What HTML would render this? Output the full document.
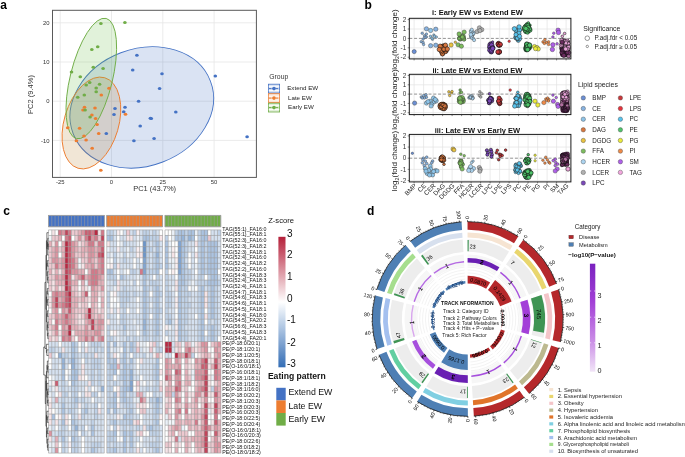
<!DOCTYPE html>
<html><head><meta charset="utf-8"><style>html,body{margin:0;padding:0;background:#fff;width:685px;height:457px;overflow:hidden}svg{display:block;will-change:transform}text{font-family:"Liberation Sans",sans-serif}</style></head><body>
<svg width="685" height="457" viewBox="0 0 685 457" font-family="Liberation Sans, sans-serif">
<rect width="685" height="457" fill="#fff"/>
<text x="0.30" y="8.90" font-size="12" text-anchor="start" font-weight="bold" fill="#000">a</text>
<text x="364.50" y="9.10" font-size="12" text-anchor="start" font-weight="bold" fill="#000">b</text>
<text x="3.30" y="214.80" font-size="12" text-anchor="start" font-weight="bold" fill="#000">c</text>
<text x="367.00" y="215.00" font-size="12" text-anchor="start" font-weight="bold" fill="#000">d</text>
<rect x="52.5" y="10.3" width="203.89999999999998" height="167.1" fill="#fff"/>
<line x1="60.20" y1="10.3" x2="60.20" y2="177.4" stroke="#e6e6e6" stroke-width="0.8"/>
<line x1="111.50" y1="10.3" x2="111.50" y2="177.4" stroke="#e6e6e6" stroke-width="0.8"/>
<line x1="162.80" y1="10.3" x2="162.80" y2="177.4" stroke="#e6e6e6" stroke-width="0.8"/>
<line x1="214.10" y1="10.3" x2="214.10" y2="177.4" stroke="#e6e6e6" stroke-width="0.8"/>
<line x1="52.5" y1="22.80" x2="256.4" y2="22.80" stroke="#e6e6e6" stroke-width="0.8"/>
<line x1="52.5" y1="62.00" x2="256.4" y2="62.00" stroke="#e6e6e6" stroke-width="0.8"/>
<line x1="52.5" y1="101.20" x2="256.4" y2="101.20" stroke="#e6e6e6" stroke-width="0.8"/>
<line x1="52.5" y1="140.40" x2="256.4" y2="140.40" stroke="#e6e6e6" stroke-width="0.8"/>
<ellipse cx="141.8" cy="107.4" rx="73.5" ry="58.5" transform="rotate(-21 141.8 107.4)" fill="#4472c4" fill-opacity="0.2" stroke="#4472c4" stroke-width="0.9"/>
<ellipse cx="91.4" cy="123" rx="27.3" ry="47.2" transform="rotate(16.4 91.4 123)" fill="#b98232" fill-opacity="0.2" stroke="#ed7d31" stroke-width="0.9"/>
<ellipse cx="91.3" cy="78.5" rx="21.1" ry="61.9" transform="rotate(13.9 91.3 78.5)" fill="#69be46" fill-opacity="0.2" stroke="#70ad47" stroke-width="0.9"/>
<ellipse cx="136.9" cy="55.2" rx="1.8" ry="1.5" fill="#4472c4"/>
<ellipse cx="132.7" cy="70" rx="1.8" ry="1.5" fill="#4472c4"/>
<ellipse cx="138.6" cy="101.2" rx="1.8" ry="1.5" fill="#4472c4"/>
<ellipse cx="115" cy="108.6" rx="1.8" ry="1.5" fill="#4472c4"/>
<ellipse cx="125" cy="107.2" rx="1.8" ry="1.5" fill="#4472c4"/>
<ellipse cx="123.7" cy="111.7" rx="1.8" ry="1.5" fill="#4472c4"/>
<ellipse cx="114" cy="114.6" rx="1.8" ry="1.5" fill="#4472c4"/>
<ellipse cx="150.4" cy="118.3" rx="1.8" ry="1.5" fill="#4472c4"/>
<ellipse cx="140.2" cy="126.1" rx="1.8" ry="1.5" fill="#4472c4"/>
<ellipse cx="106.3" cy="133.5" rx="1.8" ry="1.5" fill="#4472c4"/>
<ellipse cx="133.9" cy="140.8" rx="1.8" ry="1.5" fill="#4472c4"/>
<ellipse cx="162" cy="73.7" rx="1.8" ry="1.5" fill="#4472c4"/>
<ellipse cx="159.6" cy="88.4" rx="1.8" ry="1.5" fill="#4472c4"/>
<ellipse cx="175.8" cy="111.9" rx="1.8" ry="1.5" fill="#4472c4"/>
<ellipse cx="151.3" cy="118.4" rx="1.8" ry="1.5" fill="#4472c4"/>
<ellipse cx="154.1" cy="138.6" rx="1.8" ry="1.5" fill="#4472c4"/>
<ellipse cx="215.3" cy="76.1" rx="1.8" ry="1.5" fill="#4472c4"/>
<ellipse cx="247.1" cy="136.7" rx="1.8" ry="1.5" fill="#4472c4"/>
<ellipse cx="109" cy="88.3" rx="1.8" ry="1.5" fill="#ed7d31"/>
<ellipse cx="101.3" cy="94.9" rx="1.8" ry="1.5" fill="#ed7d31"/>
<ellipse cx="84.5" cy="107.2" rx="1.8" ry="1.5" fill="#ed7d31"/>
<ellipse cx="83" cy="109.9" rx="1.8" ry="1.5" fill="#ed7d31"/>
<ellipse cx="95" cy="108" rx="1.8" ry="1.5" fill="#ed7d31"/>
<ellipse cx="91.9" cy="115.1" rx="1.8" ry="1.5" fill="#ed7d31"/>
<ellipse cx="95.6" cy="118.5" rx="1.8" ry="1.5" fill="#ed7d31"/>
<ellipse cx="97.1" cy="124.6" rx="1.8" ry="1.5" fill="#ed7d31"/>
<ellipse cx="67.7" cy="127.7" rx="1.8" ry="1.5" fill="#ed7d31"/>
<ellipse cx="79.6" cy="128.2" rx="1.8" ry="1.5" fill="#ed7d31"/>
<ellipse cx="98.7" cy="133.5" rx="1.8" ry="1.5" fill="#ed7d31"/>
<ellipse cx="84" cy="136.1" rx="1.8" ry="1.5" fill="#ed7d31"/>
<ellipse cx="76.4" cy="140.8" rx="1.8" ry="1.5" fill="#ed7d31"/>
<ellipse cx="86.1" cy="140" rx="1.8" ry="1.5" fill="#ed7d31"/>
<ellipse cx="92.2" cy="148.2" rx="1.8" ry="1.5" fill="#ed7d31"/>
<ellipse cx="100.8" cy="170.2" rx="1.8" ry="1.5" fill="#ed7d31"/>
<ellipse cx="125.5" cy="114.3" rx="1.8" ry="1.5" fill="#ed7d31"/>
<ellipse cx="100.9" cy="23.6" rx="1.8" ry="1.5" fill="#70ad47"/>
<ellipse cx="124.9" cy="22.5" rx="1.8" ry="1.5" fill="#70ad47"/>
<ellipse cx="91.8" cy="49.4" rx="1.8" ry="1.5" fill="#70ad47"/>
<ellipse cx="97.7" cy="46.8" rx="1.8" ry="1.5" fill="#70ad47"/>
<ellipse cx="93.3" cy="67.2" rx="1.8" ry="1.5" fill="#70ad47"/>
<ellipse cx="103.1" cy="68.6" rx="1.8" ry="1.5" fill="#70ad47"/>
<ellipse cx="71.5" cy="71.9" rx="1.8" ry="1.5" fill="#70ad47"/>
<ellipse cx="80.3" cy="76.7" rx="1.8" ry="1.5" fill="#70ad47"/>
<ellipse cx="89.7" cy="82.5" rx="1.8" ry="1.5" fill="#70ad47"/>
<ellipse cx="86.2" cy="85.1" rx="1.8" ry="1.5" fill="#70ad47"/>
<ellipse cx="99.6" cy="84.3" rx="1.8" ry="1.5" fill="#70ad47"/>
<ellipse cx="96.2" cy="88.1" rx="1.8" ry="1.5" fill="#70ad47"/>
<ellipse cx="96.2" cy="91.8" rx="1.8" ry="1.5" fill="#70ad47"/>
<ellipse cx="84.3" cy="94.9" rx="1.8" ry="1.5" fill="#70ad47"/>
<ellipse cx="77.7" cy="97.3" rx="1.8" ry="1.5" fill="#70ad47"/>
<ellipse cx="85.1" cy="109.9" rx="1.8" ry="1.5" fill="#70ad47"/>
<ellipse cx="90.1" cy="117" rx="1.8" ry="1.5" fill="#70ad47"/>
<rect x="52.5" y="10.3" width="203.89999999999998" height="167.1" fill="none" stroke="#595959" stroke-width="1"/>
<text x="60.20" y="184.10" font-size="5.9" text-anchor="middle" fill="#333">-25</text>
<text x="111.50" y="184.10" font-size="5.9" text-anchor="middle" fill="#333">0</text>
<text x="162.80" y="184.10" font-size="5.9" text-anchor="middle" fill="#333">25</text>
<text x="214.10" y="184.10" font-size="5.9" text-anchor="middle" fill="#333">50</text>
<text x="49.60" y="24.90" font-size="5.9" text-anchor="end" fill="#333">20</text>
<text x="49.60" y="64.10" font-size="5.9" text-anchor="end" fill="#333">10</text>
<text x="49.60" y="103.30" font-size="5.9" text-anchor="end" fill="#333">0</text>
<text x="49.60" y="142.50" font-size="5.9" text-anchor="end" fill="#333">-10</text>
<text x="154.60" y="190.60" font-size="7.5" text-anchor="middle" fill="#333">PC1 (43.7%)</text>
<text x="33.40" y="94.50" font-size="7.5" text-anchor="middle" fill="#333" transform="rotate(-90 33.40 94.50)">PC2 (9.4%)</text>
<text x="269.30" y="79.30" font-size="6.8" text-anchor="start" fill="#333">Group</text>
<rect x="268.4" y="84.20" width="11.2" height="8.8" fill="#4472c4" fill-opacity="0.2" stroke="#4472c4" stroke-width="0.8"/>
<line x1="268.8" y1="86.70" x2="279.2" y2="86.70" stroke="#fff" stroke-width="0.9"/>
<line x1="268.8" y1="90.50" x2="279.2" y2="90.50" stroke="#fff" stroke-width="0.9"/>
<line x1="269" y1="88.60" x2="279" y2="88.60" stroke="#4472c4" stroke-width="1.0" stroke-dasharray="2.6 0.7"/>
<circle cx="274" cy="88.60" r="1.8" fill="#4472c4"/>
<text x="287.20" y="90.00" font-size="6.2" text-anchor="start" fill="#222">Extend EW</text>
<rect x="268.4" y="93.70" width="11.2" height="8.8" fill="#ed7d31" fill-opacity="0.2" stroke="#ed7d31" stroke-width="0.8"/>
<line x1="268.8" y1="96.20" x2="279.2" y2="96.20" stroke="#fff" stroke-width="0.9"/>
<line x1="268.8" y1="100.00" x2="279.2" y2="100.00" stroke="#fff" stroke-width="0.9"/>
<line x1="269" y1="98.10" x2="279" y2="98.10" stroke="#ed7d31" stroke-width="1.0" stroke-dasharray="2.6 0.7"/>
<circle cx="274" cy="98.10" r="1.8" fill="#ed7d31"/>
<text x="288.00" y="99.50" font-size="6.2" text-anchor="start" fill="#222">Late EW</text>
<rect x="268.4" y="103.20" width="11.2" height="8.8" fill="#70ad47" fill-opacity="0.2" stroke="#70ad47" stroke-width="0.8"/>
<line x1="268.8" y1="105.70" x2="279.2" y2="105.70" stroke="#fff" stroke-width="0.9"/>
<line x1="268.8" y1="109.50" x2="279.2" y2="109.50" stroke="#fff" stroke-width="0.9"/>
<line x1="269" y1="107.60" x2="279" y2="107.60" stroke="#70ad47" stroke-width="1.0" stroke-dasharray="2.6 0.7"/>
<circle cx="274" cy="107.60" r="1.8" fill="#70ad47"/>
<text x="288.00" y="109.00" font-size="6.2" text-anchor="start" fill="#222">Early EW</text>
<rect x="409.3" y="18.3" width="161.60" height="40.60" fill="#fff"/>
<line x1="414.10" y1="18.3" x2="414.10" y2="58.9" stroke="#e3e3e3" stroke-width="0.7"/>
<line x1="423.60" y1="18.3" x2="423.60" y2="58.9" stroke="#e3e3e3" stroke-width="0.7"/>
<line x1="433.10" y1="18.3" x2="433.10" y2="58.9" stroke="#e3e3e3" stroke-width="0.7"/>
<line x1="442.60" y1="18.3" x2="442.60" y2="58.9" stroke="#e3e3e3" stroke-width="0.7"/>
<line x1="452.10" y1="18.3" x2="452.10" y2="58.9" stroke="#e3e3e3" stroke-width="0.7"/>
<line x1="461.60" y1="18.3" x2="461.60" y2="58.9" stroke="#e3e3e3" stroke-width="0.7"/>
<line x1="471.10" y1="18.3" x2="471.10" y2="58.9" stroke="#e3e3e3" stroke-width="0.7"/>
<line x1="480.60" y1="18.3" x2="480.60" y2="58.9" stroke="#e3e3e3" stroke-width="0.7"/>
<line x1="490.10" y1="18.3" x2="490.10" y2="58.9" stroke="#e3e3e3" stroke-width="0.7"/>
<line x1="499.60" y1="18.3" x2="499.60" y2="58.9" stroke="#e3e3e3" stroke-width="0.7"/>
<line x1="509.10" y1="18.3" x2="509.10" y2="58.9" stroke="#e3e3e3" stroke-width="0.7"/>
<line x1="518.60" y1="18.3" x2="518.60" y2="58.9" stroke="#e3e3e3" stroke-width="0.7"/>
<line x1="528.10" y1="18.3" x2="528.10" y2="58.9" stroke="#e3e3e3" stroke-width="0.7"/>
<line x1="537.60" y1="18.3" x2="537.60" y2="58.9" stroke="#e3e3e3" stroke-width="0.7"/>
<line x1="547.10" y1="18.3" x2="547.10" y2="58.9" stroke="#e3e3e3" stroke-width="0.7"/>
<line x1="556.60" y1="18.3" x2="556.60" y2="58.9" stroke="#e3e3e3" stroke-width="0.7"/>
<line x1="566.10" y1="18.3" x2="566.10" y2="58.9" stroke="#e3e3e3" stroke-width="0.7"/>
<line x1="409.3" y1="19.60" x2="570.9" y2="19.60" stroke="#e3e3e3" stroke-width="0.7"/>
<line x1="409.3" y1="29.00" x2="570.9" y2="29.00" stroke="#e3e3e3" stroke-width="0.7"/>
<line x1="409.3" y1="47.80" x2="570.9" y2="47.80" stroke="#e3e3e3" stroke-width="0.7"/>
<line x1="409.3" y1="57.20" x2="570.9" y2="57.20" stroke="#e3e3e3" stroke-width="0.7"/>
<line x1="409.3" y1="38.40" x2="570.9" y2="38.40" stroke="#777" stroke-width="0.8" stroke-dasharray="3 1.8"/>
<circle cx="414.20" cy="51.60" r="2.1" fill="#6b8fd4" stroke="#333" stroke-width="0.4"/>
<circle cx="422.20" cy="33.20" r="1.25" fill="#87b2e0" stroke="#333" stroke-width="0.4"/>
<circle cx="426.40" cy="34.10" r="1.25" fill="#87b2e0" stroke="#333" stroke-width="0.4"/>
<circle cx="424.50" cy="35.80" r="1.25" fill="#87b2e0" stroke="#333" stroke-width="0.4"/>
<circle cx="426.40" cy="37.00" r="1.25" fill="#87b2e0" stroke="#333" stroke-width="0.4"/>
<circle cx="425.00" cy="37.20" r="1.25" fill="#87b2e0" stroke="#333" stroke-width="0.4"/>
<circle cx="423.10" cy="39.10" r="1.25" fill="#87b2e0" stroke="#333" stroke-width="0.4"/>
<circle cx="421.20" cy="41.70" r="1.25" fill="#87b2e0" stroke="#333" stroke-width="0.4"/>
<circle cx="423.10" cy="42.40" r="1.25" fill="#87b2e0" stroke="#333" stroke-width="0.4"/>
<circle cx="423.60" cy="44.50" r="1.25" fill="#87b2e0" stroke="#333" stroke-width="0.4"/>
<circle cx="430.50" cy="36.30" r="1.25" fill="#8ec4e8" stroke="#333" stroke-width="0.4"/>
<circle cx="433.90" cy="35.10" r="1.25" fill="#8ec4e8" stroke="#333" stroke-width="0.4"/>
<circle cx="436.30" cy="37.00" r="1.25" fill="#8ec4e8" stroke="#333" stroke-width="0.4"/>
<circle cx="432.50" cy="39.30" r="1.25" fill="#8ec4e8" stroke="#333" stroke-width="0.4"/>
<circle cx="432.00" cy="38.20" r="1.25" fill="#8ec4e8" stroke="#333" stroke-width="0.4"/>
<circle cx="434.40" cy="36.30" r="1.25" fill="#8ec4e8" stroke="#333" stroke-width="0.4"/>
<circle cx="426.40" cy="28.80" r="2.15" fill="#87b2e0" stroke="#333" stroke-width="0.4"/>
<circle cx="435.80" cy="29.20" r="2.15" fill="#87b2e0" stroke="#333" stroke-width="0.4"/>
<circle cx="430.60" cy="45.70" r="2.15" fill="#87b2e0" stroke="#333" stroke-width="0.4"/>
<circle cx="435.80" cy="45.20" r="2.15" fill="#87b2e0" stroke="#333" stroke-width="0.4"/>
<circle cx="430.60" cy="30.50" r="2.15" fill="#8ec4e8" stroke="#333" stroke-width="0.4"/>
<circle cx="442.95" cy="50.50" r="1.35" fill="#d8773f" stroke="#111" stroke-width="0.55"/>
<circle cx="443.10" cy="49.97" r="2.1" fill="#d8773f" stroke="#111" stroke-width="0.55"/>
<circle cx="441.47" cy="50.00" r="2.1" fill="#d8773f" stroke="#111" stroke-width="0.55"/>
<circle cx="442.16" cy="46.38" r="2.1" fill="#d8773f" stroke="#111" stroke-width="0.55"/>
<circle cx="444.71" cy="45.27" r="1.35" fill="#d8773f" stroke="#111" stroke-width="0.55"/>
<circle cx="446.00" cy="51.22" r="2.1" fill="#d8773f" stroke="#111" stroke-width="0.55"/>
<circle cx="443.46" cy="46.11" r="2.1" fill="#d8773f" stroke="#111" stroke-width="0.55"/>
<circle cx="443.09" cy="49.39" r="2.1" fill="#d8773f" stroke="#111" stroke-width="0.55"/>
<circle cx="443.41" cy="51.11" r="2.1" fill="#d8773f" stroke="#111" stroke-width="0.55"/>
<circle cx="444.24" cy="49.53" r="2.1" fill="#d8773f" stroke="#111" stroke-width="0.55"/>
<circle cx="445.27" cy="51.69" r="2.1" fill="#d8773f" stroke="#111" stroke-width="0.55"/>
<circle cx="441.73" cy="48.09" r="2.1" fill="#d8773f" stroke="#111" stroke-width="0.55"/>
<circle cx="444.84" cy="49.04" r="2.1" fill="#d8773f" stroke="#111" stroke-width="0.55"/>
<circle cx="442.64" cy="53.84" r="2.1" fill="#d8773f" stroke="#111" stroke-width="0.55"/>
<circle cx="446.29" cy="49.60" r="1.35" fill="#d8773f" stroke="#111" stroke-width="0.55"/>
<circle cx="442.71" cy="46.23" r="2.1" fill="#d8773f" stroke="#111" stroke-width="0.55"/>
<circle cx="444.92" cy="47.92" r="2.1" fill="#d8773f" stroke="#111" stroke-width="0.55"/>
<circle cx="442.33" cy="53.89" r="2.1" fill="#d8773f" stroke="#111" stroke-width="0.55"/>
<circle cx="441.08" cy="47.72" r="2.1" fill="#d8773f" stroke="#111" stroke-width="0.55"/>
<circle cx="441.43" cy="50.41" r="2.1" fill="#d8773f" stroke="#111" stroke-width="0.55"/>
<circle cx="441.51" cy="51.89" r="2.1" fill="#d8773f" stroke="#111" stroke-width="0.55"/>
<circle cx="444.13" cy="46.60" r="2.1" fill="#d8773f" stroke="#111" stroke-width="0.55"/>
<circle cx="441.20" cy="47.57" r="1.35" fill="#d8773f" stroke="#111" stroke-width="0.55"/>
<circle cx="445.06" cy="48.22" r="2.1" fill="#d8773f" stroke="#111" stroke-width="0.55"/>
<circle cx="441.62" cy="48.99" r="2.1" fill="#d8773f" stroke="#111" stroke-width="0.55"/>
<circle cx="444.34" cy="45.86" r="1.35" fill="#d8773f" stroke="#111" stroke-width="0.55"/>
<circle cx="441.64" cy="47.82" r="2.1" fill="#d8773f" stroke="#111" stroke-width="0.55"/>
<circle cx="442.31" cy="48.15" r="2.1" fill="#d8773f" stroke="#111" stroke-width="0.55"/>
<circle cx="440.92" cy="50.61" r="2.1" fill="#d8773f" stroke="#111" stroke-width="0.55"/>
<circle cx="443.89" cy="48.80" r="2.1" fill="#d8773f" stroke="#111" stroke-width="0.55"/>
<circle cx="445.96" cy="49.76" r="2.1" fill="#d8773f" stroke="#111" stroke-width="0.55"/>
<circle cx="445.43" cy="47.17" r="2.1" fill="#d8773f" stroke="#111" stroke-width="0.55"/>
<circle cx="441.85" cy="47.23" r="2.1" fill="#d8773f" stroke="#111" stroke-width="0.55"/>
<circle cx="443.90" cy="49.22" r="2.1" fill="#d8773f" stroke="#111" stroke-width="0.55"/>
<circle cx="440.20" cy="46.20" r="2.2" fill="#d8773f" stroke="#111" stroke-width="0.55"/>
<circle cx="445.40" cy="45.20" r="2.2" fill="#d8773f" stroke="#111" stroke-width="0.55"/>
<circle cx="447.30" cy="49.00" r="2.2" fill="#d8773f" stroke="#111" stroke-width="0.55"/>
<circle cx="439.30" cy="49.50" r="2.2" fill="#d8773f" stroke="#111" stroke-width="0.55"/>
<circle cx="451.10" cy="45.00" r="2.15" fill="#e8c240" stroke="#333" stroke-width="0.4"/>
<circle cx="455.30" cy="42.20" r="1.25" fill="#e8c240" stroke="#333" stroke-width="0.4"/>
<circle cx="460.36" cy="39.09" r="1.9" fill="#7cbc5e" stroke="#333" stroke-width="0.4"/>
<circle cx="463.47" cy="38.07" r="1.9" fill="#7cbc5e" stroke="#333" stroke-width="0.4"/>
<circle cx="460.03" cy="39.24" r="1.9" fill="#7cbc5e" stroke="#333" stroke-width="0.4"/>
<circle cx="460.01" cy="37.78" r="1.35" fill="#7cbc5e" stroke="#333" stroke-width="0.4"/>
<circle cx="462.48" cy="34.82" r="1.35" fill="#7cbc5e" stroke="#333" stroke-width="0.4"/>
<circle cx="460.53" cy="36.63" r="1.9" fill="#7cbc5e" stroke="#333" stroke-width="0.4"/>
<circle cx="459.68" cy="35.76" r="1.35" fill="#7cbc5e" stroke="#333" stroke-width="0.4"/>
<circle cx="459.39" cy="35.69" r="1.35" fill="#7cbc5e" stroke="#333" stroke-width="0.4"/>
<circle cx="462.76" cy="37.95" r="1.9" fill="#7cbc5e" stroke="#333" stroke-width="0.4"/>
<circle cx="464.38" cy="39.28" r="1.35" fill="#7cbc5e" stroke="#333" stroke-width="0.4"/>
<circle cx="459.21" cy="38.44" r="1.9" fill="#7cbc5e" stroke="#333" stroke-width="0.4"/>
<circle cx="463.23" cy="35.23" r="1.35" fill="#7cbc5e" stroke="#333" stroke-width="0.4"/>
<circle cx="459.03" cy="37.64" r="1.35" fill="#7cbc5e" stroke="#333" stroke-width="0.4"/>
<circle cx="464.31" cy="39.66" r="1.35" fill="#7cbc5e" stroke="#333" stroke-width="0.4"/>
<circle cx="460.80" cy="39.11" r="1.35" fill="#7cbc5e" stroke="#333" stroke-width="0.4"/>
<circle cx="464.13" cy="36.27" r="1.35" fill="#7cbc5e" stroke="#333" stroke-width="0.4"/>
<circle cx="464.08" cy="37.92" r="1.35" fill="#7cbc5e" stroke="#333" stroke-width="0.4"/>
<circle cx="461.00" cy="38.03" r="1.35" fill="#7cbc5e" stroke="#333" stroke-width="0.4"/>
<circle cx="459.06" cy="38.63" r="1.35" fill="#7cbc5e" stroke="#333" stroke-width="0.4"/>
<circle cx="463.76" cy="39.32" r="1.9" fill="#7cbc5e" stroke="#333" stroke-width="0.4"/>
<circle cx="463.00" cy="37.92" r="1.9" fill="#7cbc5e" stroke="#333" stroke-width="0.4"/>
<circle cx="462.29" cy="36.97" r="1.9" fill="#7cbc5e" stroke="#333" stroke-width="0.4"/>
<circle cx="458.10" cy="44.80" r="2.15" fill="#7cbc5e" stroke="#333" stroke-width="0.4"/>
<circle cx="461.40" cy="46.20" r="2.15" fill="#7cbc5e" stroke="#333" stroke-width="0.4"/>
<circle cx="459.10" cy="34.00" r="2.15" fill="#7cbc5e" stroke="#333" stroke-width="0.4"/>
<circle cx="464.20" cy="32.10" r="2.15" fill="#7cbc5e" stroke="#333" stroke-width="0.4"/>
<circle cx="472.85" cy="34.97" r="1.35" fill="#acd4f0" stroke="#333" stroke-width="0.4"/>
<circle cx="473.35" cy="32.75" r="1.9" fill="#acd4f0" stroke="#333" stroke-width="0.4"/>
<circle cx="471.36" cy="36.64" r="1.9" fill="#acd4f0" stroke="#333" stroke-width="0.4"/>
<circle cx="472.69" cy="34.40" r="1.35" fill="#acd4f0" stroke="#333" stroke-width="0.4"/>
<circle cx="471.45" cy="36.53" r="1.9" fill="#acd4f0" stroke="#333" stroke-width="0.4"/>
<circle cx="471.70" cy="38.15" r="1.35" fill="#acd4f0" stroke="#333" stroke-width="0.4"/>
<circle cx="473.64" cy="33.81" r="1.35" fill="#acd4f0" stroke="#333" stroke-width="0.4"/>
<circle cx="471.41" cy="31.65" r="1.9" fill="#acd4f0" stroke="#333" stroke-width="0.4"/>
<circle cx="473.45" cy="38.59" r="1.35" fill="#acd4f0" stroke="#333" stroke-width="0.4"/>
<circle cx="470.94" cy="34.55" r="1.9" fill="#acd4f0" stroke="#333" stroke-width="0.4"/>
<circle cx="470.80" cy="31.10" r="1.6" fill="#acd4f0" stroke="#333" stroke-width="0.4"/>
<circle cx="471.80" cy="29.70" r="1.6" fill="#acd4f0" stroke="#333" stroke-width="0.4"/>
<circle cx="474.10" cy="40.10" r="1.6" fill="#acd4f0" stroke="#333" stroke-width="0.4"/>
<circle cx="477.10" cy="31.60" r="2.1" fill="#b0b0b0" stroke="#333" stroke-width="0.4"/>
<circle cx="479.40" cy="27.80" r="2.1" fill="#b0b0b0" stroke="#333" stroke-width="0.4"/>
<circle cx="481.80" cy="29.70" r="2.1" fill="#b0b0b0" stroke="#333" stroke-width="0.4"/>
<circle cx="479.90" cy="30.60" r="2.1" fill="#b0b0b0" stroke="#333" stroke-width="0.4"/>
<circle cx="489.81" cy="47.38" r="2.2" fill="#7a48b8" stroke="#111" stroke-width="0.55"/>
<circle cx="490.88" cy="46.51" r="2.2" fill="#7a48b8" stroke="#111" stroke-width="0.55"/>
<circle cx="492.73" cy="47.73" r="2.2" fill="#7a48b8" stroke="#111" stroke-width="0.55"/>
<circle cx="491.17" cy="46.45" r="2.2" fill="#7a48b8" stroke="#111" stroke-width="0.55"/>
<circle cx="490.73" cy="43.92" r="2.2" fill="#7a48b8" stroke="#111" stroke-width="0.55"/>
<circle cx="489.90" cy="44.95" r="2.2" fill="#7a48b8" stroke="#111" stroke-width="0.55"/>
<circle cx="491.39" cy="47.67" r="2.2" fill="#7a48b8" stroke="#111" stroke-width="0.55"/>
<circle cx="491.75" cy="51.41" r="1.35" fill="#7a48b8" stroke="#111" stroke-width="0.55"/>
<circle cx="491.60" cy="45.47" r="2.2" fill="#7a48b8" stroke="#111" stroke-width="0.55"/>
<circle cx="490.79" cy="50.06" r="2.2" fill="#7a48b8" stroke="#111" stroke-width="0.55"/>
<circle cx="490.03" cy="46.78" r="2.2" fill="#7a48b8" stroke="#111" stroke-width="0.55"/>
<circle cx="490.98" cy="49.17" r="2.2" fill="#7a48b8" stroke="#111" stroke-width="0.55"/>
<circle cx="490.31" cy="51.24" r="1.35" fill="#7a48b8" stroke="#111" stroke-width="0.55"/>
<circle cx="491.75" cy="44.86" r="2.2" fill="#7a48b8" stroke="#111" stroke-width="0.55"/>
<circle cx="491.38" cy="51.80" r="2.2" fill="#7a48b8" stroke="#111" stroke-width="0.55"/>
<circle cx="491.16" cy="51.53" r="2.2" fill="#7a48b8" stroke="#111" stroke-width="0.55"/>
<circle cx="492.59" cy="47.83" r="2.2" fill="#7a48b8" stroke="#111" stroke-width="0.55"/>
<circle cx="489.78" cy="50.13" r="2.2" fill="#7a48b8" stroke="#111" stroke-width="0.55"/>
<circle cx="491.44" cy="50.09" r="2.2" fill="#7a48b8" stroke="#111" stroke-width="0.55"/>
<circle cx="492.71" cy="48.48" r="2.2" fill="#7a48b8" stroke="#111" stroke-width="0.55"/>
<circle cx="492.60" cy="42.00" r="1.2" fill="#7a48b8" stroke="#111" stroke-width="0.55"/>
<circle cx="498.52" cy="45.19" r="2.1" fill="#c8383a" stroke="#111" stroke-width="0.55"/>
<circle cx="498.62" cy="43.29" r="2.1" fill="#c8383a" stroke="#111" stroke-width="0.55"/>
<circle cx="499.33" cy="44.87" r="2.1" fill="#c8383a" stroke="#111" stroke-width="0.55"/>
<circle cx="498.01" cy="43.87" r="2.1" fill="#c8383a" stroke="#111" stroke-width="0.55"/>
<circle cx="499.21" cy="44.76" r="2.1" fill="#c8383a" stroke="#111" stroke-width="0.55"/>
<circle cx="499.81" cy="45.28" r="2.1" fill="#c8383a" stroke="#111" stroke-width="0.55"/>
<circle cx="498.17" cy="44.31" r="2.1" fill="#c8383a" stroke="#111" stroke-width="0.55"/>
<circle cx="499.95" cy="44.57" r="2.1" fill="#c8383a" stroke="#111" stroke-width="0.55"/>
<circle cx="500.35" cy="44.39" r="2.1" fill="#c8383a" stroke="#111" stroke-width="0.55"/>
<circle cx="498.56" cy="45.56" r="1.35" fill="#c8383a" stroke="#111" stroke-width="0.55"/>
<circle cx="498.29" cy="52.46" r="2.1" fill="#c8383a" stroke="#111" stroke-width="0.55"/>
<circle cx="499.33" cy="52.02" r="2.1" fill="#c8383a" stroke="#111" stroke-width="0.55"/>
<circle cx="499.37" cy="51.91" r="2.1" fill="#c8383a" stroke="#111" stroke-width="0.55"/>
<circle cx="499.30" cy="51.74" r="2.1" fill="#c8383a" stroke="#111" stroke-width="0.55"/>
<circle cx="499.46" cy="51.89" r="2.1" fill="#c8383a" stroke="#111" stroke-width="0.55"/>
<circle cx="497.82" cy="51.96" r="2.1" fill="#c8383a" stroke="#111" stroke-width="0.55"/>
<circle cx="509.20" cy="41.30" r="1.25" fill="#e5343c" stroke="#333" stroke-width="0.4"/>
<circle cx="516.50" cy="34.13" r="2.1" fill="#58c3ec" stroke="#333" stroke-width="0.55"/>
<circle cx="517.26" cy="39.33" r="1.35" fill="#58c3ec" stroke="#333" stroke-width="0.55"/>
<circle cx="517.58" cy="31.98" r="2.1" fill="#58c3ec" stroke="#333" stroke-width="0.55"/>
<circle cx="518.31" cy="40.37" r="2.1" fill="#58c3ec" stroke="#333" stroke-width="0.55"/>
<circle cx="515.65" cy="30.33" r="1.35" fill="#58c3ec" stroke="#333" stroke-width="0.55"/>
<circle cx="516.51" cy="32.29" r="1.35" fill="#58c3ec" stroke="#333" stroke-width="0.55"/>
<circle cx="515.65" cy="37.69" r="2.1" fill="#58c3ec" stroke="#333" stroke-width="0.55"/>
<circle cx="517.75" cy="31.06" r="2.1" fill="#58c3ec" stroke="#333" stroke-width="0.55"/>
<circle cx="517.86" cy="33.63" r="2.1" fill="#58c3ec" stroke="#333" stroke-width="0.55"/>
<circle cx="517.25" cy="34.90" r="2.1" fill="#58c3ec" stroke="#333" stroke-width="0.55"/>
<circle cx="515.72" cy="36.51" r="1.35" fill="#58c3ec" stroke="#333" stroke-width="0.55"/>
<circle cx="517.90" cy="39.87" r="1.35" fill="#58c3ec" stroke="#333" stroke-width="0.55"/>
<circle cx="520.09" cy="30.41" r="1.35" fill="#58c3ec" stroke="#333" stroke-width="0.55"/>
<circle cx="516.47" cy="31.67" r="1.35" fill="#58c3ec" stroke="#333" stroke-width="0.55"/>
<circle cx="516.34" cy="37.63" r="2.1" fill="#58c3ec" stroke="#333" stroke-width="0.55"/>
<circle cx="517.29" cy="38.50" r="2.1" fill="#58c3ec" stroke="#333" stroke-width="0.55"/>
<circle cx="517.19" cy="37.06" r="2.1" fill="#58c3ec" stroke="#333" stroke-width="0.55"/>
<circle cx="515.70" cy="37.29" r="1.35" fill="#58c3ec" stroke="#333" stroke-width="0.55"/>
<circle cx="517.73" cy="38.06" r="2.1" fill="#58c3ec" stroke="#333" stroke-width="0.55"/>
<circle cx="518.67" cy="30.21" r="2.1" fill="#58c3ec" stroke="#333" stroke-width="0.55"/>
<circle cx="517.97" cy="34.70" r="2.1" fill="#58c3ec" stroke="#333" stroke-width="0.55"/>
<circle cx="515.86" cy="30.15" r="2.1" fill="#58c3ec" stroke="#333" stroke-width="0.55"/>
<circle cx="517.50" cy="38.15" r="2.1" fill="#58c3ec" stroke="#333" stroke-width="0.55"/>
<circle cx="517.53" cy="34.71" r="2.1" fill="#58c3ec" stroke="#333" stroke-width="0.55"/>
<circle cx="518.38" cy="27.05" r="1.35" fill="#58c3ec" stroke="#333" stroke-width="0.55"/>
<circle cx="519.49" cy="30.10" r="2.1" fill="#58c3ec" stroke="#333" stroke-width="0.55"/>
<circle cx="518.94" cy="33.19" r="2.1" fill="#58c3ec" stroke="#333" stroke-width="0.55"/>
<circle cx="515.96" cy="34.67" r="2.1" fill="#58c3ec" stroke="#333" stroke-width="0.55"/>
<circle cx="520.33" cy="39.12" r="1.35" fill="#58c3ec" stroke="#333" stroke-width="0.55"/>
<circle cx="519.58" cy="36.29" r="2.1" fill="#58c3ec" stroke="#333" stroke-width="0.55"/>
<circle cx="519.10" cy="26.90" r="2.2" fill="#58c3ec" stroke="#333" stroke-width="0.55"/>
<circle cx="514.40" cy="28.80" r="2.2" fill="#58c3ec" stroke="#333" stroke-width="0.55"/>
<circle cx="528.21" cy="27.80" r="1.35" fill="#4fc46a" stroke="#111" stroke-width="0.55"/>
<circle cx="529.87" cy="25.14" r="1.35" fill="#4fc46a" stroke="#111" stroke-width="0.55"/>
<circle cx="528.96" cy="30.28" r="2.2" fill="#4fc46a" stroke="#111" stroke-width="0.55"/>
<circle cx="526.80" cy="31.36" r="2.2" fill="#4fc46a" stroke="#111" stroke-width="0.55"/>
<circle cx="528.65" cy="30.18" r="2.2" fill="#4fc46a" stroke="#111" stroke-width="0.55"/>
<circle cx="526.80" cy="29.78" r="2.2" fill="#4fc46a" stroke="#111" stroke-width="0.55"/>
<circle cx="526.39" cy="27.47" r="2.2" fill="#4fc46a" stroke="#111" stroke-width="0.55"/>
<circle cx="526.48" cy="29.01" r="2.2" fill="#4fc46a" stroke="#111" stroke-width="0.55"/>
<circle cx="528.46" cy="26.27" r="2.2" fill="#4fc46a" stroke="#111" stroke-width="0.55"/>
<circle cx="527.85" cy="28.05" r="2.2" fill="#4fc46a" stroke="#111" stroke-width="0.55"/>
<circle cx="529.03" cy="30.58" r="1.35" fill="#4fc46a" stroke="#111" stroke-width="0.55"/>
<circle cx="524.35" cy="28.80" r="2.2" fill="#4fc46a" stroke="#111" stroke-width="0.55"/>
<circle cx="525.84" cy="26.85" r="2.2" fill="#4fc46a" stroke="#111" stroke-width="0.55"/>
<circle cx="525.45" cy="26.62" r="2.2" fill="#4fc46a" stroke="#111" stroke-width="0.55"/>
<circle cx="525.81" cy="31.44" r="2.2" fill="#4fc46a" stroke="#111" stroke-width="0.55"/>
<circle cx="527.45" cy="32.00" r="2.2" fill="#4fc46a" stroke="#111" stroke-width="0.55"/>
<circle cx="528.02" cy="30.11" r="2.2" fill="#4fc46a" stroke="#111" stroke-width="0.55"/>
<circle cx="527.22" cy="24.74" r="2.2" fill="#4fc46a" stroke="#111" stroke-width="0.55"/>
<circle cx="528.30" cy="22.98" r="1.35" fill="#4fc46a" stroke="#111" stroke-width="0.55"/>
<circle cx="526.89" cy="27.99" r="2.2" fill="#4fc46a" stroke="#111" stroke-width="0.55"/>
<circle cx="526.54" cy="25.80" r="2.2" fill="#4fc46a" stroke="#111" stroke-width="0.55"/>
<circle cx="527.79" cy="25.78" r="2.2" fill="#4fc46a" stroke="#111" stroke-width="0.55"/>
<circle cx="525.20" cy="30.07" r="2.2" fill="#4fc46a" stroke="#111" stroke-width="0.55"/>
<circle cx="529.94" cy="30.01" r="2.2" fill="#4fc46a" stroke="#111" stroke-width="0.55"/>
<circle cx="526.83" cy="27.51" r="1.35" fill="#4fc46a" stroke="#111" stroke-width="0.55"/>
<circle cx="525.32" cy="28.00" r="1.35" fill="#4fc46a" stroke="#111" stroke-width="0.55"/>
<circle cx="529.20" cy="27.41" r="1.35" fill="#4fc46a" stroke="#111" stroke-width="0.55"/>
<circle cx="529.43" cy="28.69" r="2.2" fill="#4fc46a" stroke="#111" stroke-width="0.55"/>
<circle cx="528.20" cy="27.35" r="2.2" fill="#4fc46a" stroke="#111" stroke-width="0.55"/>
<circle cx="524.53" cy="28.01" r="2.2" fill="#4fc46a" stroke="#111" stroke-width="0.55"/>
<circle cx="527.03" cy="29.28" r="2.2" fill="#4fc46a" stroke="#111" stroke-width="0.55"/>
<circle cx="525.88" cy="28.50" r="2.2" fill="#4fc46a" stroke="#111" stroke-width="0.55"/>
<circle cx="529.57" cy="47.45" r="1.35" fill="#4fc46a" stroke="#111" stroke-width="0.55"/>
<circle cx="526.67" cy="44.10" r="2.2" fill="#4fc46a" stroke="#111" stroke-width="0.55"/>
<circle cx="529.13" cy="48.14" r="2.2" fill="#4fc46a" stroke="#111" stroke-width="0.55"/>
<circle cx="526.82" cy="48.61" r="2.2" fill="#4fc46a" stroke="#111" stroke-width="0.55"/>
<circle cx="528.26" cy="48.20" r="2.2" fill="#4fc46a" stroke="#111" stroke-width="0.55"/>
<circle cx="525.93" cy="44.74" r="1.35" fill="#4fc46a" stroke="#111" stroke-width="0.55"/>
<circle cx="526.82" cy="46.56" r="2.2" fill="#4fc46a" stroke="#111" stroke-width="0.55"/>
<circle cx="526.06" cy="47.48" r="2.2" fill="#4fc46a" stroke="#111" stroke-width="0.55"/>
<circle cx="525.99" cy="48.54" r="2.2" fill="#4fc46a" stroke="#111" stroke-width="0.55"/>
<circle cx="528.44" cy="46.15" r="2.2" fill="#4fc46a" stroke="#111" stroke-width="0.55"/>
<circle cx="526.55" cy="45.92" r="2.2" fill="#4fc46a" stroke="#111" stroke-width="0.55"/>
<circle cx="526.14" cy="49.59" r="2.2" fill="#4fc46a" stroke="#111" stroke-width="0.55"/>
<circle cx="529.06" cy="44.88" r="2.2" fill="#4fc46a" stroke="#111" stroke-width="0.55"/>
<circle cx="526.76" cy="49.60" r="2.2" fill="#4fc46a" stroke="#111" stroke-width="0.55"/>
<circle cx="527.06" cy="47.53" r="2.2" fill="#4fc46a" stroke="#111" stroke-width="0.55"/>
<circle cx="529.74" cy="46.58" r="2.2" fill="#4fc46a" stroke="#111" stroke-width="0.55"/>
<circle cx="528.14" cy="47.03" r="2.2" fill="#4fc46a" stroke="#111" stroke-width="0.55"/>
<circle cx="526.94" cy="49.33" r="2.2" fill="#4fc46a" stroke="#111" stroke-width="0.55"/>
<circle cx="526.56" cy="48.43" r="2.2" fill="#4fc46a" stroke="#111" stroke-width="0.55"/>
<circle cx="526.97" cy="48.93" r="2.2" fill="#4fc46a" stroke="#111" stroke-width="0.55"/>
<circle cx="526.87" cy="44.33" r="2.2" fill="#4fc46a" stroke="#111" stroke-width="0.55"/>
<circle cx="528.87" cy="46.09" r="2.2" fill="#4fc46a" stroke="#111" stroke-width="0.55"/>
<circle cx="529.15" cy="47.82" r="1.35" fill="#4fc46a" stroke="#111" stroke-width="0.55"/>
<circle cx="527.57" cy="49.54" r="2.2" fill="#4fc46a" stroke="#111" stroke-width="0.55"/>
<circle cx="526.72" cy="46.19" r="1.35" fill="#4fc46a" stroke="#111" stroke-width="0.55"/>
<circle cx="529.63" cy="45.16" r="2.2" fill="#4fc46a" stroke="#111" stroke-width="0.55"/>
<circle cx="534.50" cy="46.50" r="2.1" fill="#ecec3c" stroke="#333" stroke-width="0.4"/>
<circle cx="537.00" cy="47.50" r="2.1" fill="#ecec3c" stroke="#333" stroke-width="0.4"/>
<circle cx="538.30" cy="49.00" r="2.1" fill="#ecec3c" stroke="#333" stroke-width="0.4"/>
<circle cx="535.50" cy="48.70" r="2.1" fill="#ecec3c" stroke="#333" stroke-width="0.4"/>
<circle cx="544.90" cy="39.60" r="1.3" fill="#ee8a48" stroke="#333" stroke-width="0.4"/>
<circle cx="543.00" cy="41.90" r="1.3" fill="#ee8a48" stroke="#333" stroke-width="0.4"/>
<circle cx="546.30" cy="42.40" r="1.3" fill="#ee8a48" stroke="#333" stroke-width="0.4"/>
<circle cx="548.60" cy="41.90" r="1.3" fill="#ee8a48" stroke="#333" stroke-width="0.4"/>
<circle cx="548.60" cy="44.50" r="1.3" fill="#ee8a48" stroke="#333" stroke-width="0.4"/>
<circle cx="544.40" cy="43.40" r="1.3" fill="#ee8a48" stroke="#333" stroke-width="0.4"/>
<circle cx="558.10" cy="30.20" r="2.2" fill="#b060ea" stroke="#333" stroke-width="0.4"/>
<circle cx="558.50" cy="32.50" r="2.2" fill="#b060ea" stroke="#333" stroke-width="0.4"/>
<circle cx="552.90" cy="44.80" r="2.2" fill="#b060ea" stroke="#333" stroke-width="0.4"/>
<circle cx="552.40" cy="49.50" r="2.2" fill="#b060ea" stroke="#333" stroke-width="0.4"/>
<circle cx="553.80" cy="33.20" r="1.3" fill="#b060ea" stroke="#333" stroke-width="0.4"/>
<circle cx="552.90" cy="37.00" r="1.3" fill="#b060ea" stroke="#333" stroke-width="0.4"/>
<circle cx="557.10" cy="43.80" r="1.3" fill="#b060ea" stroke="#333" stroke-width="0.4"/>
<circle cx="564.60" cy="33.50" r="1.3" fill="#f2a6de" stroke="#111" stroke-width="0.55"/>
<circle cx="562.30" cy="36.30" r="1.3" fill="#f2a6de" stroke="#111" stroke-width="0.55"/>
<circle cx="563.20" cy="39.60" r="1.3" fill="#f2a6de" stroke="#111" stroke-width="0.55"/>
<rect x="559.90" y="39.00" width="10.10" height="18.20" rx="3.5" fill="#3a1733"/>
<circle cx="567.24" cy="49.01" r="1.3" fill="#e8a2d8" stroke="#111" stroke-width="0.5"/>
<circle cx="562.52" cy="43.11" r="2.1" fill="#e8a2d8" stroke="#111" stroke-width="0.5"/>
<circle cx="567.32" cy="44.86" r="1.8" fill="#e8a2d8" stroke="#111" stroke-width="0.5"/>
<circle cx="562.61" cy="45.84" r="1.3" fill="#e8a2d8" stroke="#111" stroke-width="0.5"/>
<circle cx="561.93" cy="46.87" r="1.3" fill="#e8a2d8" stroke="#111" stroke-width="0.5"/>
<circle cx="561.66" cy="40.51" r="2.1" fill="#e8a2d8" stroke="#111" stroke-width="0.5"/>
<circle cx="568.59" cy="48.54" r="1.8" fill="#e8a2d8" stroke="#111" stroke-width="0.5"/>
<circle cx="562.47" cy="48.42" r="1.3" fill="#e8a2d8" stroke="#111" stroke-width="0.5"/>
<circle cx="567.52" cy="41.65" r="1.8" fill="#e8a2d8" stroke="#111" stroke-width="0.5"/>
<circle cx="561.34" cy="47.54" r="1.3" fill="#b070a0" stroke="#111" stroke-width="0.5"/>
<circle cx="561.78" cy="48.62" r="2.1" fill="#4a1f44" stroke="#111" stroke-width="0.5"/>
<circle cx="568.57" cy="56.11" r="1.3" fill="#b070a0" stroke="#111" stroke-width="0.5"/>
<circle cx="567.39" cy="53.68" r="2.1" fill="#4a1f44" stroke="#111" stroke-width="0.5"/>
<circle cx="565.74" cy="42.93" r="1.3" fill="#8a3f7c" stroke="#111" stroke-width="0.5"/>
<circle cx="566.44" cy="41.17" r="1.3" fill="#e8a2d8" stroke="#111" stroke-width="0.5"/>
<circle cx="563.09" cy="45.65" r="1.8" fill="#e8a2d8" stroke="#111" stroke-width="0.5"/>
<circle cx="562.61" cy="51.20" r="1.8" fill="#4a1f44" stroke="#111" stroke-width="0.5"/>
<circle cx="567.03" cy="40.65" r="1.8" fill="#e8a2d8" stroke="#111" stroke-width="0.5"/>
<circle cx="564.37" cy="46.63" r="1.3" fill="#b070a0" stroke="#111" stroke-width="0.5"/>
<circle cx="565.00" cy="45.61" r="1.3" fill="#b070a0" stroke="#111" stroke-width="0.5"/>
<circle cx="564.89" cy="41.12" r="1.8" fill="#e8a2d8" stroke="#111" stroke-width="0.5"/>
<circle cx="568.43" cy="45.88" r="1.3" fill="#e8a2d8" stroke="#111" stroke-width="0.5"/>
<circle cx="568.29" cy="46.74" r="2.1" fill="#e8a2d8" stroke="#111" stroke-width="0.5"/>
<circle cx="562.80" cy="45.95" r="1.8" fill="#4a1f44" stroke="#111" stroke-width="0.5"/>
<circle cx="565.60" cy="44.34" r="2.1" fill="#6a2c5e" stroke="#111" stroke-width="0.5"/>
<circle cx="565.80" cy="43.40" r="2.1" fill="#e8a2d8" stroke="#111" stroke-width="0.5"/>
<circle cx="567.99" cy="43.82" r="1.8" fill="#e8a2d8" stroke="#111" stroke-width="0.5"/>
<circle cx="561.89" cy="52.46" r="2.1" fill="#6a2c5e" stroke="#111" stroke-width="0.5"/>
<circle cx="566.16" cy="41.90" r="1.8" fill="#e8a2d8" stroke="#111" stroke-width="0.5"/>
<circle cx="561.22" cy="45.35" r="2.1" fill="#e8a2d8" stroke="#111" stroke-width="0.5"/>
<circle cx="563.75" cy="55.38" r="2.1" fill="#6a2c5e" stroke="#111" stroke-width="0.5"/>
<circle cx="565.97" cy="43.28" r="1.8" fill="#e8a2d8" stroke="#111" stroke-width="0.5"/>
<circle cx="564.99" cy="45.91" r="1.3" fill="#e8a2d8" stroke="#111" stroke-width="0.5"/>
<circle cx="568.57" cy="56.08" r="1.8" fill="#b070a0" stroke="#111" stroke-width="0.5"/>
<circle cx="567.48" cy="51.36" r="1.3" fill="#6a2c5e" stroke="#111" stroke-width="0.5"/>
<circle cx="568.80" cy="52.80" r="2.1" fill="#8a3f7c" stroke="#111" stroke-width="0.5"/>
<circle cx="568.72" cy="43.36" r="1.3" fill="#e8a2d8" stroke="#111" stroke-width="0.5"/>
<circle cx="565.07" cy="47.21" r="1.3" fill="#e8a2d8" stroke="#111" stroke-width="0.5"/>
<circle cx="562.38" cy="50.09" r="2.1" fill="#4a1f44" stroke="#111" stroke-width="0.5"/>
<circle cx="567.35" cy="52.57" r="1.8" fill="#6a2c5e" stroke="#111" stroke-width="0.5"/>
<circle cx="564.71" cy="47.80" r="1.3" fill="#e8a2d8" stroke="#111" stroke-width="0.5"/>
<circle cx="561.94" cy="45.09" r="1.3" fill="#e8a2d8" stroke="#111" stroke-width="0.5"/>
<circle cx="567.08" cy="49.06" r="2.1" fill="#e8a2d8" stroke="#111" stroke-width="0.5"/>
<circle cx="562.06" cy="42.10" r="2.1" fill="#6a2c5e" stroke="#111" stroke-width="0.5"/>
<circle cx="565.04" cy="47.05" r="1.3" fill="#e8a2d8" stroke="#111" stroke-width="0.5"/>
<circle cx="565.65" cy="48.98" r="2.1" fill="#e8a2d8" stroke="#111" stroke-width="0.5"/>
<rect x="409.3" y="18.3" width="161.60" height="40.60" fill="none" stroke="#1a1a1a" stroke-width="1"/>
<line x1="407.7" y1="19.60" x2="409.3" y2="19.60" stroke="#333" stroke-width="0.6"/>
<text x="406.30" y="21.80" font-size="6.4" text-anchor="end" fill="#333">2</text>
<line x1="407.7" y1="29.00" x2="409.3" y2="29.00" stroke="#333" stroke-width="0.6"/>
<text x="406.30" y="31.20" font-size="6.4" text-anchor="end" fill="#333">1</text>
<line x1="407.7" y1="38.40" x2="409.3" y2="38.40" stroke="#333" stroke-width="0.6"/>
<text x="406.30" y="40.60" font-size="6.4" text-anchor="end" fill="#333">0</text>
<line x1="407.7" y1="47.80" x2="409.3" y2="47.80" stroke="#333" stroke-width="0.6"/>
<text x="406.30" y="50.00" font-size="6.4" text-anchor="end" fill="#333">-1</text>
<line x1="407.7" y1="57.20" x2="409.3" y2="57.20" stroke="#333" stroke-width="0.6"/>
<text x="406.30" y="59.40" font-size="6.4" text-anchor="end" fill="#333">-2</text>
<line x1="414.10" y1="58.9" x2="414.10" y2="60.4" stroke="#333" stroke-width="0.6"/>
<line x1="423.60" y1="58.9" x2="423.60" y2="60.4" stroke="#333" stroke-width="0.6"/>
<line x1="433.10" y1="58.9" x2="433.10" y2="60.4" stroke="#333" stroke-width="0.6"/>
<line x1="442.60" y1="58.9" x2="442.60" y2="60.4" stroke="#333" stroke-width="0.6"/>
<line x1="452.10" y1="58.9" x2="452.10" y2="60.4" stroke="#333" stroke-width="0.6"/>
<line x1="461.60" y1="58.9" x2="461.60" y2="60.4" stroke="#333" stroke-width="0.6"/>
<line x1="471.10" y1="58.9" x2="471.10" y2="60.4" stroke="#333" stroke-width="0.6"/>
<line x1="480.60" y1="58.9" x2="480.60" y2="60.4" stroke="#333" stroke-width="0.6"/>
<line x1="490.10" y1="58.9" x2="490.10" y2="60.4" stroke="#333" stroke-width="0.6"/>
<line x1="499.60" y1="58.9" x2="499.60" y2="60.4" stroke="#333" stroke-width="0.6"/>
<line x1="509.10" y1="58.9" x2="509.10" y2="60.4" stroke="#333" stroke-width="0.6"/>
<line x1="518.60" y1="58.9" x2="518.60" y2="60.4" stroke="#333" stroke-width="0.6"/>
<line x1="528.10" y1="58.9" x2="528.10" y2="60.4" stroke="#333" stroke-width="0.6"/>
<line x1="537.60" y1="58.9" x2="537.60" y2="60.4" stroke="#333" stroke-width="0.6"/>
<line x1="547.10" y1="58.9" x2="547.10" y2="60.4" stroke="#333" stroke-width="0.6"/>
<line x1="556.60" y1="58.9" x2="556.60" y2="60.4" stroke="#333" stroke-width="0.6"/>
<line x1="566.10" y1="58.9" x2="566.10" y2="60.4" stroke="#333" stroke-width="0.6"/>
<text x="477.40" y="15.20" font-size="7.5" text-anchor="middle" font-weight="bold" fill="#111">i: Early EW vs Extend EW</text>
<text x="396.8" y="39.50" font-size="8.0" text-anchor="middle" fill="#222" transform="rotate(-90 396.8 39.50)">log<tspan font-size="5.3" dy="1.8">2</tspan><tspan dy="-1.8">(fold change)</tspan></text>
<rect x="409.3" y="74.3" width="161.60" height="40.30" fill="#fff"/>
<line x1="414.10" y1="74.3" x2="414.10" y2="114.6" stroke="#e3e3e3" stroke-width="0.7"/>
<line x1="423.60" y1="74.3" x2="423.60" y2="114.6" stroke="#e3e3e3" stroke-width="0.7"/>
<line x1="433.10" y1="74.3" x2="433.10" y2="114.6" stroke="#e3e3e3" stroke-width="0.7"/>
<line x1="442.60" y1="74.3" x2="442.60" y2="114.6" stroke="#e3e3e3" stroke-width="0.7"/>
<line x1="452.10" y1="74.3" x2="452.10" y2="114.6" stroke="#e3e3e3" stroke-width="0.7"/>
<line x1="461.60" y1="74.3" x2="461.60" y2="114.6" stroke="#e3e3e3" stroke-width="0.7"/>
<line x1="471.10" y1="74.3" x2="471.10" y2="114.6" stroke="#e3e3e3" stroke-width="0.7"/>
<line x1="480.60" y1="74.3" x2="480.60" y2="114.6" stroke="#e3e3e3" stroke-width="0.7"/>
<line x1="490.10" y1="74.3" x2="490.10" y2="114.6" stroke="#e3e3e3" stroke-width="0.7"/>
<line x1="499.60" y1="74.3" x2="499.60" y2="114.6" stroke="#e3e3e3" stroke-width="0.7"/>
<line x1="509.10" y1="74.3" x2="509.10" y2="114.6" stroke="#e3e3e3" stroke-width="0.7"/>
<line x1="518.60" y1="74.3" x2="518.60" y2="114.6" stroke="#e3e3e3" stroke-width="0.7"/>
<line x1="528.10" y1="74.3" x2="528.10" y2="114.6" stroke="#e3e3e3" stroke-width="0.7"/>
<line x1="537.60" y1="74.3" x2="537.60" y2="114.6" stroke="#e3e3e3" stroke-width="0.7"/>
<line x1="547.10" y1="74.3" x2="547.10" y2="114.6" stroke="#e3e3e3" stroke-width="0.7"/>
<line x1="556.60" y1="74.3" x2="556.60" y2="114.6" stroke="#e3e3e3" stroke-width="0.7"/>
<line x1="566.10" y1="74.3" x2="566.10" y2="114.6" stroke="#e3e3e3" stroke-width="0.7"/>
<line x1="409.3" y1="75.50" x2="570.9" y2="75.50" stroke="#e3e3e3" stroke-width="0.7"/>
<line x1="409.3" y1="84.80" x2="570.9" y2="84.80" stroke="#e3e3e3" stroke-width="0.7"/>
<line x1="409.3" y1="103.40" x2="570.9" y2="103.40" stroke="#e3e3e3" stroke-width="0.7"/>
<line x1="409.3" y1="112.70" x2="570.9" y2="112.70" stroke="#e3e3e3" stroke-width="0.7"/>
<line x1="409.3" y1="94.10" x2="570.9" y2="94.10" stroke="#777" stroke-width="0.8" stroke-dasharray="3 1.8"/>
<circle cx="414.60" cy="103.10" r="2.15" fill="#6b8fd4" stroke="#333" stroke-width="0.4"/>
<circle cx="421.30" cy="97.00" r="1.3" fill="#87b2e0" stroke="#333" stroke-width="0.4"/>
<circle cx="423.60" cy="95.60" r="1.3" fill="#87b2e0" stroke="#333" stroke-width="0.4"/>
<circle cx="426.00" cy="94.80" r="1.3" fill="#87b2e0" stroke="#333" stroke-width="0.4"/>
<circle cx="426.40" cy="97.30" r="1.3" fill="#87b2e0" stroke="#333" stroke-width="0.4"/>
<circle cx="424.50" cy="98.00" r="1.3" fill="#87b2e0" stroke="#333" stroke-width="0.4"/>
<circle cx="422.20" cy="98.00" r="1.3" fill="#87b2e0" stroke="#333" stroke-width="0.4"/>
<circle cx="426.40" cy="103.10" r="2.1" fill="#8ec4e8" stroke="#333" stroke-width="0.4"/>
<circle cx="430.20" cy="101.20" r="2.1" fill="#8ec4e8" stroke="#333" stroke-width="0.4"/>
<circle cx="432.00" cy="104.00" r="2.1" fill="#8ec4e8" stroke="#333" stroke-width="0.4"/>
<circle cx="431.10" cy="106.00" r="2.1" fill="#8ec4e8" stroke="#333" stroke-width="0.4"/>
<circle cx="434.40" cy="101.70" r="2.1" fill="#8ec4e8" stroke="#333" stroke-width="0.4"/>
<circle cx="436.30" cy="100.80" r="2.1" fill="#8ec4e8" stroke="#333" stroke-width="0.4"/>
<circle cx="433.50" cy="98.00" r="2.1" fill="#8ec4e8" stroke="#333" stroke-width="0.4"/>
<circle cx="435.30" cy="99.50" r="2.1" fill="#8ec4e8" stroke="#333" stroke-width="0.4"/>
<circle cx="428.00" cy="101.70" r="2.1" fill="#8ec4e8" stroke="#333" stroke-width="0.4"/>
<circle cx="441.88" cy="105.55" r="2.1" fill="#d8773f" stroke="#111" stroke-width="0.55"/>
<circle cx="442.01" cy="104.51" r="2.1" fill="#d8773f" stroke="#111" stroke-width="0.55"/>
<circle cx="444.34" cy="106.65" r="2.1" fill="#d8773f" stroke="#111" stroke-width="0.55"/>
<circle cx="443.01" cy="104.39" r="2.1" fill="#d8773f" stroke="#111" stroke-width="0.55"/>
<circle cx="444.82" cy="105.05" r="2.1" fill="#d8773f" stroke="#111" stroke-width="0.55"/>
<circle cx="442.74" cy="106.67" r="2.1" fill="#d8773f" stroke="#111" stroke-width="0.55"/>
<circle cx="445.31" cy="107.34" r="2.1" fill="#d8773f" stroke="#111" stroke-width="0.55"/>
<circle cx="440.17" cy="106.69" r="2.1" fill="#d8773f" stroke="#111" stroke-width="0.55"/>
<circle cx="444.00" cy="108.87" r="2.1" fill="#d8773f" stroke="#111" stroke-width="0.55"/>
<circle cx="443.41" cy="104.19" r="2.1" fill="#d8773f" stroke="#111" stroke-width="0.55"/>
<circle cx="443.50" cy="104.82" r="2.1" fill="#d8773f" stroke="#111" stroke-width="0.55"/>
<circle cx="444.16" cy="106.53" r="2.1" fill="#d8773f" stroke="#111" stroke-width="0.55"/>
<circle cx="441.89" cy="105.15" r="1.35" fill="#d8773f" stroke="#111" stroke-width="0.55"/>
<circle cx="443.63" cy="106.36" r="2.1" fill="#d8773f" stroke="#111" stroke-width="0.55"/>
<circle cx="444.24" cy="108.00" r="1.35" fill="#d8773f" stroke="#111" stroke-width="0.55"/>
<circle cx="442.14" cy="108.42" r="2.1" fill="#d8773f" stroke="#111" stroke-width="0.55"/>
<circle cx="444.66" cy="108.30" r="2.1" fill="#d8773f" stroke="#111" stroke-width="0.55"/>
<circle cx="443.45" cy="106.55" r="2.1" fill="#d8773f" stroke="#111" stroke-width="0.55"/>
<circle cx="444.37" cy="105.91" r="2.1" fill="#d8773f" stroke="#111" stroke-width="0.55"/>
<circle cx="440.10" cy="108.26" r="1.35" fill="#d8773f" stroke="#111" stroke-width="0.55"/>
<circle cx="441.94" cy="104.34" r="2.1" fill="#d8773f" stroke="#111" stroke-width="0.55"/>
<circle cx="442.11" cy="104.80" r="1.35" fill="#d8773f" stroke="#111" stroke-width="0.55"/>
<circle cx="440.14" cy="105.21" r="2.1" fill="#d8773f" stroke="#111" stroke-width="0.55"/>
<circle cx="443.49" cy="108.11" r="2.1" fill="#d8773f" stroke="#111" stroke-width="0.55"/>
<circle cx="440.16" cy="106.14" r="2.1" fill="#d8773f" stroke="#111" stroke-width="0.55"/>
<circle cx="441.04" cy="104.76" r="2.1" fill="#d8773f" stroke="#111" stroke-width="0.55"/>
<circle cx="443.19" cy="104.69" r="2.1" fill="#d8773f" stroke="#111" stroke-width="0.55"/>
<circle cx="441.40" cy="104.37" r="2.1" fill="#d8773f" stroke="#111" stroke-width="0.55"/>
<circle cx="441.58" cy="106.70" r="2.1" fill="#d8773f" stroke="#111" stroke-width="0.55"/>
<circle cx="442.53" cy="104.91" r="2.1" fill="#d8773f" stroke="#111" stroke-width="0.55"/>
<circle cx="445.01" cy="105.42" r="2.1" fill="#d8773f" stroke="#111" stroke-width="0.55"/>
<circle cx="445.26" cy="106.29" r="2.1" fill="#d8773f" stroke="#111" stroke-width="0.55"/>
<circle cx="444.37" cy="105.69" r="2.1" fill="#d8773f" stroke="#111" stroke-width="0.55"/>
<circle cx="442.76" cy="104.66" r="1.35" fill="#d8773f" stroke="#111" stroke-width="0.55"/>
<circle cx="448.80" cy="91.80" r="1.25" fill="#e8c240" stroke="#333" stroke-width="0.4"/>
<circle cx="451.60" cy="92.80" r="1.25" fill="#e8c240" stroke="#333" stroke-width="0.4"/>
<circle cx="449.70" cy="95.60" r="1.25" fill="#e8c240" stroke="#333" stroke-width="0.4"/>
<circle cx="452.00" cy="91.50" r="1.25" fill="#e8c240" stroke="#333" stroke-width="0.4"/>
<circle cx="460.10" cy="90.00" r="1.3" fill="#7cbc5e" stroke="#333" stroke-width="0.4"/>
<circle cx="460.10" cy="92.80" r="1.3" fill="#7cbc5e" stroke="#333" stroke-width="0.4"/>
<circle cx="461.50" cy="92.30" r="1.3" fill="#7cbc5e" stroke="#333" stroke-width="0.4"/>
<circle cx="462.15" cy="98.38" r="2.1" fill="#7cbc5e" stroke="#333" stroke-width="0.4"/>
<circle cx="461.09" cy="99.11" r="2.1" fill="#7cbc5e" stroke="#333" stroke-width="0.4"/>
<circle cx="462.47" cy="100.37" r="2.1" fill="#7cbc5e" stroke="#333" stroke-width="0.4"/>
<circle cx="459.29" cy="98.84" r="2.1" fill="#7cbc5e" stroke="#333" stroke-width="0.4"/>
<circle cx="463.35" cy="99.89" r="2.1" fill="#7cbc5e" stroke="#333" stroke-width="0.4"/>
<circle cx="461.45" cy="97.91" r="2.1" fill="#7cbc5e" stroke="#333" stroke-width="0.4"/>
<circle cx="463.22" cy="101.54" r="2.1" fill="#7cbc5e" stroke="#333" stroke-width="0.4"/>
<circle cx="459.94" cy="100.97" r="2.1" fill="#7cbc5e" stroke="#333" stroke-width="0.4"/>
<circle cx="461.11" cy="99.58" r="1.35" fill="#7cbc5e" stroke="#333" stroke-width="0.4"/>
<circle cx="461.74" cy="101.73" r="2.1" fill="#7cbc5e" stroke="#333" stroke-width="0.4"/>
<circle cx="463.33" cy="99.23" r="1.35" fill="#7cbc5e" stroke="#333" stroke-width="0.4"/>
<circle cx="459.59" cy="100.03" r="2.1" fill="#7cbc5e" stroke="#333" stroke-width="0.4"/>
<circle cx="459.30" cy="101.59" r="2.1" fill="#7cbc5e" stroke="#333" stroke-width="0.4"/>
<circle cx="460.17" cy="97.51" r="2.1" fill="#7cbc5e" stroke="#333" stroke-width="0.4"/>
<circle cx="461.06" cy="100.96" r="2.1" fill="#7cbc5e" stroke="#333" stroke-width="0.4"/>
<circle cx="462.32" cy="97.67" r="2.1" fill="#7cbc5e" stroke="#333" stroke-width="0.4"/>
<circle cx="461.03" cy="102.32" r="2.1" fill="#7cbc5e" stroke="#333" stroke-width="0.4"/>
<circle cx="460.55" cy="100.93" r="2.1" fill="#7cbc5e" stroke="#333" stroke-width="0.4"/>
<circle cx="461.62" cy="99.57" r="2.1" fill="#7cbc5e" stroke="#333" stroke-width="0.4"/>
<circle cx="459.58" cy="100.43" r="2.1" fill="#7cbc5e" stroke="#333" stroke-width="0.4"/>
<circle cx="460.54" cy="100.01" r="2.1" fill="#7cbc5e" stroke="#333" stroke-width="0.4"/>
<circle cx="460.32" cy="99.22" r="2.1" fill="#7cbc5e" stroke="#333" stroke-width="0.4"/>
<circle cx="459.86" cy="98.18" r="2.1" fill="#7cbc5e" stroke="#333" stroke-width="0.4"/>
<circle cx="460.28" cy="102.20" r="2.1" fill="#7cbc5e" stroke="#333" stroke-width="0.4"/>
<circle cx="472.45" cy="96.69" r="1.3" fill="#acd4f0" stroke="#333" stroke-width="0.4"/>
<circle cx="468.93" cy="97.94" r="1.3" fill="#acd4f0" stroke="#333" stroke-width="0.4"/>
<circle cx="469.41" cy="96.95" r="1.3" fill="#acd4f0" stroke="#333" stroke-width="0.4"/>
<circle cx="471.72" cy="95.82" r="1.3" fill="#acd4f0" stroke="#333" stroke-width="0.4"/>
<circle cx="470.68" cy="95.76" r="1.3" fill="#acd4f0" stroke="#333" stroke-width="0.4"/>
<circle cx="470.79" cy="97.34" r="1.3" fill="#acd4f0" stroke="#333" stroke-width="0.4"/>
<circle cx="472.69" cy="98.46" r="1.3" fill="#acd4f0" stroke="#333" stroke-width="0.4"/>
<circle cx="470.26" cy="96.98" r="1.3" fill="#acd4f0" stroke="#333" stroke-width="0.4"/>
<circle cx="470.64" cy="98.02" r="1.3" fill="#acd4f0" stroke="#333" stroke-width="0.4"/>
<circle cx="472.82" cy="97.88" r="1.3" fill="#acd4f0" stroke="#333" stroke-width="0.4"/>
<circle cx="470.32" cy="97.84" r="1.3" fill="#acd4f0" stroke="#333" stroke-width="0.4"/>
<circle cx="470.51" cy="97.33" r="1.3" fill="#acd4f0" stroke="#333" stroke-width="0.4"/>
<circle cx="473.02" cy="97.70" r="1.3" fill="#acd4f0" stroke="#333" stroke-width="0.4"/>
<circle cx="472.69" cy="98.75" r="1.3" fill="#acd4f0" stroke="#333" stroke-width="0.4"/>
<circle cx="479.80" cy="91.80" r="1.3" fill="#b0b0b0" stroke="#333" stroke-width="0.4"/>
<circle cx="481.70" cy="93.70" r="1.3" fill="#b0b0b0" stroke="#333" stroke-width="0.4"/>
<circle cx="479.30" cy="95.60" r="1.3" fill="#b0b0b0" stroke="#333" stroke-width="0.4"/>
<circle cx="480.80" cy="97.00" r="1.3" fill="#b0b0b0" stroke="#333" stroke-width="0.4"/>
<circle cx="489.50" cy="93.70" r="1.3" fill="#7a48b8" stroke="#111" stroke-width="0.55"/>
<circle cx="489.53" cy="100.15" r="2.0" fill="#7a48b8" stroke="#111" stroke-width="0.55"/>
<circle cx="490.35" cy="101.79" r="1.35" fill="#7a48b8" stroke="#111" stroke-width="0.55"/>
<circle cx="490.87" cy="98.25" r="2.0" fill="#7a48b8" stroke="#111" stroke-width="0.55"/>
<circle cx="489.00" cy="100.63" r="2.0" fill="#7a48b8" stroke="#111" stroke-width="0.55"/>
<circle cx="489.41" cy="102.85" r="2.0" fill="#7a48b8" stroke="#111" stroke-width="0.55"/>
<circle cx="490.02" cy="97.29" r="1.35" fill="#7a48b8" stroke="#111" stroke-width="0.55"/>
<circle cx="490.46" cy="100.53" r="2.0" fill="#7a48b8" stroke="#111" stroke-width="0.55"/>
<circle cx="488.79" cy="103.26" r="1.35" fill="#7a48b8" stroke="#111" stroke-width="0.55"/>
<circle cx="491.81" cy="100.79" r="2.0" fill="#7a48b8" stroke="#111" stroke-width="0.55"/>
<circle cx="492.26" cy="98.54" r="1.35" fill="#7a48b8" stroke="#111" stroke-width="0.55"/>
<circle cx="488.64" cy="100.71" r="1.35" fill="#7a48b8" stroke="#111" stroke-width="0.55"/>
<circle cx="488.71" cy="100.45" r="2.0" fill="#7a48b8" stroke="#111" stroke-width="0.55"/>
<circle cx="491.03" cy="98.94" r="2.0" fill="#7a48b8" stroke="#111" stroke-width="0.55"/>
<circle cx="491.41" cy="99.40" r="2.0" fill="#7a48b8" stroke="#111" stroke-width="0.55"/>
<circle cx="488.78" cy="99.95" r="2.0" fill="#7a48b8" stroke="#111" stroke-width="0.55"/>
<circle cx="489.69" cy="100.59" r="2.0" fill="#7a48b8" stroke="#111" stroke-width="0.55"/>
<circle cx="490.35" cy="98.66" r="2.0" fill="#7a48b8" stroke="#111" stroke-width="0.55"/>
<circle cx="489.43" cy="101.04" r="2.0" fill="#7a48b8" stroke="#111" stroke-width="0.55"/>
<circle cx="499.61" cy="98.12" r="1.35" fill="#c8383a" stroke="#111" stroke-width="0.55"/>
<circle cx="499.10" cy="100.80" r="2.0" fill="#c8383a" stroke="#111" stroke-width="0.55"/>
<circle cx="499.20" cy="102.29" r="2.0" fill="#c8383a" stroke="#111" stroke-width="0.55"/>
<circle cx="500.03" cy="100.88" r="1.35" fill="#c8383a" stroke="#111" stroke-width="0.55"/>
<circle cx="500.05" cy="103.41" r="2.0" fill="#c8383a" stroke="#111" stroke-width="0.55"/>
<circle cx="498.35" cy="101.53" r="1.35" fill="#c8383a" stroke="#111" stroke-width="0.55"/>
<circle cx="498.80" cy="101.17" r="2.0" fill="#c8383a" stroke="#111" stroke-width="0.55"/>
<circle cx="500.32" cy="99.78" r="2.0" fill="#c8383a" stroke="#111" stroke-width="0.55"/>
<circle cx="499.60" cy="103.72" r="2.0" fill="#c8383a" stroke="#111" stroke-width="0.55"/>
<circle cx="499.09" cy="102.71" r="2.0" fill="#c8383a" stroke="#111" stroke-width="0.55"/>
<circle cx="499.07" cy="98.07" r="2.0" fill="#c8383a" stroke="#111" stroke-width="0.55"/>
<circle cx="498.49" cy="101.02" r="2.0" fill="#c8383a" stroke="#111" stroke-width="0.55"/>
<circle cx="510.20" cy="90.10" r="1.3" fill="#e5343c" stroke="#333" stroke-width="0.4"/>
<circle cx="517.80" cy="92.30" r="1.3" fill="#58c3ec" stroke="#333" stroke-width="0.55"/>
<circle cx="515.37" cy="103.00" r="2.0" fill="#58c3ec" stroke="#333" stroke-width="0.55"/>
<circle cx="516.32" cy="98.81" r="2.0" fill="#58c3ec" stroke="#333" stroke-width="0.55"/>
<circle cx="518.50" cy="104.86" r="2.0" fill="#58c3ec" stroke="#333" stroke-width="0.55"/>
<circle cx="519.60" cy="97.53" r="1.35" fill="#58c3ec" stroke="#333" stroke-width="0.55"/>
<circle cx="517.99" cy="105.26" r="2.0" fill="#58c3ec" stroke="#333" stroke-width="0.55"/>
<circle cx="519.14" cy="96.84" r="2.0" fill="#58c3ec" stroke="#333" stroke-width="0.55"/>
<circle cx="516.34" cy="98.73" r="2.0" fill="#58c3ec" stroke="#333" stroke-width="0.55"/>
<circle cx="519.26" cy="99.79" r="2.0" fill="#58c3ec" stroke="#333" stroke-width="0.55"/>
<circle cx="518.09" cy="96.00" r="2.0" fill="#58c3ec" stroke="#333" stroke-width="0.55"/>
<circle cx="519.68" cy="98.82" r="2.0" fill="#58c3ec" stroke="#333" stroke-width="0.55"/>
<circle cx="517.51" cy="97.73" r="2.0" fill="#58c3ec" stroke="#333" stroke-width="0.55"/>
<circle cx="516.10" cy="104.55" r="2.0" fill="#58c3ec" stroke="#333" stroke-width="0.55"/>
<circle cx="517.47" cy="96.93" r="1.35" fill="#58c3ec" stroke="#333" stroke-width="0.55"/>
<circle cx="518.50" cy="97.17" r="1.35" fill="#58c3ec" stroke="#333" stroke-width="0.55"/>
<circle cx="519.09" cy="98.64" r="1.35" fill="#58c3ec" stroke="#333" stroke-width="0.55"/>
<circle cx="519.53" cy="103.20" r="2.0" fill="#58c3ec" stroke="#333" stroke-width="0.55"/>
<circle cx="518.65" cy="105.63" r="2.0" fill="#58c3ec" stroke="#333" stroke-width="0.55"/>
<circle cx="516.67" cy="103.17" r="2.0" fill="#58c3ec" stroke="#333" stroke-width="0.55"/>
<circle cx="516.02" cy="98.04" r="2.0" fill="#58c3ec" stroke="#333" stroke-width="0.55"/>
<circle cx="519.13" cy="99.52" r="2.0" fill="#58c3ec" stroke="#333" stroke-width="0.55"/>
<circle cx="519.61" cy="101.87" r="2.0" fill="#58c3ec" stroke="#333" stroke-width="0.55"/>
<circle cx="516.63" cy="105.51" r="2.0" fill="#58c3ec" stroke="#333" stroke-width="0.55"/>
<circle cx="516.51" cy="102.41" r="2.0" fill="#58c3ec" stroke="#333" stroke-width="0.55"/>
<circle cx="520.11" cy="100.26" r="2.0" fill="#58c3ec" stroke="#333" stroke-width="0.55"/>
<circle cx="517.81" cy="95.99" r="2.0" fill="#58c3ec" stroke="#333" stroke-width="0.55"/>
<circle cx="516.27" cy="97.89" r="1.35" fill="#58c3ec" stroke="#333" stroke-width="0.55"/>
<circle cx="515.01" cy="98.30" r="1.35" fill="#58c3ec" stroke="#333" stroke-width="0.55"/>
<circle cx="516.35" cy="98.51" r="2.0" fill="#58c3ec" stroke="#333" stroke-width="0.55"/>
<circle cx="514.70" cy="106.00" r="2.2" fill="#58c3ec" stroke="#333" stroke-width="0.55"/>
<circle cx="527.20" cy="103.13" r="2.1" fill="#4fc46a" stroke="#111" stroke-width="0.55"/>
<circle cx="529.63" cy="100.05" r="2.1" fill="#4fc46a" stroke="#111" stroke-width="0.55"/>
<circle cx="527.69" cy="101.83" r="2.1" fill="#4fc46a" stroke="#111" stroke-width="0.55"/>
<circle cx="528.22" cy="103.53" r="2.1" fill="#4fc46a" stroke="#111" stroke-width="0.55"/>
<circle cx="527.43" cy="104.30" r="2.1" fill="#4fc46a" stroke="#111" stroke-width="0.55"/>
<circle cx="527.51" cy="105.60" r="2.1" fill="#4fc46a" stroke="#111" stroke-width="0.55"/>
<circle cx="528.85" cy="95.93" r="2.1" fill="#4fc46a" stroke="#111" stroke-width="0.55"/>
<circle cx="526.02" cy="99.32" r="2.1" fill="#4fc46a" stroke="#111" stroke-width="0.55"/>
<circle cx="528.89" cy="103.63" r="2.1" fill="#4fc46a" stroke="#111" stroke-width="0.55"/>
<circle cx="527.34" cy="96.62" r="2.1" fill="#4fc46a" stroke="#111" stroke-width="0.55"/>
<circle cx="527.39" cy="94.33" r="2.1" fill="#4fc46a" stroke="#111" stroke-width="0.55"/>
<circle cx="528.84" cy="101.05" r="1.35" fill="#4fc46a" stroke="#111" stroke-width="0.55"/>
<circle cx="525.74" cy="95.77" r="2.1" fill="#4fc46a" stroke="#111" stroke-width="0.55"/>
<circle cx="527.38" cy="99.25" r="2.1" fill="#4fc46a" stroke="#111" stroke-width="0.55"/>
<circle cx="526.17" cy="103.72" r="2.1" fill="#4fc46a" stroke="#111" stroke-width="0.55"/>
<circle cx="529.52" cy="100.90" r="2.1" fill="#4fc46a" stroke="#111" stroke-width="0.55"/>
<circle cx="528.92" cy="96.83" r="2.1" fill="#4fc46a" stroke="#111" stroke-width="0.55"/>
<circle cx="526.42" cy="94.42" r="2.1" fill="#4fc46a" stroke="#111" stroke-width="0.55"/>
<circle cx="528.03" cy="100.36" r="2.1" fill="#4fc46a" stroke="#111" stroke-width="0.55"/>
<circle cx="527.86" cy="94.99" r="2.1" fill="#4fc46a" stroke="#111" stroke-width="0.55"/>
<circle cx="525.69" cy="97.03" r="2.1" fill="#4fc46a" stroke="#111" stroke-width="0.55"/>
<circle cx="528.39" cy="104.12" r="2.1" fill="#4fc46a" stroke="#111" stroke-width="0.55"/>
<circle cx="525.12" cy="98.95" r="2.1" fill="#4fc46a" stroke="#111" stroke-width="0.55"/>
<circle cx="525.02" cy="99.92" r="2.1" fill="#4fc46a" stroke="#111" stroke-width="0.55"/>
<circle cx="527.17" cy="103.06" r="2.1" fill="#4fc46a" stroke="#111" stroke-width="0.55"/>
<circle cx="526.05" cy="104.85" r="2.1" fill="#4fc46a" stroke="#111" stroke-width="0.55"/>
<circle cx="526.84" cy="97.57" r="2.1" fill="#4fc46a" stroke="#111" stroke-width="0.55"/>
<circle cx="528.62" cy="96.73" r="2.1" fill="#4fc46a" stroke="#111" stroke-width="0.55"/>
<circle cx="527.67" cy="96.87" r="2.1" fill="#4fc46a" stroke="#111" stroke-width="0.55"/>
<circle cx="529.65" cy="98.38" r="2.1" fill="#4fc46a" stroke="#111" stroke-width="0.55"/>
<circle cx="529.90" cy="101.41" r="2.1" fill="#4fc46a" stroke="#111" stroke-width="0.55"/>
<circle cx="526.90" cy="101.89" r="2.1" fill="#4fc46a" stroke="#111" stroke-width="0.55"/>
<circle cx="526.35" cy="102.74" r="1.35" fill="#4fc46a" stroke="#111" stroke-width="0.55"/>
<circle cx="527.87" cy="104.80" r="2.1" fill="#4fc46a" stroke="#111" stroke-width="0.55"/>
<circle cx="535.00" cy="101.20" r="2.15" fill="#ecec3c" stroke="#333" stroke-width="0.4"/>
<circle cx="537.80" cy="105.00" r="2.15" fill="#ecec3c" stroke="#333" stroke-width="0.4"/>
<circle cx="543.90" cy="102.60" r="2.15" fill="#ee8a48" stroke="#333" stroke-width="0.4"/>
<circle cx="545.80" cy="99.00" r="1.3" fill="#ee8a48" stroke="#333" stroke-width="0.4"/>
<circle cx="547.60" cy="98.10" r="1.3" fill="#ee8a48" stroke="#333" stroke-width="0.4"/>
<circle cx="549.00" cy="99.50" r="1.3" fill="#ee8a48" stroke="#333" stroke-width="0.4"/>
<circle cx="546.70" cy="100.20" r="1.3" fill="#ee8a48" stroke="#333" stroke-width="0.4"/>
<circle cx="548.50" cy="101.00" r="1.3" fill="#ee8a48" stroke="#333" stroke-width="0.4"/>
<circle cx="552.90" cy="95.10" r="1.3" fill="#b060ea" stroke="#333" stroke-width="0.4"/>
<circle cx="556.20" cy="97.50" r="1.3" fill="#b060ea" stroke="#333" stroke-width="0.4"/>
<circle cx="553.40" cy="101.20" r="2.15" fill="#b060ea" stroke="#333" stroke-width="0.4"/>
<circle cx="557.60" cy="104.50" r="2.15" fill="#b060ea" stroke="#333" stroke-width="0.4"/>
<circle cx="558.10" cy="106.40" r="2.15" fill="#b060ea" stroke="#333" stroke-width="0.4"/>
<rect x="560.40" y="90.40" width="9.10" height="22.60" rx="3.5" fill="#3a1733"/>
<circle cx="564.63" cy="100.86" r="2.1" fill="#6a2c5e" stroke="#111" stroke-width="0.5"/>
<circle cx="562.64" cy="102.21" r="2.1" fill="#b070a0" stroke="#111" stroke-width="0.5"/>
<circle cx="565.70" cy="111.25" r="1.3" fill="#b070a0" stroke="#111" stroke-width="0.5"/>
<circle cx="563.13" cy="93.66" r="1.3" fill="#b070a0" stroke="#111" stroke-width="0.5"/>
<circle cx="563.57" cy="99.74" r="1.8" fill="#b070a0" stroke="#111" stroke-width="0.5"/>
<circle cx="567.71" cy="107.11" r="1.8" fill="#6a2c5e" stroke="#111" stroke-width="0.5"/>
<circle cx="564.39" cy="94.09" r="1.3" fill="#e8a2d8" stroke="#111" stroke-width="0.5"/>
<circle cx="566.00" cy="100.63" r="1.3" fill="#e8a2d8" stroke="#111" stroke-width="0.5"/>
<circle cx="565.98" cy="110.90" r="1.8" fill="#6a2c5e" stroke="#111" stroke-width="0.5"/>
<circle cx="565.79" cy="97.58" r="1.3" fill="#e8a2d8" stroke="#111" stroke-width="0.5"/>
<circle cx="564.06" cy="96.31" r="1.8" fill="#e8a2d8" stroke="#111" stroke-width="0.5"/>
<circle cx="565.95" cy="92.60" r="1.8" fill="#e8a2d8" stroke="#111" stroke-width="0.5"/>
<circle cx="567.20" cy="96.84" r="2.1" fill="#e8a2d8" stroke="#111" stroke-width="0.5"/>
<circle cx="563.76" cy="105.31" r="1.3" fill="#4a1f44" stroke="#111" stroke-width="0.5"/>
<circle cx="563.71" cy="93.77" r="2.1" fill="#e8a2d8" stroke="#111" stroke-width="0.5"/>
<circle cx="565.13" cy="99.09" r="1.3" fill="#6a2c5e" stroke="#111" stroke-width="0.5"/>
<circle cx="566.21" cy="93.94" r="2.1" fill="#e8a2d8" stroke="#111" stroke-width="0.5"/>
<circle cx="566.25" cy="95.72" r="1.8" fill="#6a2c5e" stroke="#111" stroke-width="0.5"/>
<circle cx="562.83" cy="99.21" r="1.8" fill="#e8a2d8" stroke="#111" stroke-width="0.5"/>
<circle cx="561.96" cy="94.00" r="1.8" fill="#e8a2d8" stroke="#111" stroke-width="0.5"/>
<circle cx="567.01" cy="104.73" r="1.8" fill="#4a1f44" stroke="#111" stroke-width="0.5"/>
<circle cx="562.20" cy="93.40" r="1.3" fill="#b070a0" stroke="#111" stroke-width="0.5"/>
<circle cx="567.17" cy="94.67" r="1.3" fill="#e8a2d8" stroke="#111" stroke-width="0.5"/>
<circle cx="566.88" cy="92.57" r="1.3" fill="#b070a0" stroke="#111" stroke-width="0.5"/>
<circle cx="564.25" cy="92.83" r="1.8" fill="#e8a2d8" stroke="#111" stroke-width="0.5"/>
<circle cx="565.88" cy="101.02" r="1.3" fill="#e8a2d8" stroke="#111" stroke-width="0.5"/>
<circle cx="565.48" cy="98.99" r="1.8" fill="#e8a2d8" stroke="#111" stroke-width="0.5"/>
<circle cx="563.85" cy="110.22" r="1.3" fill="#6a2c5e" stroke="#111" stroke-width="0.5"/>
<circle cx="566.84" cy="99.14" r="1.8" fill="#e8a2d8" stroke="#111" stroke-width="0.5"/>
<circle cx="566.67" cy="107.90" r="1.8" fill="#b070a0" stroke="#111" stroke-width="0.5"/>
<circle cx="567.61" cy="108.61" r="2.1" fill="#4a1f44" stroke="#111" stroke-width="0.5"/>
<circle cx="567.17" cy="105.88" r="1.8" fill="#b070a0" stroke="#111" stroke-width="0.5"/>
<circle cx="566.23" cy="93.75" r="1.3" fill="#8a3f7c" stroke="#111" stroke-width="0.5"/>
<circle cx="564.38" cy="108.69" r="1.3" fill="#6a2c5e" stroke="#111" stroke-width="0.5"/>
<circle cx="567.45" cy="91.72" r="1.8" fill="#e8a2d8" stroke="#111" stroke-width="0.5"/>
<circle cx="567.83" cy="98.64" r="1.8" fill="#e8a2d8" stroke="#111" stroke-width="0.5"/>
<circle cx="564.91" cy="99.39" r="1.3" fill="#b070a0" stroke="#111" stroke-width="0.5"/>
<circle cx="565.28" cy="107.32" r="1.3" fill="#4a1f44" stroke="#111" stroke-width="0.5"/>
<circle cx="561.70" cy="104.82" r="2.1" fill="#b070a0" stroke="#111" stroke-width="0.5"/>
<circle cx="566.98" cy="100.73" r="1.8" fill="#b070a0" stroke="#111" stroke-width="0.5"/>
<circle cx="566.76" cy="98.65" r="1.8" fill="#e8a2d8" stroke="#111" stroke-width="0.5"/>
<circle cx="563.80" cy="96.21" r="1.8" fill="#4a1f44" stroke="#111" stroke-width="0.5"/>
<circle cx="566.49" cy="96.70" r="1.8" fill="#6a2c5e" stroke="#111" stroke-width="0.5"/>
<circle cx="564.13" cy="100.31" r="2.1" fill="#6a2c5e" stroke="#111" stroke-width="0.5"/>
<circle cx="562.80" cy="96.87" r="1.8" fill="#e8a2d8" stroke="#111" stroke-width="0.5"/>
<circle cx="564.86" cy="99.16" r="1.3" fill="#e8a2d8" stroke="#111" stroke-width="0.5"/>
<circle cx="566.15" cy="94.50" r="2.1" fill="#4a1f44" stroke="#111" stroke-width="0.5"/>
<circle cx="562.67" cy="96.44" r="1.8" fill="#e8a2d8" stroke="#111" stroke-width="0.5"/>
<circle cx="567.97" cy="108.00" r="1.3" fill="#6a2c5e" stroke="#111" stroke-width="0.5"/>
<circle cx="566.85" cy="93.45" r="2.1" fill="#e8a2d8" stroke="#111" stroke-width="0.5"/>
<circle cx="566.54" cy="93.08" r="1.3" fill="#e8a2d8" stroke="#111" stroke-width="0.5"/>
<circle cx="565.50" cy="110.43" r="1.8" fill="#4a1f44" stroke="#111" stroke-width="0.5"/>
<circle cx="562.33" cy="108.02" r="1.3" fill="#4a1f44" stroke="#111" stroke-width="0.5"/>
<circle cx="563.27" cy="96.93" r="1.8" fill="#e8a2d8" stroke="#111" stroke-width="0.5"/>
<circle cx="566.07" cy="97.18" r="1.8" fill="#e8a2d8" stroke="#111" stroke-width="0.5"/>
<circle cx="564.85" cy="94.34" r="1.8" fill="#e8a2d8" stroke="#111" stroke-width="0.5"/>
<rect x="409.3" y="74.3" width="161.60" height="40.30" fill="none" stroke="#1a1a1a" stroke-width="1"/>
<line x1="407.7" y1="75.50" x2="409.3" y2="75.50" stroke="#333" stroke-width="0.6"/>
<text x="406.30" y="77.70" font-size="6.4" text-anchor="end" fill="#333">2</text>
<line x1="407.7" y1="84.80" x2="409.3" y2="84.80" stroke="#333" stroke-width="0.6"/>
<text x="406.30" y="87.00" font-size="6.4" text-anchor="end" fill="#333">1</text>
<line x1="407.7" y1="94.10" x2="409.3" y2="94.10" stroke="#333" stroke-width="0.6"/>
<text x="406.30" y="96.30" font-size="6.4" text-anchor="end" fill="#333">0</text>
<line x1="407.7" y1="103.40" x2="409.3" y2="103.40" stroke="#333" stroke-width="0.6"/>
<text x="406.30" y="105.60" font-size="6.4" text-anchor="end" fill="#333">-1</text>
<line x1="407.7" y1="112.70" x2="409.3" y2="112.70" stroke="#333" stroke-width="0.6"/>
<text x="406.30" y="114.90" font-size="6.4" text-anchor="end" fill="#333">-2</text>
<line x1="414.10" y1="114.6" x2="414.10" y2="116.1" stroke="#333" stroke-width="0.6"/>
<line x1="423.60" y1="114.6" x2="423.60" y2="116.1" stroke="#333" stroke-width="0.6"/>
<line x1="433.10" y1="114.6" x2="433.10" y2="116.1" stroke="#333" stroke-width="0.6"/>
<line x1="442.60" y1="114.6" x2="442.60" y2="116.1" stroke="#333" stroke-width="0.6"/>
<line x1="452.10" y1="114.6" x2="452.10" y2="116.1" stroke="#333" stroke-width="0.6"/>
<line x1="461.60" y1="114.6" x2="461.60" y2="116.1" stroke="#333" stroke-width="0.6"/>
<line x1="471.10" y1="114.6" x2="471.10" y2="116.1" stroke="#333" stroke-width="0.6"/>
<line x1="480.60" y1="114.6" x2="480.60" y2="116.1" stroke="#333" stroke-width="0.6"/>
<line x1="490.10" y1="114.6" x2="490.10" y2="116.1" stroke="#333" stroke-width="0.6"/>
<line x1="499.60" y1="114.6" x2="499.60" y2="116.1" stroke="#333" stroke-width="0.6"/>
<line x1="509.10" y1="114.6" x2="509.10" y2="116.1" stroke="#333" stroke-width="0.6"/>
<line x1="518.60" y1="114.6" x2="518.60" y2="116.1" stroke="#333" stroke-width="0.6"/>
<line x1="528.10" y1="114.6" x2="528.10" y2="116.1" stroke="#333" stroke-width="0.6"/>
<line x1="537.60" y1="114.6" x2="537.60" y2="116.1" stroke="#333" stroke-width="0.6"/>
<line x1="547.10" y1="114.6" x2="547.10" y2="116.1" stroke="#333" stroke-width="0.6"/>
<line x1="556.60" y1="114.6" x2="556.60" y2="116.1" stroke="#333" stroke-width="0.6"/>
<line x1="566.10" y1="114.6" x2="566.10" y2="116.1" stroke="#333" stroke-width="0.6"/>
<text x="477.40" y="72.80" font-size="7.5" text-anchor="middle" font-weight="bold" fill="#111">ii: Late EW vs Extend EW</text>
<text x="396.8" y="99.50" font-size="8.0" text-anchor="middle" fill="#222" transform="rotate(-90 396.8 99.50)">log<tspan font-size="5.3" dy="1.8">2</tspan><tspan dy="-1.8">(fold change)</tspan></text>
<rect x="409.3" y="134.4" width="161.60" height="47.50" fill="#fff"/>
<line x1="414.10" y1="134.4" x2="414.10" y2="181.9" stroke="#e3e3e3" stroke-width="0.7"/>
<line x1="423.60" y1="134.4" x2="423.60" y2="181.9" stroke="#e3e3e3" stroke-width="0.7"/>
<line x1="433.10" y1="134.4" x2="433.10" y2="181.9" stroke="#e3e3e3" stroke-width="0.7"/>
<line x1="442.60" y1="134.4" x2="442.60" y2="181.9" stroke="#e3e3e3" stroke-width="0.7"/>
<line x1="452.10" y1="134.4" x2="452.10" y2="181.9" stroke="#e3e3e3" stroke-width="0.7"/>
<line x1="461.60" y1="134.4" x2="461.60" y2="181.9" stroke="#e3e3e3" stroke-width="0.7"/>
<line x1="471.10" y1="134.4" x2="471.10" y2="181.9" stroke="#e3e3e3" stroke-width="0.7"/>
<line x1="480.60" y1="134.4" x2="480.60" y2="181.9" stroke="#e3e3e3" stroke-width="0.7"/>
<line x1="490.10" y1="134.4" x2="490.10" y2="181.9" stroke="#e3e3e3" stroke-width="0.7"/>
<line x1="499.60" y1="134.4" x2="499.60" y2="181.9" stroke="#e3e3e3" stroke-width="0.7"/>
<line x1="509.10" y1="134.4" x2="509.10" y2="181.9" stroke="#e3e3e3" stroke-width="0.7"/>
<line x1="518.60" y1="134.4" x2="518.60" y2="181.9" stroke="#e3e3e3" stroke-width="0.7"/>
<line x1="528.10" y1="134.4" x2="528.10" y2="181.9" stroke="#e3e3e3" stroke-width="0.7"/>
<line x1="537.60" y1="134.4" x2="537.60" y2="181.9" stroke="#e3e3e3" stroke-width="0.7"/>
<line x1="547.10" y1="134.4" x2="547.10" y2="181.9" stroke="#e3e3e3" stroke-width="0.7"/>
<line x1="556.60" y1="134.4" x2="556.60" y2="181.9" stroke="#e3e3e3" stroke-width="0.7"/>
<line x1="566.10" y1="134.4" x2="566.10" y2="181.9" stroke="#e3e3e3" stroke-width="0.7"/>
<line x1="409.3" y1="135.90" x2="570.9" y2="135.90" stroke="#e3e3e3" stroke-width="0.7"/>
<line x1="409.3" y1="147.05" x2="570.9" y2="147.05" stroke="#e3e3e3" stroke-width="0.7"/>
<line x1="409.3" y1="169.35" x2="570.9" y2="169.35" stroke="#e3e3e3" stroke-width="0.7"/>
<line x1="409.3" y1="180.50" x2="570.9" y2="180.50" stroke="#e3e3e3" stroke-width="0.7"/>
<line x1="409.3" y1="158.20" x2="570.9" y2="158.20" stroke="#777" stroke-width="0.8" stroke-dasharray="3 1.8"/>
<circle cx="412.40" cy="153.30" r="1.2" fill="#6b8fd4" stroke="#333" stroke-width="0.4"/>
<circle cx="423.30" cy="158.20" r="1.35" fill="#87b2e0" stroke="#333" stroke-width="0.4"/>
<circle cx="426.70" cy="157.20" r="1.35" fill="#87b2e0" stroke="#333" stroke-width="0.4"/>
<circle cx="422.80" cy="159.80" r="1.35" fill="#87b2e0" stroke="#333" stroke-width="0.4"/>
<circle cx="425.30" cy="161.10" r="1.35" fill="#87b2e0" stroke="#333" stroke-width="0.4"/>
<circle cx="422.30" cy="162.80" r="1.35" fill="#87b2e0" stroke="#333" stroke-width="0.4"/>
<circle cx="426.70" cy="163.60" r="1.35" fill="#87b2e0" stroke="#333" stroke-width="0.4"/>
<circle cx="424.30" cy="165.60" r="1.35" fill="#87b2e0" stroke="#333" stroke-width="0.4"/>
<circle cx="432.60" cy="161.10" r="1.35" fill="#87b2e0" stroke="#333" stroke-width="0.4"/>
<circle cx="431.70" cy="162.80" r="1.35" fill="#87b2e0" stroke="#333" stroke-width="0.4"/>
<circle cx="425.30" cy="168.50" r="2.1" fill="#8ec4e8" stroke="#333" stroke-width="0.4"/>
<circle cx="430.20" cy="166.10" r="2.1" fill="#8ec4e8" stroke="#333" stroke-width="0.4"/>
<circle cx="430.70" cy="169.00" r="2.1" fill="#8ec4e8" stroke="#333" stroke-width="0.4"/>
<circle cx="427.20" cy="173.50" r="2.1" fill="#8ec4e8" stroke="#333" stroke-width="0.4"/>
<circle cx="431.70" cy="173.50" r="2.1" fill="#8ec4e8" stroke="#333" stroke-width="0.4"/>
<circle cx="432.60" cy="174.90" r="2.1" fill="#8ec4e8" stroke="#333" stroke-width="0.4"/>
<circle cx="435.60" cy="170.50" r="2.1" fill="#8ec4e8" stroke="#333" stroke-width="0.4"/>
<circle cx="437.10" cy="171.00" r="2.1" fill="#8ec4e8" stroke="#333" stroke-width="0.4"/>
<circle cx="428.60" cy="170.50" r="2.1" fill="#8ec4e8" stroke="#333" stroke-width="0.4"/>
<circle cx="433.60" cy="171.50" r="2.1" fill="#8ec4e8" stroke="#333" stroke-width="0.4"/>
<circle cx="426.00" cy="171.20" r="2.1" fill="#8ec4e8" stroke="#333" stroke-width="0.4"/>
<circle cx="429.50" cy="175.00" r="2.1" fill="#8ec4e8" stroke="#333" stroke-width="0.4"/>
<circle cx="441.97" cy="160.85" r="1.8" fill="#d8773f" stroke="#111" stroke-width="0.55"/>
<circle cx="443.53" cy="157.46" r="1.8" fill="#d8773f" stroke="#111" stroke-width="0.55"/>
<circle cx="441.13" cy="159.27" r="1.8" fill="#d8773f" stroke="#111" stroke-width="0.55"/>
<circle cx="441.21" cy="157.46" r="1.8" fill="#d8773f" stroke="#111" stroke-width="0.55"/>
<circle cx="441.44" cy="158.66" r="1.3" fill="#d8773f" stroke="#111" stroke-width="0.55"/>
<circle cx="443.12" cy="160.96" r="1.8" fill="#d8773f" stroke="#111" stroke-width="0.55"/>
<circle cx="441.81" cy="156.27" r="1.3" fill="#d8773f" stroke="#111" stroke-width="0.55"/>
<circle cx="441.85" cy="157.78" r="1.8" fill="#d8773f" stroke="#111" stroke-width="0.55"/>
<circle cx="441.13" cy="157.72" r="1.8" fill="#d8773f" stroke="#111" stroke-width="0.55"/>
<circle cx="444.09" cy="160.16" r="1.8" fill="#d8773f" stroke="#111" stroke-width="0.55"/>
<circle cx="441.71" cy="156.78" r="1.3" fill="#d8773f" stroke="#111" stroke-width="0.55"/>
<circle cx="441.70" cy="160.70" r="1.3" fill="#d8773f" stroke="#111" stroke-width="0.55"/>
<circle cx="441.69" cy="158.38" r="1.8" fill="#d8773f" stroke="#111" stroke-width="0.55"/>
<circle cx="444.31" cy="157.88" r="1.3" fill="#d8773f" stroke="#111" stroke-width="0.55"/>
<circle cx="442.48" cy="156.60" r="1.8" fill="#d8773f" stroke="#111" stroke-width="0.55"/>
<circle cx="441.00" cy="159.52" r="1.8" fill="#d8773f" stroke="#111" stroke-width="0.55"/>
<circle cx="441.46" cy="158.51" r="1.3" fill="#d8773f" stroke="#111" stroke-width="0.55"/>
<circle cx="440.94" cy="160.12" r="1.8" fill="#d8773f" stroke="#111" stroke-width="0.55"/>
<circle cx="443.30" cy="159.90" r="1.8" fill="#d8773f" stroke="#111" stroke-width="0.55"/>
<circle cx="440.92" cy="157.59" r="1.3" fill="#d8773f" stroke="#111" stroke-width="0.55"/>
<circle cx="441.93" cy="158.27" r="1.3" fill="#d8773f" stroke="#111" stroke-width="0.55"/>
<circle cx="441.30" cy="157.88" r="1.8" fill="#d8773f" stroke="#111" stroke-width="0.55"/>
<circle cx="440.02" cy="159.83" r="1.3" fill="#d8773f" stroke="#111" stroke-width="0.55"/>
<circle cx="441.39" cy="160.09" r="1.3" fill="#d8773f" stroke="#111" stroke-width="0.55"/>
<circle cx="440.98" cy="160.21" r="1.3" fill="#d8773f" stroke="#111" stroke-width="0.55"/>
<circle cx="441.34" cy="159.72" r="1.8" fill="#d8773f" stroke="#111" stroke-width="0.55"/>
<circle cx="444.00" cy="164.30" r="1.3" fill="#d8773f" stroke="#111" stroke-width="0.55"/>
<circle cx="453.00" cy="149.00" r="2.1" fill="#e8c240" stroke="#333" stroke-width="0.4"/>
<circle cx="454.00" cy="150.00" r="2.0" fill="#e8c240" stroke="#333" stroke-width="0.4"/>
<circle cx="460.80" cy="154.20" r="1.3" fill="#7cbc5e" stroke="#333" stroke-width="0.4"/>
<circle cx="464.20" cy="155.70" r="1.3" fill="#7cbc5e" stroke="#333" stroke-width="0.4"/>
<circle cx="461.45" cy="162.73" r="1.9" fill="#7cbc5e" stroke="#333" stroke-width="0.4"/>
<circle cx="461.16" cy="162.09" r="1.4" fill="#7cbc5e" stroke="#333" stroke-width="0.4"/>
<circle cx="460.63" cy="160.70" r="1.4" fill="#7cbc5e" stroke="#333" stroke-width="0.4"/>
<circle cx="461.62" cy="160.77" r="1.4" fill="#7cbc5e" stroke="#333" stroke-width="0.4"/>
<circle cx="460.68" cy="160.57" r="1.9" fill="#7cbc5e" stroke="#333" stroke-width="0.4"/>
<circle cx="461.35" cy="160.64" r="1.4" fill="#7cbc5e" stroke="#333" stroke-width="0.4"/>
<circle cx="462.78" cy="163.94" r="1.4" fill="#7cbc5e" stroke="#333" stroke-width="0.4"/>
<circle cx="459.79" cy="162.72" r="1.9" fill="#7cbc5e" stroke="#333" stroke-width="0.4"/>
<circle cx="459.96" cy="162.81" r="1.9" fill="#7cbc5e" stroke="#333" stroke-width="0.4"/>
<circle cx="461.73" cy="164.20" r="1.4" fill="#7cbc5e" stroke="#333" stroke-width="0.4"/>
<circle cx="461.03" cy="161.72" r="1.9" fill="#7cbc5e" stroke="#333" stroke-width="0.4"/>
<circle cx="460.97" cy="166.71" r="1.4" fill="#7cbc5e" stroke="#333" stroke-width="0.4"/>
<circle cx="460.77" cy="164.71" r="1.9" fill="#7cbc5e" stroke="#333" stroke-width="0.4"/>
<circle cx="461.59" cy="164.45" r="1.4" fill="#7cbc5e" stroke="#333" stroke-width="0.4"/>
<circle cx="461.05" cy="164.12" r="1.4" fill="#7cbc5e" stroke="#333" stroke-width="0.4"/>
<circle cx="463.13" cy="164.54" r="1.4" fill="#7cbc5e" stroke="#333" stroke-width="0.4"/>
<circle cx="461.38" cy="162.89" r="1.9" fill="#7cbc5e" stroke="#333" stroke-width="0.4"/>
<circle cx="461.27" cy="166.45" r="1.9" fill="#7cbc5e" stroke="#333" stroke-width="0.4"/>
<circle cx="460.26" cy="163.55" r="1.9" fill="#7cbc5e" stroke="#333" stroke-width="0.4"/>
<circle cx="461.18" cy="166.93" r="1.9" fill="#7cbc5e" stroke="#333" stroke-width="0.4"/>
<circle cx="462.20" cy="169.00" r="2.1" fill="#7cbc5e" stroke="#333" stroke-width="0.4"/>
<circle cx="469.60" cy="168.50" r="2.1" fill="#acd4f0" stroke="#333" stroke-width="0.4"/>
<circle cx="473.50" cy="168.50" r="2.1" fill="#acd4f0" stroke="#333" stroke-width="0.4"/>
<circle cx="470.60" cy="166.60" r="2.1" fill="#acd4f0" stroke="#333" stroke-width="0.4"/>
<circle cx="471.60" cy="170.50" r="2.1" fill="#acd4f0" stroke="#333" stroke-width="0.4"/>
<circle cx="468.70" cy="170.50" r="2.1" fill="#acd4f0" stroke="#333" stroke-width="0.4"/>
<circle cx="473.00" cy="161.10" r="1.3" fill="#acd4f0" stroke="#333" stroke-width="0.4"/>
<circle cx="471.60" cy="162.60" r="1.3" fill="#acd4f0" stroke="#333" stroke-width="0.4"/>
<circle cx="479.30" cy="167.50" r="2.1" fill="#b0b0b0" stroke="#333" stroke-width="0.4"/>
<circle cx="480.30" cy="169.50" r="2.1" fill="#b0b0b0" stroke="#333" stroke-width="0.4"/>
<circle cx="479.80" cy="171.20" r="2.1" fill="#b0b0b0" stroke="#333" stroke-width="0.4"/>
<circle cx="486.90" cy="150.30" r="1.6" fill="#7a48b8" stroke="#111" stroke-width="0.55"/>
<circle cx="490.90" cy="149.80" r="1.6" fill="#7a48b8" stroke="#111" stroke-width="0.55"/>
<circle cx="487.90" cy="152.80" r="1.6" fill="#7a48b8" stroke="#111" stroke-width="0.55"/>
<circle cx="491.40" cy="151.80" r="1.6" fill="#7a48b8" stroke="#111" stroke-width="0.55"/>
<circle cx="487.40" cy="154.70" r="1.6" fill="#7a48b8" stroke="#111" stroke-width="0.55"/>
<circle cx="491.90" cy="154.70" r="1.6" fill="#7a48b8" stroke="#111" stroke-width="0.55"/>
<circle cx="491.40" cy="156.70" r="1.6" fill="#7a48b8" stroke="#111" stroke-width="0.55"/>
<circle cx="497.30" cy="150.30" r="1.3" fill="#c8383a" stroke="#111" stroke-width="0.55"/>
<circle cx="496.30" cy="152.80" r="1.3" fill="#c8383a" stroke="#111" stroke-width="0.55"/>
<circle cx="499.20" cy="154.20" r="1.3" fill="#c8383a" stroke="#111" stroke-width="0.55"/>
<circle cx="500.70" cy="154.50" r="1.3" fill="#c8383a" stroke="#111" stroke-width="0.55"/>
<circle cx="502.20" cy="155.50" r="1.3" fill="#c8383a" stroke="#111" stroke-width="0.55"/>
<circle cx="500.20" cy="156.50" r="1.3" fill="#c8383a" stroke="#111" stroke-width="0.55"/>
<circle cx="498.70" cy="159.70" r="1.3" fill="#c8383a" stroke="#111" stroke-width="0.55"/>
<circle cx="505.60" cy="150.10" r="1.3" fill="#c8383a" stroke="#111" stroke-width="0.55"/>
<circle cx="515.75" cy="164.43" r="1.4" fill="#58c3ec" stroke="#333" stroke-width="0.55"/>
<circle cx="518.16" cy="166.59" r="1.9" fill="#58c3ec" stroke="#333" stroke-width="0.55"/>
<circle cx="517.86" cy="169.51" r="1.9" fill="#58c3ec" stroke="#333" stroke-width="0.55"/>
<circle cx="518.77" cy="168.55" r="1.4" fill="#58c3ec" stroke="#333" stroke-width="0.55"/>
<circle cx="520.71" cy="165.90" r="1.9" fill="#58c3ec" stroke="#333" stroke-width="0.55"/>
<circle cx="520.60" cy="165.49" r="1.4" fill="#58c3ec" stroke="#333" stroke-width="0.55"/>
<circle cx="519.27" cy="170.11" r="1.4" fill="#58c3ec" stroke="#333" stroke-width="0.55"/>
<circle cx="520.17" cy="163.58" r="1.4" fill="#58c3ec" stroke="#333" stroke-width="0.55"/>
<circle cx="517.84" cy="168.53" r="1.9" fill="#58c3ec" stroke="#333" stroke-width="0.55"/>
<circle cx="516.61" cy="170.64" r="1.9" fill="#58c3ec" stroke="#333" stroke-width="0.55"/>
<circle cx="516.32" cy="164.94" r="1.9" fill="#58c3ec" stroke="#333" stroke-width="0.55"/>
<circle cx="515.97" cy="167.96" r="1.9" fill="#58c3ec" stroke="#333" stroke-width="0.55"/>
<circle cx="515.51" cy="170.13" r="1.9" fill="#58c3ec" stroke="#333" stroke-width="0.55"/>
<circle cx="517.61" cy="170.90" r="1.9" fill="#58c3ec" stroke="#333" stroke-width="0.55"/>
<circle cx="515.54" cy="172.34" r="1.4" fill="#58c3ec" stroke="#333" stroke-width="0.55"/>
<circle cx="517.94" cy="171.18" r="1.9" fill="#58c3ec" stroke="#333" stroke-width="0.55"/>
<circle cx="519.41" cy="164.72" r="1.4" fill="#58c3ec" stroke="#333" stroke-width="0.55"/>
<circle cx="516.69" cy="165.74" r="1.4" fill="#58c3ec" stroke="#333" stroke-width="0.55"/>
<circle cx="520.30" cy="171.87" r="1.4" fill="#58c3ec" stroke="#333" stroke-width="0.55"/>
<circle cx="517.34" cy="170.37" r="1.4" fill="#58c3ec" stroke="#333" stroke-width="0.55"/>
<circle cx="519.89" cy="171.23" r="1.9" fill="#58c3ec" stroke="#333" stroke-width="0.55"/>
<circle cx="517.16" cy="169.73" r="1.9" fill="#58c3ec" stroke="#333" stroke-width="0.55"/>
<circle cx="518.50" cy="173.27" r="1.4" fill="#58c3ec" stroke="#333" stroke-width="0.55"/>
<circle cx="515.70" cy="169.94" r="1.9" fill="#58c3ec" stroke="#333" stroke-width="0.55"/>
<circle cx="518.82" cy="166.52" r="1.4" fill="#58c3ec" stroke="#333" stroke-width="0.55"/>
<circle cx="519.18" cy="163.45" r="1.9" fill="#58c3ec" stroke="#333" stroke-width="0.55"/>
<circle cx="516.40" cy="170.67" r="1.4" fill="#58c3ec" stroke="#333" stroke-width="0.55"/>
<circle cx="515.62" cy="165.86" r="1.9" fill="#58c3ec" stroke="#333" stroke-width="0.55"/>
<circle cx="518.16" cy="167.61" r="1.9" fill="#58c3ec" stroke="#333" stroke-width="0.55"/>
<circle cx="516.56" cy="171.53" r="1.4" fill="#58c3ec" stroke="#333" stroke-width="0.55"/>
<circle cx="516.39" cy="166.46" r="1.4" fill="#58c3ec" stroke="#333" stroke-width="0.55"/>
<circle cx="517.24" cy="170.01" r="1.9" fill="#58c3ec" stroke="#333" stroke-width="0.55"/>
<circle cx="528.20" cy="154.70" r="1.3" fill="#4fc46a" stroke="#111" stroke-width="0.55"/>
<circle cx="528.48" cy="159.28" r="1.9" fill="#4fc46a" stroke="#111" stroke-width="0.55"/>
<circle cx="526.23" cy="160.85" r="1.9" fill="#4fc46a" stroke="#111" stroke-width="0.55"/>
<circle cx="527.59" cy="158.90" r="1.4" fill="#4fc46a" stroke="#111" stroke-width="0.55"/>
<circle cx="526.10" cy="159.37" r="1.4" fill="#4fc46a" stroke="#111" stroke-width="0.55"/>
<circle cx="526.70" cy="159.79" r="1.9" fill="#4fc46a" stroke="#111" stroke-width="0.55"/>
<circle cx="526.47" cy="158.96" r="1.9" fill="#4fc46a" stroke="#111" stroke-width="0.55"/>
<circle cx="527.18" cy="163.19" r="1.9" fill="#4fc46a" stroke="#111" stroke-width="0.55"/>
<circle cx="529.12" cy="160.81" r="1.4" fill="#4fc46a" stroke="#111" stroke-width="0.55"/>
<circle cx="528.51" cy="160.42" r="1.9" fill="#4fc46a" stroke="#111" stroke-width="0.55"/>
<circle cx="527.51" cy="161.78" r="1.4" fill="#4fc46a" stroke="#111" stroke-width="0.55"/>
<circle cx="526.11" cy="163.36" r="1.4" fill="#4fc46a" stroke="#111" stroke-width="0.55"/>
<circle cx="529.77" cy="160.58" r="1.4" fill="#4fc46a" stroke="#111" stroke-width="0.55"/>
<circle cx="528.17" cy="159.41" r="1.9" fill="#4fc46a" stroke="#111" stroke-width="0.55"/>
<circle cx="525.08" cy="160.11" r="1.4" fill="#4fc46a" stroke="#111" stroke-width="0.55"/>
<circle cx="526.47" cy="160.97" r="1.9" fill="#4fc46a" stroke="#111" stroke-width="0.55"/>
<circle cx="524.76" cy="161.05" r="1.4" fill="#4fc46a" stroke="#111" stroke-width="0.55"/>
<circle cx="528.45" cy="161.98" r="1.9" fill="#4fc46a" stroke="#111" stroke-width="0.55"/>
<circle cx="528.80" cy="162.73" r="1.4" fill="#4fc46a" stroke="#111" stroke-width="0.55"/>
<circle cx="530.77" cy="172.90" r="2.1" fill="#4fc46a" stroke="#111" stroke-width="0.55"/>
<circle cx="526.08" cy="177.06" r="2.1" fill="#4fc46a" stroke="#111" stroke-width="0.55"/>
<circle cx="528.26" cy="171.46" r="2.1" fill="#4fc46a" stroke="#111" stroke-width="0.55"/>
<circle cx="526.87" cy="174.99" r="2.1" fill="#4fc46a" stroke="#111" stroke-width="0.55"/>
<circle cx="526.84" cy="174.83" r="2.1" fill="#4fc46a" stroke="#111" stroke-width="0.55"/>
<circle cx="526.27" cy="177.02" r="2.1" fill="#4fc46a" stroke="#111" stroke-width="0.55"/>
<circle cx="525.03" cy="172.35" r="2.1" fill="#4fc46a" stroke="#111" stroke-width="0.55"/>
<circle cx="525.82" cy="175.69" r="2.1" fill="#4fc46a" stroke="#111" stroke-width="0.55"/>
<circle cx="528.96" cy="171.05" r="2.1" fill="#4fc46a" stroke="#111" stroke-width="0.55"/>
<circle cx="525.36" cy="172.47" r="2.1" fill="#4fc46a" stroke="#111" stroke-width="0.55"/>
<circle cx="524.46" cy="173.72" r="2.1" fill="#4fc46a" stroke="#111" stroke-width="0.55"/>
<circle cx="526.29" cy="174.06" r="1.35" fill="#4fc46a" stroke="#111" stroke-width="0.55"/>
<circle cx="525.77" cy="176.82" r="2.1" fill="#4fc46a" stroke="#111" stroke-width="0.55"/>
<circle cx="529.83" cy="169.90" r="1.35" fill="#4fc46a" stroke="#111" stroke-width="0.55"/>
<circle cx="527.28" cy="177.49" r="2.1" fill="#4fc46a" stroke="#111" stroke-width="0.55"/>
<circle cx="527.14" cy="175.39" r="2.1" fill="#4fc46a" stroke="#111" stroke-width="0.55"/>
<circle cx="525.89" cy="175.42" r="1.35" fill="#4fc46a" stroke="#111" stroke-width="0.55"/>
<circle cx="526.56" cy="171.10" r="2.1" fill="#4fc46a" stroke="#111" stroke-width="0.55"/>
<circle cx="528.65" cy="172.70" r="2.1" fill="#4fc46a" stroke="#111" stroke-width="0.55"/>
<circle cx="525.82" cy="174.65" r="2.1" fill="#4fc46a" stroke="#111" stroke-width="0.55"/>
<circle cx="530.14" cy="174.75" r="2.1" fill="#4fc46a" stroke="#111" stroke-width="0.55"/>
<circle cx="528.20" cy="170.54" r="2.1" fill="#4fc46a" stroke="#111" stroke-width="0.55"/>
<circle cx="529.02" cy="173.32" r="2.1" fill="#4fc46a" stroke="#111" stroke-width="0.55"/>
<circle cx="527.21" cy="172.75" r="2.1" fill="#4fc46a" stroke="#111" stroke-width="0.55"/>
<circle cx="528.42" cy="174.30" r="2.1" fill="#4fc46a" stroke="#111" stroke-width="0.55"/>
<circle cx="524.62" cy="174.74" r="2.1" fill="#4fc46a" stroke="#111" stroke-width="0.55"/>
<circle cx="528.52" cy="174.62" r="1.35" fill="#4fc46a" stroke="#111" stroke-width="0.55"/>
<circle cx="524.90" cy="173.40" r="1.35" fill="#4fc46a" stroke="#111" stroke-width="0.55"/>
<circle cx="529.34" cy="172.17" r="2.1" fill="#4fc46a" stroke="#111" stroke-width="0.55"/>
<circle cx="531.03" cy="172.90" r="2.1" fill="#4fc46a" stroke="#111" stroke-width="0.55"/>
<circle cx="527.69" cy="171.52" r="2.1" fill="#4fc46a" stroke="#111" stroke-width="0.55"/>
<circle cx="528.75" cy="177.29" r="2.1" fill="#4fc46a" stroke="#111" stroke-width="0.55"/>
<circle cx="535.10" cy="155.20" r="1.2" fill="#ecec3c" stroke="#333" stroke-width="0.4"/>
<circle cx="535.10" cy="160.80" r="1.2" fill="#ecec3c" stroke="#333" stroke-width="0.4"/>
<circle cx="545.80" cy="157.20" r="1.3" fill="#ee8a48" stroke="#333" stroke-width="0.4"/>
<circle cx="542.90" cy="160.20" r="1.3" fill="#ee8a48" stroke="#333" stroke-width="0.4"/>
<circle cx="547.30" cy="159.70" r="1.3" fill="#ee8a48" stroke="#333" stroke-width="0.4"/>
<circle cx="548.80" cy="162.10" r="1.3" fill="#ee8a48" stroke="#333" stroke-width="0.4"/>
<circle cx="544.90" cy="163.10" r="1.3" fill="#ee8a48" stroke="#333" stroke-width="0.4"/>
<circle cx="549.80" cy="163.10" r="1.3" fill="#ee8a48" stroke="#333" stroke-width="0.4"/>
<circle cx="553.20" cy="160.60" r="1.35" fill="#b060ea" stroke="#333" stroke-width="0.4"/>
<circle cx="555.20" cy="159.20" r="1.35" fill="#b060ea" stroke="#333" stroke-width="0.4"/>
<circle cx="555.70" cy="162.60" r="1.35" fill="#b060ea" stroke="#333" stroke-width="0.4"/>
<circle cx="557.70" cy="164.10" r="1.35" fill="#b060ea" stroke="#333" stroke-width="0.4"/>
<circle cx="555.20" cy="165.60" r="1.35" fill="#b060ea" stroke="#333" stroke-width="0.4"/>
<circle cx="557.20" cy="169.00" r="2.1" fill="#b060ea" stroke="#333" stroke-width="0.4"/>
<circle cx="555.20" cy="171.00" r="2.1" fill="#b060ea" stroke="#333" stroke-width="0.4"/>
<rect x="560.50" y="152.20" width="8.60" height="14.00" rx="3.5" fill="#3a1733"/>
<circle cx="567.55" cy="157.88" r="2.1" fill="#8a3f7c" stroke="#111" stroke-width="0.5"/>
<circle cx="562.25" cy="155.15" r="1.8" fill="#4a1f44" stroke="#111" stroke-width="0.5"/>
<circle cx="562.04" cy="157.55" r="1.8" fill="#8a3f7c" stroke="#111" stroke-width="0.5"/>
<circle cx="564.51" cy="161.95" r="2.1" fill="#4a1f44" stroke="#111" stroke-width="0.5"/>
<circle cx="566.21" cy="154.10" r="2.1" fill="#6a2c5e" stroke="#111" stroke-width="0.5"/>
<circle cx="567.53" cy="154.06" r="1.3" fill="#6a2c5e" stroke="#111" stroke-width="0.5"/>
<circle cx="567.49" cy="155.54" r="1.8" fill="#4a1f44" stroke="#111" stroke-width="0.5"/>
<circle cx="563.89" cy="164.59" r="1.3" fill="#6a2c5e" stroke="#111" stroke-width="0.5"/>
<circle cx="561.88" cy="164.99" r="1.8" fill="#6a2c5e" stroke="#111" stroke-width="0.5"/>
<circle cx="564.97" cy="159.52" r="2.1" fill="#4a1f44" stroke="#111" stroke-width="0.5"/>
<circle cx="564.79" cy="161.66" r="1.3" fill="#b070a0" stroke="#111" stroke-width="0.5"/>
<circle cx="564.71" cy="159.04" r="1.3" fill="#6a2c5e" stroke="#111" stroke-width="0.5"/>
<circle cx="567.28" cy="155.83" r="1.3" fill="#4a1f44" stroke="#111" stroke-width="0.5"/>
<circle cx="567.75" cy="164.30" r="1.3" fill="#b070a0" stroke="#111" stroke-width="0.5"/>
<circle cx="565.48" cy="165.16" r="1.3" fill="#4a1f44" stroke="#111" stroke-width="0.5"/>
<circle cx="562.24" cy="164.71" r="1.3" fill="#6a2c5e" stroke="#111" stroke-width="0.5"/>
<circle cx="562.39" cy="164.69" r="1.8" fill="#6a2c5e" stroke="#111" stroke-width="0.5"/>
<circle cx="561.90" cy="161.46" r="1.3" fill="#6a2c5e" stroke="#111" stroke-width="0.5"/>
<circle cx="564.00" cy="155.79" r="1.3" fill="#b070a0" stroke="#111" stroke-width="0.5"/>
<circle cx="564.23" cy="157.36" r="1.3" fill="#6a2c5e" stroke="#111" stroke-width="0.5"/>
<circle cx="563.33" cy="159.51" r="2.1" fill="#4a1f44" stroke="#111" stroke-width="0.5"/>
<circle cx="565.88" cy="156.01" r="1.3" fill="#b070a0" stroke="#111" stroke-width="0.5"/>
<circle cx="562.95" cy="158.62" r="1.8" fill="#8a3f7c" stroke="#111" stroke-width="0.5"/>
<circle cx="562.85" cy="160.52" r="2.1" fill="#4a1f44" stroke="#111" stroke-width="0.5"/>
<circle cx="567.14" cy="155.99" r="2.1" fill="#4a1f44" stroke="#111" stroke-width="0.5"/>
<circle cx="563.74" cy="161.29" r="2.1" fill="#8a3f7c" stroke="#111" stroke-width="0.5"/>
<circle cx="562.27" cy="159.24" r="1.3" fill="#b070a0" stroke="#111" stroke-width="0.5"/>
<circle cx="561.98" cy="154.86" r="1.3" fill="#4a1f44" stroke="#111" stroke-width="0.5"/>
<circle cx="567.35" cy="157.85" r="1.8" fill="#8a3f7c" stroke="#111" stroke-width="0.5"/>
<circle cx="566.60" cy="157.26" r="1.8" fill="#8a3f7c" stroke="#111" stroke-width="0.5"/>
<circle cx="567.32" cy="164.53" r="1.8" fill="#6a2c5e" stroke="#111" stroke-width="0.5"/>
<circle cx="567.74" cy="153.82" r="1.8" fill="#6a2c5e" stroke="#111" stroke-width="0.5"/>
<circle cx="567.62" cy="155.10" r="1.3" fill="#6a2c5e" stroke="#111" stroke-width="0.5"/>
<circle cx="562.69" cy="155.91" r="1.8" fill="#4a1f44" stroke="#111" stroke-width="0.5"/>
<circle cx="562.56" cy="162.84" r="1.3" fill="#4a1f44" stroke="#111" stroke-width="0.5"/>
<circle cx="562.89" cy="161.34" r="1.8" fill="#b070a0" stroke="#111" stroke-width="0.5"/>
<circle cx="564.01" cy="156.48" r="1.3" fill="#6a2c5e" stroke="#111" stroke-width="0.5"/>
<circle cx="566.20" cy="154.68" r="1.3" fill="#4a1f44" stroke="#111" stroke-width="0.5"/>
<circle cx="565.31" cy="159.46" r="2.1" fill="#b070a0" stroke="#111" stroke-width="0.5"/>
<circle cx="563.32" cy="161.04" r="1.3" fill="#6a2c5e" stroke="#111" stroke-width="0.5"/>
<circle cx="568.00" cy="169.00" r="2.2" fill="#f2a6de" stroke="#111" stroke-width="0.55"/>
<rect x="409.3" y="134.4" width="161.60" height="47.50" fill="none" stroke="#1a1a1a" stroke-width="1"/>
<line x1="407.7" y1="135.90" x2="409.3" y2="135.90" stroke="#333" stroke-width="0.6"/>
<text x="406.30" y="138.10" font-size="6.4" text-anchor="end" fill="#333">2</text>
<line x1="407.7" y1="147.05" x2="409.3" y2="147.05" stroke="#333" stroke-width="0.6"/>
<text x="406.30" y="149.25" font-size="6.4" text-anchor="end" fill="#333">1</text>
<line x1="407.7" y1="158.20" x2="409.3" y2="158.20" stroke="#333" stroke-width="0.6"/>
<text x="406.30" y="160.40" font-size="6.4" text-anchor="end" fill="#333">0</text>
<line x1="407.7" y1="169.35" x2="409.3" y2="169.35" stroke="#333" stroke-width="0.6"/>
<text x="406.30" y="171.55" font-size="6.4" text-anchor="end" fill="#333">-1</text>
<line x1="407.7" y1="180.50" x2="409.3" y2="180.50" stroke="#333" stroke-width="0.6"/>
<text x="406.30" y="182.70" font-size="6.4" text-anchor="end" fill="#333">-2</text>
<line x1="414.10" y1="181.9" x2="414.10" y2="183.4" stroke="#333" stroke-width="0.6"/>
<line x1="423.60" y1="181.9" x2="423.60" y2="183.4" stroke="#333" stroke-width="0.6"/>
<line x1="433.10" y1="181.9" x2="433.10" y2="183.4" stroke="#333" stroke-width="0.6"/>
<line x1="442.60" y1="181.9" x2="442.60" y2="183.4" stroke="#333" stroke-width="0.6"/>
<line x1="452.10" y1="181.9" x2="452.10" y2="183.4" stroke="#333" stroke-width="0.6"/>
<line x1="461.60" y1="181.9" x2="461.60" y2="183.4" stroke="#333" stroke-width="0.6"/>
<line x1="471.10" y1="181.9" x2="471.10" y2="183.4" stroke="#333" stroke-width="0.6"/>
<line x1="480.60" y1="181.9" x2="480.60" y2="183.4" stroke="#333" stroke-width="0.6"/>
<line x1="490.10" y1="181.9" x2="490.10" y2="183.4" stroke="#333" stroke-width="0.6"/>
<line x1="499.60" y1="181.9" x2="499.60" y2="183.4" stroke="#333" stroke-width="0.6"/>
<line x1="509.10" y1="181.9" x2="509.10" y2="183.4" stroke="#333" stroke-width="0.6"/>
<line x1="518.60" y1="181.9" x2="518.60" y2="183.4" stroke="#333" stroke-width="0.6"/>
<line x1="528.10" y1="181.9" x2="528.10" y2="183.4" stroke="#333" stroke-width="0.6"/>
<line x1="537.60" y1="181.9" x2="537.60" y2="183.4" stroke="#333" stroke-width="0.6"/>
<line x1="547.10" y1="181.9" x2="547.10" y2="183.4" stroke="#333" stroke-width="0.6"/>
<line x1="556.60" y1="181.9" x2="556.60" y2="183.4" stroke="#333" stroke-width="0.6"/>
<line x1="566.10" y1="181.9" x2="566.10" y2="183.4" stroke="#333" stroke-width="0.6"/>
<text x="477.40" y="132.80" font-size="7.5" text-anchor="middle" font-weight="bold" fill="#111">iii: Late EW vs Early EW</text>
<text x="396.8" y="161.00" font-size="8.0" text-anchor="middle" fill="#222" transform="rotate(-90 396.8 161.00)">log<tspan font-size="5.3" dy="1.8">2</tspan><tspan dy="-1.8">(fold change)</tspan></text>
<text x="417.00" y="186.30" font-size="6.4" text-anchor="end" fill="#222" transform="rotate(-45 417.00 186.30)">BMP</text>
<text x="426.50" y="186.30" font-size="6.4" text-anchor="end" fill="#222" transform="rotate(-45 426.50 186.30)">CE</text>
<text x="436.00" y="186.30" font-size="6.4" text-anchor="end" fill="#222" transform="rotate(-45 436.00 186.30)">CER</text>
<text x="445.50" y="186.30" font-size="6.4" text-anchor="end" fill="#222" transform="rotate(-45 445.50 186.30)">DAG</text>
<text x="455.00" y="186.30" font-size="6.4" text-anchor="end" fill="#222" transform="rotate(-45 455.00 186.30)">DGDG</text>
<text x="464.50" y="186.30" font-size="6.4" text-anchor="end" fill="#222" transform="rotate(-45 464.50 186.30)">FFA</text>
<text x="474.00" y="186.30" font-size="6.4" text-anchor="end" fill="#222" transform="rotate(-45 474.00 186.30)">HCER</text>
<text x="483.50" y="186.30" font-size="6.4" text-anchor="end" fill="#222" transform="rotate(-45 483.50 186.30)">LCER</text>
<text x="493.00" y="186.30" font-size="6.4" text-anchor="end" fill="#222" transform="rotate(-45 493.00 186.30)">LPC</text>
<text x="502.50" y="186.30" font-size="6.4" text-anchor="end" fill="#222" transform="rotate(-45 502.50 186.30)">LPE</text>
<text x="512.00" y="186.30" font-size="6.4" text-anchor="end" fill="#222" transform="rotate(-45 512.00 186.30)">LPS</text>
<text x="521.50" y="186.30" font-size="6.4" text-anchor="end" fill="#222" transform="rotate(-45 521.50 186.30)">PC</text>
<text x="531.00" y="186.30" font-size="6.4" text-anchor="end" fill="#222" transform="rotate(-45 531.00 186.30)">PE</text>
<text x="540.50" y="186.30" font-size="6.4" text-anchor="end" fill="#222" transform="rotate(-45 540.50 186.30)">PG</text>
<text x="550.00" y="186.30" font-size="6.4" text-anchor="end" fill="#222" transform="rotate(-45 550.00 186.30)">PI</text>
<text x="559.50" y="186.30" font-size="6.4" text-anchor="end" fill="#222" transform="rotate(-45 559.50 186.30)">SM</text>
<text x="569.00" y="186.30" font-size="6.4" text-anchor="end" fill="#222" transform="rotate(-45 569.00 186.30)">TAG</text>
<text x="583.20" y="30.80" font-size="6.9" text-anchor="start" fill="#222">Significance</text>
<circle cx="587.3" cy="38.2" r="2.3" fill="#fff" stroke="#333" stroke-width="0.5"/>
<circle cx="587.3" cy="46.4" r="1.2" fill="#fff" stroke="#333" stroke-width="0.5"/>
<text x="594.50" y="39.90" font-size="6.4" text-anchor="start" fill="#222">P.adj.fdr &lt; 0.05</text>
<text x="594.50" y="48.50" font-size="6.4" text-anchor="start" fill="#222">P.adj.fdr ≥ 0.05</text>
<text x="578.00" y="87.20" font-size="6.9" text-anchor="start" fill="#222">Lipid species</text>
<circle cx="583.3" cy="97.90" r="2.2" fill="#6b8fd4" stroke="#444" stroke-width="0.4"/>
<text x="592.30" y="100.10" font-size="6.3" text-anchor="start" fill="#222">BMP</text>
<circle cx="583.3" cy="108.54" r="2.2" fill="#87b2e0" stroke="#444" stroke-width="0.4"/>
<text x="592.30" y="110.74" font-size="6.3" text-anchor="start" fill="#222">CE</text>
<circle cx="583.3" cy="119.18" r="2.2" fill="#8ec4e8" stroke="#444" stroke-width="0.4"/>
<text x="592.30" y="121.38" font-size="6.3" text-anchor="start" fill="#222">CER</text>
<circle cx="583.3" cy="129.82" r="2.2" fill="#d8773f" stroke="#444" stroke-width="0.4"/>
<text x="592.30" y="132.02" font-size="6.3" text-anchor="start" fill="#222">DAG</text>
<circle cx="583.3" cy="140.46" r="2.2" fill="#e8c240" stroke="#444" stroke-width="0.4"/>
<text x="592.30" y="142.66" font-size="6.3" text-anchor="start" fill="#222">DGDG</text>
<circle cx="583.3" cy="151.10" r="2.2" fill="#7cbc5e" stroke="#444" stroke-width="0.4"/>
<text x="592.30" y="153.30" font-size="6.3" text-anchor="start" fill="#222">FFA</text>
<circle cx="583.3" cy="161.74" r="2.2" fill="#acd4f0" stroke="#444" stroke-width="0.4"/>
<text x="592.30" y="163.94" font-size="6.3" text-anchor="start" fill="#222">HCER</text>
<circle cx="583.3" cy="172.38" r="2.2" fill="#b0b0b0" stroke="#444" stroke-width="0.4"/>
<text x="592.30" y="174.58" font-size="6.3" text-anchor="start" fill="#222">LCER</text>
<circle cx="583.3" cy="183.02" r="2.2" fill="#7a48b8" stroke="#444" stroke-width="0.4"/>
<text x="592.30" y="185.22" font-size="6.3" text-anchor="start" fill="#222">LPC</text>
<circle cx="620.4" cy="97.90" r="2.2" fill="#c8383a" stroke="#444" stroke-width="0.4"/>
<text x="629.40" y="100.10" font-size="6.3" text-anchor="start" fill="#222">LPE</text>
<circle cx="620.4" cy="108.54" r="2.2" fill="#e5343c" stroke="#444" stroke-width="0.4"/>
<text x="629.40" y="110.74" font-size="6.3" text-anchor="start" fill="#222">LPS</text>
<circle cx="620.4" cy="119.18" r="2.2" fill="#58c3ec" stroke="#444" stroke-width="0.4"/>
<text x="629.40" y="121.38" font-size="6.3" text-anchor="start" fill="#222">PC</text>
<circle cx="620.4" cy="129.82" r="2.2" fill="#4fc46a" stroke="#444" stroke-width="0.4"/>
<text x="629.40" y="132.02" font-size="6.3" text-anchor="start" fill="#222">PE</text>
<circle cx="620.4" cy="140.46" r="2.2" fill="#ecec3c" stroke="#444" stroke-width="0.4"/>
<text x="629.40" y="142.66" font-size="6.3" text-anchor="start" fill="#222">PG</text>
<circle cx="620.4" cy="151.10" r="2.2" fill="#ee8a48" stroke="#444" stroke-width="0.4"/>
<text x="629.40" y="153.30" font-size="6.3" text-anchor="start" fill="#222">PI</text>
<circle cx="620.4" cy="161.74" r="2.2" fill="#b060ea" stroke="#444" stroke-width="0.4"/>
<text x="629.40" y="163.94" font-size="6.3" text-anchor="start" fill="#222">SM</text>
<circle cx="620.4" cy="172.38" r="2.2" fill="#f2a6de" stroke="#444" stroke-width="0.4"/>
<text x="629.40" y="174.58" font-size="6.3" text-anchor="start" fill="#222">TAG</text>
<g shape-rendering="crispEdges">
<rect x="48.5" y="229.9" width="3.3" height="5.6" fill="#ffffff"/>
<rect x="51.78" y="229.9" width="3.3" height="5.6" fill="#f6e4e7"/>
<rect x="55.06" y="229.9" width="3.3" height="5.6" fill="#ffffff"/>
<rect x="58.35" y="229.9" width="3.3" height="5.6" fill="#d37989"/>
<rect x="61.63" y="229.9" width="3.3" height="5.6" fill="#db94a0"/>
<rect x="64.91" y="229.9" width="3.3" height="5.6" fill="#c1445a"/>
<rect x="68.19" y="229.9" width="3.3" height="5.6" fill="#d37989"/>
<rect x="71.48" y="229.9" width="3.3" height="5.6" fill="#edc9d0"/>
<rect x="74.76" y="229.9" width="3.3" height="5.6" fill="#edc9d0"/>
<rect x="78.04" y="229.9" width="3.3" height="5.6" fill="#e4afb8"/>
<rect x="81.32" y="229.9" width="3.3" height="5.6" fill="#db94a0"/>
<rect x="84.61" y="229.9" width="3.3" height="5.6" fill="#ca5e71"/>
<rect x="87.89" y="229.9" width="3.3" height="5.6" fill="#ca5e71"/>
<rect x="91.17" y="229.9" width="3.3" height="5.6" fill="#d37989"/>
<rect x="94.45" y="229.9" width="3.3" height="5.6" fill="#b82942"/>
<rect x="97.74" y="229.9" width="3.3" height="5.6" fill="#f6e4e7"/>
<rect x="101.02" y="229.9" width="3.3" height="5.6" fill="#d37989"/>
<rect x="48.5" y="235.48" width="3.3" height="5.6" fill="#f2f6fa"/>
<rect x="51.78" y="235.48" width="3.3" height="5.6" fill="#edc9d0"/>
<rect x="55.06" y="235.48" width="3.3" height="5.6" fill="#edc9d0"/>
<rect x="58.35" y="235.48" width="3.3" height="5.6" fill="#e4afb8"/>
<rect x="61.63" y="235.48" width="3.3" height="5.6" fill="#ffffff"/>
<rect x="64.91" y="235.48" width="3.3" height="5.6" fill="#d37989"/>
<rect x="68.19" y="235.48" width="3.3" height="5.6" fill="#ca5e71"/>
<rect x="71.48" y="235.48" width="3.3" height="5.6" fill="#ffffff"/>
<rect x="74.76" y="235.48" width="3.3" height="5.6" fill="#edc9d0"/>
<rect x="78.04" y="235.48" width="3.3" height="5.6" fill="#db94a0"/>
<rect x="81.32" y="235.48" width="3.3" height="5.6" fill="#edc9d0"/>
<rect x="84.61" y="235.48" width="3.3" height="5.6" fill="#d37989"/>
<rect x="87.89" y="235.48" width="3.3" height="5.6" fill="#c1445a"/>
<rect x="91.17" y="235.48" width="3.3" height="5.6" fill="#db94a0"/>
<rect x="94.45" y="235.48" width="3.3" height="5.6" fill="#d37989"/>
<rect x="97.74" y="235.48" width="3.3" height="5.6" fill="#edc9d0"/>
<rect x="101.02" y="235.48" width="3.3" height="5.6" fill="#c1445a"/>
<rect x="48.5" y="241.06" width="3.3" height="5.6" fill="#e4afb8"/>
<rect x="51.78" y="241.06" width="3.3" height="5.6" fill="#f6e4e7"/>
<rect x="55.06" y="241.06" width="3.3" height="5.6" fill="#db94a0"/>
<rect x="58.35" y="241.06" width="3.3" height="5.6" fill="#ffffff"/>
<rect x="61.63" y="241.06" width="3.3" height="5.6" fill="#e4afb8"/>
<rect x="64.91" y="241.06" width="3.3" height="5.6" fill="#b82942"/>
<rect x="68.19" y="241.06" width="3.3" height="5.6" fill="#ca5e71"/>
<rect x="71.48" y="241.06" width="3.3" height="5.6" fill="#db94a0"/>
<rect x="74.76" y="241.06" width="3.3" height="5.6" fill="#e4afb8"/>
<rect x="78.04" y="241.06" width="3.3" height="5.6" fill="#f6e4e7"/>
<rect x="81.32" y="241.06" width="3.3" height="5.6" fill="#edc9d0"/>
<rect x="84.61" y="241.06" width="3.3" height="5.6" fill="#e4afb8"/>
<rect x="87.89" y="241.06" width="3.3" height="5.6" fill="#d37989"/>
<rect x="91.17" y="241.06" width="3.3" height="5.6" fill="#d37989"/>
<rect x="94.45" y="241.06" width="3.3" height="5.6" fill="#edc9d0"/>
<rect x="97.74" y="241.06" width="3.3" height="5.6" fill="#d37989"/>
<rect x="101.02" y="241.06" width="3.3" height="5.6" fill="#d37989"/>
<rect x="48.5" y="246.64" width="3.3" height="5.6" fill="#edc9d0"/>
<rect x="51.78" y="246.64" width="3.3" height="5.6" fill="#e4afb8"/>
<rect x="55.06" y="246.64" width="3.3" height="5.6" fill="#db94a0"/>
<rect x="58.35" y="246.64" width="3.3" height="5.6" fill="#edc9d0"/>
<rect x="61.63" y="246.64" width="3.3" height="5.6" fill="#e4afb8"/>
<rect x="64.91" y="246.64" width="3.3" height="5.6" fill="#b82942"/>
<rect x="68.19" y="246.64" width="3.3" height="5.6" fill="#ca5e71"/>
<rect x="71.48" y="246.64" width="3.3" height="5.6" fill="#db94a0"/>
<rect x="74.76" y="246.64" width="3.3" height="5.6" fill="#e4afb8"/>
<rect x="78.04" y="246.64" width="3.3" height="5.6" fill="#edc9d0"/>
<rect x="81.32" y="246.64" width="3.3" height="5.6" fill="#e4afb8"/>
<rect x="84.61" y="246.64" width="3.3" height="5.6" fill="#e4afb8"/>
<rect x="87.89" y="246.64" width="3.3" height="5.6" fill="#db94a0"/>
<rect x="91.17" y="246.64" width="3.3" height="5.6" fill="#db94a0"/>
<rect x="94.45" y="246.64" width="3.3" height="5.6" fill="#e4afb8"/>
<rect x="97.74" y="246.64" width="3.3" height="5.6" fill="#db94a0"/>
<rect x="101.02" y="246.64" width="3.3" height="5.6" fill="#ca5e71"/>
<rect x="48.5" y="252.22" width="3.3" height="5.6" fill="#edc9d0"/>
<rect x="51.78" y="252.22" width="3.3" height="5.6" fill="#e4afb8"/>
<rect x="55.06" y="252.22" width="3.3" height="5.6" fill="#db94a0"/>
<rect x="58.35" y="252.22" width="3.3" height="5.6" fill="#ffffff"/>
<rect x="61.63" y="252.22" width="3.3" height="5.6" fill="#e4afb8"/>
<rect x="64.91" y="252.22" width="3.3" height="5.6" fill="#b82942"/>
<rect x="68.19" y="252.22" width="3.3" height="5.6" fill="#ca5e71"/>
<rect x="71.48" y="252.22" width="3.3" height="5.6" fill="#db94a0"/>
<rect x="74.76" y="252.22" width="3.3" height="5.6" fill="#edc9d0"/>
<rect x="78.04" y="252.22" width="3.3" height="5.6" fill="#edc9d0"/>
<rect x="81.32" y="252.22" width="3.3" height="5.6" fill="#e4afb8"/>
<rect x="84.61" y="252.22" width="3.3" height="5.6" fill="#edc9d0"/>
<rect x="87.89" y="252.22" width="3.3" height="5.6" fill="#db94a0"/>
<rect x="91.17" y="252.22" width="3.3" height="5.6" fill="#db94a0"/>
<rect x="94.45" y="252.22" width="3.3" height="5.6" fill="#e4afb8"/>
<rect x="97.74" y="252.22" width="3.3" height="5.6" fill="#ca5e71"/>
<rect x="101.02" y="252.22" width="3.3" height="5.6" fill="#c1445a"/>
<rect x="48.5" y="257.8" width="3.3" height="5.6" fill="#edc9d0"/>
<rect x="51.78" y="257.8" width="3.3" height="5.6" fill="#db94a0"/>
<rect x="55.06" y="257.8" width="3.3" height="5.6" fill="#db94a0"/>
<rect x="58.35" y="257.8" width="3.3" height="5.6" fill="#e4afb8"/>
<rect x="61.63" y="257.8" width="3.3" height="5.6" fill="#db94a0"/>
<rect x="64.91" y="257.8" width="3.3" height="5.6" fill="#b82942"/>
<rect x="68.19" y="257.8" width="3.3" height="5.6" fill="#ca5e71"/>
<rect x="71.48" y="257.8" width="3.3" height="5.6" fill="#d37989"/>
<rect x="74.76" y="257.8" width="3.3" height="5.6" fill="#e4afb8"/>
<rect x="78.04" y="257.8" width="3.3" height="5.6" fill="#f2f6fa"/>
<rect x="81.32" y="257.8" width="3.3" height="5.6" fill="#edc9d0"/>
<rect x="84.61" y="257.8" width="3.3" height="5.6" fill="#edc9d0"/>
<rect x="87.89" y="257.8" width="3.3" height="5.6" fill="#db94a0"/>
<rect x="91.17" y="257.8" width="3.3" height="5.6" fill="#e4afb8"/>
<rect x="94.45" y="257.8" width="3.3" height="5.6" fill="#edc9d0"/>
<rect x="97.74" y="257.8" width="3.3" height="5.6" fill="#db94a0"/>
<rect x="101.02" y="257.8" width="3.3" height="5.6" fill="#d37989"/>
<rect x="48.5" y="263.38" width="3.3" height="5.6" fill="#edc9d0"/>
<rect x="51.78" y="263.38" width="3.3" height="5.6" fill="#edc9d0"/>
<rect x="55.06" y="263.38" width="3.3" height="5.6" fill="#d37989"/>
<rect x="58.35" y="263.38" width="3.3" height="5.6" fill="#e4afb8"/>
<rect x="61.63" y="263.38" width="3.3" height="5.6" fill="#db94a0"/>
<rect x="64.91" y="263.38" width="3.3" height="5.6" fill="#b82942"/>
<rect x="68.19" y="263.38" width="3.3" height="5.6" fill="#ca5e71"/>
<rect x="71.48" y="263.38" width="3.3" height="5.6" fill="#d37989"/>
<rect x="74.76" y="263.38" width="3.3" height="5.6" fill="#e4afb8"/>
<rect x="78.04" y="263.38" width="3.3" height="5.6" fill="#f2f6fa"/>
<rect x="81.32" y="263.38" width="3.3" height="5.6" fill="#f6e4e7"/>
<rect x="84.61" y="263.38" width="3.3" height="5.6" fill="#e4afb8"/>
<rect x="87.89" y="263.38" width="3.3" height="5.6" fill="#e4afb8"/>
<rect x="91.17" y="263.38" width="3.3" height="5.6" fill="#db94a0"/>
<rect x="94.45" y="263.38" width="3.3" height="5.6" fill="#edc9d0"/>
<rect x="97.74" y="263.38" width="3.3" height="5.6" fill="#db94a0"/>
<rect x="101.02" y="263.38" width="3.3" height="5.6" fill="#d37989"/>
<rect x="48.5" y="268.96" width="3.3" height="5.6" fill="#e4afb8"/>
<rect x="51.78" y="268.96" width="3.3" height="5.6" fill="#f6e4e7"/>
<rect x="55.06" y="268.96" width="3.3" height="5.6" fill="#e4afb8"/>
<rect x="58.35" y="268.96" width="3.3" height="5.6" fill="#f6e4e7"/>
<rect x="61.63" y="268.96" width="3.3" height="5.6" fill="#e4afb8"/>
<rect x="64.91" y="268.96" width="3.3" height="5.6" fill="#c1445a"/>
<rect x="68.19" y="268.96" width="3.3" height="5.6" fill="#ca5e71"/>
<rect x="71.48" y="268.96" width="3.3" height="5.6" fill="#db94a0"/>
<rect x="74.76" y="268.96" width="3.3" height="5.6" fill="#db94a0"/>
<rect x="78.04" y="268.96" width="3.3" height="5.6" fill="#e4afb8"/>
<rect x="81.32" y="268.96" width="3.3" height="5.6" fill="#e4afb8"/>
<rect x="84.61" y="268.96" width="3.3" height="5.6" fill="#ffffff"/>
<rect x="87.89" y="268.96" width="3.3" height="5.6" fill="#e4afb8"/>
<rect x="91.17" y="268.96" width="3.3" height="5.6" fill="#d37989"/>
<rect x="94.45" y="268.96" width="3.3" height="5.6" fill="#d37989"/>
<rect x="97.74" y="268.96" width="3.3" height="5.6" fill="#db94a0"/>
<rect x="101.02" y="268.96" width="3.3" height="5.6" fill="#d37989"/>
<rect x="48.5" y="274.54" width="3.3" height="5.6" fill="#edc9d0"/>
<rect x="51.78" y="274.54" width="3.3" height="5.6" fill="#edc9d0"/>
<rect x="55.06" y="274.54" width="3.3" height="5.6" fill="#db94a0"/>
<rect x="58.35" y="274.54" width="3.3" height="5.6" fill="#e4afb8"/>
<rect x="61.63" y="274.54" width="3.3" height="5.6" fill="#db94a0"/>
<rect x="64.91" y="274.54" width="3.3" height="5.6" fill="#b82942"/>
<rect x="68.19" y="274.54" width="3.3" height="5.6" fill="#d37989"/>
<rect x="71.48" y="274.54" width="3.3" height="5.6" fill="#f6e4e7"/>
<rect x="74.76" y="274.54" width="3.3" height="5.6" fill="#e4afb8"/>
<rect x="78.04" y="274.54" width="3.3" height="5.6" fill="#db94a0"/>
<rect x="81.32" y="274.54" width="3.3" height="5.6" fill="#ca5e71"/>
<rect x="84.61" y="274.54" width="3.3" height="5.6" fill="#e4afb8"/>
<rect x="87.89" y="274.54" width="3.3" height="5.6" fill="#db94a0"/>
<rect x="91.17" y="274.54" width="3.3" height="5.6" fill="#d37989"/>
<rect x="94.45" y="274.54" width="3.3" height="5.6" fill="#d37989"/>
<rect x="97.74" y="274.54" width="3.3" height="5.6" fill="#db94a0"/>
<rect x="101.02" y="274.54" width="3.3" height="5.6" fill="#e4afb8"/>
<rect x="48.5" y="280.12" width="3.3" height="5.6" fill="#edc9d0"/>
<rect x="51.78" y="280.12" width="3.3" height="5.6" fill="#f6e4e7"/>
<rect x="55.06" y="280.12" width="3.3" height="5.6" fill="#e4afb8"/>
<rect x="58.35" y="280.12" width="3.3" height="5.6" fill="#e4afb8"/>
<rect x="61.63" y="280.12" width="3.3" height="5.6" fill="#e4afb8"/>
<rect x="64.91" y="280.12" width="3.3" height="5.6" fill="#b82942"/>
<rect x="68.19" y="280.12" width="3.3" height="5.6" fill="#d37989"/>
<rect x="71.48" y="280.12" width="3.3" height="5.6" fill="#e4afb8"/>
<rect x="74.76" y="280.12" width="3.3" height="5.6" fill="#e4afb8"/>
<rect x="78.04" y="280.12" width="3.3" height="5.6" fill="#ffffff"/>
<rect x="81.32" y="280.12" width="3.3" height="5.6" fill="#e4afb8"/>
<rect x="84.61" y="280.12" width="3.3" height="5.6" fill="#eaf0f7"/>
<rect x="87.89" y="280.12" width="3.3" height="5.6" fill="#db94a0"/>
<rect x="91.17" y="280.12" width="3.3" height="5.6" fill="#d37989"/>
<rect x="94.45" y="280.12" width="3.3" height="5.6" fill="#d37989"/>
<rect x="97.74" y="280.12" width="3.3" height="5.6" fill="#e4afb8"/>
<rect x="101.02" y="280.12" width="3.3" height="5.6" fill="#e4afb8"/>
<rect x="48.5" y="285.7" width="3.3" height="5.6" fill="#edc9d0"/>
<rect x="51.78" y="285.7" width="3.3" height="5.6" fill="#f6e4e7"/>
<rect x="55.06" y="285.7" width="3.3" height="5.6" fill="#e4afb8"/>
<rect x="58.35" y="285.7" width="3.3" height="5.6" fill="#f6e4e7"/>
<rect x="61.63" y="285.7" width="3.3" height="5.6" fill="#edc9d0"/>
<rect x="64.91" y="285.7" width="3.3" height="5.6" fill="#b82942"/>
<rect x="68.19" y="285.7" width="3.3" height="5.6" fill="#ca5e71"/>
<rect x="71.48" y="285.7" width="3.3" height="5.6" fill="#edc9d0"/>
<rect x="74.76" y="285.7" width="3.3" height="5.6" fill="#edc9d0"/>
<rect x="78.04" y="285.7" width="3.3" height="5.6" fill="#ffffff"/>
<rect x="81.32" y="285.7" width="3.3" height="5.6" fill="#edc9d0"/>
<rect x="84.61" y="285.7" width="3.3" height="5.6" fill="#f6e4e7"/>
<rect x="87.89" y="285.7" width="3.3" height="5.6" fill="#f2f6fa"/>
<rect x="91.17" y="285.7" width="3.3" height="5.6" fill="#db94a0"/>
<rect x="94.45" y="285.7" width="3.3" height="5.6" fill="#e4afb8"/>
<rect x="97.74" y="285.7" width="3.3" height="5.6" fill="#edc9d0"/>
<rect x="101.02" y="285.7" width="3.3" height="5.6" fill="#db94a0"/>
<rect x="48.5" y="291.28" width="3.3" height="5.6" fill="#ffffff"/>
<rect x="51.78" y="291.28" width="3.3" height="5.6" fill="#db94a0"/>
<rect x="55.06" y="291.28" width="3.3" height="5.6" fill="#d37989"/>
<rect x="58.35" y="291.28" width="3.3" height="5.6" fill="#db94a0"/>
<rect x="61.63" y="291.28" width="3.3" height="5.6" fill="#db94a0"/>
<rect x="64.91" y="291.28" width="3.3" height="5.6" fill="#ca5e71"/>
<rect x="68.19" y="291.28" width="3.3" height="5.6" fill="#b82942"/>
<rect x="71.48" y="291.28" width="3.3" height="5.6" fill="#e4afb8"/>
<rect x="74.76" y="291.28" width="3.3" height="5.6" fill="#edc9d0"/>
<rect x="78.04" y="291.28" width="3.3" height="5.6" fill="#f6e4e7"/>
<rect x="81.32" y="291.28" width="3.3" height="5.6" fill="#e4afb8"/>
<rect x="84.61" y="291.28" width="3.3" height="5.6" fill="#ca5e71"/>
<rect x="87.89" y="291.28" width="3.3" height="5.6" fill="#ffffff"/>
<rect x="91.17" y="291.28" width="3.3" height="5.6" fill="#e4afb8"/>
<rect x="94.45" y="291.28" width="3.3" height="5.6" fill="#e4afb8"/>
<rect x="97.74" y="291.28" width="3.3" height="5.6" fill="#f6e4e7"/>
<rect x="101.02" y="291.28" width="3.3" height="5.6" fill="#edc9d0"/>
<rect x="48.5" y="296.86" width="3.3" height="5.6" fill="#f6e4e7"/>
<rect x="51.78" y="296.86" width="3.3" height="5.6" fill="#db94a0"/>
<rect x="55.06" y="296.86" width="3.3" height="5.6" fill="#c1445a"/>
<rect x="58.35" y="296.86" width="3.3" height="5.6" fill="#e4afb8"/>
<rect x="61.63" y="296.86" width="3.3" height="5.6" fill="#db94a0"/>
<rect x="64.91" y="296.86" width="3.3" height="5.6" fill="#ca5e71"/>
<rect x="68.19" y="296.86" width="3.3" height="5.6" fill="#c1445a"/>
<rect x="71.48" y="296.86" width="3.3" height="5.6" fill="#e4afb8"/>
<rect x="74.76" y="296.86" width="3.3" height="5.6" fill="#e4afb8"/>
<rect x="78.04" y="296.86" width="3.3" height="5.6" fill="#edc9d0"/>
<rect x="81.32" y="296.86" width="3.3" height="5.6" fill="#e4afb8"/>
<rect x="84.61" y="296.86" width="3.3" height="5.6" fill="#edc9d0"/>
<rect x="87.89" y="296.86" width="3.3" height="5.6" fill="#f6e4e7"/>
<rect x="91.17" y="296.86" width="3.3" height="5.6" fill="#e4afb8"/>
<rect x="94.45" y="296.86" width="3.3" height="5.6" fill="#e4afb8"/>
<rect x="97.74" y="296.86" width="3.3" height="5.6" fill="#ffffff"/>
<rect x="101.02" y="296.86" width="3.3" height="5.6" fill="#e4afb8"/>
<rect x="48.5" y="302.44" width="3.3" height="5.6" fill="#f6e4e7"/>
<rect x="51.78" y="302.44" width="3.3" height="5.6" fill="#db94a0"/>
<rect x="55.06" y="302.44" width="3.3" height="5.6" fill="#c1445a"/>
<rect x="58.35" y="302.44" width="3.3" height="5.6" fill="#db94a0"/>
<rect x="61.63" y="302.44" width="3.3" height="5.6" fill="#d37989"/>
<rect x="64.91" y="302.44" width="3.3" height="5.6" fill="#ca5e71"/>
<rect x="68.19" y="302.44" width="3.3" height="5.6" fill="#c1445a"/>
<rect x="71.48" y="302.44" width="3.3" height="5.6" fill="#e4afb8"/>
<rect x="74.76" y="302.44" width="3.3" height="5.6" fill="#e4afb8"/>
<rect x="78.04" y="302.44" width="3.3" height="5.6" fill="#f6e4e7"/>
<rect x="81.32" y="302.44" width="3.3" height="5.6" fill="#edc9d0"/>
<rect x="84.61" y="302.44" width="3.3" height="5.6" fill="#edc9d0"/>
<rect x="87.89" y="302.44" width="3.3" height="5.6" fill="#ffffff"/>
<rect x="91.17" y="302.44" width="3.3" height="5.6" fill="#e4afb8"/>
<rect x="94.45" y="302.44" width="3.3" height="5.6" fill="#edc9d0"/>
<rect x="97.74" y="302.44" width="3.3" height="5.6" fill="#ffffff"/>
<rect x="101.02" y="302.44" width="3.3" height="5.6" fill="#e4afb8"/>
<rect x="48.5" y="308.02" width="3.3" height="5.6" fill="#ffffff"/>
<rect x="51.78" y="308.02" width="3.3" height="5.6" fill="#e4afb8"/>
<rect x="55.06" y="308.02" width="3.3" height="5.6" fill="#db94a0"/>
<rect x="58.35" y="308.02" width="3.3" height="5.6" fill="#ffffff"/>
<rect x="61.63" y="308.02" width="3.3" height="5.6" fill="#db94a0"/>
<rect x="64.91" y="308.02" width="3.3" height="5.6" fill="#e4afb8"/>
<rect x="68.19" y="308.02" width="3.3" height="5.6" fill="#ca5e71"/>
<rect x="71.48" y="308.02" width="3.3" height="5.6" fill="#e4afb8"/>
<rect x="74.76" y="308.02" width="3.3" height="5.6" fill="#edc9d0"/>
<rect x="78.04" y="308.02" width="3.3" height="5.6" fill="#edc9d0"/>
<rect x="81.32" y="308.02" width="3.3" height="5.6" fill="#edc9d0"/>
<rect x="84.61" y="308.02" width="3.3" height="5.6" fill="#e4afb8"/>
<rect x="87.89" y="308.02" width="3.3" height="5.6" fill="#b82942"/>
<rect x="91.17" y="308.02" width="3.3" height="5.6" fill="#e4afb8"/>
<rect x="94.45" y="308.02" width="3.3" height="5.6" fill="#edc9d0"/>
<rect x="97.74" y="308.02" width="3.3" height="5.6" fill="#f6e4e7"/>
<rect x="101.02" y="308.02" width="3.3" height="5.6" fill="#edc9d0"/>
<rect x="48.5" y="313.6" width="3.3" height="5.6" fill="#edc9d0"/>
<rect x="51.78" y="313.6" width="3.3" height="5.6" fill="#edc9d0"/>
<rect x="55.06" y="313.6" width="3.3" height="5.6" fill="#db94a0"/>
<rect x="58.35" y="313.6" width="3.3" height="5.6" fill="#e4afb8"/>
<rect x="61.63" y="313.6" width="3.3" height="5.6" fill="#db94a0"/>
<rect x="64.91" y="313.6" width="3.3" height="5.6" fill="#ca5e71"/>
<rect x="68.19" y="313.6" width="3.3" height="5.6" fill="#db94a0"/>
<rect x="71.48" y="313.6" width="3.3" height="5.6" fill="#e4afb8"/>
<rect x="74.76" y="313.6" width="3.3" height="5.6" fill="#edc9d0"/>
<rect x="78.04" y="313.6" width="3.3" height="5.6" fill="#f6e4e7"/>
<rect x="81.32" y="313.6" width="3.3" height="5.6" fill="#edc9d0"/>
<rect x="84.61" y="313.6" width="3.3" height="5.6" fill="#db94a0"/>
<rect x="87.89" y="313.6" width="3.3" height="5.6" fill="#b82942"/>
<rect x="91.17" y="313.6" width="3.3" height="5.6" fill="#e4afb8"/>
<rect x="94.45" y="313.6" width="3.3" height="5.6" fill="#edc9d0"/>
<rect x="97.74" y="313.6" width="3.3" height="5.6" fill="#e4afb8"/>
<rect x="101.02" y="313.6" width="3.3" height="5.6" fill="#edc9d0"/>
<rect x="48.5" y="319.18" width="3.3" height="5.6" fill="#edc9d0"/>
<rect x="51.78" y="319.18" width="3.3" height="5.6" fill="#ffffff"/>
<rect x="55.06" y="319.18" width="3.3" height="5.6" fill="#d37989"/>
<rect x="58.35" y="319.18" width="3.3" height="5.6" fill="#e4afb8"/>
<rect x="61.63" y="319.18" width="3.3" height="5.6" fill="#db94a0"/>
<rect x="64.91" y="319.18" width="3.3" height="5.6" fill="#d37989"/>
<rect x="68.19" y="319.18" width="3.3" height="5.6" fill="#db94a0"/>
<rect x="71.48" y="319.18" width="3.3" height="5.6" fill="#e4afb8"/>
<rect x="74.76" y="319.18" width="3.3" height="5.6" fill="#edc9d0"/>
<rect x="78.04" y="319.18" width="3.3" height="5.6" fill="#f6e4e7"/>
<rect x="81.32" y="319.18" width="3.3" height="5.6" fill="#f6e4e7"/>
<rect x="84.61" y="319.18" width="3.3" height="5.6" fill="#e4afb8"/>
<rect x="87.89" y="319.18" width="3.3" height="5.6" fill="#db94a0"/>
<rect x="91.17" y="319.18" width="3.3" height="5.6" fill="#c1445a"/>
<rect x="94.45" y="319.18" width="3.3" height="5.6" fill="#e4afb8"/>
<rect x="97.74" y="319.18" width="3.3" height="5.6" fill="#db94a0"/>
<rect x="101.02" y="319.18" width="3.3" height="5.6" fill="#db94a0"/>
<rect x="48.5" y="324.76" width="3.3" height="5.6" fill="#edc9d0"/>
<rect x="51.78" y="324.76" width="3.3" height="5.6" fill="#e4afb8"/>
<rect x="55.06" y="324.76" width="3.3" height="5.6" fill="#d37989"/>
<rect x="58.35" y="324.76" width="3.3" height="5.6" fill="#ffffff"/>
<rect x="61.63" y="324.76" width="3.3" height="5.6" fill="#db94a0"/>
<rect x="64.91" y="324.76" width="3.3" height="5.6" fill="#e4afb8"/>
<rect x="68.19" y="324.76" width="3.3" height="5.6" fill="#c1445a"/>
<rect x="71.48" y="324.76" width="3.3" height="5.6" fill="#e4afb8"/>
<rect x="74.76" y="324.76" width="3.3" height="5.6" fill="#e4afb8"/>
<rect x="78.04" y="324.76" width="3.3" height="5.6" fill="#edc9d0"/>
<rect x="81.32" y="324.76" width="3.3" height="5.6" fill="#edc9d0"/>
<rect x="84.61" y="324.76" width="3.3" height="5.6" fill="#db94a0"/>
<rect x="87.89" y="324.76" width="3.3" height="5.6" fill="#edc9d0"/>
<rect x="91.17" y="324.76" width="3.3" height="5.6" fill="#c1445a"/>
<rect x="94.45" y="324.76" width="3.3" height="5.6" fill="#e4afb8"/>
<rect x="97.74" y="324.76" width="3.3" height="5.6" fill="#db94a0"/>
<rect x="101.02" y="324.76" width="3.3" height="5.6" fill="#e4afb8"/>
<rect x="48.5" y="330.34" width="3.3" height="5.6" fill="#f6e4e7"/>
<rect x="51.78" y="330.34" width="3.3" height="5.6" fill="#edc9d0"/>
<rect x="55.06" y="330.34" width="3.3" height="5.6" fill="#db94a0"/>
<rect x="58.35" y="330.34" width="3.3" height="5.6" fill="#f6e4e7"/>
<rect x="61.63" y="330.34" width="3.3" height="5.6" fill="#db94a0"/>
<rect x="64.91" y="330.34" width="3.3" height="5.6" fill="#db94a0"/>
<rect x="68.19" y="330.34" width="3.3" height="5.6" fill="#b82942"/>
<rect x="71.48" y="330.34" width="3.3" height="5.6" fill="#f6e4e7"/>
<rect x="74.76" y="330.34" width="3.3" height="5.6" fill="#e4afb8"/>
<rect x="78.04" y="330.34" width="3.3" height="5.6" fill="#e4afb8"/>
<rect x="81.32" y="330.34" width="3.3" height="5.6" fill="#e4afb8"/>
<rect x="84.61" y="330.34" width="3.3" height="5.6" fill="#db94a0"/>
<rect x="87.89" y="330.34" width="3.3" height="5.6" fill="#e4afb8"/>
<rect x="91.17" y="330.34" width="3.3" height="5.6" fill="#e4afb8"/>
<rect x="94.45" y="330.34" width="3.3" height="5.6" fill="#db94a0"/>
<rect x="97.74" y="330.34" width="3.3" height="5.6" fill="#db94a0"/>
<rect x="101.02" y="330.34" width="3.3" height="5.6" fill="#edc9d0"/>
<rect x="48.5" y="335.92" width="3.3" height="5.6" fill="#edc9d0"/>
<rect x="51.78" y="335.92" width="3.3" height="5.6" fill="#f6e4e7"/>
<rect x="55.06" y="335.92" width="3.3" height="5.6" fill="#edc9d0"/>
<rect x="58.35" y="335.92" width="3.3" height="5.6" fill="#f2f6fa"/>
<rect x="61.63" y="335.92" width="3.3" height="5.6" fill="#d37989"/>
<rect x="64.91" y="335.92" width="3.3" height="5.6" fill="#db94a0"/>
<rect x="68.19" y="335.92" width="3.3" height="5.6" fill="#d37989"/>
<rect x="71.48" y="335.92" width="3.3" height="5.6" fill="#edc9d0"/>
<rect x="74.76" y="335.92" width="3.3" height="5.6" fill="#ffffff"/>
<rect x="78.04" y="335.92" width="3.3" height="5.6" fill="#e4afb8"/>
<rect x="81.32" y="335.92" width="3.3" height="5.6" fill="#e4afb8"/>
<rect x="84.61" y="335.92" width="3.3" height="5.6" fill="#d37989"/>
<rect x="87.89" y="335.92" width="3.3" height="5.6" fill="#e4afb8"/>
<rect x="91.17" y="335.92" width="3.3" height="5.6" fill="#d37989"/>
<rect x="94.45" y="335.92" width="3.3" height="5.6" fill="#edc9d0"/>
<rect x="97.74" y="335.92" width="3.3" height="5.6" fill="#db94a0"/>
<rect x="101.02" y="335.92" width="3.3" height="5.6" fill="#d37989"/>
<rect x="48.5" y="341.5" width="3.3" height="5.6" fill="#d5e1f0"/>
<rect x="51.78" y="341.5" width="3.3" height="5.6" fill="#d5e1f0"/>
<rect x="55.06" y="341.5" width="3.3" height="5.6" fill="#d5e1f0"/>
<rect x="58.35" y="341.5" width="3.3" height="5.6" fill="#ffffff"/>
<rect x="61.63" y="341.5" width="3.3" height="5.6" fill="#d5e1f0"/>
<rect x="64.91" y="341.5" width="3.3" height="5.6" fill="#d5e1f0"/>
<rect x="68.19" y="341.5" width="3.3" height="5.6" fill="#d5e1f0"/>
<rect x="71.48" y="341.5" width="3.3" height="5.6" fill="#abc3e1"/>
<rect x="74.76" y="341.5" width="3.3" height="5.6" fill="#c0d2e8"/>
<rect x="78.04" y="341.5" width="3.3" height="5.6" fill="#ffffff"/>
<rect x="81.32" y="341.5" width="3.3" height="5.6" fill="#d5e1f0"/>
<rect x="84.61" y="341.5" width="3.3" height="5.6" fill="#ffffff"/>
<rect x="87.89" y="341.5" width="3.3" height="5.6" fill="#d5e1f0"/>
<rect x="91.17" y="341.5" width="3.3" height="5.6" fill="#c0d2e8"/>
<rect x="94.45" y="341.5" width="3.3" height="5.6" fill="#c0d2e8"/>
<rect x="97.74" y="341.5" width="3.3" height="5.6" fill="#c0d2e8"/>
<rect x="101.02" y="341.5" width="3.3" height="5.6" fill="#d5e1f0"/>
<rect x="48.5" y="347.08" width="3.3" height="5.6" fill="#c0d2e8"/>
<rect x="51.78" y="347.08" width="3.3" height="5.6" fill="#c0d2e8"/>
<rect x="55.06" y="347.08" width="3.3" height="5.6" fill="#d5e1f0"/>
<rect x="58.35" y="347.08" width="3.3" height="5.6" fill="#d5e1f0"/>
<rect x="61.63" y="347.08" width="3.3" height="5.6" fill="#f6e4e7"/>
<rect x="64.91" y="347.08" width="3.3" height="5.6" fill="#d5e1f0"/>
<rect x="68.19" y="347.08" width="3.3" height="5.6" fill="#d5e1f0"/>
<rect x="71.48" y="347.08" width="3.3" height="5.6" fill="#abc3e1"/>
<rect x="74.76" y="347.08" width="3.3" height="5.6" fill="#c0d2e8"/>
<rect x="78.04" y="347.08" width="3.3" height="5.6" fill="#ffffff"/>
<rect x="81.32" y="347.08" width="3.3" height="5.6" fill="#d5e1f0"/>
<rect x="84.61" y="347.08" width="3.3" height="5.6" fill="#f6e4e7"/>
<rect x="87.89" y="347.08" width="3.3" height="5.6" fill="#d5e1f0"/>
<rect x="91.17" y="347.08" width="3.3" height="5.6" fill="#d5e1f0"/>
<rect x="94.45" y="347.08" width="3.3" height="5.6" fill="#c0d2e8"/>
<rect x="97.74" y="347.08" width="3.3" height="5.6" fill="#d5e1f0"/>
<rect x="101.02" y="347.08" width="3.3" height="5.6" fill="#c0d2e8"/>
<rect x="48.5" y="352.66" width="3.3" height="5.6" fill="#edc9d0"/>
<rect x="51.78" y="352.66" width="3.3" height="5.6" fill="#d5e1f0"/>
<rect x="55.06" y="352.66" width="3.3" height="5.6" fill="#ffffff"/>
<rect x="58.35" y="352.66" width="3.3" height="5.6" fill="#96b4d9"/>
<rect x="61.63" y="352.66" width="3.3" height="5.6" fill="#c0d2e8"/>
<rect x="64.91" y="352.66" width="3.3" height="5.6" fill="#c0d2e8"/>
<rect x="68.19" y="352.66" width="3.3" height="5.6" fill="#d5e1f0"/>
<rect x="71.48" y="352.66" width="3.3" height="5.6" fill="#abc3e1"/>
<rect x="74.76" y="352.66" width="3.3" height="5.6" fill="#c0d2e8"/>
<rect x="78.04" y="352.66" width="3.3" height="5.6" fill="#d5e1f0"/>
<rect x="81.32" y="352.66" width="3.3" height="5.6" fill="#d5e1f0"/>
<rect x="84.61" y="352.66" width="3.3" height="5.6" fill="#c0d2e8"/>
<rect x="87.89" y="352.66" width="3.3" height="5.6" fill="#d5e1f0"/>
<rect x="91.17" y="352.66" width="3.3" height="5.6" fill="#c0d2e8"/>
<rect x="94.45" y="352.66" width="3.3" height="5.6" fill="#f6e4e7"/>
<rect x="97.74" y="352.66" width="3.3" height="5.6" fill="#d5e1f0"/>
<rect x="101.02" y="352.66" width="3.3" height="5.6" fill="#d5e1f0"/>
<rect x="48.5" y="358.24" width="3.3" height="5.6" fill="#ffffff"/>
<rect x="51.78" y="358.24" width="3.3" height="5.6" fill="#d5e1f0"/>
<rect x="55.06" y="358.24" width="3.3" height="5.6" fill="#d5e1f0"/>
<rect x="58.35" y="358.24" width="3.3" height="5.6" fill="#d5e1f0"/>
<rect x="61.63" y="358.24" width="3.3" height="5.6" fill="#96b4d9"/>
<rect x="64.91" y="358.24" width="3.3" height="5.6" fill="#d5e1f0"/>
<rect x="68.19" y="358.24" width="3.3" height="5.6" fill="#c0d2e8"/>
<rect x="71.48" y="358.24" width="3.3" height="5.6" fill="#96b4d9"/>
<rect x="74.76" y="358.24" width="3.3" height="5.6" fill="#c0d2e8"/>
<rect x="78.04" y="358.24" width="3.3" height="5.6" fill="#d5e1f0"/>
<rect x="81.32" y="358.24" width="3.3" height="5.6" fill="#ffffff"/>
<rect x="84.61" y="358.24" width="3.3" height="5.6" fill="#c0d2e8"/>
<rect x="87.89" y="358.24" width="3.3" height="5.6" fill="#d5e1f0"/>
<rect x="91.17" y="358.24" width="3.3" height="5.6" fill="#c0d2e8"/>
<rect x="94.45" y="358.24" width="3.3" height="5.6" fill="#c0d2e8"/>
<rect x="97.74" y="358.24" width="3.3" height="5.6" fill="#c0d2e8"/>
<rect x="101.02" y="358.24" width="3.3" height="5.6" fill="#d5e1f0"/>
<rect x="48.5" y="363.82" width="3.3" height="5.6" fill="#ffffff"/>
<rect x="51.78" y="363.82" width="3.3" height="5.6" fill="#d5e1f0"/>
<rect x="55.06" y="363.82" width="3.3" height="5.6" fill="#d5e1f0"/>
<rect x="58.35" y="363.82" width="3.3" height="5.6" fill="#eaf0f7"/>
<rect x="61.63" y="363.82" width="3.3" height="5.6" fill="#96b4d9"/>
<rect x="64.91" y="363.82" width="3.3" height="5.6" fill="#d5e1f0"/>
<rect x="68.19" y="363.82" width="3.3" height="5.6" fill="#ffffff"/>
<rect x="71.48" y="363.82" width="3.3" height="5.6" fill="#96b4d9"/>
<rect x="74.76" y="363.82" width="3.3" height="5.6" fill="#c0d2e8"/>
<rect x="78.04" y="363.82" width="3.3" height="5.6" fill="#d5e1f0"/>
<rect x="81.32" y="363.82" width="3.3" height="5.6" fill="#f6e4e7"/>
<rect x="84.61" y="363.82" width="3.3" height="5.6" fill="#d5e1f0"/>
<rect x="87.89" y="363.82" width="3.3" height="5.6" fill="#d5e1f0"/>
<rect x="91.17" y="363.82" width="3.3" height="5.6" fill="#c0d2e8"/>
<rect x="94.45" y="363.82" width="3.3" height="5.6" fill="#c0d2e8"/>
<rect x="97.74" y="363.82" width="3.3" height="5.6" fill="#c0d2e8"/>
<rect x="101.02" y="363.82" width="3.3" height="5.6" fill="#d5e1f0"/>
<rect x="48.5" y="369.4" width="3.3" height="5.6" fill="#d5e1f0"/>
<rect x="51.78" y="369.4" width="3.3" height="5.6" fill="#d5e1f0"/>
<rect x="55.06" y="369.4" width="3.3" height="5.6" fill="#d5e1f0"/>
<rect x="58.35" y="369.4" width="3.3" height="5.6" fill="#d5e1f0"/>
<rect x="61.63" y="369.4" width="3.3" height="5.6" fill="#abc3e1"/>
<rect x="64.91" y="369.4" width="3.3" height="5.6" fill="#ffffff"/>
<rect x="68.19" y="369.4" width="3.3" height="5.6" fill="#eaf0f7"/>
<rect x="71.48" y="369.4" width="3.3" height="5.6" fill="#abc3e1"/>
<rect x="74.76" y="369.4" width="3.3" height="5.6" fill="#abc3e1"/>
<rect x="78.04" y="369.4" width="3.3" height="5.6" fill="#d5e1f0"/>
<rect x="81.32" y="369.4" width="3.3" height="5.6" fill="#f6e4e7"/>
<rect x="84.61" y="369.4" width="3.3" height="5.6" fill="#d5e1f0"/>
<rect x="87.89" y="369.4" width="3.3" height="5.6" fill="#d5e1f0"/>
<rect x="91.17" y="369.4" width="3.3" height="5.6" fill="#c0d2e8"/>
<rect x="94.45" y="369.4" width="3.3" height="5.6" fill="#d5e1f0"/>
<rect x="97.74" y="369.4" width="3.3" height="5.6" fill="#c0d2e8"/>
<rect x="101.02" y="369.4" width="3.3" height="5.6" fill="#d5e1f0"/>
<rect x="48.5" y="374.98" width="3.3" height="5.6" fill="#ffffff"/>
<rect x="51.78" y="374.98" width="3.3" height="5.6" fill="#eaf0f7"/>
<rect x="55.06" y="374.98" width="3.3" height="5.6" fill="#d5e1f0"/>
<rect x="58.35" y="374.98" width="3.3" height="5.6" fill="#d5e1f0"/>
<rect x="61.63" y="374.98" width="3.3" height="5.6" fill="#abc3e1"/>
<rect x="64.91" y="374.98" width="3.3" height="5.6" fill="#ffffff"/>
<rect x="68.19" y="374.98" width="3.3" height="5.6" fill="#d5e1f0"/>
<rect x="71.48" y="374.98" width="3.3" height="5.6" fill="#abc3e1"/>
<rect x="74.76" y="374.98" width="3.3" height="5.6" fill="#abc3e1"/>
<rect x="78.04" y="374.98" width="3.3" height="5.6" fill="#f6e4e7"/>
<rect x="81.32" y="374.98" width="3.3" height="5.6" fill="#faeff1"/>
<rect x="84.61" y="374.98" width="3.3" height="5.6" fill="#ffffff"/>
<rect x="87.89" y="374.98" width="3.3" height="5.6" fill="#d5e1f0"/>
<rect x="91.17" y="374.98" width="3.3" height="5.6" fill="#c0d2e8"/>
<rect x="94.45" y="374.98" width="3.3" height="5.6" fill="#d5e1f0"/>
<rect x="97.74" y="374.98" width="3.3" height="5.6" fill="#c0d2e8"/>
<rect x="101.02" y="374.98" width="3.3" height="5.6" fill="#d5e1f0"/>
<rect x="48.5" y="380.56" width="3.3" height="5.6" fill="#eaf0f7"/>
<rect x="51.78" y="380.56" width="3.3" height="5.6" fill="#faeff1"/>
<rect x="55.06" y="380.56" width="3.3" height="5.6" fill="#ca5e71"/>
<rect x="58.35" y="380.56" width="3.3" height="5.6" fill="#d5e1f0"/>
<rect x="61.63" y="380.56" width="3.3" height="5.6" fill="#c0d2e8"/>
<rect x="64.91" y="380.56" width="3.3" height="5.6" fill="#d5e1f0"/>
<rect x="68.19" y="380.56" width="3.3" height="5.6" fill="#ffffff"/>
<rect x="71.48" y="380.56" width="3.3" height="5.6" fill="#abc3e1"/>
<rect x="74.76" y="380.56" width="3.3" height="5.6" fill="#c0d2e8"/>
<rect x="78.04" y="380.56" width="3.3" height="5.6" fill="#d5e1f0"/>
<rect x="81.32" y="380.56" width="3.3" height="5.6" fill="#d5e1f0"/>
<rect x="84.61" y="380.56" width="3.3" height="5.6" fill="#d5e1f0"/>
<rect x="87.89" y="380.56" width="3.3" height="5.6" fill="#f6e4e7"/>
<rect x="91.17" y="380.56" width="3.3" height="5.6" fill="#c0d2e8"/>
<rect x="94.45" y="380.56" width="3.3" height="5.6" fill="#d5e1f0"/>
<rect x="97.74" y="380.56" width="3.3" height="5.6" fill="#c0d2e8"/>
<rect x="101.02" y="380.56" width="3.3" height="5.6" fill="#d5e1f0"/>
<rect x="48.5" y="386.14" width="3.3" height="5.6" fill="#d5e1f0"/>
<rect x="51.78" y="386.14" width="3.3" height="5.6" fill="#eaf0f7"/>
<rect x="55.06" y="386.14" width="3.3" height="5.6" fill="#f6e4e7"/>
<rect x="58.35" y="386.14" width="3.3" height="5.6" fill="#d5e1f0"/>
<rect x="61.63" y="386.14" width="3.3" height="5.6" fill="#c0d2e8"/>
<rect x="64.91" y="386.14" width="3.3" height="5.6" fill="#d5e1f0"/>
<rect x="68.19" y="386.14" width="3.3" height="5.6" fill="#d5e1f0"/>
<rect x="71.48" y="386.14" width="3.3" height="5.6" fill="#c0d2e8"/>
<rect x="74.76" y="386.14" width="3.3" height="5.6" fill="#c0d2e8"/>
<rect x="78.04" y="386.14" width="3.3" height="5.6" fill="#d5e1f0"/>
<rect x="81.32" y="386.14" width="3.3" height="5.6" fill="#d5e1f0"/>
<rect x="84.61" y="386.14" width="3.3" height="5.6" fill="#faeff1"/>
<rect x="87.89" y="386.14" width="3.3" height="5.6" fill="#d5e1f0"/>
<rect x="91.17" y="386.14" width="3.3" height="5.6" fill="#ffffff"/>
<rect x="94.45" y="386.14" width="3.3" height="5.6" fill="#eaf0f7"/>
<rect x="97.74" y="386.14" width="3.3" height="5.6" fill="#d5e1f0"/>
<rect x="101.02" y="386.14" width="3.3" height="5.6" fill="#96b4d9"/>
<rect x="48.5" y="391.72" width="3.3" height="5.6" fill="#eaf0f7"/>
<rect x="51.78" y="391.72" width="3.3" height="5.6" fill="#d5e1f0"/>
<rect x="55.06" y="391.72" width="3.3" height="5.6" fill="#ffffff"/>
<rect x="58.35" y="391.72" width="3.3" height="5.6" fill="#f6e4e7"/>
<rect x="61.63" y="391.72" width="3.3" height="5.6" fill="#c0d2e8"/>
<rect x="64.91" y="391.72" width="3.3" height="5.6" fill="#c0d2e8"/>
<rect x="68.19" y="391.72" width="3.3" height="5.6" fill="#eaf0f7"/>
<rect x="71.48" y="391.72" width="3.3" height="5.6" fill="#c0d2e8"/>
<rect x="74.76" y="391.72" width="3.3" height="5.6" fill="#c0d2e8"/>
<rect x="78.04" y="391.72" width="3.3" height="5.6" fill="#ffffff"/>
<rect x="81.32" y="391.72" width="3.3" height="5.6" fill="#d5e1f0"/>
<rect x="84.61" y="391.72" width="3.3" height="5.6" fill="#f6e4e7"/>
<rect x="87.89" y="391.72" width="3.3" height="5.6" fill="#f6e4e7"/>
<rect x="91.17" y="391.72" width="3.3" height="5.6" fill="#c0d2e8"/>
<rect x="94.45" y="391.72" width="3.3" height="5.6" fill="#c0d2e8"/>
<rect x="97.74" y="391.72" width="3.3" height="5.6" fill="#ffffff"/>
<rect x="101.02" y="391.72" width="3.3" height="5.6" fill="#d5e1f0"/>
<rect x="48.5" y="397.3" width="3.3" height="5.6" fill="#faeff1"/>
<rect x="51.78" y="397.3" width="3.3" height="5.6" fill="#d5e1f0"/>
<rect x="55.06" y="397.3" width="3.3" height="5.6" fill="#e4afb8"/>
<rect x="58.35" y="397.3" width="3.3" height="5.6" fill="#d5e1f0"/>
<rect x="61.63" y="397.3" width="3.3" height="5.6" fill="#c0d2e8"/>
<rect x="64.91" y="397.3" width="3.3" height="5.6" fill="#d5e1f0"/>
<rect x="68.19" y="397.3" width="3.3" height="5.6" fill="#d5e1f0"/>
<rect x="71.48" y="397.3" width="3.3" height="5.6" fill="#c0d2e8"/>
<rect x="74.76" y="397.3" width="3.3" height="5.6" fill="#abc3e1"/>
<rect x="78.04" y="397.3" width="3.3" height="5.6" fill="#d5e1f0"/>
<rect x="81.32" y="397.3" width="3.3" height="5.6" fill="#c0d2e8"/>
<rect x="84.61" y="397.3" width="3.3" height="5.6" fill="#d5e1f0"/>
<rect x="87.89" y="397.3" width="3.3" height="5.6" fill="#d5e1f0"/>
<rect x="91.17" y="397.3" width="3.3" height="5.6" fill="#ffffff"/>
<rect x="94.45" y="397.3" width="3.3" height="5.6" fill="#d5e1f0"/>
<rect x="97.74" y="397.3" width="3.3" height="5.6" fill="#d5e1f0"/>
<rect x="101.02" y="397.3" width="3.3" height="5.6" fill="#d5e1f0"/>
<rect x="48.5" y="402.88" width="3.3" height="5.6" fill="#f6e4e7"/>
<rect x="51.78" y="402.88" width="3.3" height="5.6" fill="#d5e1f0"/>
<rect x="55.06" y="402.88" width="3.3" height="5.6" fill="#eaf0f7"/>
<rect x="58.35" y="402.88" width="3.3" height="5.6" fill="#d5e1f0"/>
<rect x="61.63" y="402.88" width="3.3" height="5.6" fill="#abc3e1"/>
<rect x="64.91" y="402.88" width="3.3" height="5.6" fill="#d5e1f0"/>
<rect x="68.19" y="402.88" width="3.3" height="5.6" fill="#d5e1f0"/>
<rect x="71.48" y="402.88" width="3.3" height="5.6" fill="#c0d2e8"/>
<rect x="74.76" y="402.88" width="3.3" height="5.6" fill="#c0d2e8"/>
<rect x="78.04" y="402.88" width="3.3" height="5.6" fill="#faeff1"/>
<rect x="81.32" y="402.88" width="3.3" height="5.6" fill="#d5e1f0"/>
<rect x="84.61" y="402.88" width="3.3" height="5.6" fill="#c0d2e8"/>
<rect x="87.89" y="402.88" width="3.3" height="5.6" fill="#d5e1f0"/>
<rect x="91.17" y="402.88" width="3.3" height="5.6" fill="#d5e1f0"/>
<rect x="94.45" y="402.88" width="3.3" height="5.6" fill="#c0d2e8"/>
<rect x="97.74" y="402.88" width="3.3" height="5.6" fill="#ffffff"/>
<rect x="101.02" y="402.88" width="3.3" height="5.6" fill="#d5e1f0"/>
<rect x="48.5" y="408.46" width="3.3" height="5.6" fill="#faeff1"/>
<rect x="51.78" y="408.46" width="3.3" height="5.6" fill="#ffffff"/>
<rect x="55.06" y="408.46" width="3.3" height="5.6" fill="#eaf0f7"/>
<rect x="58.35" y="408.46" width="3.3" height="5.6" fill="#d5e1f0"/>
<rect x="61.63" y="408.46" width="3.3" height="5.6" fill="#abc3e1"/>
<rect x="64.91" y="408.46" width="3.3" height="5.6" fill="#d5e1f0"/>
<rect x="68.19" y="408.46" width="3.3" height="5.6" fill="#c0d2e8"/>
<rect x="71.48" y="408.46" width="3.3" height="5.6" fill="#c0d2e8"/>
<rect x="74.76" y="408.46" width="3.3" height="5.6" fill="#d5e1f0"/>
<rect x="78.04" y="408.46" width="3.3" height="5.6" fill="#ffffff"/>
<rect x="81.32" y="408.46" width="3.3" height="5.6" fill="#c0d2e8"/>
<rect x="84.61" y="408.46" width="3.3" height="5.6" fill="#abc3e1"/>
<rect x="87.89" y="408.46" width="3.3" height="5.6" fill="#d5e1f0"/>
<rect x="91.17" y="408.46" width="3.3" height="5.6" fill="#d5e1f0"/>
<rect x="94.45" y="408.46" width="3.3" height="5.6" fill="#c0d2e8"/>
<rect x="97.74" y="408.46" width="3.3" height="5.6" fill="#f6e4e7"/>
<rect x="101.02" y="408.46" width="3.3" height="5.6" fill="#d5e1f0"/>
<rect x="48.5" y="414.04" width="3.3" height="5.6" fill="#f6e4e7"/>
<rect x="51.78" y="414.04" width="3.3" height="5.6" fill="#abc3e1"/>
<rect x="55.06" y="414.04" width="3.3" height="5.6" fill="#ffffff"/>
<rect x="58.35" y="414.04" width="3.3" height="5.6" fill="#faeff1"/>
<rect x="61.63" y="414.04" width="3.3" height="5.6" fill="#c0d2e8"/>
<rect x="64.91" y="414.04" width="3.3" height="5.6" fill="#f6e4e7"/>
<rect x="68.19" y="414.04" width="3.3" height="5.6" fill="#ffffff"/>
<rect x="71.48" y="414.04" width="3.3" height="5.6" fill="#c0d2e8"/>
<rect x="74.76" y="414.04" width="3.3" height="5.6" fill="#d5e1f0"/>
<rect x="78.04" y="414.04" width="3.3" height="5.6" fill="#f6e4e7"/>
<rect x="81.32" y="414.04" width="3.3" height="5.6" fill="#c0d2e8"/>
<rect x="84.61" y="414.04" width="3.3" height="5.6" fill="#d5e1f0"/>
<rect x="87.89" y="414.04" width="3.3" height="5.6" fill="#d5e1f0"/>
<rect x="91.17" y="414.04" width="3.3" height="5.6" fill="#d5e1f0"/>
<rect x="94.45" y="414.04" width="3.3" height="5.6" fill="#c0d2e8"/>
<rect x="97.74" y="414.04" width="3.3" height="5.6" fill="#d5e1f0"/>
<rect x="101.02" y="414.04" width="3.3" height="5.6" fill="#d5e1f0"/>
<rect x="48.5" y="419.62" width="3.3" height="5.6" fill="#f6e4e7"/>
<rect x="51.78" y="419.62" width="3.3" height="5.6" fill="#d5e1f0"/>
<rect x="55.06" y="419.62" width="3.3" height="5.6" fill="#f6e4e7"/>
<rect x="58.35" y="419.62" width="3.3" height="5.6" fill="#d5e1f0"/>
<rect x="61.63" y="419.62" width="3.3" height="5.6" fill="#abc3e1"/>
<rect x="64.91" y="419.62" width="3.3" height="5.6" fill="#f6e4e7"/>
<rect x="68.19" y="419.62" width="3.3" height="5.6" fill="#ffffff"/>
<rect x="71.48" y="419.62" width="3.3" height="5.6" fill="#abc3e1"/>
<rect x="74.76" y="419.62" width="3.3" height="5.6" fill="#c0d2e8"/>
<rect x="78.04" y="419.62" width="3.3" height="5.6" fill="#d5e1f0"/>
<rect x="81.32" y="419.62" width="3.3" height="5.6" fill="#d5e1f0"/>
<rect x="84.61" y="419.62" width="3.3" height="5.6" fill="#d5e1f0"/>
<rect x="87.89" y="419.62" width="3.3" height="5.6" fill="#d5e1f0"/>
<rect x="91.17" y="419.62" width="3.3" height="5.6" fill="#c0d2e8"/>
<rect x="94.45" y="419.62" width="3.3" height="5.6" fill="#d5e1f0"/>
<rect x="97.74" y="419.62" width="3.3" height="5.6" fill="#d5e1f0"/>
<rect x="101.02" y="419.62" width="3.3" height="5.6" fill="#d5e1f0"/>
<rect x="48.5" y="425.2" width="3.3" height="5.6" fill="#eaf0f7"/>
<rect x="51.78" y="425.2" width="3.3" height="5.6" fill="#d5e1f0"/>
<rect x="55.06" y="425.2" width="3.3" height="5.6" fill="#ffffff"/>
<rect x="58.35" y="425.2" width="3.3" height="5.6" fill="#d5e1f0"/>
<rect x="61.63" y="425.2" width="3.3" height="5.6" fill="#c0d2e8"/>
<rect x="64.91" y="425.2" width="3.3" height="5.6" fill="#d5e1f0"/>
<rect x="68.19" y="425.2" width="3.3" height="5.6" fill="#ffffff"/>
<rect x="71.48" y="425.2" width="3.3" height="5.6" fill="#c0d2e8"/>
<rect x="74.76" y="425.2" width="3.3" height="5.6" fill="#96b4d9"/>
<rect x="78.04" y="425.2" width="3.3" height="5.6" fill="#d5e1f0"/>
<rect x="81.32" y="425.2" width="3.3" height="5.6" fill="#c0d2e8"/>
<rect x="84.61" y="425.2" width="3.3" height="5.6" fill="#ffffff"/>
<rect x="87.89" y="425.2" width="3.3" height="5.6" fill="#d5e1f0"/>
<rect x="91.17" y="425.2" width="3.3" height="5.6" fill="#abc3e1"/>
<rect x="94.45" y="425.2" width="3.3" height="5.6" fill="#d5e1f0"/>
<rect x="97.74" y="425.2" width="3.3" height="5.6" fill="#d5e1f0"/>
<rect x="101.02" y="425.2" width="3.3" height="5.6" fill="#d5e1f0"/>
<rect x="48.5" y="430.78" width="3.3" height="5.6" fill="#db94a0"/>
<rect x="51.78" y="430.78" width="3.3" height="5.6" fill="#d5e1f0"/>
<rect x="55.06" y="430.78" width="3.3" height="5.6" fill="#d5e1f0"/>
<rect x="58.35" y="430.78" width="3.3" height="5.6" fill="#c0d2e8"/>
<rect x="61.63" y="430.78" width="3.3" height="5.6" fill="#c0d2e8"/>
<rect x="64.91" y="430.78" width="3.3" height="5.6" fill="#d5e1f0"/>
<rect x="68.19" y="430.78" width="3.3" height="5.6" fill="#d5e1f0"/>
<rect x="71.48" y="430.78" width="3.3" height="5.6" fill="#c0d2e8"/>
<rect x="74.76" y="430.78" width="3.3" height="5.6" fill="#c0d2e8"/>
<rect x="78.04" y="430.78" width="3.3" height="5.6" fill="#ffffff"/>
<rect x="81.32" y="430.78" width="3.3" height="5.6" fill="#c0d2e8"/>
<rect x="84.61" y="430.78" width="3.3" height="5.6" fill="#d5e1f0"/>
<rect x="87.89" y="430.78" width="3.3" height="5.6" fill="#eaf0f7"/>
<rect x="91.17" y="430.78" width="3.3" height="5.6" fill="#abc3e1"/>
<rect x="94.45" y="430.78" width="3.3" height="5.6" fill="#d5e1f0"/>
<rect x="97.74" y="430.78" width="3.3" height="5.6" fill="#d5e1f0"/>
<rect x="101.02" y="430.78" width="3.3" height="5.6" fill="#d5e1f0"/>
<rect x="48.5" y="436.36" width="3.3" height="5.6" fill="#f6e4e7"/>
<rect x="51.78" y="436.36" width="3.3" height="5.6" fill="#d5e1f0"/>
<rect x="55.06" y="436.36" width="3.3" height="5.6" fill="#e4afb8"/>
<rect x="58.35" y="436.36" width="3.3" height="5.6" fill="#d5e1f0"/>
<rect x="61.63" y="436.36" width="3.3" height="5.6" fill="#abc3e1"/>
<rect x="64.91" y="436.36" width="3.3" height="5.6" fill="#d5e1f0"/>
<rect x="68.19" y="436.36" width="3.3" height="5.6" fill="#ffffff"/>
<rect x="71.48" y="436.36" width="3.3" height="5.6" fill="#abc3e1"/>
<rect x="74.76" y="436.36" width="3.3" height="5.6" fill="#c0d2e8"/>
<rect x="78.04" y="436.36" width="3.3" height="5.6" fill="#d5e1f0"/>
<rect x="81.32" y="436.36" width="3.3" height="5.6" fill="#ffffff"/>
<rect x="84.61" y="436.36" width="3.3" height="5.6" fill="#d5e1f0"/>
<rect x="87.89" y="436.36" width="3.3" height="5.6" fill="#d5e1f0"/>
<rect x="91.17" y="436.36" width="3.3" height="5.6" fill="#d5e1f0"/>
<rect x="94.45" y="436.36" width="3.3" height="5.6" fill="#d5e1f0"/>
<rect x="97.74" y="436.36" width="3.3" height="5.6" fill="#d5e1f0"/>
<rect x="101.02" y="436.36" width="3.3" height="5.6" fill="#d5e1f0"/>
<rect x="48.5" y="441.94" width="3.3" height="5.6" fill="#eaf0f7"/>
<rect x="51.78" y="441.94" width="3.3" height="5.6" fill="#eaf0f7"/>
<rect x="55.06" y="441.94" width="3.3" height="5.6" fill="#edc9d0"/>
<rect x="58.35" y="441.94" width="3.3" height="5.6" fill="#ffffff"/>
<rect x="61.63" y="441.94" width="3.3" height="5.6" fill="#c0d2e8"/>
<rect x="64.91" y="441.94" width="3.3" height="5.6" fill="#d5e1f0"/>
<rect x="68.19" y="441.94" width="3.3" height="5.6" fill="#faeff1"/>
<rect x="71.48" y="441.94" width="3.3" height="5.6" fill="#c0d2e8"/>
<rect x="74.76" y="441.94" width="3.3" height="5.6" fill="#c0d2e8"/>
<rect x="78.04" y="441.94" width="3.3" height="5.6" fill="#d5e1f0"/>
<rect x="81.32" y="441.94" width="3.3" height="5.6" fill="#ffffff"/>
<rect x="84.61" y="441.94" width="3.3" height="5.6" fill="#d5e1f0"/>
<rect x="87.89" y="441.94" width="3.3" height="5.6" fill="#d5e1f0"/>
<rect x="91.17" y="441.94" width="3.3" height="5.6" fill="#c0d2e8"/>
<rect x="94.45" y="441.94" width="3.3" height="5.6" fill="#c0d2e8"/>
<rect x="97.74" y="441.94" width="3.3" height="5.6" fill="#c0d2e8"/>
<rect x="101.02" y="441.94" width="3.3" height="5.6" fill="#d5e1f0"/>
<rect x="48.5" y="447.52" width="3.3" height="5.6" fill="#eaf0f7"/>
<rect x="51.78" y="447.52" width="3.3" height="5.6" fill="#d5e1f0"/>
<rect x="55.06" y="447.52" width="3.3" height="5.6" fill="#db94a0"/>
<rect x="58.35" y="447.52" width="3.3" height="5.6" fill="#ffffff"/>
<rect x="61.63" y="447.52" width="3.3" height="5.6" fill="#c0d2e8"/>
<rect x="64.91" y="447.52" width="3.3" height="5.6" fill="#d5e1f0"/>
<rect x="68.19" y="447.52" width="3.3" height="5.6" fill="#ffffff"/>
<rect x="71.48" y="447.52" width="3.3" height="5.6" fill="#c0d2e8"/>
<rect x="74.76" y="447.52" width="3.3" height="5.6" fill="#c0d2e8"/>
<rect x="78.04" y="447.52" width="3.3" height="5.6" fill="#d5e1f0"/>
<rect x="81.32" y="447.52" width="3.3" height="5.6" fill="#ffffff"/>
<rect x="84.61" y="447.52" width="3.3" height="5.6" fill="#d5e1f0"/>
<rect x="87.89" y="447.52" width="3.3" height="5.6" fill="#d5e1f0"/>
<rect x="91.17" y="447.52" width="3.3" height="5.6" fill="#abc3e1"/>
<rect x="94.45" y="447.52" width="3.3" height="5.6" fill="#c0d2e8"/>
<rect x="97.74" y="447.52" width="3.3" height="5.6" fill="#d5e1f0"/>
<rect x="101.02" y="447.52" width="3.3" height="5.6" fill="#d5e1f0"/>
<rect x="106.75" y="229.9" width="3.3" height="5.6" fill="#c0d2e8"/>
<rect x="110.03" y="229.9" width="3.3" height="5.6" fill="#c0d2e8"/>
<rect x="113.31" y="229.9" width="3.3" height="5.6" fill="#d5e1f0"/>
<rect x="116.6" y="229.9" width="3.3" height="5.6" fill="#faeff1"/>
<rect x="119.88" y="229.9" width="3.3" height="5.6" fill="#ffffff"/>
<rect x="123.16" y="229.9" width="3.3" height="5.6" fill="#d5e1f0"/>
<rect x="126.44" y="229.9" width="3.3" height="5.6" fill="#edc9d0"/>
<rect x="129.73" y="229.9" width="3.3" height="5.6" fill="#d5e1f0"/>
<rect x="133.01" y="229.9" width="3.3" height="5.6" fill="#c0d2e8"/>
<rect x="136.29" y="229.9" width="3.3" height="5.6" fill="#faeff1"/>
<rect x="139.57" y="229.9" width="3.3" height="5.6" fill="#d5e1f0"/>
<rect x="142.86" y="229.9" width="3.3" height="5.6" fill="#c0d2e8"/>
<rect x="146.14" y="229.9" width="3.3" height="5.6" fill="#c0d2e8"/>
<rect x="149.42" y="229.9" width="3.3" height="5.6" fill="#d5e1f0"/>
<rect x="152.7" y="229.9" width="3.3" height="5.6" fill="#c0d2e8"/>
<rect x="155.99" y="229.9" width="3.3" height="5.6" fill="#d5e1f0"/>
<rect x="159.27" y="229.9" width="3.3" height="5.6" fill="#ffffff"/>
<rect x="106.75" y="235.48" width="3.3" height="5.6" fill="#abc3e1"/>
<rect x="110.03" y="235.48" width="3.3" height="5.6" fill="#abc3e1"/>
<rect x="113.31" y="235.48" width="3.3" height="5.6" fill="#d5e1f0"/>
<rect x="116.6" y="235.48" width="3.3" height="5.6" fill="#ffffff"/>
<rect x="119.88" y="235.48" width="3.3" height="5.6" fill="#d5e1f0"/>
<rect x="123.16" y="235.48" width="3.3" height="5.6" fill="#d5e1f0"/>
<rect x="126.44" y="235.48" width="3.3" height="5.6" fill="#f6e4e7"/>
<rect x="129.73" y="235.48" width="3.3" height="5.6" fill="#f6e4e7"/>
<rect x="133.01" y="235.48" width="3.3" height="5.6" fill="#d5e1f0"/>
<rect x="136.29" y="235.48" width="3.3" height="5.6" fill="#eaf0f7"/>
<rect x="139.57" y="235.48" width="3.3" height="5.6" fill="#d5e1f0"/>
<rect x="142.86" y="235.48" width="3.3" height="5.6" fill="#abc3e1"/>
<rect x="146.14" y="235.48" width="3.3" height="5.6" fill="#abc3e1"/>
<rect x="149.42" y="235.48" width="3.3" height="5.6" fill="#c0d2e8"/>
<rect x="152.7" y="235.48" width="3.3" height="5.6" fill="#c0d2e8"/>
<rect x="155.99" y="235.48" width="3.3" height="5.6" fill="#c0d2e8"/>
<rect x="159.27" y="235.48" width="3.3" height="5.6" fill="#f6e4e7"/>
<rect x="106.75" y="241.06" width="3.3" height="5.6" fill="#f6e4e7"/>
<rect x="110.03" y="241.06" width="3.3" height="5.6" fill="#d5e1f0"/>
<rect x="113.31" y="241.06" width="3.3" height="5.6" fill="#d5e1f0"/>
<rect x="116.6" y="241.06" width="3.3" height="5.6" fill="#ffffff"/>
<rect x="119.88" y="241.06" width="3.3" height="5.6" fill="#eaf0f7"/>
<rect x="123.16" y="241.06" width="3.3" height="5.6" fill="#c0d2e8"/>
<rect x="126.44" y="241.06" width="3.3" height="5.6" fill="#d5e1f0"/>
<rect x="129.73" y="241.06" width="3.3" height="5.6" fill="#d5e1f0"/>
<rect x="133.01" y="241.06" width="3.3" height="5.6" fill="#d5e1f0"/>
<rect x="136.29" y="241.06" width="3.3" height="5.6" fill="#eaf0f7"/>
<rect x="139.57" y="241.06" width="3.3" height="5.6" fill="#ffffff"/>
<rect x="142.86" y="241.06" width="3.3" height="5.6" fill="#6c96ca"/>
<rect x="146.14" y="241.06" width="3.3" height="5.6" fill="#c0d2e8"/>
<rect x="149.42" y="241.06" width="3.3" height="5.6" fill="#d5e1f0"/>
<rect x="152.7" y="241.06" width="3.3" height="5.6" fill="#c0d2e8"/>
<rect x="155.99" y="241.06" width="3.3" height="5.6" fill="#abc3e1"/>
<rect x="159.27" y="241.06" width="3.3" height="5.6" fill="#d5e1f0"/>
<rect x="106.75" y="246.64" width="3.3" height="5.6" fill="#eaf0f7"/>
<rect x="110.03" y="246.64" width="3.3" height="5.6" fill="#d5e1f0"/>
<rect x="113.31" y="246.64" width="3.3" height="5.6" fill="#d5e1f0"/>
<rect x="116.6" y="246.64" width="3.3" height="5.6" fill="#faeff1"/>
<rect x="119.88" y="246.64" width="3.3" height="5.6" fill="#d5e1f0"/>
<rect x="123.16" y="246.64" width="3.3" height="5.6" fill="#d5e1f0"/>
<rect x="126.44" y="246.64" width="3.3" height="5.6" fill="#eaf0f7"/>
<rect x="129.73" y="246.64" width="3.3" height="5.6" fill="#c0d2e8"/>
<rect x="133.01" y="246.64" width="3.3" height="5.6" fill="#d5e1f0"/>
<rect x="136.29" y="246.64" width="3.3" height="5.6" fill="#faeff1"/>
<rect x="139.57" y="246.64" width="3.3" height="5.6" fill="#eaf0f7"/>
<rect x="142.86" y="246.64" width="3.3" height="5.6" fill="#6c96ca"/>
<rect x="146.14" y="246.64" width="3.3" height="5.6" fill="#c0d2e8"/>
<rect x="149.42" y="246.64" width="3.3" height="5.6" fill="#c0d2e8"/>
<rect x="152.7" y="246.64" width="3.3" height="5.6" fill="#d5e1f0"/>
<rect x="155.99" y="246.64" width="3.3" height="5.6" fill="#abc3e1"/>
<rect x="159.27" y="246.64" width="3.3" height="5.6" fill="#d5e1f0"/>
<rect x="106.75" y="252.22" width="3.3" height="5.6" fill="#d5e1f0"/>
<rect x="110.03" y="252.22" width="3.3" height="5.6" fill="#eaf0f7"/>
<rect x="113.31" y="252.22" width="3.3" height="5.6" fill="#c0d2e8"/>
<rect x="116.6" y="252.22" width="3.3" height="5.6" fill="#eaf0f7"/>
<rect x="119.88" y="252.22" width="3.3" height="5.6" fill="#eaf0f7"/>
<rect x="123.16" y="252.22" width="3.3" height="5.6" fill="#c0d2e8"/>
<rect x="126.44" y="252.22" width="3.3" height="5.6" fill="#eaf0f7"/>
<rect x="129.73" y="252.22" width="3.3" height="5.6" fill="#d5e1f0"/>
<rect x="133.01" y="252.22" width="3.3" height="5.6" fill="#d5e1f0"/>
<rect x="136.29" y="252.22" width="3.3" height="5.6" fill="#faeff1"/>
<rect x="139.57" y="252.22" width="3.3" height="5.6" fill="#f6e4e7"/>
<rect x="142.86" y="252.22" width="3.3" height="5.6" fill="#6c96ca"/>
<rect x="146.14" y="252.22" width="3.3" height="5.6" fill="#c0d2e8"/>
<rect x="149.42" y="252.22" width="3.3" height="5.6" fill="#d5e1f0"/>
<rect x="152.7" y="252.22" width="3.3" height="5.6" fill="#c0d2e8"/>
<rect x="155.99" y="252.22" width="3.3" height="5.6" fill="#96b4d9"/>
<rect x="159.27" y="252.22" width="3.3" height="5.6" fill="#d5e1f0"/>
<rect x="106.75" y="257.8" width="3.3" height="5.6" fill="#eaf0f7"/>
<rect x="110.03" y="257.8" width="3.3" height="5.6" fill="#ffffff"/>
<rect x="113.31" y="257.8" width="3.3" height="5.6" fill="#c0d2e8"/>
<rect x="116.6" y="257.8" width="3.3" height="5.6" fill="#eaf0f7"/>
<rect x="119.88" y="257.8" width="3.3" height="5.6" fill="#d5e1f0"/>
<rect x="123.16" y="257.8" width="3.3" height="5.6" fill="#c0d2e8"/>
<rect x="126.44" y="257.8" width="3.3" height="5.6" fill="#d5e1f0"/>
<rect x="129.73" y="257.8" width="3.3" height="5.6" fill="#d5e1f0"/>
<rect x="133.01" y="257.8" width="3.3" height="5.6" fill="#ffffff"/>
<rect x="136.29" y="257.8" width="3.3" height="5.6" fill="#d5e1f0"/>
<rect x="139.57" y="257.8" width="3.3" height="5.6" fill="#ffffff"/>
<rect x="142.86" y="257.8" width="3.3" height="5.6" fill="#81a5d2"/>
<rect x="146.14" y="257.8" width="3.3" height="5.6" fill="#c0d2e8"/>
<rect x="149.42" y="257.8" width="3.3" height="5.6" fill="#d5e1f0"/>
<rect x="152.7" y="257.8" width="3.3" height="5.6" fill="#c0d2e8"/>
<rect x="155.99" y="257.8" width="3.3" height="5.6" fill="#abc3e1"/>
<rect x="159.27" y="257.8" width="3.3" height="5.6" fill="#d5e1f0"/>
<rect x="106.75" y="263.38" width="3.3" height="5.6" fill="#ffffff"/>
<rect x="110.03" y="263.38" width="3.3" height="5.6" fill="#faeff1"/>
<rect x="113.31" y="263.38" width="3.3" height="5.6" fill="#c0d2e8"/>
<rect x="116.6" y="263.38" width="3.3" height="5.6" fill="#f6e4e7"/>
<rect x="119.88" y="263.38" width="3.3" height="5.6" fill="#d5e1f0"/>
<rect x="123.16" y="263.38" width="3.3" height="5.6" fill="#d5e1f0"/>
<rect x="126.44" y="263.38" width="3.3" height="5.6" fill="#d5e1f0"/>
<rect x="129.73" y="263.38" width="3.3" height="5.6" fill="#d5e1f0"/>
<rect x="133.01" y="263.38" width="3.3" height="5.6" fill="#ffffff"/>
<rect x="136.29" y="263.38" width="3.3" height="5.6" fill="#d5e1f0"/>
<rect x="139.57" y="263.38" width="3.3" height="5.6" fill="#d5e1f0"/>
<rect x="142.86" y="263.38" width="3.3" height="5.6" fill="#81a5d2"/>
<rect x="146.14" y="263.38" width="3.3" height="5.6" fill="#c0d2e8"/>
<rect x="149.42" y="263.38" width="3.3" height="5.6" fill="#d5e1f0"/>
<rect x="152.7" y="263.38" width="3.3" height="5.6" fill="#c0d2e8"/>
<rect x="155.99" y="263.38" width="3.3" height="5.6" fill="#abc3e1"/>
<rect x="159.27" y="263.38" width="3.3" height="5.6" fill="#c0d2e8"/>
<rect x="106.75" y="268.96" width="3.3" height="5.6" fill="#abc3e1"/>
<rect x="110.03" y="268.96" width="3.3" height="5.6" fill="#abc3e1"/>
<rect x="113.31" y="268.96" width="3.3" height="5.6" fill="#d5e1f0"/>
<rect x="116.6" y="268.96" width="3.3" height="5.6" fill="#ffffff"/>
<rect x="119.88" y="268.96" width="3.3" height="5.6" fill="#d5e1f0"/>
<rect x="123.16" y="268.96" width="3.3" height="5.6" fill="#eaf0f7"/>
<rect x="126.44" y="268.96" width="3.3" height="5.6" fill="#ffffff"/>
<rect x="129.73" y="268.96" width="3.3" height="5.6" fill="#c0d2e8"/>
<rect x="133.01" y="268.96" width="3.3" height="5.6" fill="#c0d2e8"/>
<rect x="136.29" y="268.96" width="3.3" height="5.6" fill="#d5e1f0"/>
<rect x="139.57" y="268.96" width="3.3" height="5.6" fill="#d37989"/>
<rect x="142.86" y="268.96" width="3.3" height="5.6" fill="#81a5d2"/>
<rect x="146.14" y="268.96" width="3.3" height="5.6" fill="#c0d2e8"/>
<rect x="149.42" y="268.96" width="3.3" height="5.6" fill="#c0d2e8"/>
<rect x="152.7" y="268.96" width="3.3" height="5.6" fill="#c0d2e8"/>
<rect x="155.99" y="268.96" width="3.3" height="5.6" fill="#abc3e1"/>
<rect x="159.27" y="268.96" width="3.3" height="5.6" fill="#ffffff"/>
<rect x="106.75" y="274.54" width="3.3" height="5.6" fill="#c0d2e8"/>
<rect x="110.03" y="274.54" width="3.3" height="5.6" fill="#c0d2e8"/>
<rect x="113.31" y="274.54" width="3.3" height="5.6" fill="#c0d2e8"/>
<rect x="116.6" y="274.54" width="3.3" height="5.6" fill="#ffffff"/>
<rect x="119.88" y="274.54" width="3.3" height="5.6" fill="#abc3e1"/>
<rect x="123.16" y="274.54" width="3.3" height="5.6" fill="#c0d2e8"/>
<rect x="126.44" y="274.54" width="3.3" height="5.6" fill="#d5e1f0"/>
<rect x="129.73" y="274.54" width="3.3" height="5.6" fill="#d5e1f0"/>
<rect x="133.01" y="274.54" width="3.3" height="5.6" fill="#d5e1f0"/>
<rect x="136.29" y="274.54" width="3.3" height="5.6" fill="#eaf0f7"/>
<rect x="139.57" y="274.54" width="3.3" height="5.6" fill="#d5e1f0"/>
<rect x="142.86" y="274.54" width="3.3" height="5.6" fill="#abc3e1"/>
<rect x="146.14" y="274.54" width="3.3" height="5.6" fill="#c0d2e8"/>
<rect x="149.42" y="274.54" width="3.3" height="5.6" fill="#d5e1f0"/>
<rect x="152.7" y="274.54" width="3.3" height="5.6" fill="#ffffff"/>
<rect x="155.99" y="274.54" width="3.3" height="5.6" fill="#c0d2e8"/>
<rect x="159.27" y="274.54" width="3.3" height="5.6" fill="#d5e1f0"/>
<rect x="106.75" y="280.12" width="3.3" height="5.6" fill="#d5e1f0"/>
<rect x="110.03" y="280.12" width="3.3" height="5.6" fill="#d5e1f0"/>
<rect x="113.31" y="280.12" width="3.3" height="5.6" fill="#c0d2e8"/>
<rect x="116.6" y="280.12" width="3.3" height="5.6" fill="#f6e4e7"/>
<rect x="119.88" y="280.12" width="3.3" height="5.6" fill="#d5e1f0"/>
<rect x="123.16" y="280.12" width="3.3" height="5.6" fill="#d5e1f0"/>
<rect x="126.44" y="280.12" width="3.3" height="5.6" fill="#d5e1f0"/>
<rect x="129.73" y="280.12" width="3.3" height="5.6" fill="#eaf0f7"/>
<rect x="133.01" y="280.12" width="3.3" height="5.6" fill="#c0d2e8"/>
<rect x="136.29" y="280.12" width="3.3" height="5.6" fill="#ffffff"/>
<rect x="139.57" y="280.12" width="3.3" height="5.6" fill="#d5e1f0"/>
<rect x="142.86" y="280.12" width="3.3" height="5.6" fill="#abc3e1"/>
<rect x="146.14" y="280.12" width="3.3" height="5.6" fill="#d5e1f0"/>
<rect x="149.42" y="280.12" width="3.3" height="5.6" fill="#c0d2e8"/>
<rect x="152.7" y="280.12" width="3.3" height="5.6" fill="#c0d2e8"/>
<rect x="155.99" y="280.12" width="3.3" height="5.6" fill="#c0d2e8"/>
<rect x="159.27" y="280.12" width="3.3" height="5.6" fill="#d5e1f0"/>
<rect x="106.75" y="285.7" width="3.3" height="5.6" fill="#d5e1f0"/>
<rect x="110.03" y="285.7" width="3.3" height="5.6" fill="#d5e1f0"/>
<rect x="113.31" y="285.7" width="3.3" height="5.6" fill="#eaf0f7"/>
<rect x="116.6" y="285.7" width="3.3" height="5.6" fill="#f6e4e7"/>
<rect x="119.88" y="285.7" width="3.3" height="5.6" fill="#d5e1f0"/>
<rect x="123.16" y="285.7" width="3.3" height="5.6" fill="#c0d2e8"/>
<rect x="126.44" y="285.7" width="3.3" height="5.6" fill="#d5e1f0"/>
<rect x="129.73" y="285.7" width="3.3" height="5.6" fill="#d5e1f0"/>
<rect x="133.01" y="285.7" width="3.3" height="5.6" fill="#d5e1f0"/>
<rect x="136.29" y="285.7" width="3.3" height="5.6" fill="#eaf0f7"/>
<rect x="139.57" y="285.7" width="3.3" height="5.6" fill="#eaf0f7"/>
<rect x="142.86" y="285.7" width="3.3" height="5.6" fill="#abc3e1"/>
<rect x="146.14" y="285.7" width="3.3" height="5.6" fill="#c0d2e8"/>
<rect x="149.42" y="285.7" width="3.3" height="5.6" fill="#d5e1f0"/>
<rect x="152.7" y="285.7" width="3.3" height="5.6" fill="#c0d2e8"/>
<rect x="155.99" y="285.7" width="3.3" height="5.6" fill="#abc3e1"/>
<rect x="159.27" y="285.7" width="3.3" height="5.6" fill="#d5e1f0"/>
<rect x="106.75" y="291.28" width="3.3" height="5.6" fill="#c0d2e8"/>
<rect x="110.03" y="291.28" width="3.3" height="5.6" fill="#ffffff"/>
<rect x="113.31" y="291.28" width="3.3" height="5.6" fill="#faeff1"/>
<rect x="116.6" y="291.28" width="3.3" height="5.6" fill="#d5e1f0"/>
<rect x="119.88" y="291.28" width="3.3" height="5.6" fill="#c0d2e8"/>
<rect x="123.16" y="291.28" width="3.3" height="5.6" fill="#c0d2e8"/>
<rect x="126.44" y="291.28" width="3.3" height="5.6" fill="#c0d2e8"/>
<rect x="129.73" y="291.28" width="3.3" height="5.6" fill="#d5e1f0"/>
<rect x="133.01" y="291.28" width="3.3" height="5.6" fill="#c0d2e8"/>
<rect x="136.29" y="291.28" width="3.3" height="5.6" fill="#d5e1f0"/>
<rect x="139.57" y="291.28" width="3.3" height="5.6" fill="#d5e1f0"/>
<rect x="142.86" y="291.28" width="3.3" height="5.6" fill="#abc3e1"/>
<rect x="146.14" y="291.28" width="3.3" height="5.6" fill="#c0d2e8"/>
<rect x="149.42" y="291.28" width="3.3" height="5.6" fill="#ffffff"/>
<rect x="152.7" y="291.28" width="3.3" height="5.6" fill="#c0d2e8"/>
<rect x="155.99" y="291.28" width="3.3" height="5.6" fill="#abc3e1"/>
<rect x="159.27" y="291.28" width="3.3" height="5.6" fill="#c0d2e8"/>
<rect x="106.75" y="296.86" width="3.3" height="5.6" fill="#c0d2e8"/>
<rect x="110.03" y="296.86" width="3.3" height="5.6" fill="#ffffff"/>
<rect x="113.31" y="296.86" width="3.3" height="5.6" fill="#ffffff"/>
<rect x="116.6" y="296.86" width="3.3" height="5.6" fill="#eaf0f7"/>
<rect x="119.88" y="296.86" width="3.3" height="5.6" fill="#c0d2e8"/>
<rect x="123.16" y="296.86" width="3.3" height="5.6" fill="#c0d2e8"/>
<rect x="126.44" y="296.86" width="3.3" height="5.6" fill="#c0d2e8"/>
<rect x="129.73" y="296.86" width="3.3" height="5.6" fill="#d5e1f0"/>
<rect x="133.01" y="296.86" width="3.3" height="5.6" fill="#d5e1f0"/>
<rect x="136.29" y="296.86" width="3.3" height="5.6" fill="#ffffff"/>
<rect x="139.57" y="296.86" width="3.3" height="5.6" fill="#d5e1f0"/>
<rect x="142.86" y="296.86" width="3.3" height="5.6" fill="#abc3e1"/>
<rect x="146.14" y="296.86" width="3.3" height="5.6" fill="#c0d2e8"/>
<rect x="149.42" y="296.86" width="3.3" height="5.6" fill="#d5e1f0"/>
<rect x="152.7" y="296.86" width="3.3" height="5.6" fill="#c0d2e8"/>
<rect x="155.99" y="296.86" width="3.3" height="5.6" fill="#abc3e1"/>
<rect x="159.27" y="296.86" width="3.3" height="5.6" fill="#d5e1f0"/>
<rect x="106.75" y="302.44" width="3.3" height="5.6" fill="#c0d2e8"/>
<rect x="110.03" y="302.44" width="3.3" height="5.6" fill="#ffffff"/>
<rect x="113.31" y="302.44" width="3.3" height="5.6" fill="#eaf0f7"/>
<rect x="116.6" y="302.44" width="3.3" height="5.6" fill="#ffffff"/>
<rect x="119.88" y="302.44" width="3.3" height="5.6" fill="#c0d2e8"/>
<rect x="123.16" y="302.44" width="3.3" height="5.6" fill="#c0d2e8"/>
<rect x="126.44" y="302.44" width="3.3" height="5.6" fill="#d5e1f0"/>
<rect x="129.73" y="302.44" width="3.3" height="5.6" fill="#d5e1f0"/>
<rect x="133.01" y="302.44" width="3.3" height="5.6" fill="#d5e1f0"/>
<rect x="136.29" y="302.44" width="3.3" height="5.6" fill="#eaf0f7"/>
<rect x="139.57" y="302.44" width="3.3" height="5.6" fill="#d5e1f0"/>
<rect x="142.86" y="302.44" width="3.3" height="5.6" fill="#abc3e1"/>
<rect x="146.14" y="302.44" width="3.3" height="5.6" fill="#c0d2e8"/>
<rect x="149.42" y="302.44" width="3.3" height="5.6" fill="#eaf0f7"/>
<rect x="152.7" y="302.44" width="3.3" height="5.6" fill="#c0d2e8"/>
<rect x="155.99" y="302.44" width="3.3" height="5.6" fill="#abc3e1"/>
<rect x="159.27" y="302.44" width="3.3" height="5.6" fill="#d5e1f0"/>
<rect x="106.75" y="308.02" width="3.3" height="5.6" fill="#d5e1f0"/>
<rect x="110.03" y="308.02" width="3.3" height="5.6" fill="#faeff1"/>
<rect x="113.31" y="308.02" width="3.3" height="5.6" fill="#d5e1f0"/>
<rect x="116.6" y="308.02" width="3.3" height="5.6" fill="#faeff1"/>
<rect x="119.88" y="308.02" width="3.3" height="5.6" fill="#d5e1f0"/>
<rect x="123.16" y="308.02" width="3.3" height="5.6" fill="#c0d2e8"/>
<rect x="126.44" y="308.02" width="3.3" height="5.6" fill="#ffffff"/>
<rect x="129.73" y="308.02" width="3.3" height="5.6" fill="#d5e1f0"/>
<rect x="133.01" y="308.02" width="3.3" height="5.6" fill="#d5e1f0"/>
<rect x="136.29" y="308.02" width="3.3" height="5.6" fill="#ffffff"/>
<rect x="139.57" y="308.02" width="3.3" height="5.6" fill="#d5e1f0"/>
<rect x="142.86" y="308.02" width="3.3" height="5.6" fill="#abc3e1"/>
<rect x="146.14" y="308.02" width="3.3" height="5.6" fill="#c0d2e8"/>
<rect x="149.42" y="308.02" width="3.3" height="5.6" fill="#d5e1f0"/>
<rect x="152.7" y="308.02" width="3.3" height="5.6" fill="#c0d2e8"/>
<rect x="155.99" y="308.02" width="3.3" height="5.6" fill="#abc3e1"/>
<rect x="159.27" y="308.02" width="3.3" height="5.6" fill="#c0d2e8"/>
<rect x="106.75" y="313.6" width="3.3" height="5.6" fill="#c0d2e8"/>
<rect x="110.03" y="313.6" width="3.3" height="5.6" fill="#d5e1f0"/>
<rect x="113.31" y="313.6" width="3.3" height="5.6" fill="#d5e1f0"/>
<rect x="116.6" y="313.6" width="3.3" height="5.6" fill="#ffffff"/>
<rect x="119.88" y="313.6" width="3.3" height="5.6" fill="#c0d2e8"/>
<rect x="123.16" y="313.6" width="3.3" height="5.6" fill="#c0d2e8"/>
<rect x="126.44" y="313.6" width="3.3" height="5.6" fill="#d5e1f0"/>
<rect x="129.73" y="313.6" width="3.3" height="5.6" fill="#d5e1f0"/>
<rect x="133.01" y="313.6" width="3.3" height="5.6" fill="#d5e1f0"/>
<rect x="136.29" y="313.6" width="3.3" height="5.6" fill="#d5e1f0"/>
<rect x="139.57" y="313.6" width="3.3" height="5.6" fill="#d5e1f0"/>
<rect x="142.86" y="313.6" width="3.3" height="5.6" fill="#abc3e1"/>
<rect x="146.14" y="313.6" width="3.3" height="5.6" fill="#c0d2e8"/>
<rect x="149.42" y="313.6" width="3.3" height="5.6" fill="#ffffff"/>
<rect x="152.7" y="313.6" width="3.3" height="5.6" fill="#c0d2e8"/>
<rect x="155.99" y="313.6" width="3.3" height="5.6" fill="#abc3e1"/>
<rect x="159.27" y="313.6" width="3.3" height="5.6" fill="#d5e1f0"/>
<rect x="106.75" y="319.18" width="3.3" height="5.6" fill="#faeff1"/>
<rect x="110.03" y="319.18" width="3.3" height="5.6" fill="#d5e1f0"/>
<rect x="113.31" y="319.18" width="3.3" height="5.6" fill="#d5e1f0"/>
<rect x="116.6" y="319.18" width="3.3" height="5.6" fill="#eaf0f7"/>
<rect x="119.88" y="319.18" width="3.3" height="5.6" fill="#c0d2e8"/>
<rect x="123.16" y="319.18" width="3.3" height="5.6" fill="#c0d2e8"/>
<rect x="126.44" y="319.18" width="3.3" height="5.6" fill="#d5e1f0"/>
<rect x="129.73" y="319.18" width="3.3" height="5.6" fill="#d5e1f0"/>
<rect x="133.01" y="319.18" width="3.3" height="5.6" fill="#eaf0f7"/>
<rect x="136.29" y="319.18" width="3.3" height="5.6" fill="#d5e1f0"/>
<rect x="139.57" y="319.18" width="3.3" height="5.6" fill="#d5e1f0"/>
<rect x="142.86" y="319.18" width="3.3" height="5.6" fill="#96b4d9"/>
<rect x="146.14" y="319.18" width="3.3" height="5.6" fill="#c0d2e8"/>
<rect x="149.42" y="319.18" width="3.3" height="5.6" fill="#d5e1f0"/>
<rect x="152.7" y="319.18" width="3.3" height="5.6" fill="#c0d2e8"/>
<rect x="155.99" y="319.18" width="3.3" height="5.6" fill="#abc3e1"/>
<rect x="159.27" y="319.18" width="3.3" height="5.6" fill="#d5e1f0"/>
<rect x="106.75" y="324.76" width="3.3" height="5.6" fill="#c0d2e8"/>
<rect x="110.03" y="324.76" width="3.3" height="5.6" fill="#d5e1f0"/>
<rect x="113.31" y="324.76" width="3.3" height="5.6" fill="#d5e1f0"/>
<rect x="116.6" y="324.76" width="3.3" height="5.6" fill="#d5e1f0"/>
<rect x="119.88" y="324.76" width="3.3" height="5.6" fill="#d5e1f0"/>
<rect x="123.16" y="324.76" width="3.3" height="5.6" fill="#abc3e1"/>
<rect x="126.44" y="324.76" width="3.3" height="5.6" fill="#d5e1f0"/>
<rect x="129.73" y="324.76" width="3.3" height="5.6" fill="#d5e1f0"/>
<rect x="133.01" y="324.76" width="3.3" height="5.6" fill="#d5e1f0"/>
<rect x="136.29" y="324.76" width="3.3" height="5.6" fill="#eaf0f7"/>
<rect x="139.57" y="324.76" width="3.3" height="5.6" fill="#d5e1f0"/>
<rect x="142.86" y="324.76" width="3.3" height="5.6" fill="#96b4d9"/>
<rect x="146.14" y="324.76" width="3.3" height="5.6" fill="#c0d2e8"/>
<rect x="149.42" y="324.76" width="3.3" height="5.6" fill="#d5e1f0"/>
<rect x="152.7" y="324.76" width="3.3" height="5.6" fill="#c0d2e8"/>
<rect x="155.99" y="324.76" width="3.3" height="5.6" fill="#abc3e1"/>
<rect x="159.27" y="324.76" width="3.3" height="5.6" fill="#d5e1f0"/>
<rect x="106.75" y="330.34" width="3.3" height="5.6" fill="#c0d2e8"/>
<rect x="110.03" y="330.34" width="3.3" height="5.6" fill="#ffffff"/>
<rect x="113.31" y="330.34" width="3.3" height="5.6" fill="#faeff1"/>
<rect x="116.6" y="330.34" width="3.3" height="5.6" fill="#eaf0f7"/>
<rect x="119.88" y="330.34" width="3.3" height="5.6" fill="#d5e1f0"/>
<rect x="123.16" y="330.34" width="3.3" height="5.6" fill="#c0d2e8"/>
<rect x="126.44" y="330.34" width="3.3" height="5.6" fill="#eaf0f7"/>
<rect x="129.73" y="330.34" width="3.3" height="5.6" fill="#d5e1f0"/>
<rect x="133.01" y="330.34" width="3.3" height="5.6" fill="#d5e1f0"/>
<rect x="136.29" y="330.34" width="3.3" height="5.6" fill="#ffffff"/>
<rect x="139.57" y="330.34" width="3.3" height="5.6" fill="#d5e1f0"/>
<rect x="142.86" y="330.34" width="3.3" height="5.6" fill="#abc3e1"/>
<rect x="146.14" y="330.34" width="3.3" height="5.6" fill="#c0d2e8"/>
<rect x="149.42" y="330.34" width="3.3" height="5.6" fill="#d5e1f0"/>
<rect x="152.7" y="330.34" width="3.3" height="5.6" fill="#c0d2e8"/>
<rect x="155.99" y="330.34" width="3.3" height="5.6" fill="#abc3e1"/>
<rect x="159.27" y="330.34" width="3.3" height="5.6" fill="#d5e1f0"/>
<rect x="106.75" y="335.92" width="3.3" height="5.6" fill="#c0d2e8"/>
<rect x="110.03" y="335.92" width="3.3" height="5.6" fill="#c0d2e8"/>
<rect x="113.31" y="335.92" width="3.3" height="5.6" fill="#d5e1f0"/>
<rect x="116.6" y="335.92" width="3.3" height="5.6" fill="#eaf0f7"/>
<rect x="119.88" y="335.92" width="3.3" height="5.6" fill="#d5e1f0"/>
<rect x="123.16" y="335.92" width="3.3" height="5.6" fill="#d5e1f0"/>
<rect x="126.44" y="335.92" width="3.3" height="5.6" fill="#c0d2e8"/>
<rect x="129.73" y="335.92" width="3.3" height="5.6" fill="#d5e1f0"/>
<rect x="133.01" y="335.92" width="3.3" height="5.6" fill="#c0d2e8"/>
<rect x="136.29" y="335.92" width="3.3" height="5.6" fill="#d5e1f0"/>
<rect x="139.57" y="335.92" width="3.3" height="5.6" fill="#d5e1f0"/>
<rect x="142.86" y="335.92" width="3.3" height="5.6" fill="#c0d2e8"/>
<rect x="146.14" y="335.92" width="3.3" height="5.6" fill="#c0d2e8"/>
<rect x="149.42" y="335.92" width="3.3" height="5.6" fill="#d5e1f0"/>
<rect x="152.7" y="335.92" width="3.3" height="5.6" fill="#c0d2e8"/>
<rect x="155.99" y="335.92" width="3.3" height="5.6" fill="#c0d2e8"/>
<rect x="159.27" y="335.92" width="3.3" height="5.6" fill="#d5e1f0"/>
<rect x="106.75" y="341.5" width="3.3" height="5.6" fill="#abc3e1"/>
<rect x="110.03" y="341.5" width="3.3" height="5.6" fill="#eaf0f7"/>
<rect x="113.31" y="341.5" width="3.3" height="5.6" fill="#abc3e1"/>
<rect x="116.6" y="341.5" width="3.3" height="5.6" fill="#eaf0f7"/>
<rect x="119.88" y="341.5" width="3.3" height="5.6" fill="#d5e1f0"/>
<rect x="123.16" y="341.5" width="3.3" height="5.6" fill="#abc3e1"/>
<rect x="126.44" y="341.5" width="3.3" height="5.6" fill="#d5e1f0"/>
<rect x="129.73" y="341.5" width="3.3" height="5.6" fill="#abc3e1"/>
<rect x="133.01" y="341.5" width="3.3" height="5.6" fill="#c0d2e8"/>
<rect x="136.29" y="341.5" width="3.3" height="5.6" fill="#f6e4e7"/>
<rect x="139.57" y="341.5" width="3.3" height="5.6" fill="#eaf0f7"/>
<rect x="142.86" y="341.5" width="3.3" height="5.6" fill="#eaf0f7"/>
<rect x="146.14" y="341.5" width="3.3" height="5.6" fill="#ffffff"/>
<rect x="149.42" y="341.5" width="3.3" height="5.6" fill="#f6e4e7"/>
<rect x="152.7" y="341.5" width="3.3" height="5.6" fill="#edc9d0"/>
<rect x="155.99" y="341.5" width="3.3" height="5.6" fill="#c0d2e8"/>
<rect x="159.27" y="341.5" width="3.3" height="5.6" fill="#eaf0f7"/>
<rect x="106.75" y="347.08" width="3.3" height="5.6" fill="#abc3e1"/>
<rect x="110.03" y="347.08" width="3.3" height="5.6" fill="#eaf0f7"/>
<rect x="113.31" y="347.08" width="3.3" height="5.6" fill="#d5e1f0"/>
<rect x="116.6" y="347.08" width="3.3" height="5.6" fill="#eaf0f7"/>
<rect x="119.88" y="347.08" width="3.3" height="5.6" fill="#ffffff"/>
<rect x="123.16" y="347.08" width="3.3" height="5.6" fill="#abc3e1"/>
<rect x="126.44" y="347.08" width="3.3" height="5.6" fill="#d5e1f0"/>
<rect x="129.73" y="347.08" width="3.3" height="5.6" fill="#abc3e1"/>
<rect x="133.01" y="347.08" width="3.3" height="5.6" fill="#c0d2e8"/>
<rect x="136.29" y="347.08" width="3.3" height="5.6" fill="#edc9d0"/>
<rect x="139.57" y="347.08" width="3.3" height="5.6" fill="#d5e1f0"/>
<rect x="142.86" y="347.08" width="3.3" height="5.6" fill="#eaf0f7"/>
<rect x="146.14" y="347.08" width="3.3" height="5.6" fill="#eaf0f7"/>
<rect x="149.42" y="347.08" width="3.3" height="5.6" fill="#edc9d0"/>
<rect x="152.7" y="347.08" width="3.3" height="5.6" fill="#eaf0f7"/>
<rect x="155.99" y="347.08" width="3.3" height="5.6" fill="#c0d2e8"/>
<rect x="159.27" y="347.08" width="3.3" height="5.6" fill="#c0d2e8"/>
<rect x="106.75" y="352.66" width="3.3" height="5.6" fill="#abc3e1"/>
<rect x="110.03" y="352.66" width="3.3" height="5.6" fill="#d5e1f0"/>
<rect x="113.31" y="352.66" width="3.3" height="5.6" fill="#f6e4e7"/>
<rect x="116.6" y="352.66" width="3.3" height="5.6" fill="#ffffff"/>
<rect x="119.88" y="352.66" width="3.3" height="5.6" fill="#d5e1f0"/>
<rect x="123.16" y="352.66" width="3.3" height="5.6" fill="#abc3e1"/>
<rect x="126.44" y="352.66" width="3.3" height="5.6" fill="#d5e1f0"/>
<rect x="129.73" y="352.66" width="3.3" height="5.6" fill="#ffffff"/>
<rect x="133.01" y="352.66" width="3.3" height="5.6" fill="#c0d2e8"/>
<rect x="136.29" y="352.66" width="3.3" height="5.6" fill="#d5e1f0"/>
<rect x="139.57" y="352.66" width="3.3" height="5.6" fill="#d5e1f0"/>
<rect x="142.86" y="352.66" width="3.3" height="5.6" fill="#c0d2e8"/>
<rect x="146.14" y="352.66" width="3.3" height="5.6" fill="#eaf0f7"/>
<rect x="149.42" y="352.66" width="3.3" height="5.6" fill="#d5e1f0"/>
<rect x="152.7" y="352.66" width="3.3" height="5.6" fill="#faeff1"/>
<rect x="155.99" y="352.66" width="3.3" height="5.6" fill="#e4afb8"/>
<rect x="159.27" y="352.66" width="3.3" height="5.6" fill="#f6e4e7"/>
<rect x="106.75" y="358.24" width="3.3" height="5.6" fill="#abc3e1"/>
<rect x="110.03" y="358.24" width="3.3" height="5.6" fill="#c0d2e8"/>
<rect x="113.31" y="358.24" width="3.3" height="5.6" fill="#abc3e1"/>
<rect x="116.6" y="358.24" width="3.3" height="5.6" fill="#faeff1"/>
<rect x="119.88" y="358.24" width="3.3" height="5.6" fill="#c0d2e8"/>
<rect x="123.16" y="358.24" width="3.3" height="5.6" fill="#abc3e1"/>
<rect x="126.44" y="358.24" width="3.3" height="5.6" fill="#d5e1f0"/>
<rect x="129.73" y="358.24" width="3.3" height="5.6" fill="#abc3e1"/>
<rect x="133.01" y="358.24" width="3.3" height="5.6" fill="#d5e1f0"/>
<rect x="136.29" y="358.24" width="3.3" height="5.6" fill="#ffffff"/>
<rect x="139.57" y="358.24" width="3.3" height="5.6" fill="#f6e4e7"/>
<rect x="142.86" y="358.24" width="3.3" height="5.6" fill="#d5e1f0"/>
<rect x="146.14" y="358.24" width="3.3" height="5.6" fill="#d5e1f0"/>
<rect x="149.42" y="358.24" width="3.3" height="5.6" fill="#d5e1f0"/>
<rect x="152.7" y="358.24" width="3.3" height="5.6" fill="#d5e1f0"/>
<rect x="155.99" y="358.24" width="3.3" height="5.6" fill="#abc3e1"/>
<rect x="159.27" y="358.24" width="3.3" height="5.6" fill="#ffffff"/>
<rect x="106.75" y="363.82" width="3.3" height="5.6" fill="#c0d2e8"/>
<rect x="110.03" y="363.82" width="3.3" height="5.6" fill="#abc3e1"/>
<rect x="113.31" y="363.82" width="3.3" height="5.6" fill="#abc3e1"/>
<rect x="116.6" y="363.82" width="3.3" height="5.6" fill="#e4afb8"/>
<rect x="119.88" y="363.82" width="3.3" height="5.6" fill="#d5e1f0"/>
<rect x="123.16" y="363.82" width="3.3" height="5.6" fill="#abc3e1"/>
<rect x="126.44" y="363.82" width="3.3" height="5.6" fill="#c0d2e8"/>
<rect x="129.73" y="363.82" width="3.3" height="5.6" fill="#c0d2e8"/>
<rect x="133.01" y="363.82" width="3.3" height="5.6" fill="#d5e1f0"/>
<rect x="136.29" y="363.82" width="3.3" height="5.6" fill="#ffffff"/>
<rect x="139.57" y="363.82" width="3.3" height="5.6" fill="#d5e1f0"/>
<rect x="142.86" y="363.82" width="3.3" height="5.6" fill="#d5e1f0"/>
<rect x="146.14" y="363.82" width="3.3" height="5.6" fill="#d5e1f0"/>
<rect x="149.42" y="363.82" width="3.3" height="5.6" fill="#d5e1f0"/>
<rect x="152.7" y="363.82" width="3.3" height="5.6" fill="#c0d2e8"/>
<rect x="155.99" y="363.82" width="3.3" height="5.6" fill="#abc3e1"/>
<rect x="159.27" y="363.82" width="3.3" height="5.6" fill="#ffffff"/>
<rect x="106.75" y="369.4" width="3.3" height="5.6" fill="#c0d2e8"/>
<rect x="110.03" y="369.4" width="3.3" height="5.6" fill="#c0d2e8"/>
<rect x="113.31" y="369.4" width="3.3" height="5.6" fill="#abc3e1"/>
<rect x="116.6" y="369.4" width="3.3" height="5.6" fill="#ffffff"/>
<rect x="119.88" y="369.4" width="3.3" height="5.6" fill="#c0d2e8"/>
<rect x="123.16" y="369.4" width="3.3" height="5.6" fill="#abc3e1"/>
<rect x="126.44" y="369.4" width="3.3" height="5.6" fill="#c0d2e8"/>
<rect x="129.73" y="369.4" width="3.3" height="5.6" fill="#96b4d9"/>
<rect x="133.01" y="369.4" width="3.3" height="5.6" fill="#d5e1f0"/>
<rect x="136.29" y="369.4" width="3.3" height="5.6" fill="#eaf0f7"/>
<rect x="139.57" y="369.4" width="3.3" height="5.6" fill="#d5e1f0"/>
<rect x="142.86" y="369.4" width="3.3" height="5.6" fill="#d5e1f0"/>
<rect x="146.14" y="369.4" width="3.3" height="5.6" fill="#d5e1f0"/>
<rect x="149.42" y="369.4" width="3.3" height="5.6" fill="#d5e1f0"/>
<rect x="152.7" y="369.4" width="3.3" height="5.6" fill="#c0d2e8"/>
<rect x="155.99" y="369.4" width="3.3" height="5.6" fill="#abc3e1"/>
<rect x="159.27" y="369.4" width="3.3" height="5.6" fill="#f6e4e7"/>
<rect x="106.75" y="374.98" width="3.3" height="5.6" fill="#c0d2e8"/>
<rect x="110.03" y="374.98" width="3.3" height="5.6" fill="#c0d2e8"/>
<rect x="113.31" y="374.98" width="3.3" height="5.6" fill="#ffffff"/>
<rect x="116.6" y="374.98" width="3.3" height="5.6" fill="#d5e1f0"/>
<rect x="119.88" y="374.98" width="3.3" height="5.6" fill="#c0d2e8"/>
<rect x="123.16" y="374.98" width="3.3" height="5.6" fill="#abc3e1"/>
<rect x="126.44" y="374.98" width="3.3" height="5.6" fill="#c0d2e8"/>
<rect x="129.73" y="374.98" width="3.3" height="5.6" fill="#96b4d9"/>
<rect x="133.01" y="374.98" width="3.3" height="5.6" fill="#d5e1f0"/>
<rect x="136.29" y="374.98" width="3.3" height="5.6" fill="#d5e1f0"/>
<rect x="139.57" y="374.98" width="3.3" height="5.6" fill="#ffffff"/>
<rect x="142.86" y="374.98" width="3.3" height="5.6" fill="#d5e1f0"/>
<rect x="146.14" y="374.98" width="3.3" height="5.6" fill="#d5e1f0"/>
<rect x="149.42" y="374.98" width="3.3" height="5.6" fill="#d5e1f0"/>
<rect x="152.7" y="374.98" width="3.3" height="5.6" fill="#c0d2e8"/>
<rect x="155.99" y="374.98" width="3.3" height="5.6" fill="#abc3e1"/>
<rect x="159.27" y="374.98" width="3.3" height="5.6" fill="#ffffff"/>
<rect x="106.75" y="380.56" width="3.3" height="5.6" fill="#c0d2e8"/>
<rect x="110.03" y="380.56" width="3.3" height="5.6" fill="#d5e1f0"/>
<rect x="113.31" y="380.56" width="3.3" height="5.6" fill="#c0d2e8"/>
<rect x="116.6" y="380.56" width="3.3" height="5.6" fill="#d5e1f0"/>
<rect x="119.88" y="380.56" width="3.3" height="5.6" fill="#d5e1f0"/>
<rect x="123.16" y="380.56" width="3.3" height="5.6" fill="#abc3e1"/>
<rect x="126.44" y="380.56" width="3.3" height="5.6" fill="#c0d2e8"/>
<rect x="129.73" y="380.56" width="3.3" height="5.6" fill="#81a5d2"/>
<rect x="133.01" y="380.56" width="3.3" height="5.6" fill="#ffffff"/>
<rect x="136.29" y="380.56" width="3.3" height="5.6" fill="#edc9d0"/>
<rect x="139.57" y="380.56" width="3.3" height="5.6" fill="#eaf0f7"/>
<rect x="142.86" y="380.56" width="3.3" height="5.6" fill="#ffffff"/>
<rect x="146.14" y="380.56" width="3.3" height="5.6" fill="#d5e1f0"/>
<rect x="149.42" y="380.56" width="3.3" height="5.6" fill="#eaf0f7"/>
<rect x="152.7" y="380.56" width="3.3" height="5.6" fill="#d5e1f0"/>
<rect x="155.99" y="380.56" width="3.3" height="5.6" fill="#c0d2e8"/>
<rect x="159.27" y="380.56" width="3.3" height="5.6" fill="#f6e4e7"/>
<rect x="106.75" y="386.14" width="3.3" height="5.6" fill="#c0d2e8"/>
<rect x="110.03" y="386.14" width="3.3" height="5.6" fill="#c0d2e8"/>
<rect x="113.31" y="386.14" width="3.3" height="5.6" fill="#ffffff"/>
<rect x="116.6" y="386.14" width="3.3" height="5.6" fill="#faeff1"/>
<rect x="119.88" y="386.14" width="3.3" height="5.6" fill="#c0d2e8"/>
<rect x="123.16" y="386.14" width="3.3" height="5.6" fill="#abc3e1"/>
<rect x="126.44" y="386.14" width="3.3" height="5.6" fill="#abc3e1"/>
<rect x="129.73" y="386.14" width="3.3" height="5.6" fill="#81a5d2"/>
<rect x="133.01" y="386.14" width="3.3" height="5.6" fill="#ffffff"/>
<rect x="136.29" y="386.14" width="3.3" height="5.6" fill="#f6e4e7"/>
<rect x="139.57" y="386.14" width="3.3" height="5.6" fill="#d5e1f0"/>
<rect x="142.86" y="386.14" width="3.3" height="5.6" fill="#d5e1f0"/>
<rect x="146.14" y="386.14" width="3.3" height="5.6" fill="#c0d2e8"/>
<rect x="149.42" y="386.14" width="3.3" height="5.6" fill="#d5e1f0"/>
<rect x="152.7" y="386.14" width="3.3" height="5.6" fill="#c0d2e8"/>
<rect x="155.99" y="386.14" width="3.3" height="5.6" fill="#c0d2e8"/>
<rect x="159.27" y="386.14" width="3.3" height="5.6" fill="#edc9d0"/>
<rect x="106.75" y="391.72" width="3.3" height="5.6" fill="#c0d2e8"/>
<rect x="110.03" y="391.72" width="3.3" height="5.6" fill="#d5e1f0"/>
<rect x="113.31" y="391.72" width="3.3" height="5.6" fill="#abc3e1"/>
<rect x="116.6" y="391.72" width="3.3" height="5.6" fill="#f6e4e7"/>
<rect x="119.88" y="391.72" width="3.3" height="5.6" fill="#c0d2e8"/>
<rect x="123.16" y="391.72" width="3.3" height="5.6" fill="#abc3e1"/>
<rect x="126.44" y="391.72" width="3.3" height="5.6" fill="#d5e1f0"/>
<rect x="129.73" y="391.72" width="3.3" height="5.6" fill="#c0d2e8"/>
<rect x="133.01" y="391.72" width="3.3" height="5.6" fill="#d5e1f0"/>
<rect x="136.29" y="391.72" width="3.3" height="5.6" fill="#e4afb8"/>
<rect x="139.57" y="391.72" width="3.3" height="5.6" fill="#e4afb8"/>
<rect x="142.86" y="391.72" width="3.3" height="5.6" fill="#d5e1f0"/>
<rect x="146.14" y="391.72" width="3.3" height="5.6" fill="#ffffff"/>
<rect x="149.42" y="391.72" width="3.3" height="5.6" fill="#ffffff"/>
<rect x="152.7" y="391.72" width="3.3" height="5.6" fill="#c0d2e8"/>
<rect x="155.99" y="391.72" width="3.3" height="5.6" fill="#d5e1f0"/>
<rect x="159.27" y="391.72" width="3.3" height="5.6" fill="#d5e1f0"/>
<rect x="106.75" y="397.3" width="3.3" height="5.6" fill="#c0d2e8"/>
<rect x="110.03" y="397.3" width="3.3" height="5.6" fill="#c0d2e8"/>
<rect x="113.31" y="397.3" width="3.3" height="5.6" fill="#abc3e1"/>
<rect x="116.6" y="397.3" width="3.3" height="5.6" fill="#ffffff"/>
<rect x="119.88" y="397.3" width="3.3" height="5.6" fill="#c0d2e8"/>
<rect x="123.16" y="397.3" width="3.3" height="5.6" fill="#abc3e1"/>
<rect x="126.44" y="397.3" width="3.3" height="5.6" fill="#c0d2e8"/>
<rect x="129.73" y="397.3" width="3.3" height="5.6" fill="#c0d2e8"/>
<rect x="133.01" y="397.3" width="3.3" height="5.6" fill="#eaf0f7"/>
<rect x="136.29" y="397.3" width="3.3" height="5.6" fill="#eaf0f7"/>
<rect x="139.57" y="397.3" width="3.3" height="5.6" fill="#d37989"/>
<rect x="142.86" y="397.3" width="3.3" height="5.6" fill="#e4afb8"/>
<rect x="146.14" y="397.3" width="3.3" height="5.6" fill="#eaf0f7"/>
<rect x="149.42" y="397.3" width="3.3" height="5.6" fill="#c0d2e8"/>
<rect x="152.7" y="397.3" width="3.3" height="5.6" fill="#c0d2e8"/>
<rect x="155.99" y="397.3" width="3.3" height="5.6" fill="#96b4d9"/>
<rect x="159.27" y="397.3" width="3.3" height="5.6" fill="#c0d2e8"/>
<rect x="106.75" y="402.88" width="3.3" height="5.6" fill="#c0d2e8"/>
<rect x="110.03" y="402.88" width="3.3" height="5.6" fill="#c0d2e8"/>
<rect x="113.31" y="402.88" width="3.3" height="5.6" fill="#abc3e1"/>
<rect x="116.6" y="402.88" width="3.3" height="5.6" fill="#faeff1"/>
<rect x="119.88" y="402.88" width="3.3" height="5.6" fill="#d5e1f0"/>
<rect x="123.16" y="402.88" width="3.3" height="5.6" fill="#c0d2e8"/>
<rect x="126.44" y="402.88" width="3.3" height="5.6" fill="#c0d2e8"/>
<rect x="129.73" y="402.88" width="3.3" height="5.6" fill="#c0d2e8"/>
<rect x="133.01" y="402.88" width="3.3" height="5.6" fill="#d5e1f0"/>
<rect x="136.29" y="402.88" width="3.3" height="5.6" fill="#f6e4e7"/>
<rect x="139.57" y="402.88" width="3.3" height="5.6" fill="#f6e4e7"/>
<rect x="142.86" y="402.88" width="3.3" height="5.6" fill="#f6e4e7"/>
<rect x="146.14" y="402.88" width="3.3" height="5.6" fill="#ffffff"/>
<rect x="149.42" y="402.88" width="3.3" height="5.6" fill="#d5e1f0"/>
<rect x="152.7" y="402.88" width="3.3" height="5.6" fill="#c0d2e8"/>
<rect x="155.99" y="402.88" width="3.3" height="5.6" fill="#abc3e1"/>
<rect x="159.27" y="402.88" width="3.3" height="5.6" fill="#d5e1f0"/>
<rect x="106.75" y="408.46" width="3.3" height="5.6" fill="#abc3e1"/>
<rect x="110.03" y="408.46" width="3.3" height="5.6" fill="#eaf0f7"/>
<rect x="113.31" y="408.46" width="3.3" height="5.6" fill="#abc3e1"/>
<rect x="116.6" y="408.46" width="3.3" height="5.6" fill="#d5e1f0"/>
<rect x="119.88" y="408.46" width="3.3" height="5.6" fill="#d5e1f0"/>
<rect x="123.16" y="408.46" width="3.3" height="5.6" fill="#d5e1f0"/>
<rect x="126.44" y="408.46" width="3.3" height="5.6" fill="#c0d2e8"/>
<rect x="129.73" y="408.46" width="3.3" height="5.6" fill="#abc3e1"/>
<rect x="133.01" y="408.46" width="3.3" height="5.6" fill="#d5e1f0"/>
<rect x="136.29" y="408.46" width="3.3" height="5.6" fill="#ffffff"/>
<rect x="139.57" y="408.46" width="3.3" height="5.6" fill="#edc9d0"/>
<rect x="142.86" y="408.46" width="3.3" height="5.6" fill="#edc9d0"/>
<rect x="146.14" y="408.46" width="3.3" height="5.6" fill="#d5e1f0"/>
<rect x="149.42" y="408.46" width="3.3" height="5.6" fill="#d5e1f0"/>
<rect x="152.7" y="408.46" width="3.3" height="5.6" fill="#c0d2e8"/>
<rect x="155.99" y="408.46" width="3.3" height="5.6" fill="#abc3e1"/>
<rect x="159.27" y="408.46" width="3.3" height="5.6" fill="#d5e1f0"/>
<rect x="106.75" y="414.04" width="3.3" height="5.6" fill="#d5e1f0"/>
<rect x="110.03" y="414.04" width="3.3" height="5.6" fill="#d5e1f0"/>
<rect x="113.31" y="414.04" width="3.3" height="5.6" fill="#d5e1f0"/>
<rect x="116.6" y="414.04" width="3.3" height="5.6" fill="#faeff1"/>
<rect x="119.88" y="414.04" width="3.3" height="5.6" fill="#eaf0f7"/>
<rect x="123.16" y="414.04" width="3.3" height="5.6" fill="#abc3e1"/>
<rect x="126.44" y="414.04" width="3.3" height="5.6" fill="#c0d2e8"/>
<rect x="129.73" y="414.04" width="3.3" height="5.6" fill="#c0d2e8"/>
<rect x="133.01" y="414.04" width="3.3" height="5.6" fill="#d5e1f0"/>
<rect x="136.29" y="414.04" width="3.3" height="5.6" fill="#d5e1f0"/>
<rect x="139.57" y="414.04" width="3.3" height="5.6" fill="#ffffff"/>
<rect x="142.86" y="414.04" width="3.3" height="5.6" fill="#d5e1f0"/>
<rect x="146.14" y="414.04" width="3.3" height="5.6" fill="#d5e1f0"/>
<rect x="149.42" y="414.04" width="3.3" height="5.6" fill="#d5e1f0"/>
<rect x="152.7" y="414.04" width="3.3" height="5.6" fill="#c0d2e8"/>
<rect x="155.99" y="414.04" width="3.3" height="5.6" fill="#c0d2e8"/>
<rect x="159.27" y="414.04" width="3.3" height="5.6" fill="#faeff1"/>
<rect x="106.75" y="419.62" width="3.3" height="5.6" fill="#d5e1f0"/>
<rect x="110.03" y="419.62" width="3.3" height="5.6" fill="#c0d2e8"/>
<rect x="113.31" y="419.62" width="3.3" height="5.6" fill="#abc3e1"/>
<rect x="116.6" y="419.62" width="3.3" height="5.6" fill="#d5e1f0"/>
<rect x="119.88" y="419.62" width="3.3" height="5.6" fill="#c0d2e8"/>
<rect x="123.16" y="419.62" width="3.3" height="5.6" fill="#c0d2e8"/>
<rect x="126.44" y="419.62" width="3.3" height="5.6" fill="#c0d2e8"/>
<rect x="129.73" y="419.62" width="3.3" height="5.6" fill="#abc3e1"/>
<rect x="133.01" y="419.62" width="3.3" height="5.6" fill="#f6e4e7"/>
<rect x="136.29" y="419.62" width="3.3" height="5.6" fill="#edc9d0"/>
<rect x="139.57" y="419.62" width="3.3" height="5.6" fill="#ffffff"/>
<rect x="142.86" y="419.62" width="3.3" height="5.6" fill="#d5e1f0"/>
<rect x="146.14" y="419.62" width="3.3" height="5.6" fill="#d5e1f0"/>
<rect x="149.42" y="419.62" width="3.3" height="5.6" fill="#d5e1f0"/>
<rect x="152.7" y="419.62" width="3.3" height="5.6" fill="#c0d2e8"/>
<rect x="155.99" y="419.62" width="3.3" height="5.6" fill="#abc3e1"/>
<rect x="159.27" y="419.62" width="3.3" height="5.6" fill="#ffffff"/>
<rect x="106.75" y="425.2" width="3.3" height="5.6" fill="#d5e1f0"/>
<rect x="110.03" y="425.2" width="3.3" height="5.6" fill="#ffffff"/>
<rect x="113.31" y="425.2" width="3.3" height="5.6" fill="#c0d2e8"/>
<rect x="116.6" y="425.2" width="3.3" height="5.6" fill="#faeff1"/>
<rect x="119.88" y="425.2" width="3.3" height="5.6" fill="#d5e1f0"/>
<rect x="123.16" y="425.2" width="3.3" height="5.6" fill="#c0d2e8"/>
<rect x="126.44" y="425.2" width="3.3" height="5.6" fill="#d5e1f0"/>
<rect x="129.73" y="425.2" width="3.3" height="5.6" fill="#c0d2e8"/>
<rect x="133.01" y="425.2" width="3.3" height="5.6" fill="#d5e1f0"/>
<rect x="136.29" y="425.2" width="3.3" height="5.6" fill="#c0d2e8"/>
<rect x="139.57" y="425.2" width="3.3" height="5.6" fill="#d5e1f0"/>
<rect x="142.86" y="425.2" width="3.3" height="5.6" fill="#f6e4e7"/>
<rect x="146.14" y="425.2" width="3.3" height="5.6" fill="#c0d2e8"/>
<rect x="149.42" y="425.2" width="3.3" height="5.6" fill="#abc3e1"/>
<rect x="152.7" y="425.2" width="3.3" height="5.6" fill="#c0d2e8"/>
<rect x="155.99" y="425.2" width="3.3" height="5.6" fill="#c0d2e8"/>
<rect x="159.27" y="425.2" width="3.3" height="5.6" fill="#d5e1f0"/>
<rect x="106.75" y="430.78" width="3.3" height="5.6" fill="#c0d2e8"/>
<rect x="110.03" y="430.78" width="3.3" height="5.6" fill="#c0d2e8"/>
<rect x="113.31" y="430.78" width="3.3" height="5.6" fill="#abc3e1"/>
<rect x="116.6" y="430.78" width="3.3" height="5.6" fill="#ffffff"/>
<rect x="119.88" y="430.78" width="3.3" height="5.6" fill="#d5e1f0"/>
<rect x="123.16" y="430.78" width="3.3" height="5.6" fill="#abc3e1"/>
<rect x="126.44" y="430.78" width="3.3" height="5.6" fill="#c0d2e8"/>
<rect x="129.73" y="430.78" width="3.3" height="5.6" fill="#abc3e1"/>
<rect x="133.01" y="430.78" width="3.3" height="5.6" fill="#d5e1f0"/>
<rect x="136.29" y="430.78" width="3.3" height="5.6" fill="#f6e4e7"/>
<rect x="139.57" y="430.78" width="3.3" height="5.6" fill="#edc9d0"/>
<rect x="142.86" y="430.78" width="3.3" height="5.6" fill="#ffffff"/>
<rect x="146.14" y="430.78" width="3.3" height="5.6" fill="#ffffff"/>
<rect x="149.42" y="430.78" width="3.3" height="5.6" fill="#c0d2e8"/>
<rect x="152.7" y="430.78" width="3.3" height="5.6" fill="#c0d2e8"/>
<rect x="155.99" y="430.78" width="3.3" height="5.6" fill="#c0d2e8"/>
<rect x="159.27" y="430.78" width="3.3" height="5.6" fill="#d5e1f0"/>
<rect x="106.75" y="436.36" width="3.3" height="5.6" fill="#c0d2e8"/>
<rect x="110.03" y="436.36" width="3.3" height="5.6" fill="#c0d2e8"/>
<rect x="113.31" y="436.36" width="3.3" height="5.6" fill="#c0d2e8"/>
<rect x="116.6" y="436.36" width="3.3" height="5.6" fill="#ffffff"/>
<rect x="119.88" y="436.36" width="3.3" height="5.6" fill="#ffffff"/>
<rect x="123.16" y="436.36" width="3.3" height="5.6" fill="#abc3e1"/>
<rect x="126.44" y="436.36" width="3.3" height="5.6" fill="#d5e1f0"/>
<rect x="129.73" y="436.36" width="3.3" height="5.6" fill="#abc3e1"/>
<rect x="133.01" y="436.36" width="3.3" height="5.6" fill="#d5e1f0"/>
<rect x="136.29" y="436.36" width="3.3" height="5.6" fill="#d5e1f0"/>
<rect x="139.57" y="436.36" width="3.3" height="5.6" fill="#ffffff"/>
<rect x="142.86" y="436.36" width="3.3" height="5.6" fill="#d5e1f0"/>
<rect x="146.14" y="436.36" width="3.3" height="5.6" fill="#d5e1f0"/>
<rect x="149.42" y="436.36" width="3.3" height="5.6" fill="#d5e1f0"/>
<rect x="152.7" y="436.36" width="3.3" height="5.6" fill="#d5e1f0"/>
<rect x="155.99" y="436.36" width="3.3" height="5.6" fill="#c0d2e8"/>
<rect x="159.27" y="436.36" width="3.3" height="5.6" fill="#d5e1f0"/>
<rect x="106.75" y="441.94" width="3.3" height="5.6" fill="#c0d2e8"/>
<rect x="110.03" y="441.94" width="3.3" height="5.6" fill="#d5e1f0"/>
<rect x="113.31" y="441.94" width="3.3" height="5.6" fill="#c0d2e8"/>
<rect x="116.6" y="441.94" width="3.3" height="5.6" fill="#d5e1f0"/>
<rect x="119.88" y="441.94" width="3.3" height="5.6" fill="#d5e1f0"/>
<rect x="123.16" y="441.94" width="3.3" height="5.6" fill="#abc3e1"/>
<rect x="126.44" y="441.94" width="3.3" height="5.6" fill="#d5e1f0"/>
<rect x="129.73" y="441.94" width="3.3" height="5.6" fill="#abc3e1"/>
<rect x="133.01" y="441.94" width="3.3" height="5.6" fill="#d5e1f0"/>
<rect x="136.29" y="441.94" width="3.3" height="5.6" fill="#ffffff"/>
<rect x="139.57" y="441.94" width="3.3" height="5.6" fill="#eaf0f7"/>
<rect x="142.86" y="441.94" width="3.3" height="5.6" fill="#d5e1f0"/>
<rect x="146.14" y="441.94" width="3.3" height="5.6" fill="#d5e1f0"/>
<rect x="149.42" y="441.94" width="3.3" height="5.6" fill="#c0d2e8"/>
<rect x="152.7" y="441.94" width="3.3" height="5.6" fill="#c0d2e8"/>
<rect x="155.99" y="441.94" width="3.3" height="5.6" fill="#c0d2e8"/>
<rect x="159.27" y="441.94" width="3.3" height="5.6" fill="#d5e1f0"/>
<rect x="106.75" y="447.52" width="3.3" height="5.6" fill="#c0d2e8"/>
<rect x="110.03" y="447.52" width="3.3" height="5.6" fill="#c0d2e8"/>
<rect x="113.31" y="447.52" width="3.3" height="5.6" fill="#abc3e1"/>
<rect x="116.6" y="447.52" width="3.3" height="5.6" fill="#d5e1f0"/>
<rect x="119.88" y="447.52" width="3.3" height="5.6" fill="#d5e1f0"/>
<rect x="123.16" y="447.52" width="3.3" height="5.6" fill="#abc3e1"/>
<rect x="126.44" y="447.52" width="3.3" height="5.6" fill="#d5e1f0"/>
<rect x="129.73" y="447.52" width="3.3" height="5.6" fill="#c0d2e8"/>
<rect x="133.01" y="447.52" width="3.3" height="5.6" fill="#d5e1f0"/>
<rect x="136.29" y="447.52" width="3.3" height="5.6" fill="#f6e4e7"/>
<rect x="139.57" y="447.52" width="3.3" height="5.6" fill="#d5e1f0"/>
<rect x="142.86" y="447.52" width="3.3" height="5.6" fill="#ffffff"/>
<rect x="146.14" y="447.52" width="3.3" height="5.6" fill="#d5e1f0"/>
<rect x="149.42" y="447.52" width="3.3" height="5.6" fill="#d5e1f0"/>
<rect x="152.7" y="447.52" width="3.3" height="5.6" fill="#c0d2e8"/>
<rect x="155.99" y="447.52" width="3.3" height="5.6" fill="#abc3e1"/>
<rect x="159.27" y="447.52" width="3.3" height="5.6" fill="#d5e1f0"/>
<rect x="165" y="229.9" width="3.3" height="5.6" fill="#ffffff"/>
<rect x="168.28" y="229.9" width="3.3" height="5.6" fill="#ffffff"/>
<rect x="171.56" y="229.9" width="3.3" height="5.6" fill="#eaf0f7"/>
<rect x="174.85" y="229.9" width="3.3" height="5.6" fill="#c0d2e8"/>
<rect x="178.13" y="229.9" width="3.3" height="5.6" fill="#abc3e1"/>
<rect x="181.41" y="229.9" width="3.3" height="5.6" fill="#abc3e1"/>
<rect x="184.69" y="229.9" width="3.3" height="5.6" fill="#c0d2e8"/>
<rect x="187.98" y="229.9" width="3.3" height="5.6" fill="#abc3e1"/>
<rect x="191.26" y="229.9" width="3.3" height="5.6" fill="#abc3e1"/>
<rect x="194.54" y="229.9" width="3.3" height="5.6" fill="#eaf0f7"/>
<rect x="197.82" y="229.9" width="3.3" height="5.6" fill="#c0d2e8"/>
<rect x="201.11" y="229.9" width="3.3" height="5.6" fill="#abc3e1"/>
<rect x="204.39" y="229.9" width="3.3" height="5.6" fill="#abc3e1"/>
<rect x="207.67" y="229.9" width="3.3" height="5.6" fill="#ffffff"/>
<rect x="210.95" y="229.9" width="3.3" height="5.6" fill="#d5e1f0"/>
<rect x="214.24" y="229.9" width="3.3" height="5.6" fill="#d5e1f0"/>
<rect x="217.52" y="229.9" width="3.3" height="5.6" fill="#c0d2e8"/>
<rect x="165" y="235.48" width="3.3" height="5.6" fill="#c0d2e8"/>
<rect x="168.28" y="235.48" width="3.3" height="5.6" fill="#ffffff"/>
<rect x="171.56" y="235.48" width="3.3" height="5.6" fill="#eaf0f7"/>
<rect x="174.85" y="235.48" width="3.3" height="5.6" fill="#abc3e1"/>
<rect x="178.13" y="235.48" width="3.3" height="5.6" fill="#abc3e1"/>
<rect x="181.41" y="235.48" width="3.3" height="5.6" fill="#96b4d9"/>
<rect x="184.69" y="235.48" width="3.3" height="5.6" fill="#c0d2e8"/>
<rect x="187.98" y="235.48" width="3.3" height="5.6" fill="#96b4d9"/>
<rect x="191.26" y="235.48" width="3.3" height="5.6" fill="#abc3e1"/>
<rect x="194.54" y="235.48" width="3.3" height="5.6" fill="#ffffff"/>
<rect x="197.82" y="235.48" width="3.3" height="5.6" fill="#c0d2e8"/>
<rect x="201.11" y="235.48" width="3.3" height="5.6" fill="#abc3e1"/>
<rect x="204.39" y="235.48" width="3.3" height="5.6" fill="#abc3e1"/>
<rect x="207.67" y="235.48" width="3.3" height="5.6" fill="#edc9d0"/>
<rect x="210.95" y="235.48" width="3.3" height="5.6" fill="#d5e1f0"/>
<rect x="214.24" y="235.48" width="3.3" height="5.6" fill="#d5e1f0"/>
<rect x="217.52" y="235.48" width="3.3" height="5.6" fill="#d5e1f0"/>
<rect x="165" y="241.06" width="3.3" height="5.6" fill="#abc3e1"/>
<rect x="168.28" y="241.06" width="3.3" height="5.6" fill="#eaf0f7"/>
<rect x="171.56" y="241.06" width="3.3" height="5.6" fill="#ffffff"/>
<rect x="174.85" y="241.06" width="3.3" height="5.6" fill="#ffffff"/>
<rect x="178.13" y="241.06" width="3.3" height="5.6" fill="#81a5d2"/>
<rect x="181.41" y="241.06" width="3.3" height="5.6" fill="#abc3e1"/>
<rect x="184.69" y="241.06" width="3.3" height="5.6" fill="#c0d2e8"/>
<rect x="187.98" y="241.06" width="3.3" height="5.6" fill="#d5e1f0"/>
<rect x="191.26" y="241.06" width="3.3" height="5.6" fill="#d5e1f0"/>
<rect x="194.54" y="241.06" width="3.3" height="5.6" fill="#f6e4e7"/>
<rect x="197.82" y="241.06" width="3.3" height="5.6" fill="#c0d2e8"/>
<rect x="201.11" y="241.06" width="3.3" height="5.6" fill="#abc3e1"/>
<rect x="204.39" y="241.06" width="3.3" height="5.6" fill="#c0d2e8"/>
<rect x="207.67" y="241.06" width="3.3" height="5.6" fill="#abc3e1"/>
<rect x="210.95" y="241.06" width="3.3" height="5.6" fill="#abc3e1"/>
<rect x="214.24" y="241.06" width="3.3" height="5.6" fill="#abc3e1"/>
<rect x="217.52" y="241.06" width="3.3" height="5.6" fill="#d5e1f0"/>
<rect x="165" y="246.64" width="3.3" height="5.6" fill="#abc3e1"/>
<rect x="168.28" y="246.64" width="3.3" height="5.6" fill="#eaf0f7"/>
<rect x="171.56" y="246.64" width="3.3" height="5.6" fill="#faeff1"/>
<rect x="174.85" y="246.64" width="3.3" height="5.6" fill="#ffffff"/>
<rect x="178.13" y="246.64" width="3.3" height="5.6" fill="#81a5d2"/>
<rect x="181.41" y="246.64" width="3.3" height="5.6" fill="#abc3e1"/>
<rect x="184.69" y="246.64" width="3.3" height="5.6" fill="#c0d2e8"/>
<rect x="187.98" y="246.64" width="3.3" height="5.6" fill="#d5e1f0"/>
<rect x="191.26" y="246.64" width="3.3" height="5.6" fill="#d5e1f0"/>
<rect x="194.54" y="246.64" width="3.3" height="5.6" fill="#ffffff"/>
<rect x="197.82" y="246.64" width="3.3" height="5.6" fill="#c0d2e8"/>
<rect x="201.11" y="246.64" width="3.3" height="5.6" fill="#abc3e1"/>
<rect x="204.39" y="246.64" width="3.3" height="5.6" fill="#c0d2e8"/>
<rect x="207.67" y="246.64" width="3.3" height="5.6" fill="#abc3e1"/>
<rect x="210.95" y="246.64" width="3.3" height="5.6" fill="#abc3e1"/>
<rect x="214.24" y="246.64" width="3.3" height="5.6" fill="#abc3e1"/>
<rect x="217.52" y="246.64" width="3.3" height="5.6" fill="#d5e1f0"/>
<rect x="165" y="252.22" width="3.3" height="5.6" fill="#abc3e1"/>
<rect x="168.28" y="252.22" width="3.3" height="5.6" fill="#eaf0f7"/>
<rect x="171.56" y="252.22" width="3.3" height="5.6" fill="#f6e4e7"/>
<rect x="174.85" y="252.22" width="3.3" height="5.6" fill="#ffffff"/>
<rect x="178.13" y="252.22" width="3.3" height="5.6" fill="#81a5d2"/>
<rect x="181.41" y="252.22" width="3.3" height="5.6" fill="#abc3e1"/>
<rect x="184.69" y="252.22" width="3.3" height="5.6" fill="#c0d2e8"/>
<rect x="187.98" y="252.22" width="3.3" height="5.6" fill="#ffffff"/>
<rect x="191.26" y="252.22" width="3.3" height="5.6" fill="#d5e1f0"/>
<rect x="194.54" y="252.22" width="3.3" height="5.6" fill="#f6e4e7"/>
<rect x="197.82" y="252.22" width="3.3" height="5.6" fill="#c0d2e8"/>
<rect x="201.11" y="252.22" width="3.3" height="5.6" fill="#abc3e1"/>
<rect x="204.39" y="252.22" width="3.3" height="5.6" fill="#c0d2e8"/>
<rect x="207.67" y="252.22" width="3.3" height="5.6" fill="#abc3e1"/>
<rect x="210.95" y="252.22" width="3.3" height="5.6" fill="#abc3e1"/>
<rect x="214.24" y="252.22" width="3.3" height="5.6" fill="#abc3e1"/>
<rect x="217.52" y="252.22" width="3.3" height="5.6" fill="#d5e1f0"/>
<rect x="165" y="257.8" width="3.3" height="5.6" fill="#abc3e1"/>
<rect x="168.28" y="257.8" width="3.3" height="5.6" fill="#eaf0f7"/>
<rect x="171.56" y="257.8" width="3.3" height="5.6" fill="#eaf0f7"/>
<rect x="174.85" y="257.8" width="3.3" height="5.6" fill="#faeff1"/>
<rect x="178.13" y="257.8" width="3.3" height="5.6" fill="#81a5d2"/>
<rect x="181.41" y="257.8" width="3.3" height="5.6" fill="#abc3e1"/>
<rect x="184.69" y="257.8" width="3.3" height="5.6" fill="#d5e1f0"/>
<rect x="187.98" y="257.8" width="3.3" height="5.6" fill="#ffffff"/>
<rect x="191.26" y="257.8" width="3.3" height="5.6" fill="#d5e1f0"/>
<rect x="194.54" y="257.8" width="3.3" height="5.6" fill="#ffffff"/>
<rect x="197.82" y="257.8" width="3.3" height="5.6" fill="#c0d2e8"/>
<rect x="201.11" y="257.8" width="3.3" height="5.6" fill="#abc3e1"/>
<rect x="204.39" y="257.8" width="3.3" height="5.6" fill="#c0d2e8"/>
<rect x="207.67" y="257.8" width="3.3" height="5.6" fill="#abc3e1"/>
<rect x="210.95" y="257.8" width="3.3" height="5.6" fill="#abc3e1"/>
<rect x="214.24" y="257.8" width="3.3" height="5.6" fill="#abc3e1"/>
<rect x="217.52" y="257.8" width="3.3" height="5.6" fill="#d5e1f0"/>
<rect x="165" y="263.38" width="3.3" height="5.6" fill="#abc3e1"/>
<rect x="168.28" y="263.38" width="3.3" height="5.6" fill="#d5e1f0"/>
<rect x="171.56" y="263.38" width="3.3" height="5.6" fill="#eaf0f7"/>
<rect x="174.85" y="263.38" width="3.3" height="5.6" fill="#faeff1"/>
<rect x="178.13" y="263.38" width="3.3" height="5.6" fill="#81a5d2"/>
<rect x="181.41" y="263.38" width="3.3" height="5.6" fill="#abc3e1"/>
<rect x="184.69" y="263.38" width="3.3" height="5.6" fill="#c0d2e8"/>
<rect x="187.98" y="263.38" width="3.3" height="5.6" fill="#ffffff"/>
<rect x="191.26" y="263.38" width="3.3" height="5.6" fill="#d5e1f0"/>
<rect x="194.54" y="263.38" width="3.3" height="5.6" fill="#eaf0f7"/>
<rect x="197.82" y="263.38" width="3.3" height="5.6" fill="#c0d2e8"/>
<rect x="201.11" y="263.38" width="3.3" height="5.6" fill="#abc3e1"/>
<rect x="204.39" y="263.38" width="3.3" height="5.6" fill="#c0d2e8"/>
<rect x="207.67" y="263.38" width="3.3" height="5.6" fill="#abc3e1"/>
<rect x="210.95" y="263.38" width="3.3" height="5.6" fill="#abc3e1"/>
<rect x="214.24" y="263.38" width="3.3" height="5.6" fill="#abc3e1"/>
<rect x="217.52" y="263.38" width="3.3" height="5.6" fill="#d5e1f0"/>
<rect x="165" y="268.96" width="3.3" height="5.6" fill="#c0d2e8"/>
<rect x="168.28" y="268.96" width="3.3" height="5.6" fill="#ffffff"/>
<rect x="171.56" y="268.96" width="3.3" height="5.6" fill="#faeff1"/>
<rect x="174.85" y="268.96" width="3.3" height="5.6" fill="#ffffff"/>
<rect x="178.13" y="268.96" width="3.3" height="5.6" fill="#81a5d2"/>
<rect x="181.41" y="268.96" width="3.3" height="5.6" fill="#abc3e1"/>
<rect x="184.69" y="268.96" width="3.3" height="5.6" fill="#c0d2e8"/>
<rect x="187.98" y="268.96" width="3.3" height="5.6" fill="#c0d2e8"/>
<rect x="191.26" y="268.96" width="3.3" height="5.6" fill="#d5e1f0"/>
<rect x="194.54" y="268.96" width="3.3" height="5.6" fill="#ffffff"/>
<rect x="197.82" y="268.96" width="3.3" height="5.6" fill="#c0d2e8"/>
<rect x="201.11" y="268.96" width="3.3" height="5.6" fill="#abc3e1"/>
<rect x="204.39" y="268.96" width="3.3" height="5.6" fill="#c0d2e8"/>
<rect x="207.67" y="268.96" width="3.3" height="5.6" fill="#abc3e1"/>
<rect x="210.95" y="268.96" width="3.3" height="5.6" fill="#abc3e1"/>
<rect x="214.24" y="268.96" width="3.3" height="5.6" fill="#abc3e1"/>
<rect x="217.52" y="268.96" width="3.3" height="5.6" fill="#ffffff"/>
<rect x="165" y="274.54" width="3.3" height="5.6" fill="#c0d2e8"/>
<rect x="168.28" y="274.54" width="3.3" height="5.6" fill="#d5e1f0"/>
<rect x="171.56" y="274.54" width="3.3" height="5.6" fill="#d5e1f0"/>
<rect x="174.85" y="274.54" width="3.3" height="5.6" fill="#ffffff"/>
<rect x="178.13" y="274.54" width="3.3" height="5.6" fill="#abc3e1"/>
<rect x="181.41" y="274.54" width="3.3" height="5.6" fill="#abc3e1"/>
<rect x="184.69" y="274.54" width="3.3" height="5.6" fill="#c0d2e8"/>
<rect x="187.98" y="274.54" width="3.3" height="5.6" fill="#c0d2e8"/>
<rect x="191.26" y="274.54" width="3.3" height="5.6" fill="#d5e1f0"/>
<rect x="194.54" y="274.54" width="3.3" height="5.6" fill="#eaf0f7"/>
<rect x="197.82" y="274.54" width="3.3" height="5.6" fill="#c0d2e8"/>
<rect x="201.11" y="274.54" width="3.3" height="5.6" fill="#c0d2e8"/>
<rect x="204.39" y="274.54" width="3.3" height="5.6" fill="#ffffff"/>
<rect x="207.67" y="274.54" width="3.3" height="5.6" fill="#c0d2e8"/>
<rect x="210.95" y="274.54" width="3.3" height="5.6" fill="#abc3e1"/>
<rect x="214.24" y="274.54" width="3.3" height="5.6" fill="#abc3e1"/>
<rect x="217.52" y="274.54" width="3.3" height="5.6" fill="#d5e1f0"/>
<rect x="165" y="280.12" width="3.3" height="5.6" fill="#c0d2e8"/>
<rect x="168.28" y="280.12" width="3.3" height="5.6" fill="#d5e1f0"/>
<rect x="171.56" y="280.12" width="3.3" height="5.6" fill="#d5e1f0"/>
<rect x="174.85" y="280.12" width="3.3" height="5.6" fill="#f6e4e7"/>
<rect x="178.13" y="280.12" width="3.3" height="5.6" fill="#abc3e1"/>
<rect x="181.41" y="280.12" width="3.3" height="5.6" fill="#abc3e1"/>
<rect x="184.69" y="280.12" width="3.3" height="5.6" fill="#c0d2e8"/>
<rect x="187.98" y="280.12" width="3.3" height="5.6" fill="#d5e1f0"/>
<rect x="191.26" y="280.12" width="3.3" height="5.6" fill="#eaf0f7"/>
<rect x="194.54" y="280.12" width="3.3" height="5.6" fill="#d5e1f0"/>
<rect x="197.82" y="280.12" width="3.3" height="5.6" fill="#c0d2e8"/>
<rect x="201.11" y="280.12" width="3.3" height="5.6" fill="#c0d2e8"/>
<rect x="204.39" y="280.12" width="3.3" height="5.6" fill="#c0d2e8"/>
<rect x="207.67" y="280.12" width="3.3" height="5.6" fill="#abc3e1"/>
<rect x="210.95" y="280.12" width="3.3" height="5.6" fill="#abc3e1"/>
<rect x="214.24" y="280.12" width="3.3" height="5.6" fill="#abc3e1"/>
<rect x="217.52" y="280.12" width="3.3" height="5.6" fill="#c0d2e8"/>
<rect x="165" y="285.7" width="3.3" height="5.6" fill="#c0d2e8"/>
<rect x="168.28" y="285.7" width="3.3" height="5.6" fill="#d5e1f0"/>
<rect x="171.56" y="285.7" width="3.3" height="5.6" fill="#eaf0f7"/>
<rect x="174.85" y="285.7" width="3.3" height="5.6" fill="#f6e4e7"/>
<rect x="178.13" y="285.7" width="3.3" height="5.6" fill="#abc3e1"/>
<rect x="181.41" y="285.7" width="3.3" height="5.6" fill="#c0d2e8"/>
<rect x="184.69" y="285.7" width="3.3" height="5.6" fill="#c0d2e8"/>
<rect x="187.98" y="285.7" width="3.3" height="5.6" fill="#ffffff"/>
<rect x="191.26" y="285.7" width="3.3" height="5.6" fill="#eaf0f7"/>
<rect x="194.54" y="285.7" width="3.3" height="5.6" fill="#ffffff"/>
<rect x="197.82" y="285.7" width="3.3" height="5.6" fill="#c0d2e8"/>
<rect x="201.11" y="285.7" width="3.3" height="5.6" fill="#abc3e1"/>
<rect x="204.39" y="285.7" width="3.3" height="5.6" fill="#d5e1f0"/>
<rect x="207.67" y="285.7" width="3.3" height="5.6" fill="#c0d2e8"/>
<rect x="210.95" y="285.7" width="3.3" height="5.6" fill="#abc3e1"/>
<rect x="214.24" y="285.7" width="3.3" height="5.6" fill="#c0d2e8"/>
<rect x="217.52" y="285.7" width="3.3" height="5.6" fill="#d5e1f0"/>
<rect x="165" y="291.28" width="3.3" height="5.6" fill="#c0d2e8"/>
<rect x="168.28" y="291.28" width="3.3" height="5.6" fill="#c0d2e8"/>
<rect x="171.56" y="291.28" width="3.3" height="5.6" fill="#d5e1f0"/>
<rect x="174.85" y="291.28" width="3.3" height="5.6" fill="#ffffff"/>
<rect x="178.13" y="291.28" width="3.3" height="5.6" fill="#abc3e1"/>
<rect x="181.41" y="291.28" width="3.3" height="5.6" fill="#c0d2e8"/>
<rect x="184.69" y="291.28" width="3.3" height="5.6" fill="#c0d2e8"/>
<rect x="187.98" y="291.28" width="3.3" height="5.6" fill="#c0d2e8"/>
<rect x="191.26" y="291.28" width="3.3" height="5.6" fill="#d5e1f0"/>
<rect x="194.54" y="291.28" width="3.3" height="5.6" fill="#d5e1f0"/>
<rect x="197.82" y="291.28" width="3.3" height="5.6" fill="#c0d2e8"/>
<rect x="201.11" y="291.28" width="3.3" height="5.6" fill="#abc3e1"/>
<rect x="204.39" y="291.28" width="3.3" height="5.6" fill="#f6e4e7"/>
<rect x="207.67" y="291.28" width="3.3" height="5.6" fill="#c0d2e8"/>
<rect x="210.95" y="291.28" width="3.3" height="5.6" fill="#abc3e1"/>
<rect x="214.24" y="291.28" width="3.3" height="5.6" fill="#c0d2e8"/>
<rect x="217.52" y="291.28" width="3.3" height="5.6" fill="#d5e1f0"/>
<rect x="165" y="296.86" width="3.3" height="5.6" fill="#c0d2e8"/>
<rect x="168.28" y="296.86" width="3.3" height="5.6" fill="#c0d2e8"/>
<rect x="171.56" y="296.86" width="3.3" height="5.6" fill="#d5e1f0"/>
<rect x="174.85" y="296.86" width="3.3" height="5.6" fill="#faeff1"/>
<rect x="178.13" y="296.86" width="3.3" height="5.6" fill="#abc3e1"/>
<rect x="181.41" y="296.86" width="3.3" height="5.6" fill="#c0d2e8"/>
<rect x="184.69" y="296.86" width="3.3" height="5.6" fill="#c0d2e8"/>
<rect x="187.98" y="296.86" width="3.3" height="5.6" fill="#d5e1f0"/>
<rect x="191.26" y="296.86" width="3.3" height="5.6" fill="#d5e1f0"/>
<rect x="194.54" y="296.86" width="3.3" height="5.6" fill="#d5e1f0"/>
<rect x="197.82" y="296.86" width="3.3" height="5.6" fill="#c0d2e8"/>
<rect x="201.11" y="296.86" width="3.3" height="5.6" fill="#abc3e1"/>
<rect x="204.39" y="296.86" width="3.3" height="5.6" fill="#f6e4e7"/>
<rect x="207.67" y="296.86" width="3.3" height="5.6" fill="#c0d2e8"/>
<rect x="210.95" y="296.86" width="3.3" height="5.6" fill="#abc3e1"/>
<rect x="214.24" y="296.86" width="3.3" height="5.6" fill="#c0d2e8"/>
<rect x="217.52" y="296.86" width="3.3" height="5.6" fill="#d5e1f0"/>
<rect x="165" y="302.44" width="3.3" height="5.6" fill="#c0d2e8"/>
<rect x="168.28" y="302.44" width="3.3" height="5.6" fill="#c0d2e8"/>
<rect x="171.56" y="302.44" width="3.3" height="5.6" fill="#d5e1f0"/>
<rect x="174.85" y="302.44" width="3.3" height="5.6" fill="#faeff1"/>
<rect x="178.13" y="302.44" width="3.3" height="5.6" fill="#abc3e1"/>
<rect x="181.41" y="302.44" width="3.3" height="5.6" fill="#c0d2e8"/>
<rect x="184.69" y="302.44" width="3.3" height="5.6" fill="#c0d2e8"/>
<rect x="187.98" y="302.44" width="3.3" height="5.6" fill="#c0d2e8"/>
<rect x="191.26" y="302.44" width="3.3" height="5.6" fill="#d5e1f0"/>
<rect x="194.54" y="302.44" width="3.3" height="5.6" fill="#d5e1f0"/>
<rect x="197.82" y="302.44" width="3.3" height="5.6" fill="#c0d2e8"/>
<rect x="201.11" y="302.44" width="3.3" height="5.6" fill="#abc3e1"/>
<rect x="204.39" y="302.44" width="3.3" height="5.6" fill="#f6e4e7"/>
<rect x="207.67" y="302.44" width="3.3" height="5.6" fill="#c0d2e8"/>
<rect x="210.95" y="302.44" width="3.3" height="5.6" fill="#abc3e1"/>
<rect x="214.24" y="302.44" width="3.3" height="5.6" fill="#c0d2e8"/>
<rect x="217.52" y="302.44" width="3.3" height="5.6" fill="#d5e1f0"/>
<rect x="165" y="308.02" width="3.3" height="5.6" fill="#c0d2e8"/>
<rect x="168.28" y="308.02" width="3.3" height="5.6" fill="#d5e1f0"/>
<rect x="171.56" y="308.02" width="3.3" height="5.6" fill="#d5e1f0"/>
<rect x="174.85" y="308.02" width="3.3" height="5.6" fill="#ffffff"/>
<rect x="178.13" y="308.02" width="3.3" height="5.6" fill="#abc3e1"/>
<rect x="181.41" y="308.02" width="3.3" height="5.6" fill="#c0d2e8"/>
<rect x="184.69" y="308.02" width="3.3" height="5.6" fill="#c0d2e8"/>
<rect x="187.98" y="308.02" width="3.3" height="5.6" fill="#d5e1f0"/>
<rect x="191.26" y="308.02" width="3.3" height="5.6" fill="#d5e1f0"/>
<rect x="194.54" y="308.02" width="3.3" height="5.6" fill="#d5e1f0"/>
<rect x="197.82" y="308.02" width="3.3" height="5.6" fill="#c0d2e8"/>
<rect x="201.11" y="308.02" width="3.3" height="5.6" fill="#abc3e1"/>
<rect x="204.39" y="308.02" width="3.3" height="5.6" fill="#ffffff"/>
<rect x="207.67" y="308.02" width="3.3" height="5.6" fill="#c0d2e8"/>
<rect x="210.95" y="308.02" width="3.3" height="5.6" fill="#abc3e1"/>
<rect x="214.24" y="308.02" width="3.3" height="5.6" fill="#c0d2e8"/>
<rect x="217.52" y="308.02" width="3.3" height="5.6" fill="#d5e1f0"/>
<rect x="165" y="313.6" width="3.3" height="5.6" fill="#c0d2e8"/>
<rect x="168.28" y="313.6" width="3.3" height="5.6" fill="#c0d2e8"/>
<rect x="171.56" y="313.6" width="3.3" height="5.6" fill="#d5e1f0"/>
<rect x="174.85" y="313.6" width="3.3" height="5.6" fill="#ffffff"/>
<rect x="178.13" y="313.6" width="3.3" height="5.6" fill="#abc3e1"/>
<rect x="181.41" y="313.6" width="3.3" height="5.6" fill="#c0d2e8"/>
<rect x="184.69" y="313.6" width="3.3" height="5.6" fill="#c0d2e8"/>
<rect x="187.98" y="313.6" width="3.3" height="5.6" fill="#d5e1f0"/>
<rect x="191.26" y="313.6" width="3.3" height="5.6" fill="#d5e1f0"/>
<rect x="194.54" y="313.6" width="3.3" height="5.6" fill="#ffffff"/>
<rect x="197.82" y="313.6" width="3.3" height="5.6" fill="#c0d2e8"/>
<rect x="201.11" y="313.6" width="3.3" height="5.6" fill="#abc3e1"/>
<rect x="204.39" y="313.6" width="3.3" height="5.6" fill="#f6e4e7"/>
<rect x="207.67" y="313.6" width="3.3" height="5.6" fill="#c0d2e8"/>
<rect x="210.95" y="313.6" width="3.3" height="5.6" fill="#abc3e1"/>
<rect x="214.24" y="313.6" width="3.3" height="5.6" fill="#c0d2e8"/>
<rect x="217.52" y="313.6" width="3.3" height="5.6" fill="#d5e1f0"/>
<rect x="165" y="319.18" width="3.3" height="5.6" fill="#c0d2e8"/>
<rect x="168.28" y="319.18" width="3.3" height="5.6" fill="#abc3e1"/>
<rect x="171.56" y="319.18" width="3.3" height="5.6" fill="#d5e1f0"/>
<rect x="174.85" y="319.18" width="3.3" height="5.6" fill="#faeff1"/>
<rect x="178.13" y="319.18" width="3.3" height="5.6" fill="#abc3e1"/>
<rect x="181.41" y="319.18" width="3.3" height="5.6" fill="#c0d2e8"/>
<rect x="184.69" y="319.18" width="3.3" height="5.6" fill="#c0d2e8"/>
<rect x="187.98" y="319.18" width="3.3" height="5.6" fill="#d5e1f0"/>
<rect x="191.26" y="319.18" width="3.3" height="5.6" fill="#d5e1f0"/>
<rect x="194.54" y="319.18" width="3.3" height="5.6" fill="#d5e1f0"/>
<rect x="197.82" y="319.18" width="3.3" height="5.6" fill="#c0d2e8"/>
<rect x="201.11" y="319.18" width="3.3" height="5.6" fill="#abc3e1"/>
<rect x="204.39" y="319.18" width="3.3" height="5.6" fill="#ffffff"/>
<rect x="207.67" y="319.18" width="3.3" height="5.6" fill="#c0d2e8"/>
<rect x="210.95" y="319.18" width="3.3" height="5.6" fill="#d5e1f0"/>
<rect x="214.24" y="319.18" width="3.3" height="5.6" fill="#c0d2e8"/>
<rect x="217.52" y="319.18" width="3.3" height="5.6" fill="#d5e1f0"/>
<rect x="165" y="324.76" width="3.3" height="5.6" fill="#faeff1"/>
<rect x="168.28" y="324.76" width="3.3" height="5.6" fill="#eaf0f7"/>
<rect x="171.56" y="324.76" width="3.3" height="5.6" fill="#d5e1f0"/>
<rect x="174.85" y="324.76" width="3.3" height="5.6" fill="#faeff1"/>
<rect x="178.13" y="324.76" width="3.3" height="5.6" fill="#abc3e1"/>
<rect x="181.41" y="324.76" width="3.3" height="5.6" fill="#c0d2e8"/>
<rect x="184.69" y="324.76" width="3.3" height="5.6" fill="#d5e1f0"/>
<rect x="187.98" y="324.76" width="3.3" height="5.6" fill="#d5e1f0"/>
<rect x="191.26" y="324.76" width="3.3" height="5.6" fill="#d5e1f0"/>
<rect x="194.54" y="324.76" width="3.3" height="5.6" fill="#d5e1f0"/>
<rect x="197.82" y="324.76" width="3.3" height="5.6" fill="#c0d2e8"/>
<rect x="201.11" y="324.76" width="3.3" height="5.6" fill="#abc3e1"/>
<rect x="204.39" y="324.76" width="3.3" height="5.6" fill="#d5e1f0"/>
<rect x="207.67" y="324.76" width="3.3" height="5.6" fill="#c0d2e8"/>
<rect x="210.95" y="324.76" width="3.3" height="5.6" fill="#abc3e1"/>
<rect x="214.24" y="324.76" width="3.3" height="5.6" fill="#c0d2e8"/>
<rect x="217.52" y="324.76" width="3.3" height="5.6" fill="#d5e1f0"/>
<rect x="165" y="330.34" width="3.3" height="5.6" fill="#c0d2e8"/>
<rect x="168.28" y="330.34" width="3.3" height="5.6" fill="#d5e1f0"/>
<rect x="171.56" y="330.34" width="3.3" height="5.6" fill="#d5e1f0"/>
<rect x="174.85" y="330.34" width="3.3" height="5.6" fill="#f6e4e7"/>
<rect x="178.13" y="330.34" width="3.3" height="5.6" fill="#abc3e1"/>
<rect x="181.41" y="330.34" width="3.3" height="5.6" fill="#c0d2e8"/>
<rect x="184.69" y="330.34" width="3.3" height="5.6" fill="#c0d2e8"/>
<rect x="187.98" y="330.34" width="3.3" height="5.6" fill="#d5e1f0"/>
<rect x="191.26" y="330.34" width="3.3" height="5.6" fill="#d5e1f0"/>
<rect x="194.54" y="330.34" width="3.3" height="5.6" fill="#d5e1f0"/>
<rect x="197.82" y="330.34" width="3.3" height="5.6" fill="#c0d2e8"/>
<rect x="201.11" y="330.34" width="3.3" height="5.6" fill="#abc3e1"/>
<rect x="204.39" y="330.34" width="3.3" height="5.6" fill="#ffffff"/>
<rect x="207.67" y="330.34" width="3.3" height="5.6" fill="#c0d2e8"/>
<rect x="210.95" y="330.34" width="3.3" height="5.6" fill="#abc3e1"/>
<rect x="214.24" y="330.34" width="3.3" height="5.6" fill="#c0d2e8"/>
<rect x="217.52" y="330.34" width="3.3" height="5.6" fill="#d5e1f0"/>
<rect x="165" y="335.92" width="3.3" height="5.6" fill="#ffffff"/>
<rect x="168.28" y="335.92" width="3.3" height="5.6" fill="#d5e1f0"/>
<rect x="171.56" y="335.92" width="3.3" height="5.6" fill="#d5e1f0"/>
<rect x="174.85" y="335.92" width="3.3" height="5.6" fill="#faeff1"/>
<rect x="178.13" y="335.92" width="3.3" height="5.6" fill="#abc3e1"/>
<rect x="181.41" y="335.92" width="3.3" height="5.6" fill="#c0d2e8"/>
<rect x="184.69" y="335.92" width="3.3" height="5.6" fill="#c0d2e8"/>
<rect x="187.98" y="335.92" width="3.3" height="5.6" fill="#d5e1f0"/>
<rect x="191.26" y="335.92" width="3.3" height="5.6" fill="#d5e1f0"/>
<rect x="194.54" y="335.92" width="3.3" height="5.6" fill="#d5e1f0"/>
<rect x="197.82" y="335.92" width="3.3" height="5.6" fill="#c0d2e8"/>
<rect x="201.11" y="335.92" width="3.3" height="5.6" fill="#abc3e1"/>
<rect x="204.39" y="335.92" width="3.3" height="5.6" fill="#d5e1f0"/>
<rect x="207.67" y="335.92" width="3.3" height="5.6" fill="#c0d2e8"/>
<rect x="210.95" y="335.92" width="3.3" height="5.6" fill="#abc3e1"/>
<rect x="214.24" y="335.92" width="3.3" height="5.6" fill="#c0d2e8"/>
<rect x="217.52" y="335.92" width="3.3" height="5.6" fill="#ffffff"/>
<rect x="165" y="341.5" width="3.3" height="5.6" fill="#b82942"/>
<rect x="168.28" y="341.5" width="3.3" height="5.6" fill="#b82942"/>
<rect x="171.56" y="341.5" width="3.3" height="5.6" fill="#d5e1f0"/>
<rect x="174.85" y="341.5" width="3.3" height="5.6" fill="#edc9d0"/>
<rect x="178.13" y="341.5" width="3.3" height="5.6" fill="#edc9d0"/>
<rect x="181.41" y="341.5" width="3.3" height="5.6" fill="#eaf0f7"/>
<rect x="184.69" y="341.5" width="3.3" height="5.6" fill="#e4afb8"/>
<rect x="187.98" y="341.5" width="3.3" height="5.6" fill="#edc9d0"/>
<rect x="191.26" y="341.5" width="3.3" height="5.6" fill="#eaf0f7"/>
<rect x="194.54" y="341.5" width="3.3" height="5.6" fill="#f6e4e7"/>
<rect x="197.82" y="341.5" width="3.3" height="5.6" fill="#edc9d0"/>
<rect x="201.11" y="341.5" width="3.3" height="5.6" fill="#db94a0"/>
<rect x="204.39" y="341.5" width="3.3" height="5.6" fill="#db94a0"/>
<rect x="207.67" y="341.5" width="3.3" height="5.6" fill="#ffffff"/>
<rect x="210.95" y="341.5" width="3.3" height="5.6" fill="#edc9d0"/>
<rect x="214.24" y="341.5" width="3.3" height="5.6" fill="#e4afb8"/>
<rect x="217.52" y="341.5" width="3.3" height="5.6" fill="#db94a0"/>
<rect x="165" y="347.08" width="3.3" height="5.6" fill="#b82942"/>
<rect x="168.28" y="347.08" width="3.3" height="5.6" fill="#b82942"/>
<rect x="171.56" y="347.08" width="3.3" height="5.6" fill="#d5e1f0"/>
<rect x="174.85" y="347.08" width="3.3" height="5.6" fill="#f6e4e7"/>
<rect x="178.13" y="347.08" width="3.3" height="5.6" fill="#edc9d0"/>
<rect x="181.41" y="347.08" width="3.3" height="5.6" fill="#ffffff"/>
<rect x="184.69" y="347.08" width="3.3" height="5.6" fill="#db94a0"/>
<rect x="187.98" y="347.08" width="3.3" height="5.6" fill="#d37989"/>
<rect x="191.26" y="347.08" width="3.3" height="5.6" fill="#edc9d0"/>
<rect x="194.54" y="347.08" width="3.3" height="5.6" fill="#f6e4e7"/>
<rect x="197.82" y="347.08" width="3.3" height="5.6" fill="#edc9d0"/>
<rect x="201.11" y="347.08" width="3.3" height="5.6" fill="#e4afb8"/>
<rect x="204.39" y="347.08" width="3.3" height="5.6" fill="#db94a0"/>
<rect x="207.67" y="347.08" width="3.3" height="5.6" fill="#ffffff"/>
<rect x="210.95" y="347.08" width="3.3" height="5.6" fill="#ffffff"/>
<rect x="214.24" y="347.08" width="3.3" height="5.6" fill="#db94a0"/>
<rect x="217.52" y="347.08" width="3.3" height="5.6" fill="#e4afb8"/>
<rect x="165" y="352.66" width="3.3" height="5.6" fill="#d5e1f0"/>
<rect x="168.28" y="352.66" width="3.3" height="5.6" fill="#d5e1f0"/>
<rect x="171.56" y="352.66" width="3.3" height="5.6" fill="#ffffff"/>
<rect x="174.85" y="352.66" width="3.3" height="5.6" fill="#b82942"/>
<rect x="178.13" y="352.66" width="3.3" height="5.6" fill="#db94a0"/>
<rect x="181.41" y="352.66" width="3.3" height="5.6" fill="#e4afb8"/>
<rect x="184.69" y="352.66" width="3.3" height="5.6" fill="#c1445a"/>
<rect x="187.98" y="352.66" width="3.3" height="5.6" fill="#db94a0"/>
<rect x="191.26" y="352.66" width="3.3" height="5.6" fill="#c0d2e8"/>
<rect x="194.54" y="352.66" width="3.3" height="5.6" fill="#ffffff"/>
<rect x="197.82" y="352.66" width="3.3" height="5.6" fill="#f6e4e7"/>
<rect x="201.11" y="352.66" width="3.3" height="5.6" fill="#edc9d0"/>
<rect x="204.39" y="352.66" width="3.3" height="5.6" fill="#e4afb8"/>
<rect x="207.67" y="352.66" width="3.3" height="5.6" fill="#edc9d0"/>
<rect x="210.95" y="352.66" width="3.3" height="5.6" fill="#ffffff"/>
<rect x="214.24" y="352.66" width="3.3" height="5.6" fill="#e4afb8"/>
<rect x="217.52" y="352.66" width="3.3" height="5.6" fill="#db94a0"/>
<rect x="165" y="358.24" width="3.3" height="5.6" fill="#db94a0"/>
<rect x="168.28" y="358.24" width="3.3" height="5.6" fill="#e4afb8"/>
<rect x="171.56" y="358.24" width="3.3" height="5.6" fill="#ffffff"/>
<rect x="174.85" y="358.24" width="3.3" height="5.6" fill="#db94a0"/>
<rect x="178.13" y="358.24" width="3.3" height="5.6" fill="#e4afb8"/>
<rect x="181.41" y="358.24" width="3.3" height="5.6" fill="#ffffff"/>
<rect x="184.69" y="358.24" width="3.3" height="5.6" fill="#e4afb8"/>
<rect x="187.98" y="358.24" width="3.3" height="5.6" fill="#f6e4e7"/>
<rect x="191.26" y="358.24" width="3.3" height="5.6" fill="#ffffff"/>
<rect x="194.54" y="358.24" width="3.3" height="5.6" fill="#db94a0"/>
<rect x="197.82" y="358.24" width="3.3" height="5.6" fill="#e4afb8"/>
<rect x="201.11" y="358.24" width="3.3" height="5.6" fill="#d37989"/>
<rect x="204.39" y="358.24" width="3.3" height="5.6" fill="#c1445a"/>
<rect x="207.67" y="358.24" width="3.3" height="5.6" fill="#f6e4e7"/>
<rect x="210.95" y="358.24" width="3.3" height="5.6" fill="#f6e4e7"/>
<rect x="214.24" y="358.24" width="3.3" height="5.6" fill="#ca5e71"/>
<rect x="217.52" y="358.24" width="3.3" height="5.6" fill="#e4afb8"/>
<rect x="165" y="363.82" width="3.3" height="5.6" fill="#db94a0"/>
<rect x="168.28" y="363.82" width="3.3" height="5.6" fill="#e4afb8"/>
<rect x="171.56" y="363.82" width="3.3" height="5.6" fill="#e4afb8"/>
<rect x="174.85" y="363.82" width="3.3" height="5.6" fill="#e4afb8"/>
<rect x="178.13" y="363.82" width="3.3" height="5.6" fill="#db94a0"/>
<rect x="181.41" y="363.82" width="3.3" height="5.6" fill="#ffffff"/>
<rect x="184.69" y="363.82" width="3.3" height="5.6" fill="#edc9d0"/>
<rect x="187.98" y="363.82" width="3.3" height="5.6" fill="#f6e4e7"/>
<rect x="191.26" y="363.82" width="3.3" height="5.6" fill="#f6e4e7"/>
<rect x="194.54" y="363.82" width="3.3" height="5.6" fill="#e4afb8"/>
<rect x="197.82" y="363.82" width="3.3" height="5.6" fill="#e4afb8"/>
<rect x="201.11" y="363.82" width="3.3" height="5.6" fill="#ca5e71"/>
<rect x="204.39" y="363.82" width="3.3" height="5.6" fill="#ca5e71"/>
<rect x="207.67" y="363.82" width="3.3" height="5.6" fill="#f6e4e7"/>
<rect x="210.95" y="363.82" width="3.3" height="5.6" fill="#e4afb8"/>
<rect x="214.24" y="363.82" width="3.3" height="5.6" fill="#c1445a"/>
<rect x="217.52" y="363.82" width="3.3" height="5.6" fill="#e4afb8"/>
<rect x="165" y="369.4" width="3.3" height="5.6" fill="#db94a0"/>
<rect x="168.28" y="369.4" width="3.3" height="5.6" fill="#e4afb8"/>
<rect x="171.56" y="369.4" width="3.3" height="5.6" fill="#ffffff"/>
<rect x="174.85" y="369.4" width="3.3" height="5.6" fill="#ca5e71"/>
<rect x="178.13" y="369.4" width="3.3" height="5.6" fill="#d37989"/>
<rect x="181.41" y="369.4" width="3.3" height="5.6" fill="#ffffff"/>
<rect x="184.69" y="369.4" width="3.3" height="5.6" fill="#e4afb8"/>
<rect x="187.98" y="369.4" width="3.3" height="5.6" fill="#f6e4e7"/>
<rect x="191.26" y="369.4" width="3.3" height="5.6" fill="#eaf0f7"/>
<rect x="194.54" y="369.4" width="3.3" height="5.6" fill="#db94a0"/>
<rect x="197.82" y="369.4" width="3.3" height="5.6" fill="#db94a0"/>
<rect x="201.11" y="369.4" width="3.3" height="5.6" fill="#db94a0"/>
<rect x="204.39" y="369.4" width="3.3" height="5.6" fill="#ca5e71"/>
<rect x="207.67" y="369.4" width="3.3" height="5.6" fill="#ffffff"/>
<rect x="210.95" y="369.4" width="3.3" height="5.6" fill="#ffffff"/>
<rect x="214.24" y="369.4" width="3.3" height="5.6" fill="#d37989"/>
<rect x="217.52" y="369.4" width="3.3" height="5.6" fill="#db94a0"/>
<rect x="165" y="374.98" width="3.3" height="5.6" fill="#ca5e71"/>
<rect x="168.28" y="374.98" width="3.3" height="5.6" fill="#db94a0"/>
<rect x="171.56" y="374.98" width="3.3" height="5.6" fill="#f6e4e7"/>
<rect x="174.85" y="374.98" width="3.3" height="5.6" fill="#db94a0"/>
<rect x="178.13" y="374.98" width="3.3" height="5.6" fill="#db94a0"/>
<rect x="181.41" y="374.98" width="3.3" height="5.6" fill="#ffffff"/>
<rect x="184.69" y="374.98" width="3.3" height="5.6" fill="#e4afb8"/>
<rect x="187.98" y="374.98" width="3.3" height="5.6" fill="#edc9d0"/>
<rect x="191.26" y="374.98" width="3.3" height="5.6" fill="#eaf0f7"/>
<rect x="194.54" y="374.98" width="3.3" height="5.6" fill="#db94a0"/>
<rect x="197.82" y="374.98" width="3.3" height="5.6" fill="#db94a0"/>
<rect x="201.11" y="374.98" width="3.3" height="5.6" fill="#d37989"/>
<rect x="204.39" y="374.98" width="3.3" height="5.6" fill="#c1445a"/>
<rect x="207.67" y="374.98" width="3.3" height="5.6" fill="#f6e4e7"/>
<rect x="210.95" y="374.98" width="3.3" height="5.6" fill="#eaf0f7"/>
<rect x="214.24" y="374.98" width="3.3" height="5.6" fill="#d37989"/>
<rect x="217.52" y="374.98" width="3.3" height="5.6" fill="#db94a0"/>
<rect x="165" y="380.56" width="3.3" height="5.6" fill="#f6e4e7"/>
<rect x="168.28" y="380.56" width="3.3" height="5.6" fill="#e4afb8"/>
<rect x="171.56" y="380.56" width="3.3" height="5.6" fill="#ffffff"/>
<rect x="174.85" y="380.56" width="3.3" height="5.6" fill="#db94a0"/>
<rect x="178.13" y="380.56" width="3.3" height="5.6" fill="#d37989"/>
<rect x="181.41" y="380.56" width="3.3" height="5.6" fill="#f6e4e7"/>
<rect x="184.69" y="380.56" width="3.3" height="5.6" fill="#e4afb8"/>
<rect x="187.98" y="380.56" width="3.3" height="5.6" fill="#e4afb8"/>
<rect x="191.26" y="380.56" width="3.3" height="5.6" fill="#ffffff"/>
<rect x="194.54" y="380.56" width="3.3" height="5.6" fill="#edc9d0"/>
<rect x="197.82" y="380.56" width="3.3" height="5.6" fill="#e4afb8"/>
<rect x="201.11" y="380.56" width="3.3" height="5.6" fill="#e4afb8"/>
<rect x="204.39" y="380.56" width="3.3" height="5.6" fill="#c1445a"/>
<rect x="207.67" y="380.56" width="3.3" height="5.6" fill="#f6e4e7"/>
<rect x="210.95" y="380.56" width="3.3" height="5.6" fill="#ffffff"/>
<rect x="214.24" y="380.56" width="3.3" height="5.6" fill="#edc9d0"/>
<rect x="217.52" y="380.56" width="3.3" height="5.6" fill="#e4afb8"/>
<rect x="165" y="386.14" width="3.3" height="5.6" fill="#e4afb8"/>
<rect x="168.28" y="386.14" width="3.3" height="5.6" fill="#e4afb8"/>
<rect x="171.56" y="386.14" width="3.3" height="5.6" fill="#edc9d0"/>
<rect x="174.85" y="386.14" width="3.3" height="5.6" fill="#ca5e71"/>
<rect x="178.13" y="386.14" width="3.3" height="5.6" fill="#d37989"/>
<rect x="181.41" y="386.14" width="3.3" height="5.6" fill="#f6e4e7"/>
<rect x="184.69" y="386.14" width="3.3" height="5.6" fill="#edc9d0"/>
<rect x="187.98" y="386.14" width="3.3" height="5.6" fill="#ffffff"/>
<rect x="191.26" y="386.14" width="3.3" height="5.6" fill="#ffffff"/>
<rect x="194.54" y="386.14" width="3.3" height="5.6" fill="#e4afb8"/>
<rect x="197.82" y="386.14" width="3.3" height="5.6" fill="#db94a0"/>
<rect x="201.11" y="386.14" width="3.3" height="5.6" fill="#d37989"/>
<rect x="204.39" y="386.14" width="3.3" height="5.6" fill="#c1445a"/>
<rect x="207.67" y="386.14" width="3.3" height="5.6" fill="#f6e4e7"/>
<rect x="210.95" y="386.14" width="3.3" height="5.6" fill="#c0d2e8"/>
<rect x="214.24" y="386.14" width="3.3" height="5.6" fill="#db94a0"/>
<rect x="217.52" y="386.14" width="3.3" height="5.6" fill="#e4afb8"/>
<rect x="165" y="391.72" width="3.3" height="5.6" fill="#e4afb8"/>
<rect x="168.28" y="391.72" width="3.3" height="5.6" fill="#e4afb8"/>
<rect x="171.56" y="391.72" width="3.3" height="5.6" fill="#c0d2e8"/>
<rect x="174.85" y="391.72" width="3.3" height="5.6" fill="#db94a0"/>
<rect x="178.13" y="391.72" width="3.3" height="5.6" fill="#edc9d0"/>
<rect x="181.41" y="391.72" width="3.3" height="5.6" fill="#ffffff"/>
<rect x="184.69" y="391.72" width="3.3" height="5.6" fill="#e4afb8"/>
<rect x="187.98" y="391.72" width="3.3" height="5.6" fill="#f6e4e7"/>
<rect x="191.26" y="391.72" width="3.3" height="5.6" fill="#f6e4e7"/>
<rect x="194.54" y="391.72" width="3.3" height="5.6" fill="#db94a0"/>
<rect x="197.82" y="391.72" width="3.3" height="5.6" fill="#db94a0"/>
<rect x="201.11" y="391.72" width="3.3" height="5.6" fill="#edc9d0"/>
<rect x="204.39" y="391.72" width="3.3" height="5.6" fill="#ca5e71"/>
<rect x="207.67" y="391.72" width="3.3" height="5.6" fill="#f6e4e7"/>
<rect x="210.95" y="391.72" width="3.3" height="5.6" fill="#f6e4e7"/>
<rect x="214.24" y="391.72" width="3.3" height="5.6" fill="#ca5e71"/>
<rect x="217.52" y="391.72" width="3.3" height="5.6" fill="#e4afb8"/>
<rect x="165" y="397.3" width="3.3" height="5.6" fill="#f6e4e7"/>
<rect x="168.28" y="397.3" width="3.3" height="5.6" fill="#edc9d0"/>
<rect x="171.56" y="397.3" width="3.3" height="5.6" fill="#ffffff"/>
<rect x="174.85" y="397.3" width="3.3" height="5.6" fill="#d37989"/>
<rect x="178.13" y="397.3" width="3.3" height="5.6" fill="#db94a0"/>
<rect x="181.41" y="397.3" width="3.3" height="5.6" fill="#ffffff"/>
<rect x="184.69" y="397.3" width="3.3" height="5.6" fill="#e4afb8"/>
<rect x="187.98" y="397.3" width="3.3" height="5.6" fill="#ffffff"/>
<rect x="191.26" y="397.3" width="3.3" height="5.6" fill="#edc9d0"/>
<rect x="194.54" y="397.3" width="3.3" height="5.6" fill="#db94a0"/>
<rect x="197.82" y="397.3" width="3.3" height="5.6" fill="#f6e4e7"/>
<rect x="201.11" y="397.3" width="3.3" height="5.6" fill="#edc9d0"/>
<rect x="204.39" y="397.3" width="3.3" height="5.6" fill="#db94a0"/>
<rect x="207.67" y="397.3" width="3.3" height="5.6" fill="#ffffff"/>
<rect x="210.95" y="397.3" width="3.3" height="5.6" fill="#ffffff"/>
<rect x="214.24" y="397.3" width="3.3" height="5.6" fill="#db94a0"/>
<rect x="217.52" y="397.3" width="3.3" height="5.6" fill="#e4afb8"/>
<rect x="165" y="402.88" width="3.3" height="5.6" fill="#edc9d0"/>
<rect x="168.28" y="402.88" width="3.3" height="5.6" fill="#edc9d0"/>
<rect x="171.56" y="402.88" width="3.3" height="5.6" fill="#ffffff"/>
<rect x="174.85" y="402.88" width="3.3" height="5.6" fill="#e4afb8"/>
<rect x="178.13" y="402.88" width="3.3" height="5.6" fill="#edc9d0"/>
<rect x="181.41" y="402.88" width="3.3" height="5.6" fill="#f6e4e7"/>
<rect x="184.69" y="402.88" width="3.3" height="5.6" fill="#db94a0"/>
<rect x="187.98" y="402.88" width="3.3" height="5.6" fill="#edc9d0"/>
<rect x="191.26" y="402.88" width="3.3" height="5.6" fill="#edc9d0"/>
<rect x="194.54" y="402.88" width="3.3" height="5.6" fill="#e4afb8"/>
<rect x="197.82" y="402.88" width="3.3" height="5.6" fill="#ffffff"/>
<rect x="201.11" y="402.88" width="3.3" height="5.6" fill="#edc9d0"/>
<rect x="204.39" y="402.88" width="3.3" height="5.6" fill="#c1445a"/>
<rect x="207.67" y="402.88" width="3.3" height="5.6" fill="#edc9d0"/>
<rect x="210.95" y="402.88" width="3.3" height="5.6" fill="#f6e4e7"/>
<rect x="214.24" y="402.88" width="3.3" height="5.6" fill="#c1445a"/>
<rect x="217.52" y="402.88" width="3.3" height="5.6" fill="#e4afb8"/>
<rect x="165" y="408.46" width="3.3" height="5.6" fill="#e4afb8"/>
<rect x="168.28" y="408.46" width="3.3" height="5.6" fill="#f6e4e7"/>
<rect x="171.56" y="408.46" width="3.3" height="5.6" fill="#ffffff"/>
<rect x="174.85" y="408.46" width="3.3" height="5.6" fill="#db94a0"/>
<rect x="178.13" y="408.46" width="3.3" height="5.6" fill="#d37989"/>
<rect x="181.41" y="408.46" width="3.3" height="5.6" fill="#ffffff"/>
<rect x="184.69" y="408.46" width="3.3" height="5.6" fill="#d37989"/>
<rect x="187.98" y="408.46" width="3.3" height="5.6" fill="#ffffff"/>
<rect x="191.26" y="408.46" width="3.3" height="5.6" fill="#edc9d0"/>
<rect x="194.54" y="408.46" width="3.3" height="5.6" fill="#e4afb8"/>
<rect x="197.82" y="408.46" width="3.3" height="5.6" fill="#edc9d0"/>
<rect x="201.11" y="408.46" width="3.3" height="5.6" fill="#e4afb8"/>
<rect x="204.39" y="408.46" width="3.3" height="5.6" fill="#ca5e71"/>
<rect x="207.67" y="408.46" width="3.3" height="5.6" fill="#eaf0f7"/>
<rect x="210.95" y="408.46" width="3.3" height="5.6" fill="#f6e4e7"/>
<rect x="214.24" y="408.46" width="3.3" height="5.6" fill="#ca5e71"/>
<rect x="217.52" y="408.46" width="3.3" height="5.6" fill="#e4afb8"/>
<rect x="165" y="414.04" width="3.3" height="5.6" fill="#eaf0f7"/>
<rect x="168.28" y="414.04" width="3.3" height="5.6" fill="#edc9d0"/>
<rect x="171.56" y="414.04" width="3.3" height="5.6" fill="#ffffff"/>
<rect x="174.85" y="414.04" width="3.3" height="5.6" fill="#db94a0"/>
<rect x="178.13" y="414.04" width="3.3" height="5.6" fill="#edc9d0"/>
<rect x="181.41" y="414.04" width="3.3" height="5.6" fill="#ffffff"/>
<rect x="184.69" y="414.04" width="3.3" height="5.6" fill="#e4afb8"/>
<rect x="187.98" y="414.04" width="3.3" height="5.6" fill="#edc9d0"/>
<rect x="191.26" y="414.04" width="3.3" height="5.6" fill="#edc9d0"/>
<rect x="194.54" y="414.04" width="3.3" height="5.6" fill="#e4afb8"/>
<rect x="197.82" y="414.04" width="3.3" height="5.6" fill="#edc9d0"/>
<rect x="201.11" y="414.04" width="3.3" height="5.6" fill="#db94a0"/>
<rect x="204.39" y="414.04" width="3.3" height="5.6" fill="#c1445a"/>
<rect x="207.67" y="414.04" width="3.3" height="5.6" fill="#ffffff"/>
<rect x="210.95" y="414.04" width="3.3" height="5.6" fill="#ffffff"/>
<rect x="214.24" y="414.04" width="3.3" height="5.6" fill="#d37989"/>
<rect x="217.52" y="414.04" width="3.3" height="5.6" fill="#ffffff"/>
<rect x="165" y="419.62" width="3.3" height="5.6" fill="#eaf0f7"/>
<rect x="168.28" y="419.62" width="3.3" height="5.6" fill="#f2f6fa"/>
<rect x="171.56" y="419.62" width="3.3" height="5.6" fill="#f2f6fa"/>
<rect x="174.85" y="419.62" width="3.3" height="5.6" fill="#e4afb8"/>
<rect x="178.13" y="419.62" width="3.3" height="5.6" fill="#e4afb8"/>
<rect x="181.41" y="419.62" width="3.3" height="5.6" fill="#edc9d0"/>
<rect x="184.69" y="419.62" width="3.3" height="5.6" fill="#e4afb8"/>
<rect x="187.98" y="419.62" width="3.3" height="5.6" fill="#e4afb8"/>
<rect x="191.26" y="419.62" width="3.3" height="5.6" fill="#edc9d0"/>
<rect x="194.54" y="419.62" width="3.3" height="5.6" fill="#d37989"/>
<rect x="197.82" y="419.62" width="3.3" height="5.6" fill="#f6e4e7"/>
<rect x="201.11" y="419.62" width="3.3" height="5.6" fill="#e4afb8"/>
<rect x="204.39" y="419.62" width="3.3" height="5.6" fill="#ca5e71"/>
<rect x="207.67" y="419.62" width="3.3" height="5.6" fill="#ffffff"/>
<rect x="210.95" y="419.62" width="3.3" height="5.6" fill="#f6e4e7"/>
<rect x="214.24" y="419.62" width="3.3" height="5.6" fill="#ca5e71"/>
<rect x="217.52" y="419.62" width="3.3" height="5.6" fill="#e4afb8"/>
<rect x="165" y="425.2" width="3.3" height="5.6" fill="#ffffff"/>
<rect x="168.28" y="425.2" width="3.3" height="5.6" fill="#edc9d0"/>
<rect x="171.56" y="425.2" width="3.3" height="5.6" fill="#e4afb8"/>
<rect x="174.85" y="425.2" width="3.3" height="5.6" fill="#db94a0"/>
<rect x="178.13" y="425.2" width="3.3" height="5.6" fill="#e4afb8"/>
<rect x="181.41" y="425.2" width="3.3" height="5.6" fill="#eaf0f7"/>
<rect x="184.69" y="425.2" width="3.3" height="5.6" fill="#ffffff"/>
<rect x="187.98" y="425.2" width="3.3" height="5.6" fill="#e4afb8"/>
<rect x="191.26" y="425.2" width="3.3" height="5.6" fill="#edc9d0"/>
<rect x="194.54" y="425.2" width="3.3" height="5.6" fill="#e4afb8"/>
<rect x="197.82" y="425.2" width="3.3" height="5.6" fill="#edc9d0"/>
<rect x="201.11" y="425.2" width="3.3" height="5.6" fill="#db94a0"/>
<rect x="204.39" y="425.2" width="3.3" height="5.6" fill="#ca5e71"/>
<rect x="207.67" y="425.2" width="3.3" height="5.6" fill="#db94a0"/>
<rect x="210.95" y="425.2" width="3.3" height="5.6" fill="#edc9d0"/>
<rect x="214.24" y="425.2" width="3.3" height="5.6" fill="#db94a0"/>
<rect x="217.52" y="425.2" width="3.3" height="5.6" fill="#e4afb8"/>
<rect x="165" y="430.78" width="3.3" height="5.6" fill="#ffffff"/>
<rect x="168.28" y="430.78" width="3.3" height="5.6" fill="#edc9d0"/>
<rect x="171.56" y="430.78" width="3.3" height="5.6" fill="#e4afb8"/>
<rect x="174.85" y="430.78" width="3.3" height="5.6" fill="#ffffff"/>
<rect x="178.13" y="430.78" width="3.3" height="5.6" fill="#edc9d0"/>
<rect x="181.41" y="430.78" width="3.3" height="5.6" fill="#edc9d0"/>
<rect x="184.69" y="430.78" width="3.3" height="5.6" fill="#edc9d0"/>
<rect x="187.98" y="430.78" width="3.3" height="5.6" fill="#ffffff"/>
<rect x="191.26" y="430.78" width="3.3" height="5.6" fill="#ffffff"/>
<rect x="194.54" y="430.78" width="3.3" height="5.6" fill="#e4afb8"/>
<rect x="197.82" y="430.78" width="3.3" height="5.6" fill="#e4afb8"/>
<rect x="201.11" y="430.78" width="3.3" height="5.6" fill="#e4afb8"/>
<rect x="204.39" y="430.78" width="3.3" height="5.6" fill="#c1445a"/>
<rect x="207.67" y="430.78" width="3.3" height="5.6" fill="#f6e4e7"/>
<rect x="210.95" y="430.78" width="3.3" height="5.6" fill="#ffffff"/>
<rect x="214.24" y="430.78" width="3.3" height="5.6" fill="#ca5e71"/>
<rect x="217.52" y="430.78" width="3.3" height="5.6" fill="#e4afb8"/>
<rect x="165" y="436.36" width="3.3" height="5.6" fill="#ffffff"/>
<rect x="168.28" y="436.36" width="3.3" height="5.6" fill="#f6e4e7"/>
<rect x="171.56" y="436.36" width="3.3" height="5.6" fill="#f6e4e7"/>
<rect x="174.85" y="436.36" width="3.3" height="5.6" fill="#d37989"/>
<rect x="178.13" y="436.36" width="3.3" height="5.6" fill="#d5e1f0"/>
<rect x="181.41" y="436.36" width="3.3" height="5.6" fill="#edc9d0"/>
<rect x="184.69" y="436.36" width="3.3" height="5.6" fill="#e4afb8"/>
<rect x="187.98" y="436.36" width="3.3" height="5.6" fill="#edc9d0"/>
<rect x="191.26" y="436.36" width="3.3" height="5.6" fill="#e4afb8"/>
<rect x="194.54" y="436.36" width="3.3" height="5.6" fill="#e4afb8"/>
<rect x="197.82" y="436.36" width="3.3" height="5.6" fill="#e4afb8"/>
<rect x="201.11" y="436.36" width="3.3" height="5.6" fill="#db94a0"/>
<rect x="204.39" y="436.36" width="3.3" height="5.6" fill="#c1445a"/>
<rect x="207.67" y="436.36" width="3.3" height="5.6" fill="#ffffff"/>
<rect x="210.95" y="436.36" width="3.3" height="5.6" fill="#edc9d0"/>
<rect x="214.24" y="436.36" width="3.3" height="5.6" fill="#db94a0"/>
<rect x="217.52" y="436.36" width="3.3" height="5.6" fill="#edc9d0"/>
<rect x="165" y="441.94" width="3.3" height="5.6" fill="#edc9d0"/>
<rect x="168.28" y="441.94" width="3.3" height="5.6" fill="#edc9d0"/>
<rect x="171.56" y="441.94" width="3.3" height="5.6" fill="#ffffff"/>
<rect x="174.85" y="441.94" width="3.3" height="5.6" fill="#edc9d0"/>
<rect x="178.13" y="441.94" width="3.3" height="5.6" fill="#f6e4e7"/>
<rect x="181.41" y="441.94" width="3.3" height="5.6" fill="#ffffff"/>
<rect x="184.69" y="441.94" width="3.3" height="5.6" fill="#e4afb8"/>
<rect x="187.98" y="441.94" width="3.3" height="5.6" fill="#edc9d0"/>
<rect x="191.26" y="441.94" width="3.3" height="5.6" fill="#ffffff"/>
<rect x="194.54" y="441.94" width="3.3" height="5.6" fill="#e4afb8"/>
<rect x="197.82" y="441.94" width="3.3" height="5.6" fill="#e4afb8"/>
<rect x="201.11" y="441.94" width="3.3" height="5.6" fill="#db94a0"/>
<rect x="204.39" y="441.94" width="3.3" height="5.6" fill="#c1445a"/>
<rect x="207.67" y="441.94" width="3.3" height="5.6" fill="#edc9d0"/>
<rect x="210.95" y="441.94" width="3.3" height="5.6" fill="#edc9d0"/>
<rect x="214.24" y="441.94" width="3.3" height="5.6" fill="#db94a0"/>
<rect x="217.52" y="441.94" width="3.3" height="5.6" fill="#db94a0"/>
<rect x="165" y="447.52" width="3.3" height="5.6" fill="#f6e4e7"/>
<rect x="168.28" y="447.52" width="3.3" height="5.6" fill="#f6e4e7"/>
<rect x="171.56" y="447.52" width="3.3" height="5.6" fill="#ffffff"/>
<rect x="174.85" y="447.52" width="3.3" height="5.6" fill="#e4afb8"/>
<rect x="178.13" y="447.52" width="3.3" height="5.6" fill="#ffffff"/>
<rect x="181.41" y="447.52" width="3.3" height="5.6" fill="#ffffff"/>
<rect x="184.69" y="447.52" width="3.3" height="5.6" fill="#e4afb8"/>
<rect x="187.98" y="447.52" width="3.3" height="5.6" fill="#f6e4e7"/>
<rect x="191.26" y="447.52" width="3.3" height="5.6" fill="#ffffff"/>
<rect x="194.54" y="447.52" width="3.3" height="5.6" fill="#edc9d0"/>
<rect x="197.82" y="447.52" width="3.3" height="5.6" fill="#e4afb8"/>
<rect x="201.11" y="447.52" width="3.3" height="5.6" fill="#edc9d0"/>
<rect x="204.39" y="447.52" width="3.3" height="5.6" fill="#c1445a"/>
<rect x="207.67" y="447.52" width="3.3" height="5.6" fill="#f6e4e7"/>
<rect x="210.95" y="447.52" width="3.3" height="5.6" fill="#edc9d0"/>
<rect x="214.24" y="447.52" width="3.3" height="5.6" fill="#db94a0"/>
<rect x="217.52" y="447.52" width="3.3" height="5.6" fill="#e4afb8"/>
</g>
<g stroke="#9c9c9c" stroke-width="0.6" fill="none">
<rect x="48.5" y="215.4" width="55.8" height="11.4" fill="#4472c4"/>
<path d="M48.5 215.4V226.8M48.5 229.9V453.1M51.78 215.4V226.8M51.78 229.9V453.1M55.06 215.4V226.8M55.06 229.9V453.1M58.35 215.4V226.8M58.35 229.9V453.1M61.63 215.4V226.8M61.63 229.9V453.1M64.91 215.4V226.8M64.91 229.9V453.1M68.19 215.4V226.8M68.19 229.9V453.1M71.48 215.4V226.8M71.48 229.9V453.1M74.76 215.4V226.8M74.76 229.9V453.1M78.04 215.4V226.8M78.04 229.9V453.1M81.32 215.4V226.8M81.32 229.9V453.1M84.61 215.4V226.8M84.61 229.9V453.1M87.89 215.4V226.8M87.89 229.9V453.1M91.17 215.4V226.8M91.17 229.9V453.1M94.45 215.4V226.8M94.45 229.9V453.1M97.74 215.4V226.8M97.74 229.9V453.1M101.02 215.4V226.8M101.02 229.9V453.1M104.3 215.4V226.8M104.3 229.9V453.1M48.5 229.9H104.3M48.5 235.48H104.3M48.5 241.06H104.3M48.5 246.64H104.3M48.5 252.22H104.3M48.5 257.8H104.3M48.5 263.38H104.3M48.5 268.96H104.3M48.5 274.54H104.3M48.5 280.12H104.3M48.5 285.7H104.3M48.5 291.28H104.3M48.5 296.86H104.3M48.5 302.44H104.3M48.5 308.02H104.3M48.5 313.6H104.3M48.5 319.18H104.3M48.5 324.76H104.3M48.5 330.34H104.3M48.5 335.92H104.3M48.5 341.5H104.3M48.5 347.08H104.3M48.5 352.66H104.3M48.5 358.24H104.3M48.5 363.82H104.3M48.5 369.4H104.3M48.5 374.98H104.3M48.5 380.56H104.3M48.5 386.14H104.3M48.5 391.72H104.3M48.5 397.3H104.3M48.5 402.88H104.3M48.5 408.46H104.3M48.5 414.04H104.3M48.5 419.62H104.3M48.5 425.2H104.3M48.5 430.78H104.3M48.5 436.36H104.3M48.5 441.94H104.3M48.5 447.52H104.3M48.5 453.1H104.3M48.5 215.4H104.3M48.5 226.8H104.3"/>
<rect x="106.75" y="215.4" width="55.8" height="11.4" fill="#ed7d31"/>
<path d="M106.75 215.4V226.8M106.75 229.9V453.1M110.03 215.4V226.8M110.03 229.9V453.1M113.31 215.4V226.8M113.31 229.9V453.1M116.6 215.4V226.8M116.6 229.9V453.1M119.88 215.4V226.8M119.88 229.9V453.1M123.16 215.4V226.8M123.16 229.9V453.1M126.44 215.4V226.8M126.44 229.9V453.1M129.73 215.4V226.8M129.73 229.9V453.1M133.01 215.4V226.8M133.01 229.9V453.1M136.29 215.4V226.8M136.29 229.9V453.1M139.57 215.4V226.8M139.57 229.9V453.1M142.86 215.4V226.8M142.86 229.9V453.1M146.14 215.4V226.8M146.14 229.9V453.1M149.42 215.4V226.8M149.42 229.9V453.1M152.7 215.4V226.8M152.7 229.9V453.1M155.99 215.4V226.8M155.99 229.9V453.1M159.27 215.4V226.8M159.27 229.9V453.1M162.55 215.4V226.8M162.55 229.9V453.1M106.75 229.9H162.55M106.75 235.48H162.55M106.75 241.06H162.55M106.75 246.64H162.55M106.75 252.22H162.55M106.75 257.8H162.55M106.75 263.38H162.55M106.75 268.96H162.55M106.75 274.54H162.55M106.75 280.12H162.55M106.75 285.7H162.55M106.75 291.28H162.55M106.75 296.86H162.55M106.75 302.44H162.55M106.75 308.02H162.55M106.75 313.6H162.55M106.75 319.18H162.55M106.75 324.76H162.55M106.75 330.34H162.55M106.75 335.92H162.55M106.75 341.5H162.55M106.75 347.08H162.55M106.75 352.66H162.55M106.75 358.24H162.55M106.75 363.82H162.55M106.75 369.4H162.55M106.75 374.98H162.55M106.75 380.56H162.55M106.75 386.14H162.55M106.75 391.72H162.55M106.75 397.3H162.55M106.75 402.88H162.55M106.75 408.46H162.55M106.75 414.04H162.55M106.75 419.62H162.55M106.75 425.2H162.55M106.75 430.78H162.55M106.75 436.36H162.55M106.75 441.94H162.55M106.75 447.52H162.55M106.75 453.1H162.55M106.75 215.4H162.55M106.75 226.8H162.55"/>
<rect x="165" y="215.4" width="55.8" height="11.4" fill="#70ad47"/>
<path d="M165 215.4V226.8M165 229.9V453.1M168.28 215.4V226.8M168.28 229.9V453.1M171.56 215.4V226.8M171.56 229.9V453.1M174.85 215.4V226.8M174.85 229.9V453.1M178.13 215.4V226.8M178.13 229.9V453.1M181.41 215.4V226.8M181.41 229.9V453.1M184.69 215.4V226.8M184.69 229.9V453.1M187.98 215.4V226.8M187.98 229.9V453.1M191.26 215.4V226.8M191.26 229.9V453.1M194.54 215.4V226.8M194.54 229.9V453.1M197.82 215.4V226.8M197.82 229.9V453.1M201.11 215.4V226.8M201.11 229.9V453.1M204.39 215.4V226.8M204.39 229.9V453.1M207.67 215.4V226.8M207.67 229.9V453.1M210.95 215.4V226.8M210.95 229.9V453.1M214.24 215.4V226.8M214.24 229.9V453.1M217.52 215.4V226.8M217.52 229.9V453.1M220.8 215.4V226.8M220.8 229.9V453.1M165 229.9H220.8M165 235.48H220.8M165 241.06H220.8M165 246.64H220.8M165 252.22H220.8M165 257.8H220.8M165 263.38H220.8M165 268.96H220.8M165 274.54H220.8M165 280.12H220.8M165 285.7H220.8M165 291.28H220.8M165 296.86H220.8M165 302.44H220.8M165 308.02H220.8M165 313.6H220.8M165 319.18H220.8M165 324.76H220.8M165 330.34H220.8M165 335.92H220.8M165 341.5H220.8M165 347.08H220.8M165 352.66H220.8M165 358.24H220.8M165 363.82H220.8M165 369.4H220.8M165 374.98H220.8M165 380.56H220.8M165 386.14H220.8M165 391.72H220.8M165 397.3H220.8M165 402.88H220.8M165 408.46H220.8M165 414.04H220.8M165 419.62H220.8M165 425.2H220.8M165 430.78H220.8M165 436.36H220.8M165 441.94H220.8M165 447.52H220.8M165 453.1H220.8M165 215.4H220.8M165 226.8H220.8"/>
</g>
<text x="222.30" y="230.60" font-size="5.3" text-anchor="start" fill="#111">TAG(55:1)_FA16:0</text>
<text x="222.30" y="236.34" font-size="5.3" text-anchor="start" fill="#111">TAG(55:1)_FA18:1</text>
<text x="222.30" y="242.08" font-size="5.3" text-anchor="start" fill="#111">TAG(52:3)_FA16:0</text>
<text x="222.30" y="247.82" font-size="5.3" text-anchor="start" fill="#111">TAG(52:3)_FA18:2</text>
<text x="222.30" y="253.56" font-size="5.3" text-anchor="start" fill="#111">TAG(52:3)_FA18:1</text>
<text x="222.30" y="259.30" font-size="5.3" text-anchor="start" fill="#111">TAG(52:4)_FA16:0</text>
<text x="222.30" y="265.04" font-size="5.3" text-anchor="start" fill="#111">TAG(52:4)_FA18:2</text>
<text x="222.30" y="270.78" font-size="5.3" text-anchor="start" fill="#111">TAG(52:2)_FA16:0</text>
<text x="222.30" y="276.52" font-size="5.3" text-anchor="start" fill="#111">TAG(54:4)_FA18:3</text>
<text x="222.30" y="282.26" font-size="5.3" text-anchor="start" fill="#111">TAG(52:4)_FA18:3</text>
<text x="222.30" y="288.00" font-size="5.3" text-anchor="start" fill="#111">TAG(52:4)_FA18:1</text>
<text x="222.30" y="293.74" font-size="5.3" text-anchor="start" fill="#111">TAG(54:7)_FA18:1</text>
<text x="222.30" y="299.48" font-size="5.3" text-anchor="start" fill="#111">TAG(54:6)_FA18:3</text>
<text x="222.30" y="305.22" font-size="5.3" text-anchor="start" fill="#111">TAG(54:6)_FA18:1</text>
<text x="222.30" y="310.96" font-size="5.3" text-anchor="start" fill="#111">TAG(54:5)_FA18:1</text>
<text x="222.30" y="316.70" font-size="5.3" text-anchor="start" fill="#111">TAG(54:4)_FA18:0</text>
<text x="222.30" y="322.44" font-size="5.3" text-anchor="start" fill="#111">TAG(54:5)_FA20:2</text>
<text x="222.30" y="328.18" font-size="5.3" text-anchor="start" fill="#111">TAG(56:6)_FA18:3</text>
<text x="222.30" y="333.92" font-size="5.3" text-anchor="start" fill="#111">TAG(54:5)_FA18:3</text>
<text x="222.30" y="339.66" font-size="5.3" text-anchor="start" fill="#111">TAG(54:4)_FA20:1</text>
<text x="222.30" y="345.40" font-size="5.3" text-anchor="start" fill="#111">PE(P-18:0/20:1)</text>
<text x="222.30" y="351.14" font-size="5.3" text-anchor="start" fill="#111">PE(P-18:1/20:1)</text>
<text x="222.30" y="356.88" font-size="5.3" text-anchor="start" fill="#111">PE(P-18:1/20:5)</text>
<text x="222.30" y="362.62" font-size="5.3" text-anchor="start" fill="#111">PE(P-18:0/18:1)</text>
<text x="222.30" y="368.36" font-size="5.3" text-anchor="start" fill="#111">PE(O-16:0/18:1)</text>
<text x="222.30" y="374.10" font-size="5.3" text-anchor="start" fill="#111">PE(P-16:0/18:1)</text>
<text x="222.30" y="379.84" font-size="5.3" text-anchor="start" fill="#111">PE(P-18:1/18:1)</text>
<text x="222.30" y="385.58" font-size="5.3" text-anchor="start" fill="#111">PE(P-18:1/18:2)</text>
<text x="222.30" y="391.32" font-size="5.3" text-anchor="start" fill="#111">PE(P-18:1/16:0)</text>
<text x="222.30" y="397.06" font-size="5.3" text-anchor="start" fill="#111">PE(P-18:0/20:2)</text>
<text x="222.30" y="402.80" font-size="5.3" text-anchor="start" fill="#111">PE(P-18:1/20:3)</text>
<text x="222.30" y="408.54" font-size="5.3" text-anchor="start" fill="#111">PE(P-18:0/20:3)</text>
<text x="222.30" y="414.28" font-size="5.3" text-anchor="start" fill="#111">PE(P-16:0/20:3)</text>
<text x="222.30" y="420.02" font-size="5.3" text-anchor="start" fill="#111">PE(P-18:0/22:5)</text>
<text x="222.30" y="425.76" font-size="5.3" text-anchor="start" fill="#111">PE(P-16:0/20:4)</text>
<text x="222.30" y="431.50" font-size="5.3" text-anchor="start" fill="#111">PE(O-16:0/18:1)</text>
<text x="222.30" y="437.24" font-size="5.3" text-anchor="start" fill="#111">PE(O-16:0/20:3)</text>
<text x="222.30" y="442.98" font-size="5.3" text-anchor="start" fill="#111">PE(P-18:0/22:6)</text>
<text x="222.30" y="448.72" font-size="5.3" text-anchor="start" fill="#111">PE(P-18:0/18:2)</text>
<text x="222.30" y="454.46" font-size="5.3" text-anchor="start" fill="#111">PE(O-18:0/18:2)</text>
<line x1="48.20" y1="243.85" x2="48.50" y2="243.85" stroke="#1a1a1a" stroke-width="0.6"/>
<line x1="48.20" y1="249.43" x2="48.50" y2="249.43" stroke="#1a1a1a" stroke-width="0.6"/>
<line x1="48.20" y1="243.85" x2="48.20" y2="249.43" stroke="#1a1a1a" stroke-width="0.6"/>
<line x1="47.80" y1="238.27" x2="48.50" y2="238.27" stroke="#1a1a1a" stroke-width="0.6"/>
<line x1="47.80" y1="246.64" x2="48.20" y2="246.64" stroke="#1a1a1a" stroke-width="0.6"/>
<line x1="47.80" y1="238.27" x2="47.80" y2="246.64" stroke="#1a1a1a" stroke-width="0.6"/>
<line x1="47.35" y1="242.45" x2="47.80" y2="242.45" stroke="#1a1a1a" stroke-width="0.6"/>
<line x1="47.35" y1="255.01" x2="48.50" y2="255.01" stroke="#1a1a1a" stroke-width="0.6"/>
<line x1="47.35" y1="242.45" x2="47.35" y2="255.01" stroke="#1a1a1a" stroke-width="0.6"/>
<line x1="46.90" y1="232.69" x2="48.50" y2="232.69" stroke="#1a1a1a" stroke-width="0.6"/>
<line x1="46.90" y1="248.73" x2="47.35" y2="248.73" stroke="#1a1a1a" stroke-width="0.6"/>
<line x1="46.90" y1="232.69" x2="46.90" y2="248.73" stroke="#1a1a1a" stroke-width="0.6"/>
<line x1="47.35" y1="260.59" x2="48.50" y2="260.59" stroke="#1a1a1a" stroke-width="0.6"/>
<line x1="47.35" y1="266.17" x2="48.50" y2="266.17" stroke="#1a1a1a" stroke-width="0.6"/>
<line x1="47.35" y1="260.59" x2="47.35" y2="266.17" stroke="#1a1a1a" stroke-width="0.6"/>
<line x1="47.80" y1="277.33" x2="48.50" y2="277.33" stroke="#1a1a1a" stroke-width="0.6"/>
<line x1="47.80" y1="282.91" x2="48.50" y2="282.91" stroke="#1a1a1a" stroke-width="0.6"/>
<line x1="47.80" y1="277.33" x2="47.80" y2="282.91" stroke="#1a1a1a" stroke-width="0.6"/>
<line x1="47.35" y1="271.75" x2="48.50" y2="271.75" stroke="#1a1a1a" stroke-width="0.6"/>
<line x1="47.35" y1="280.12" x2="47.80" y2="280.12" stroke="#1a1a1a" stroke-width="0.6"/>
<line x1="47.35" y1="271.75" x2="47.35" y2="280.12" stroke="#1a1a1a" stroke-width="0.6"/>
<line x1="46.90" y1="263.38" x2="47.35" y2="263.38" stroke="#1a1a1a" stroke-width="0.6"/>
<line x1="46.90" y1="275.94" x2="47.35" y2="275.94" stroke="#1a1a1a" stroke-width="0.6"/>
<line x1="46.90" y1="263.38" x2="46.90" y2="275.94" stroke="#1a1a1a" stroke-width="0.6"/>
<line x1="46.45" y1="240.71" x2="46.90" y2="240.71" stroke="#1a1a1a" stroke-width="0.6"/>
<line x1="46.45" y1="269.66" x2="46.90" y2="269.66" stroke="#1a1a1a" stroke-width="0.6"/>
<line x1="46.45" y1="240.71" x2="46.45" y2="269.66" stroke="#1a1a1a" stroke-width="0.6"/>
<line x1="47.35" y1="288.49" x2="48.50" y2="288.49" stroke="#1a1a1a" stroke-width="0.6"/>
<line x1="47.35" y1="294.07" x2="48.50" y2="294.07" stroke="#1a1a1a" stroke-width="0.6"/>
<line x1="47.35" y1="288.49" x2="47.35" y2="294.07" stroke="#1a1a1a" stroke-width="0.6"/>
<line x1="47.35" y1="299.65" x2="48.50" y2="299.65" stroke="#1a1a1a" stroke-width="0.6"/>
<line x1="47.35" y1="305.23" x2="48.50" y2="305.23" stroke="#1a1a1a" stroke-width="0.6"/>
<line x1="47.35" y1="299.65" x2="47.35" y2="305.23" stroke="#1a1a1a" stroke-width="0.6"/>
<line x1="46.90" y1="291.28" x2="47.35" y2="291.28" stroke="#1a1a1a" stroke-width="0.6"/>
<line x1="46.90" y1="302.44" x2="47.35" y2="302.44" stroke="#1a1a1a" stroke-width="0.6"/>
<line x1="46.90" y1="291.28" x2="46.90" y2="302.44" stroke="#1a1a1a" stroke-width="0.6"/>
<line x1="47.35" y1="310.81" x2="48.50" y2="310.81" stroke="#1a1a1a" stroke-width="0.6"/>
<line x1="47.35" y1="316.39" x2="48.50" y2="316.39" stroke="#1a1a1a" stroke-width="0.6"/>
<line x1="47.35" y1="310.81" x2="47.35" y2="316.39" stroke="#1a1a1a" stroke-width="0.6"/>
<line x1="47.80" y1="321.97" x2="48.50" y2="321.97" stroke="#1a1a1a" stroke-width="0.6"/>
<line x1="47.80" y1="327.55" x2="48.50" y2="327.55" stroke="#1a1a1a" stroke-width="0.6"/>
<line x1="47.80" y1="321.97" x2="47.80" y2="327.55" stroke="#1a1a1a" stroke-width="0.6"/>
<line x1="47.80" y1="333.13" x2="48.50" y2="333.13" stroke="#1a1a1a" stroke-width="0.6"/>
<line x1="47.80" y1="338.71" x2="48.50" y2="338.71" stroke="#1a1a1a" stroke-width="0.6"/>
<line x1="47.80" y1="333.13" x2="47.80" y2="338.71" stroke="#1a1a1a" stroke-width="0.6"/>
<line x1="47.35" y1="324.76" x2="47.80" y2="324.76" stroke="#1a1a1a" stroke-width="0.6"/>
<line x1="47.35" y1="335.92" x2="47.80" y2="335.92" stroke="#1a1a1a" stroke-width="0.6"/>
<line x1="47.35" y1="324.76" x2="47.35" y2="335.92" stroke="#1a1a1a" stroke-width="0.6"/>
<line x1="46.90" y1="313.60" x2="47.35" y2="313.60" stroke="#1a1a1a" stroke-width="0.6"/>
<line x1="46.90" y1="330.34" x2="47.35" y2="330.34" stroke="#1a1a1a" stroke-width="0.6"/>
<line x1="46.90" y1="313.60" x2="46.90" y2="330.34" stroke="#1a1a1a" stroke-width="0.6"/>
<line x1="46.45" y1="296.86" x2="46.90" y2="296.86" stroke="#1a1a1a" stroke-width="0.6"/>
<line x1="46.45" y1="321.97" x2="46.90" y2="321.97" stroke="#1a1a1a" stroke-width="0.6"/>
<line x1="46.45" y1="296.86" x2="46.45" y2="321.97" stroke="#1a1a1a" stroke-width="0.6"/>
<line x1="46.00" y1="255.18" x2="46.45" y2="255.18" stroke="#1a1a1a" stroke-width="0.6"/>
<line x1="46.00" y1="309.42" x2="46.45" y2="309.42" stroke="#1a1a1a" stroke-width="0.6"/>
<line x1="46.00" y1="255.18" x2="46.00" y2="309.42" stroke="#1a1a1a" stroke-width="0.6"/>
<line x1="46.85" y1="349.87" x2="48.50" y2="349.87" stroke="#1a1a1a" stroke-width="0.6"/>
<line x1="46.85" y1="355.45" x2="48.50" y2="355.45" stroke="#1a1a1a" stroke-width="0.6"/>
<line x1="46.85" y1="349.87" x2="46.85" y2="355.45" stroke="#1a1a1a" stroke-width="0.6"/>
<line x1="46.40" y1="344.29" x2="48.50" y2="344.29" stroke="#1a1a1a" stroke-width="0.6"/>
<line x1="46.40" y1="352.66" x2="46.85" y2="352.66" stroke="#1a1a1a" stroke-width="0.6"/>
<line x1="46.40" y1="344.29" x2="46.40" y2="352.66" stroke="#1a1a1a" stroke-width="0.6"/>
<line x1="47.80" y1="366.61" x2="48.50" y2="366.61" stroke="#1a1a1a" stroke-width="0.6"/>
<line x1="47.80" y1="372.19" x2="48.50" y2="372.19" stroke="#1a1a1a" stroke-width="0.6"/>
<line x1="47.80" y1="366.61" x2="47.80" y2="372.19" stroke="#1a1a1a" stroke-width="0.6"/>
<line x1="47.35" y1="361.03" x2="48.50" y2="361.03" stroke="#1a1a1a" stroke-width="0.6"/>
<line x1="47.35" y1="369.40" x2="47.80" y2="369.40" stroke="#1a1a1a" stroke-width="0.6"/>
<line x1="47.35" y1="361.03" x2="47.35" y2="369.40" stroke="#1a1a1a" stroke-width="0.6"/>
<line x1="46.90" y1="365.21" x2="47.35" y2="365.21" stroke="#1a1a1a" stroke-width="0.6"/>
<line x1="46.90" y1="377.77" x2="48.50" y2="377.77" stroke="#1a1a1a" stroke-width="0.6"/>
<line x1="46.90" y1="365.21" x2="46.90" y2="377.77" stroke="#1a1a1a" stroke-width="0.6"/>
<line x1="47.80" y1="388.93" x2="48.50" y2="388.93" stroke="#1a1a1a" stroke-width="0.6"/>
<line x1="47.80" y1="394.51" x2="48.50" y2="394.51" stroke="#1a1a1a" stroke-width="0.6"/>
<line x1="47.80" y1="388.93" x2="47.80" y2="394.51" stroke="#1a1a1a" stroke-width="0.6"/>
<line x1="47.80" y1="400.09" x2="48.50" y2="400.09" stroke="#1a1a1a" stroke-width="0.6"/>
<line x1="47.80" y1="405.67" x2="48.50" y2="405.67" stroke="#1a1a1a" stroke-width="0.6"/>
<line x1="47.80" y1="400.09" x2="47.80" y2="405.67" stroke="#1a1a1a" stroke-width="0.6"/>
<line x1="47.35" y1="391.72" x2="47.80" y2="391.72" stroke="#1a1a1a" stroke-width="0.6"/>
<line x1="47.35" y1="402.88" x2="47.80" y2="402.88" stroke="#1a1a1a" stroke-width="0.6"/>
<line x1="47.35" y1="391.72" x2="47.35" y2="402.88" stroke="#1a1a1a" stroke-width="0.6"/>
<line x1="46.90" y1="383.35" x2="48.50" y2="383.35" stroke="#1a1a1a" stroke-width="0.6"/>
<line x1="46.90" y1="397.30" x2="47.35" y2="397.30" stroke="#1a1a1a" stroke-width="0.6"/>
<line x1="46.90" y1="383.35" x2="46.90" y2="397.30" stroke="#1a1a1a" stroke-width="0.6"/>
<line x1="46.45" y1="371.49" x2="46.90" y2="371.49" stroke="#1a1a1a" stroke-width="0.6"/>
<line x1="46.45" y1="390.33" x2="46.90" y2="390.33" stroke="#1a1a1a" stroke-width="0.6"/>
<line x1="46.45" y1="371.49" x2="46.45" y2="390.33" stroke="#1a1a1a" stroke-width="0.6"/>
<line x1="47.35" y1="416.83" x2="48.50" y2="416.83" stroke="#1a1a1a" stroke-width="0.6"/>
<line x1="47.35" y1="422.41" x2="48.50" y2="422.41" stroke="#1a1a1a" stroke-width="0.6"/>
<line x1="47.35" y1="416.83" x2="47.35" y2="422.41" stroke="#1a1a1a" stroke-width="0.6"/>
<line x1="46.90" y1="411.25" x2="48.50" y2="411.25" stroke="#1a1a1a" stroke-width="0.6"/>
<line x1="46.90" y1="419.62" x2="47.35" y2="419.62" stroke="#1a1a1a" stroke-width="0.6"/>
<line x1="46.90" y1="411.25" x2="46.90" y2="419.62" stroke="#1a1a1a" stroke-width="0.6"/>
<line x1="47.35" y1="427.99" x2="48.50" y2="427.99" stroke="#1a1a1a" stroke-width="0.6"/>
<line x1="47.35" y1="433.57" x2="48.50" y2="433.57" stroke="#1a1a1a" stroke-width="0.6"/>
<line x1="47.35" y1="427.99" x2="47.35" y2="433.57" stroke="#1a1a1a" stroke-width="0.6"/>
<line x1="47.80" y1="444.73" x2="48.50" y2="444.73" stroke="#1a1a1a" stroke-width="0.6"/>
<line x1="47.80" y1="450.31" x2="48.50" y2="450.31" stroke="#1a1a1a" stroke-width="0.6"/>
<line x1="47.80" y1="444.73" x2="47.80" y2="450.31" stroke="#1a1a1a" stroke-width="0.6"/>
<line x1="47.35" y1="439.15" x2="48.50" y2="439.15" stroke="#1a1a1a" stroke-width="0.6"/>
<line x1="47.35" y1="447.52" x2="47.80" y2="447.52" stroke="#1a1a1a" stroke-width="0.6"/>
<line x1="47.35" y1="439.15" x2="47.35" y2="447.52" stroke="#1a1a1a" stroke-width="0.6"/>
<line x1="46.90" y1="430.78" x2="47.35" y2="430.78" stroke="#1a1a1a" stroke-width="0.6"/>
<line x1="46.90" y1="443.33" x2="47.35" y2="443.33" stroke="#1a1a1a" stroke-width="0.6"/>
<line x1="46.90" y1="430.78" x2="46.90" y2="443.33" stroke="#1a1a1a" stroke-width="0.6"/>
<line x1="46.45" y1="415.44" x2="46.90" y2="415.44" stroke="#1a1a1a" stroke-width="0.6"/>
<line x1="46.45" y1="437.06" x2="46.90" y2="437.06" stroke="#1a1a1a" stroke-width="0.6"/>
<line x1="46.45" y1="415.44" x2="46.45" y2="437.06" stroke="#1a1a1a" stroke-width="0.6"/>
<line x1="46.00" y1="380.91" x2="46.45" y2="380.91" stroke="#1a1a1a" stroke-width="0.6"/>
<line x1="46.00" y1="426.25" x2="46.45" y2="426.25" stroke="#1a1a1a" stroke-width="0.6"/>
<line x1="46.00" y1="380.91" x2="46.00" y2="426.25" stroke="#1a1a1a" stroke-width="0.6"/>
<line x1="45.00" y1="282.30" x2="46.00" y2="282.30" stroke="#1a1a1a" stroke-width="0.6"/>
<line x1="45.00" y1="348.48" x2="46.40" y2="348.48" stroke="#1a1a1a" stroke-width="0.6"/>
<line x1="45.00" y1="282.30" x2="45.00" y2="348.48" stroke="#1a1a1a" stroke-width="0.6"/>
<line x1="43.80" y1="347.00" x2="45.00" y2="347.00" stroke="#1a1a1a" stroke-width="0.6"/>
<line x1="43.80" y1="375.00" x2="45.30" y2="375.00" stroke="#1a1a1a" stroke-width="0.6"/>
<line x1="43.80" y1="347.00" x2="43.80" y2="375.00" stroke="#1a1a1a" stroke-width="0.6"/>
<line x1="45.30" y1="375.00" x2="45.30" y2="403.58" stroke="#1a1a1a" stroke-width="0.6"/>
<line x1="45.30" y1="403.58" x2="46.00" y2="403.58" stroke="#1a1a1a" stroke-width="0.6"/>
<defs><linearGradient id="zg" x1="0" y1="0" x2="0" y2="1"><stop offset="0" stop-color="#b5203a"/><stop offset="0.1667" stop-color="#ce6a7c"/><stop offset="0.3333" stop-color="#e6b5bd"/><stop offset="0.5" stop-color="#ffffff"/><stop offset="0.6667" stop-color="#bbcfe7"/><stop offset="0.8333" stop-color="#789ece"/><stop offset="1" stop-color="#346eb6"/></linearGradient></defs>
<rect x="278.4" y="236.8" width="7.1" height="130.5" fill="url(#zg)"/>
<text x="268.20" y="223.10" font-size="7.6" text-anchor="start" fill="#111">Z-score</text>
<text x="287.00" y="236.50" font-size="10" text-anchor="start" fill="#111">3</text>
<text x="287.00" y="258.30" font-size="10" text-anchor="start" fill="#111">2</text>
<text x="287.00" y="280.10" font-size="10" text-anchor="start" fill="#111">1</text>
<text x="287.00" y="301.60" font-size="10" text-anchor="start" fill="#111">0</text>
<text x="287.00" y="323.40" font-size="10" text-anchor="start" fill="#111">-1</text>
<text x="287.00" y="345.90" font-size="10" text-anchor="start" fill="#111">-2</text>
<text x="287.00" y="366.90" font-size="10" text-anchor="start" fill="#111">-3</text>
<text x="267.90" y="379.10" font-size="8.6" text-anchor="start" font-weight="bold" fill="#111">Eating pattern</text>
<rect x="276.3" y="387.80" width="9.4" height="12.6" fill="#4472c4"/>
<text x="288.40" y="394.50" font-size="8.8" text-anchor="start" fill="#111">Extend EW</text>
<rect x="276.3" y="400.40" width="9.4" height="12.6" fill="#ed7d31"/>
<text x="288.40" y="408.50" font-size="8.8" text-anchor="start" fill="#111">Late EW</text>
<rect x="276.3" y="413.00" width="9.4" height="12.6" fill="#70ad47"/>
<text x="288.40" y="422.40" font-size="8.8" text-anchor="start" fill="#111">Early EW</text>
<g transform="translate(467.7 319.0) scale(1 1.021)">
<path d="M-0.17 -95.20A95.2 95.2 0 0 1 50.45 -80.73L46.31 -74.12A87.4 87.4 0 0 0 -0.15 -87.40Z" fill="#b5282b"/>
<path d="M-0.15 -84.60A84.6 84.6 0 0 1 44.83 -71.74L42.29 -67.67A79.8 79.8 0 0 0 -0.14 -79.80Z" fill="#f6e4d2"/>
<path d="M-0.14 -78.00A78.0 78.0 0 0 1 41.33 -66.15L34.87 -55.80A65.8 65.8 0 0 0 -0.11 -65.80Z" fill="#ededed"/>
<path d="M-0.14 -77.40A77.4 77.4 0 0 1 1.06 -77.39L0.91 -66.39A66.4 66.4 0 0 0 -0.12 -66.40Z" fill="#3f9454"/>
<path d="M-0.11 -63.20A63.2 63.2 0 0 1 33.49 -53.60L27.45 -43.93A51.8 51.8 0 0 0 -0.09 -51.80Z" fill="#f6f6f6"/>
<path d="M-0.10 -59.80A59.800000000000004 59.800000000000004 0 0 1 31.69 -50.71L29.30 -46.90A55.300000000000004 55.300000000000004 0 0 0 -0.10 -55.30Z" fill="#6a1fb3"/>
<path d="M-0.07 -39.20A39.2 39.2 0 0 1 20.77 -33.24" fill="none" stroke="#e4e4e4" stroke-width="0.45"/>
<path d="M-0.07 -42.20A42.2 42.2 0 0 1 22.36 -35.79" fill="none" stroke="#e4e4e4" stroke-width="0.45"/>
<path d="M-0.08 -45.10A45.1 45.1 0 0 1 23.90 -38.25" fill="none" stroke="#e4e4e4" stroke-width="0.45"/>
<path d="M-0.08 -48.00A48.0 48.0 0 0 1 25.44 -40.71" fill="none" stroke="#e4e4e4" stroke-width="0.45"/>
<path d="M-0.09 -50.90A50.9 50.9 0 0 1 26.97 -43.17" fill="none" stroke="#e4e4e4" stroke-width="0.45"/>
<path d="M-0.07 -42.28A42.282 42.282 0 0 1 22.41 -35.86L18.44 -29.51A34.8 34.8 0 0 0 -0.06 -34.80Z" fill="#b5282b"/>
<text x="4.95" y="-71.03" font-size="5.4" text-anchor="middle" dominant-baseline="central" fill="#000" transform="rotate(4.0 4.95 -71.03)">23</text>
<text x="14.26" y="-55.76" font-size="6.4" text-anchor="middle" dominant-baseline="central" font-weight="bold" fill="#000" transform="rotate(14.3 14.26 -55.76)">2</text>
<text x="10.45" y="-36.58" font-size="5.4" text-anchor="middle" dominant-baseline="central" fill="#000" transform="rotate(15.9 10.45 -36.58)">0.0870</text>
<path d="M-0.17 -95.40A95.4 95.4 0 0 1 50.55 -80.90" fill="none" stroke="#000" stroke-width="0.7"/>
<line x1="-0.17" y1="-95.30" x2="-0.17" y2="-96.30" stroke="#111" stroke-width="0.4"/>
<line x1="3.28" y1="-95.24" x2="3.31" y2="-96.24" stroke="#111" stroke-width="0.4"/>
<line x1="6.72" y1="-95.06" x2="6.79" y2="-96.06" stroke="#111" stroke-width="0.4"/>
<line x1="10.15" y1="-94.76" x2="10.25" y2="-95.75" stroke="#111" stroke-width="0.4"/>
<line x1="13.57" y1="-94.33" x2="13.71" y2="-95.32" stroke="#111" stroke-width="0.4"/>
<line x1="16.97" y1="-93.78" x2="17.14" y2="-94.76" stroke="#111" stroke-width="0.4"/>
<line x1="20.34" y1="-93.10" x2="20.56" y2="-94.08" stroke="#111" stroke-width="0.4"/>
<line x1="23.69" y1="-92.31" x2="23.94" y2="-93.28" stroke="#111" stroke-width="0.4"/>
<line x1="27.02" y1="-91.39" x2="27.30" y2="-92.35" stroke="#111" stroke-width="0.4"/>
<line x1="30.30" y1="-90.35" x2="30.62" y2="-91.30" stroke="#111" stroke-width="0.4"/>
<line x1="33.55" y1="-89.20" x2="33.90" y2="-90.14" stroke="#111" stroke-width="0.4"/>
<line x1="36.75" y1="-87.93" x2="37.13" y2="-88.85" stroke="#111" stroke-width="0.4"/>
<line x1="39.90" y1="-86.54" x2="40.32" y2="-87.45" stroke="#111" stroke-width="0.4"/>
<line x1="43.00" y1="-85.05" x2="43.45" y2="-85.94" stroke="#111" stroke-width="0.4"/>
<line x1="46.05" y1="-83.44" x2="46.53" y2="-84.31" stroke="#111" stroke-width="0.4"/>
<line x1="49.03" y1="-81.72" x2="49.55" y2="-82.58" stroke="#111" stroke-width="0.4"/>
<line x1="-0.17" y1="-95.30" x2="-0.17" y2="-97.00" stroke="#111" stroke-width="0.5"/>
<text x="-0.17" y="-98.00" font-size="5.2" text-anchor="end" dominant-baseline="central" fill="#000" transform="rotate(89.9 -0.17 -98.00)">0</text>
<line x1="16.97" y1="-93.78" x2="17.27" y2="-95.45" stroke="#111" stroke-width="0.5"/>
<text x="17.45" y="-96.43" font-size="5.2" text-anchor="start" dominant-baseline="central" fill="#000" transform="rotate(-79.7 17.45 -96.43)">20</text>
<line x1="33.55" y1="-89.20" x2="34.14" y2="-90.79" stroke="#111" stroke-width="0.5"/>
<text x="34.50" y="-91.73" font-size="5.2" text-anchor="start" dominant-baseline="central" fill="#000" transform="rotate(-69.4 34.50 -91.73)">40</text>
<line x1="49.03" y1="-81.72" x2="49.91" y2="-83.18" stroke="#111" stroke-width="0.5"/>
<text x="50.42" y="-84.03" font-size="5.2" text-anchor="start" dominant-baseline="central" fill="#000" transform="rotate(-59.0 50.42 -84.03)">60</text>
<path d="M55.42 -77.41A95.2 95.2 0 0 1 88.76 -34.43L81.49 -31.61A87.4 87.4 0 0 0 50.88 -71.07Z" fill="#b5282b"/>
<path d="M49.25 -68.79A84.6 84.6 0 0 1 78.87 -30.59L74.40 -28.86A79.8 79.8 0 0 0 46.45 -64.89Z" fill="#e9d66e"/>
<path d="M45.41 -63.42A78.0 78.0 0 0 1 72.72 -28.21L61.35 -23.79A65.8 65.8 0 0 0 38.30 -53.50Z" fill="#ededed"/>
<path d="M36.79 -51.39A63.2 63.2 0 0 1 58.92 -22.85L48.29 -18.73A51.8 51.8 0 0 0 30.15 -42.12Z" fill="#f6f6f6"/>
<path d="M33.09 -46.22A56.85 56.85 0 0 1 53.00 -20.56L51.70 -20.05A55.45 55.45 0 0 0 32.28 -45.09Z" fill="#a64fdd"/>
<path d="M22.82 -31.87A39.2 39.2 0 0 1 36.55 -14.18" fill="none" stroke="#e4e4e4" stroke-width="0.45"/>
<path d="M24.57 -34.31A42.2 42.2 0 0 1 39.34 -15.26" fill="none" stroke="#e4e4e4" stroke-width="0.45"/>
<path d="M26.25 -36.67A45.1 45.1 0 0 1 42.05 -16.31" fill="none" stroke="#e4e4e4" stroke-width="0.45"/>
<path d="M27.94 -39.03A48.0 48.0 0 0 1 44.75 -17.36" fill="none" stroke="#e4e4e4" stroke-width="0.45"/>
<path d="M29.63 -41.39A50.9 50.9 0 0 1 47.46 -18.41" fill="none" stroke="#e4e4e4" stroke-width="0.45"/>
<path d="M27.41 -38.29A47.0894 47.0894 0 0 1 43.90 -17.03L32.44 -12.58A34.8 34.8 0 0 0 20.26 -28.30Z" fill="#b5282b"/>
<text x="44.87" y="-55.28" font-size="5.4" text-anchor="middle" dominant-baseline="central" fill="#000" transform="rotate(39.1 44.87 -55.28)">7</text>
<text x="43.35" y="-35.69" font-size="6.4" text-anchor="middle" dominant-baseline="central" fill="#000" transform="rotate(50.5 43.35 -35.69)">1</text>
<text x="31.96" y="-24.79" font-size="5.4" text-anchor="middle" dominant-baseline="central" fill="#000" transform="rotate(52.2 31.96 -24.79)">0.1429</text>
<path d="M55.53 -77.57A95.4 95.4 0 0 1 88.94 -34.50" fill="none" stroke="#000" stroke-width="0.7"/>
<line x1="55.48" y1="-77.49" x2="56.06" y2="-78.30" stroke="#111" stroke-width="0.4"/>
<line x1="58.32" y1="-75.37" x2="58.93" y2="-76.17" stroke="#111" stroke-width="0.4"/>
<line x1="61.07" y1="-73.16" x2="61.72" y2="-73.92" stroke="#111" stroke-width="0.4"/>
<line x1="63.75" y1="-70.84" x2="64.42" y2="-71.58" stroke="#111" stroke-width="0.4"/>
<line x1="66.34" y1="-68.42" x2="67.03" y2="-69.14" stroke="#111" stroke-width="0.4"/>
<line x1="68.83" y1="-65.91" x2="69.55" y2="-66.60" stroke="#111" stroke-width="0.4"/>
<line x1="71.23" y1="-63.31" x2="71.98" y2="-63.97" stroke="#111" stroke-width="0.4"/>
<line x1="73.53" y1="-60.62" x2="74.30" y2="-61.26" stroke="#111" stroke-width="0.4"/>
<line x1="75.73" y1="-57.85" x2="76.53" y2="-58.46" stroke="#111" stroke-width="0.4"/>
<line x1="77.83" y1="-55.00" x2="78.65" y2="-55.57" stroke="#111" stroke-width="0.4"/>
<line x1="79.82" y1="-52.07" x2="80.66" y2="-52.61" stroke="#111" stroke-width="0.4"/>
<line x1="81.70" y1="-49.07" x2="82.55" y2="-49.58" stroke="#111" stroke-width="0.4"/>
<line x1="83.46" y1="-46.00" x2="84.34" y2="-46.48" stroke="#111" stroke-width="0.4"/>
<line x1="85.11" y1="-42.87" x2="86.01" y2="-43.32" stroke="#111" stroke-width="0.4"/>
<line x1="86.65" y1="-39.68" x2="87.56" y2="-40.10" stroke="#111" stroke-width="0.4"/>
<line x1="88.06" y1="-36.43" x2="88.98" y2="-36.82" stroke="#111" stroke-width="0.4"/>
<line x1="55.48" y1="-77.49" x2="56.47" y2="-78.87" stroke="#111" stroke-width="0.5"/>
<text x="57.05" y="-79.68" font-size="5.2" text-anchor="start" dominant-baseline="central" fill="#000" transform="rotate(-54.4 57.05 -79.68)">0</text>
<line x1="68.83" y1="-65.91" x2="70.06" y2="-67.09" stroke="#111" stroke-width="0.5"/>
<text x="70.78" y="-67.78" font-size="5.2" text-anchor="start" dominant-baseline="central" fill="#000" transform="rotate(-43.8 70.78 -67.78)">25</text>
<line x1="79.82" y1="-52.07" x2="81.24" y2="-53.00" stroke="#111" stroke-width="0.5"/>
<text x="82.08" y="-53.54" font-size="5.2" text-anchor="start" dominant-baseline="central" fill="#000" transform="rotate(-33.1 82.08 -53.54)">50</text>
<line x1="88.06" y1="-36.43" x2="89.63" y2="-37.08" stroke="#111" stroke-width="0.5"/>
<text x="90.56" y="-37.47" font-size="5.2" text-anchor="start" dominant-baseline="central" fill="#000" transform="rotate(-22.5 90.56 -37.47)">75</text>
<path d="M90.74 -28.79A95.2 95.2 0 0 1 92.49 22.55L84.91 20.70A87.4 87.4 0 0 0 83.31 -26.43Z" fill="#b5282b"/>
<path d="M80.64 -25.58A84.6 84.6 0 0 1 82.19 20.04L77.53 18.90A79.8 79.8 0 0 0 76.06 -24.13Z" fill="#f4c5c9"/>
<path d="M74.35 -23.58A78.0 78.0 0 0 1 75.78 18.47L63.93 15.58A65.8 65.8 0 0 0 62.72 -19.90Z" fill="#ededed"/>
<path d="M73.78 -23.40A77.4 77.4 0 0 1 76.24 13.37L65.40 11.47A66.4 66.4 0 0 0 63.29 -20.08Z" fill="#3f9454"/>
<path d="M60.24 -19.11A63.2 63.2 0 0 1 61.40 14.97L50.33 12.27A51.8 51.8 0 0 0 49.38 -15.66Z" fill="#f6f6f6"/>
<path d="M59.81 -18.97A62.75 62.75 0 0 1 60.96 14.86L53.58 13.06A55.15 55.15 0 0 0 52.57 -16.68Z" fill="#a33fd8"/>
<path d="M37.37 -11.85A39.2 39.2 0 0 1 38.08 9.28" fill="none" stroke="#e4e4e4" stroke-width="0.45"/>
<path d="M40.22 -12.76A42.2 42.2 0 0 1 41.00 9.99" fill="none" stroke="#e4e4e4" stroke-width="0.45"/>
<path d="M42.99 -13.64A45.1 45.1 0 0 1 43.82 10.68" fill="none" stroke="#e4e4e4" stroke-width="0.45"/>
<path d="M45.75 -14.51A48.0 48.0 0 0 1 46.63 11.37" fill="none" stroke="#e4e4e4" stroke-width="0.45"/>
<path d="M48.52 -15.39A50.9 50.9 0 0 1 49.45 12.06" fill="none" stroke="#e4e4e4" stroke-width="0.45"/>
<path d="M33.55 -10.64A35.199999999999996 35.199999999999996 0 0 1 34.20 8.34L33.81 8.24A34.8 34.8 0 0 0 33.17 -10.52Z" fill="#b5282b"/>
<text x="71.04" y="-4.75" font-size="6.0" text-anchor="middle" dominant-baseline="central" fill="#000" transform="rotate(86.2 71.04 -4.75)">745</text>
<text x="58.84" y="-3.61" font-size="6.4" text-anchor="middle" dominant-baseline="central" font-weight="bold" fill="#000" transform="rotate(86.5 58.84 -3.61)">3</text>
<text x="35.08" y="-1.19" font-size="5.4" text-anchor="middle" dominant-baseline="central" font-weight="bold" fill="#000" transform="rotate(88.0 35.08 -1.19)">0.0040</text>
<path d="M90.93 -28.85A95.4 95.4 0 0 1 92.69 22.59" fill="none" stroke="#000" stroke-width="0.7"/>
<line x1="90.84" y1="-28.82" x2="91.79" y2="-29.12" stroke="#111" stroke-width="0.4"/>
<line x1="91.56" y1="-26.42" x2="92.53" y2="-26.70" stroke="#111" stroke-width="0.4"/>
<line x1="92.23" y1="-24.01" x2="93.19" y2="-24.26" stroke="#111" stroke-width="0.4"/>
<line x1="92.83" y1="-21.58" x2="93.80" y2="-21.80" stroke="#111" stroke-width="0.4"/>
<line x1="93.36" y1="-19.13" x2="94.34" y2="-19.33" stroke="#111" stroke-width="0.4"/>
<line x1="93.83" y1="-16.67" x2="94.81" y2="-16.85" stroke="#111" stroke-width="0.4"/>
<line x1="94.24" y1="-14.20" x2="95.22" y2="-14.35" stroke="#111" stroke-width="0.4"/>
<line x1="94.58" y1="-11.72" x2="95.57" y2="-11.85" stroke="#111" stroke-width="0.4"/>
<line x1="94.85" y1="-9.24" x2="95.85" y2="-9.33" stroke="#111" stroke-width="0.4"/>
<line x1="95.06" y1="-6.74" x2="96.06" y2="-6.81" stroke="#111" stroke-width="0.4"/>
<line x1="95.21" y1="-4.24" x2="96.20" y2="-4.29" stroke="#111" stroke-width="0.4"/>
<line x1="95.28" y1="-1.74" x2="96.28" y2="-1.76" stroke="#111" stroke-width="0.4"/>
<line x1="95.30" y1="0.76" x2="96.30" y2="0.77" stroke="#111" stroke-width="0.4"/>
<line x1="95.24" y1="3.26" x2="96.24" y2="3.30" stroke="#111" stroke-width="0.4"/>
<line x1="95.13" y1="5.76" x2="96.12" y2="5.82" stroke="#111" stroke-width="0.4"/>
<line x1="94.94" y1="8.26" x2="95.94" y2="8.35" stroke="#111" stroke-width="0.4"/>
<line x1="94.69" y1="10.75" x2="95.69" y2="10.86" stroke="#111" stroke-width="0.4"/>
<line x1="94.38" y1="13.23" x2="95.37" y2="13.37" stroke="#111" stroke-width="0.4"/>
<line x1="94.00" y1="15.71" x2="94.98" y2="15.87" stroke="#111" stroke-width="0.4"/>
<line x1="93.55" y1="18.17" x2="94.53" y2="18.36" stroke="#111" stroke-width="0.4"/>
<line x1="93.04" y1="20.62" x2="94.02" y2="20.84" stroke="#111" stroke-width="0.4"/>
<line x1="90.84" y1="-28.82" x2="92.46" y2="-29.33" stroke="#111" stroke-width="0.5"/>
<text x="93.41" y="-29.63" font-size="5.2" text-anchor="start" dominant-baseline="central" fill="#000" transform="rotate(-17.6 93.41 -29.63)">0</text>
<line x1="93.83" y1="-16.67" x2="95.50" y2="-16.97" stroke="#111" stroke-width="0.5"/>
<text x="96.49" y="-17.15" font-size="5.2" text-anchor="start" dominant-baseline="central" fill="#000" transform="rotate(-10.1 96.49 -17.15)">250</text>
<line x1="95.21" y1="-4.24" x2="96.90" y2="-4.32" stroke="#111" stroke-width="0.5"/>
<text x="97.90" y="-4.36" font-size="5.2" text-anchor="start" dominant-baseline="central" fill="#000" transform="rotate(-2.6 97.90 -4.36)">500</text>
<line x1="94.94" y1="8.26" x2="96.63" y2="8.41" stroke="#111" stroke-width="0.5"/>
<text x="97.63" y="8.49" font-size="5.2" text-anchor="start" dominant-baseline="central" fill="#000" transform="rotate(5.0 97.63 8.49)">750</text>
<line x1="93.04" y1="20.62" x2="94.70" y2="20.99" stroke="#111" stroke-width="0.5"/>
<text x="95.68" y="21.20" font-size="5.2" text-anchor="start" dominant-baseline="central" fill="#000" transform="rotate(12.5 95.68 21.20)">1000</text>
<path d="M90.89 28.31A95.2 95.2 0 0 1 61.19 72.93L56.18 66.95A87.4 87.4 0 0 0 83.45 25.99Z" fill="#b5282b"/>
<path d="M80.77 25.16A84.6 84.6 0 0 1 54.38 64.81L51.29 61.13A79.8 79.8 0 0 0 76.19 23.73Z" fill="#bcb98f"/>
<path d="M74.47 23.20A78.0 78.0 0 0 1 50.14 59.75L42.30 50.41A65.8 65.8 0 0 0 62.82 19.57Z" fill="#ededed"/>
<path d="M73.90 23.02A77.4 77.4 0 0 1 73.71 23.61L63.23 20.26A66.4 66.4 0 0 0 63.40 19.75Z" fill="#3f9454"/>
<path d="M60.34 18.79A63.2 63.2 0 0 1 40.62 48.41L33.30 39.68A51.8 51.8 0 0 0 49.46 15.40Z" fill="#f6f6f6"/>
<path d="M54.28 16.91A56.85 56.85 0 0 1 36.54 43.55L35.64 42.48A55.45 55.45 0 0 0 52.94 16.49Z" fill="#a64fdd"/>
<path d="M37.43 11.66A39.2 39.2 0 0 1 25.20 30.03" fill="none" stroke="#e4e4e4" stroke-width="0.45"/>
<path d="M40.29 12.55A42.2 42.2 0 0 1 27.13 32.33" fill="none" stroke="#e4e4e4" stroke-width="0.45"/>
<path d="M43.06 13.41A45.1 45.1 0 0 1 28.99 34.55" fill="none" stroke="#e4e4e4" stroke-width="0.45"/>
<path d="M45.83 14.27A48.0 48.0 0 0 1 30.85 36.77" fill="none" stroke="#e4e4e4" stroke-width="0.45"/>
<path d="M48.60 15.14A50.9 50.9 0 0 1 32.72 38.99" fill="none" stroke="#e4e4e4" stroke-width="0.45"/>
<path d="M37.13 11.57A38.8936 38.8936 0 0 1 25.00 29.79L22.37 26.66A34.8 34.8 0 0 0 33.23 10.35Z" fill="#b5282b"/>
<text x="66.49" y="25.47" font-size="5.4" text-anchor="middle" dominant-baseline="central" fill="#000" transform="rotate(111.0 66.49 25.47)">12</text>
<text x="47.61" y="29.77" font-size="6.4" text-anchor="middle" dominant-baseline="central" fill="#000" transform="rotate(122.0 47.61 29.77)">1</text>
<text x="30.26" y="20.14" font-size="5.4" text-anchor="middle" dominant-baseline="central" fill="#000" transform="rotate(123.7 30.26 20.14)">0.0476</text>
<path d="M91.08 28.37A95.4 95.4 0 0 1 61.32 73.08" fill="none" stroke="#000" stroke-width="0.7"/>
<line x1="90.99" y1="28.34" x2="91.94" y2="28.64" stroke="#111" stroke-width="0.4"/>
<line x1="89.88" y1="31.67" x2="90.83" y2="32.00" stroke="#111" stroke-width="0.4"/>
<line x1="88.66" y1="34.96" x2="89.59" y2="35.32" stroke="#111" stroke-width="0.4"/>
<line x1="87.31" y1="38.20" x2="88.23" y2="38.60" stroke="#111" stroke-width="0.4"/>
<line x1="85.84" y1="41.39" x2="86.75" y2="41.82" stroke="#111" stroke-width="0.4"/>
<line x1="84.26" y1="44.52" x2="85.15" y2="44.98" stroke="#111" stroke-width="0.4"/>
<line x1="82.57" y1="47.59" x2="83.43" y2="48.09" stroke="#111" stroke-width="0.4"/>
<line x1="80.76" y1="50.60" x2="81.61" y2="51.13" stroke="#111" stroke-width="0.4"/>
<line x1="78.84" y1="53.54" x2="79.67" y2="54.10" stroke="#111" stroke-width="0.4"/>
<line x1="76.82" y1="56.40" x2="77.62" y2="56.99" stroke="#111" stroke-width="0.4"/>
<line x1="74.69" y1="59.19" x2="75.47" y2="59.81" stroke="#111" stroke-width="0.4"/>
<line x1="72.46" y1="61.90" x2="73.22" y2="62.55" stroke="#111" stroke-width="0.4"/>
<line x1="70.13" y1="64.53" x2="70.87" y2="65.20" stroke="#111" stroke-width="0.4"/>
<line x1="67.71" y1="67.06" x2="68.42" y2="67.77" stroke="#111" stroke-width="0.4"/>
<line x1="65.19" y1="69.51" x2="65.88" y2="70.24" stroke="#111" stroke-width="0.4"/>
<line x1="62.59" y1="71.86" x2="63.25" y2="72.62" stroke="#111" stroke-width="0.4"/>
<line x1="90.99" y1="28.34" x2="92.61" y2="28.85" stroke="#111" stroke-width="0.5"/>
<text x="93.57" y="29.14" font-size="5.2" text-anchor="start" dominant-baseline="central" fill="#000" transform="rotate(17.3 93.57 29.14)">0</text>
<line x1="84.26" y1="44.52" x2="85.77" y2="45.31" stroke="#111" stroke-width="0.5"/>
<text x="86.65" y="45.78" font-size="5.2" text-anchor="start" dominant-baseline="central" fill="#000" transform="rotate(27.8 86.65 45.78)">20</text>
<line x1="74.69" y1="59.19" x2="76.02" y2="60.25" stroke="#111" stroke-width="0.5"/>
<text x="76.81" y="60.87" font-size="5.2" text-anchor="start" dominant-baseline="central" fill="#000" transform="rotate(38.4 76.81 60.87)">40</text>
<line x1="62.59" y1="71.86" x2="63.71" y2="73.15" stroke="#111" stroke-width="0.5"/>
<text x="64.36" y="73.90" font-size="5.2" text-anchor="start" dominant-baseline="central" fill="#000" transform="rotate(48.9 64.36 73.90)">60</text>
<path d="M56.49 76.63A95.2 95.2 0 0 1 6.14 95.00L5.64 87.22A87.4 87.4 0 0 0 51.86 70.35Z" fill="#b5282b"/>
<path d="M50.20 68.09A84.6 84.6 0 0 1 5.46 84.42L5.15 79.63A79.8 79.8 0 0 0 47.35 64.23Z" fill="#e0742a"/>
<path d="M46.29 62.78A78.0 78.0 0 0 1 5.03 77.84L4.25 65.66A65.8 65.8 0 0 0 39.05 52.96Z" fill="#ededed"/>
<path d="M45.93 62.30A77.4 77.4 0 0 1 44.96 63.00L38.57 54.05A66.4 66.4 0 0 0 39.40 53.44Z" fill="#3f9454"/>
<path d="M37.50 50.87A63.2 63.2 0 0 1 4.08 63.07L3.34 51.69A51.8 51.8 0 0 0 30.74 41.69Z" fill="#f6f6f6"/>
<path d="M33.74 45.76A56.85 56.85 0 0 1 3.67 56.73L3.58 55.33A55.45 55.45 0 0 0 32.91 44.63Z" fill="#a64fdd"/>
<path d="M23.26 31.55A39.2 39.2 0 0 1 2.53 39.12" fill="none" stroke="#e4e4e4" stroke-width="0.45"/>
<path d="M25.04 33.97A42.2 42.2 0 0 1 2.72 42.11" fill="none" stroke="#e4e4e4" stroke-width="0.45"/>
<path d="M26.76 36.30A45.1 45.1 0 0 1 2.91 45.01" fill="none" stroke="#e4e4e4" stroke-width="0.45"/>
<path d="M28.48 38.63A48.0 48.0 0 0 1 3.10 47.90" fill="none" stroke="#e4e4e4" stroke-width="0.45"/>
<path d="M30.21 40.97A50.9 50.9 0 0 1 3.28 50.79" fill="none" stroke="#e4e4e4" stroke-width="0.45"/>
<path d="M22.62 30.68A38.111 38.111 0 0 1 2.46 38.03L2.25 34.73A34.8 34.8 0 0 0 20.65 28.01Z" fill="#b5282b"/>
<text x="38.06" y="60.17" font-size="5.4" text-anchor="middle" dominant-baseline="central" fill="#000" transform="rotate(147.7 38.06 60.17)">23</text>
<text x="20.75" y="52.18" font-size="6.4" text-anchor="middle" dominant-baseline="central" fill="#000" transform="rotate(158.3 20.75 52.18)">1</text>
<text x="12.33" y="33.78" font-size="5.4" text-anchor="middle" dominant-baseline="central" font-weight="bold" fill="#000" transform="rotate(159.9 12.33 33.78)">0.0385</text>
<path d="M56.61 76.79A95.4 95.4 0 0 1 6.16 95.20" fill="none" stroke="#000" stroke-width="0.7"/>
<line x1="56.55" y1="76.71" x2="57.15" y2="77.51" stroke="#111" stroke-width="0.4"/>
<line x1="53.69" y1="78.74" x2="54.25" y2="79.56" stroke="#111" stroke-width="0.4"/>
<line x1="50.76" y1="80.66" x2="51.29" y2="81.51" stroke="#111" stroke-width="0.4"/>
<line x1="47.75" y1="82.47" x2="48.25" y2="83.34" stroke="#111" stroke-width="0.4"/>
<line x1="44.68" y1="84.18" x2="45.15" y2="85.06" stroke="#111" stroke-width="0.4"/>
<line x1="41.55" y1="85.76" x2="41.99" y2="86.66" stroke="#111" stroke-width="0.4"/>
<line x1="38.37" y1="87.23" x2="38.77" y2="88.15" stroke="#111" stroke-width="0.4"/>
<line x1="35.13" y1="88.59" x2="35.50" y2="89.52" stroke="#111" stroke-width="0.4"/>
<line x1="31.85" y1="89.82" x2="32.18" y2="90.76" stroke="#111" stroke-width="0.4"/>
<line x1="28.52" y1="90.93" x2="28.82" y2="91.89" stroke="#111" stroke-width="0.4"/>
<line x1="25.15" y1="91.92" x2="25.42" y2="92.89" stroke="#111" stroke-width="0.4"/>
<line x1="21.75" y1="92.78" x2="21.98" y2="93.76" stroke="#111" stroke-width="0.4"/>
<line x1="18.32" y1="93.52" x2="18.51" y2="94.50" stroke="#111" stroke-width="0.4"/>
<line x1="14.87" y1="94.13" x2="15.02" y2="95.12" stroke="#111" stroke-width="0.4"/>
<line x1="11.39" y1="94.62" x2="11.51" y2="95.61" stroke="#111" stroke-width="0.4"/>
<line x1="7.90" y1="94.97" x2="7.98" y2="95.97" stroke="#111" stroke-width="0.4"/>
<line x1="56.55" y1="76.71" x2="57.56" y2="78.07" stroke="#111" stroke-width="0.5"/>
<text x="58.16" y="78.88" font-size="5.2" text-anchor="start" dominant-baseline="central" fill="#000" transform="rotate(53.6 58.16 78.88)">0</text>
<line x1="41.55" y1="85.76" x2="42.30" y2="87.29" stroke="#111" stroke-width="0.5"/>
<text x="42.73" y="88.19" font-size="5.2" text-anchor="start" dominant-baseline="central" fill="#000" transform="rotate(64.1 42.73 88.19)">20</text>
<line x1="25.15" y1="91.92" x2="25.60" y2="93.56" stroke="#111" stroke-width="0.5"/>
<text x="25.86" y="94.53" font-size="5.2" text-anchor="start" dominant-baseline="central" fill="#000" transform="rotate(74.7 25.86 94.53)">40</text>
<line x1="7.90" y1="94.97" x2="8.04" y2="96.67" stroke="#111" stroke-width="0.5"/>
<text x="8.12" y="97.66" font-size="5.2" text-anchor="start" dominant-baseline="central" fill="#000" transform="rotate(85.2 8.12 97.66)">60</text>
<path d="M0.17 95.20A95.2 95.2 0 0 1 -50.45 80.73L-46.31 74.12A87.4 87.4 0 0 0 0.15 87.40Z" fill="#4e7fb4"/>
<path d="M0.15 84.60A84.6 84.6 0 0 1 -44.83 71.74L-42.29 67.67A79.8 79.8 0 0 0 0.14 79.80Z" fill="#80cfe2"/>
<path d="M0.14 78.00A78.0 78.0 0 0 1 -41.33 66.15L-34.87 55.80A65.8 65.8 0 0 0 0.11 65.80Z" fill="#ededed"/>
<path d="M0.14 77.40A77.4 77.4 0 0 1 -0.75 77.40L-0.64 66.40A66.4 66.4 0 0 0 0.12 66.40Z" fill="#3f9454"/>
<path d="M0.11 63.20A63.2 63.2 0 0 1 -33.49 53.60L-27.45 43.93A51.8 51.8 0 0 0 0.09 51.80Z" fill="#f6f6f6"/>
<path d="M0.11 62.75A62.75 62.75 0 0 1 -33.25 53.22L-29.23 46.77A55.15 55.15 0 0 0 0.10 55.15Z" fill="#6a1fb3"/>
<path d="M0.07 39.20A39.2 39.2 0 0 1 -20.77 33.24" fill="none" stroke="#e4e4e4" stroke-width="0.45"/>
<path d="M0.07 42.20A42.2 42.2 0 0 1 -22.36 35.79" fill="none" stroke="#e4e4e4" stroke-width="0.45"/>
<path d="M0.08 45.10A45.1 45.1 0 0 1 -23.90 38.25" fill="none" stroke="#e4e4e4" stroke-width="0.45"/>
<path d="M0.08 48.00A48.0 48.0 0 0 1 -25.44 40.71" fill="none" stroke="#e4e4e4" stroke-width="0.45"/>
<path d="M0.09 50.90A50.9 50.9 0 0 1 -26.97 43.17" fill="none" stroke="#e4e4e4" stroke-width="0.45"/>
<path d="M0.09 49.98A49.979 49.979 0 0 1 -26.48 42.38L-18.44 29.51A34.8 34.8 0 0 0 0.06 34.80Z" fill="#4e7fb4"/>
<text x="-4.66" y="71.05" font-size="5.4" text-anchor="middle" dominant-baseline="central" fill="#000" transform="rotate(183.8 -4.66 71.05)">17</text>
<text x="-14.61" y="57.11" font-size="6.4" text-anchor="middle" dominant-baseline="central" font-weight="bold" fill="#000" transform="rotate(194.3 -14.61 57.11)">3</text>
<text x="-11.51" y="40.28" font-size="5.4" text-anchor="middle" dominant-baseline="central" fill="#000" transform="rotate(195.9 -11.51 40.28)">0.1765</text>
<path d="M0.17 95.40A95.4 95.4 0 0 1 -50.55 80.90" fill="none" stroke="#000" stroke-width="0.7"/>
<line x1="0.17" y1="95.30" x2="0.17" y2="96.30" stroke="#111" stroke-width="0.4"/>
<line x1="-3.28" y1="95.24" x2="-3.31" y2="96.24" stroke="#111" stroke-width="0.4"/>
<line x1="-6.72" y1="95.06" x2="-6.79" y2="96.06" stroke="#111" stroke-width="0.4"/>
<line x1="-10.15" y1="94.76" x2="-10.25" y2="95.75" stroke="#111" stroke-width="0.4"/>
<line x1="-13.57" y1="94.33" x2="-13.71" y2="95.32" stroke="#111" stroke-width="0.4"/>
<line x1="-16.97" y1="93.78" x2="-17.14" y2="94.76" stroke="#111" stroke-width="0.4"/>
<line x1="-20.34" y1="93.10" x2="-20.56" y2="94.08" stroke="#111" stroke-width="0.4"/>
<line x1="-23.69" y1="92.31" x2="-23.94" y2="93.28" stroke="#111" stroke-width="0.4"/>
<line x1="-27.02" y1="91.39" x2="-27.30" y2="92.35" stroke="#111" stroke-width="0.4"/>
<line x1="-30.30" y1="90.35" x2="-30.62" y2="91.30" stroke="#111" stroke-width="0.4"/>
<line x1="-33.55" y1="89.20" x2="-33.90" y2="90.14" stroke="#111" stroke-width="0.4"/>
<line x1="-36.75" y1="87.93" x2="-37.13" y2="88.85" stroke="#111" stroke-width="0.4"/>
<line x1="-39.90" y1="86.54" x2="-40.32" y2="87.45" stroke="#111" stroke-width="0.4"/>
<line x1="-43.00" y1="85.05" x2="-43.45" y2="85.94" stroke="#111" stroke-width="0.4"/>
<line x1="-46.05" y1="83.44" x2="-46.53" y2="84.31" stroke="#111" stroke-width="0.4"/>
<line x1="-49.03" y1="81.72" x2="-49.55" y2="82.58" stroke="#111" stroke-width="0.4"/>
<line x1="0.17" y1="95.30" x2="0.17" y2="97.00" stroke="#111" stroke-width="0.5"/>
<text x="0.17" y="98.00" font-size="5.2" text-anchor="start" dominant-baseline="central" fill="#000" transform="rotate(89.9 0.17 98.00)">0</text>
<line x1="-16.97" y1="93.78" x2="-17.27" y2="95.45" stroke="#111" stroke-width="0.5"/>
<text x="-17.45" y="96.43" font-size="5.2" text-anchor="end" dominant-baseline="central" fill="#000" transform="rotate(280.3 -17.45 96.43)">20</text>
<line x1="-33.55" y1="89.20" x2="-34.14" y2="90.79" stroke="#111" stroke-width="0.5"/>
<text x="-34.50" y="91.73" font-size="5.2" text-anchor="end" dominant-baseline="central" fill="#000" transform="rotate(290.6 -34.50 91.73)">40</text>
<line x1="-49.03" y1="81.72" x2="-49.91" y2="83.18" stroke="#111" stroke-width="0.5"/>
<text x="-50.42" y="84.03" font-size="5.2" text-anchor="end" dominant-baseline="central" fill="#000" transform="rotate(301.0 -50.42 84.03)">60</text>
<path d="M-55.42 77.41A95.2 95.2 0 0 1 -88.51 35.05L-81.26 32.17A87.4 87.4 0 0 0 -50.88 71.07Z" fill="#4e7fb4"/>
<path d="M-49.25 68.79A84.6 84.6 0 0 1 -78.66 31.14L-74.20 29.38A79.8 79.8 0 0 0 -46.45 64.89Z" fill="#62cfa1"/>
<path d="M-45.41 63.42A78.0 78.0 0 0 1 -72.52 28.71L-61.18 24.22A65.8 65.8 0 0 0 -38.30 53.50Z" fill="#ededed"/>
<path d="M-45.06 62.93A77.4 77.4 0 0 1 -46.27 62.04L-39.70 53.23A66.4 66.4 0 0 0 -38.65 53.99Z" fill="#3f9454"/>
<path d="M-36.79 51.39A63.2 63.2 0 0 1 -58.76 23.27L-48.16 19.07A51.8 51.8 0 0 0 -30.15 42.12Z" fill="#f6f6f6"/>
<path d="M-34.81 48.62A59.800000000000004 59.800000000000004 0 0 1 -55.60 22.01L-51.42 20.36A55.300000000000004 55.300000000000004 0 0 0 -32.19 44.96Z" fill="#a64fdd"/>
<path d="M-22.82 31.87A39.2 39.2 0 0 1 -36.45 14.43" fill="none" stroke="#e4e4e4" stroke-width="0.45"/>
<path d="M-24.57 34.31A42.2 42.2 0 0 1 -39.24 15.53" fill="none" stroke="#e4e4e4" stroke-width="0.45"/>
<path d="M-26.25 36.67A45.1 45.1 0 0 1 -41.93 16.60" fill="none" stroke="#e4e4e4" stroke-width="0.45"/>
<path d="M-27.94 39.03A48.0 48.0 0 0 1 -44.63 17.67" fill="none" stroke="#e4e4e4" stroke-width="0.45"/>
<path d="M-29.63 41.39A50.9 50.9 0 0 1 -47.33 18.74" fill="none" stroke="#e4e4e4" stroke-width="0.45"/>
<path d="M-23.71 33.12A40.733999999999995 40.733999999999995 0 0 1 -37.87 15.00L-32.36 12.81A34.8 34.8 0 0 0 -20.26 28.30Z" fill="#4e7fb4"/>
<text x="-45.69" y="54.61" font-size="5.4" text-anchor="middle" dominant-baseline="central" fill="#000" transform="rotate(219.9 -45.69 54.61)">29</text>
<text x="-44.32" y="36.71" font-size="6.4" text-anchor="middle" dominant-baseline="central" font-weight="bold" fill="#000" transform="rotate(230.4 -44.32 36.71)">2</text>
<text x="-29.37" y="22.94" font-size="5.4" text-anchor="middle" dominant-baseline="central" fill="#000" transform="rotate(232.0 -29.37 22.94)">0.0690</text>
<path d="M-55.53 77.57A95.4 95.4 0 0 1 -88.70 35.12" fill="none" stroke="#000" stroke-width="0.7"/>
<line x1="-55.48" y1="77.49" x2="-56.06" y2="78.30" stroke="#111" stroke-width="0.4"/>
<line x1="-58.30" y1="75.39" x2="-58.91" y2="76.18" stroke="#111" stroke-width="0.4"/>
<line x1="-61.04" y1="73.18" x2="-61.68" y2="73.95" stroke="#111" stroke-width="0.4"/>
<line x1="-63.70" y1="70.88" x2="-64.37" y2="71.62" stroke="#111" stroke-width="0.4"/>
<line x1="-66.28" y1="68.48" x2="-66.97" y2="69.20" stroke="#111" stroke-width="0.4"/>
<line x1="-68.76" y1="65.98" x2="-69.48" y2="66.68" stroke="#111" stroke-width="0.4"/>
<line x1="-71.15" y1="63.40" x2="-71.90" y2="64.07" stroke="#111" stroke-width="0.4"/>
<line x1="-73.44" y1="60.73" x2="-74.21" y2="61.37" stroke="#111" stroke-width="0.4"/>
<line x1="-75.64" y1="57.98" x2="-76.43" y2="58.59" stroke="#111" stroke-width="0.4"/>
<line x1="-77.73" y1="55.14" x2="-78.54" y2="55.72" stroke="#111" stroke-width="0.4"/>
<line x1="-79.71" y1="52.24" x2="-80.54" y2="52.78" stroke="#111" stroke-width="0.4"/>
<line x1="-81.58" y1="49.26" x2="-82.44" y2="49.77" stroke="#111" stroke-width="0.4"/>
<line x1="-83.35" y1="46.21" x2="-84.22" y2="46.70" stroke="#111" stroke-width="0.4"/>
<line x1="-85.00" y1="43.10" x2="-85.89" y2="43.55" stroke="#111" stroke-width="0.4"/>
<line x1="-86.53" y1="39.93" x2="-87.44" y2="40.35" stroke="#111" stroke-width="0.4"/>
<line x1="-87.94" y1="36.71" x2="-88.87" y2="37.10" stroke="#111" stroke-width="0.4"/>
<line x1="-55.48" y1="77.49" x2="-56.47" y2="78.87" stroke="#111" stroke-width="0.5"/>
<text x="-57.05" y="79.68" font-size="5.2" text-anchor="end" dominant-baseline="central" fill="#000" transform="rotate(305.6 -57.05 79.68)">0</text>
<line x1="-68.76" y1="65.98" x2="-69.99" y2="67.16" stroke="#111" stroke-width="0.5"/>
<text x="-70.71" y="67.85" font-size="5.2" text-anchor="end" dominant-baseline="central" fill="#000" transform="rotate(316.2 -70.71 67.85)">20</text>
<line x1="-79.71" y1="52.24" x2="-81.13" y2="53.17" stroke="#111" stroke-width="0.5"/>
<text x="-81.97" y="53.72" font-size="5.2" text-anchor="end" dominant-baseline="central" fill="#000" transform="rotate(326.8 -81.97 53.72)">40</text>
<line x1="-87.94" y1="36.71" x2="-89.51" y2="37.37" stroke="#111" stroke-width="0.5"/>
<text x="-90.44" y="37.75" font-size="5.2" text-anchor="end" dominant-baseline="central" fill="#000" transform="rotate(337.3 -90.44 37.75)">60</text>
<path d="M-90.54 29.42A95.2 95.2 0 0 1 -92.37 -23.03L-84.80 -21.14A87.4 87.4 0 0 0 -83.12 27.01Z" fill="#4e7fb4"/>
<path d="M-80.46 26.14A84.6 84.6 0 0 1 -82.09 -20.47L-77.43 -19.31A79.8 79.8 0 0 0 -75.89 24.66Z" fill="#a4c0ef"/>
<path d="M-74.18 24.10A78.0 78.0 0 0 1 -75.68 -18.87L-63.85 -15.92A65.8 65.8 0 0 0 -62.58 20.33Z" fill="#ededed"/>
<path d="M-73.61 23.92A77.4 77.4 0 0 1 -74.33 21.58L-63.77 18.51A66.4 66.4 0 0 0 -63.15 20.52Z" fill="#3f9454"/>
<path d="M-60.11 19.53A63.2 63.2 0 0 1 -61.32 -15.29L-50.26 -12.53A51.8 51.8 0 0 0 -49.26 16.01Z" fill="#f6f6f6"/>
<path d="M-54.07 17.57A56.85 56.85 0 0 1 -55.16 -13.75L-53.80 -13.41A55.45 55.45 0 0 0 -52.74 17.13Z" fill="#d8a6ee"/>
<path d="M-37.28 12.11A39.2 39.2 0 0 1 -38.04 -9.48" fill="none" stroke="#e4e4e4" stroke-width="0.45"/>
<path d="M-40.13 13.04A42.2 42.2 0 0 1 -40.95 -10.21" fill="none" stroke="#e4e4e4" stroke-width="0.45"/>
<path d="M-42.89 13.94A45.1 45.1 0 0 1 -43.76 -10.91" fill="none" stroke="#e4e4e4" stroke-width="0.45"/>
<path d="M-45.65 14.83A48.0 48.0 0 0 1 -46.57 -11.61" fill="none" stroke="#e4e4e4" stroke-width="0.45"/>
<path d="M-48.41 15.73A50.9 50.9 0 0 1 -49.39 -12.31" fill="none" stroke="#e4e4e4" stroke-width="0.45"/>
<path d="M-34.29 11.14A36.0556 36.0556 0 0 1 -34.98 -8.72L-33.77 -8.42A34.8 34.8 0 0 0 -33.10 10.75Z" fill="#4e7fb4"/>
<text x="-69.38" y="16.01" font-size="5.4" text-anchor="middle" dominant-baseline="central" fill="#000" transform="rotate(257.0 -69.38 16.01)">47</text>
<text x="-56.04" y="3.53" font-size="6.4" text-anchor="middle" dominant-baseline="central" fill="#000" transform="rotate(266.4 -56.04 3.53)">1</text>
<text x="-35.08" y="1.22" font-size="5.4" text-anchor="middle" dominant-baseline="central" font-weight="bold" fill="#1b3d6e" transform="rotate(268.0 -35.08 1.22)">0.0146</text>
<path d="M-90.73 29.48A95.4 95.4 0 0 1 -92.57 -23.08" fill="none" stroke="#000" stroke-width="0.7"/>
<line x1="-90.64" y1="29.45" x2="-91.59" y2="29.76" stroke="#111" stroke-width="0.4"/>
<line x1="-91.64" y1="26.17" x2="-92.60" y2="26.44" stroke="#111" stroke-width="0.4"/>
<line x1="-92.52" y1="22.85" x2="-93.49" y2="23.09" stroke="#111" stroke-width="0.4"/>
<line x1="-93.28" y1="19.50" x2="-94.26" y2="19.70" stroke="#111" stroke-width="0.4"/>
<line x1="-93.93" y1="16.13" x2="-94.91" y2="16.29" stroke="#111" stroke-width="0.4"/>
<line x1="-94.45" y1="12.73" x2="-95.44" y2="12.87" stroke="#111" stroke-width="0.4"/>
<line x1="-94.84" y1="9.32" x2="-95.84" y2="9.42" stroke="#111" stroke-width="0.4"/>
<line x1="-95.12" y1="5.90" x2="-96.12" y2="5.96" stroke="#111" stroke-width="0.4"/>
<line x1="-95.27" y1="2.47" x2="-96.27" y2="2.49" stroke="#111" stroke-width="0.4"/>
<line x1="-95.30" y1="-0.97" x2="-96.30" y2="-0.98" stroke="#111" stroke-width="0.4"/>
<line x1="-95.20" y1="-4.40" x2="-96.20" y2="-4.44" stroke="#111" stroke-width="0.4"/>
<line x1="-94.98" y1="-7.82" x2="-95.97" y2="-7.91" stroke="#111" stroke-width="0.4"/>
<line x1="-94.63" y1="-11.24" x2="-95.63" y2="-11.36" stroke="#111" stroke-width="0.4"/>
<line x1="-94.17" y1="-14.64" x2="-95.16" y2="-14.80" stroke="#111" stroke-width="0.4"/>
<line x1="-93.58" y1="-18.03" x2="-94.56" y2="-18.22" stroke="#111" stroke-width="0.4"/>
<line x1="-92.87" y1="-21.39" x2="-93.84" y2="-21.61" stroke="#111" stroke-width="0.4"/>
<line x1="-90.64" y1="29.45" x2="-92.25" y2="29.97" stroke="#111" stroke-width="0.5"/>
<text x="-93.20" y="30.28" font-size="5.2" text-anchor="end" dominant-baseline="central" fill="#000" transform="rotate(342.0 -93.20 30.28)">0</text>
<line x1="-94.45" y1="12.73" x2="-96.13" y2="12.96" stroke="#111" stroke-width="0.5"/>
<text x="-97.12" y="13.09" font-size="5.2" text-anchor="end" dominant-baseline="central" fill="#000" transform="rotate(352.3 -97.12 13.09)">40</text>
<line x1="-95.20" y1="-4.40" x2="-96.90" y2="-4.48" stroke="#111" stroke-width="0.5"/>
<text x="-97.90" y="-4.52" font-size="5.2" text-anchor="end" dominant-baseline="central" fill="#000" transform="rotate(362.6 -97.90 -4.52)">80</text>
<line x1="-92.87" y1="-21.39" x2="-94.53" y2="-21.77" stroke="#111" stroke-width="0.5"/>
<text x="-95.50" y="-21.99" font-size="5.2" text-anchor="end" dominant-baseline="central" fill="#000" transform="rotate(373.0 -95.50 -21.99)">120</text>
<path d="M-90.74 -28.79A95.2 95.2 0 0 1 -61.95 -72.28L-56.88 -66.36A87.4 87.4 0 0 0 -83.31 -26.43Z" fill="#4e7fb4"/>
<path d="M-80.64 -25.58A84.6 84.6 0 0 1 -55.06 -64.23L-51.93 -60.59A79.8 79.8 0 0 0 -76.06 -24.13Z" fill="#a6de8e"/>
<path d="M-74.35 -23.58A78.0 78.0 0 0 1 -50.76 -59.22L-42.82 -49.96A65.8 65.8 0 0 0 -62.72 -19.90Z" fill="#ededed"/>
<path d="M-73.78 -23.40A77.4 77.4 0 0 1 -73.19 -25.18L-62.79 -21.60A66.4 66.4 0 0 0 -63.29 -20.08Z" fill="#3f9454"/>
<path d="M-60.24 -19.11A63.2 63.2 0 0 1 -41.13 -47.99L-33.71 -39.33A51.8 51.8 0 0 0 -49.38 -15.66Z" fill="#f6f6f6"/>
<path d="M-54.19 -17.19A56.85 56.85 0 0 1 -37.00 -43.16L-36.09 -42.10A55.45 55.45 0 0 0 -52.85 -16.77Z" fill="#b56ae3"/>
<path d="M-37.37 -11.85A39.2 39.2 0 0 1 -25.51 -29.76" fill="none" stroke="#e4e4e4" stroke-width="0.45"/>
<path d="M-40.22 -12.76A42.2 42.2 0 0 1 -27.46 -32.04" fill="none" stroke="#e4e4e4" stroke-width="0.45"/>
<path d="M-42.99 -13.64A45.1 45.1 0 0 1 -29.35 -34.24" fill="none" stroke="#e4e4e4" stroke-width="0.45"/>
<path d="M-45.75 -14.51A48.0 48.0 0 0 1 -31.24 -36.45" fill="none" stroke="#e4e4e4" stroke-width="0.45"/>
<path d="M-48.52 -15.39A50.9 50.9 0 0 1 -33.12 -38.65" fill="none" stroke="#e4e4e4" stroke-width="0.45"/>
<path d="M-35.43 -11.24A37.1736 37.1736 0 0 1 -24.19 -28.22L-22.65 -26.42A34.8 34.8 0 0 0 -33.17 -10.52Z" fill="#4e7fb4"/>
<text x="-65.93" y="-26.89" font-size="5.4" text-anchor="middle" dominant-baseline="central" fill="#000" transform="rotate(292.2 -65.93 -26.89)">36</text>
<text x="-47.66" y="-29.68" font-size="6.4" text-anchor="middle" dominant-baseline="central" fill="#000" transform="rotate(301.9 -47.66 -29.68)">1</text>
<text x="-29.59" y="-19.59" font-size="5.4" text-anchor="middle" dominant-baseline="central" font-weight="bold" fill="#1b3d6e" transform="rotate(303.5 -29.59 -19.59)">0.0276</text>
<path d="M-90.93 -28.85A95.4 95.4 0 0 1 -62.08 -72.43" fill="none" stroke="#000" stroke-width="0.7"/>
<line x1="-90.84" y1="-28.82" x2="-91.79" y2="-29.12" stroke="#111" stroke-width="0.4"/>
<line x1="-89.76" y1="-32.03" x2="-90.70" y2="-32.36" stroke="#111" stroke-width="0.4"/>
<line x1="-88.56" y1="-35.20" x2="-89.49" y2="-35.57" stroke="#111" stroke-width="0.4"/>
<line x1="-87.25" y1="-38.33" x2="-88.17" y2="-38.73" stroke="#111" stroke-width="0.4"/>
<line x1="-85.83" y1="-41.41" x2="-86.73" y2="-41.84" stroke="#111" stroke-width="0.4"/>
<line x1="-84.31" y1="-44.44" x2="-85.19" y2="-44.90" stroke="#111" stroke-width="0.4"/>
<line x1="-82.67" y1="-47.41" x2="-83.54" y2="-47.90" stroke="#111" stroke-width="0.4"/>
<line x1="-80.93" y1="-50.32" x2="-81.78" y2="-50.84" stroke="#111" stroke-width="0.4"/>
<line x1="-79.09" y1="-53.16" x2="-79.92" y2="-53.72" stroke="#111" stroke-width="0.4"/>
<line x1="-77.15" y1="-55.94" x2="-77.96" y2="-56.53" stroke="#111" stroke-width="0.4"/>
<line x1="-75.11" y1="-58.65" x2="-75.90" y2="-59.27" stroke="#111" stroke-width="0.4"/>
<line x1="-72.98" y1="-61.29" x2="-73.75" y2="-61.93" stroke="#111" stroke-width="0.4"/>
<line x1="-70.75" y1="-63.84" x2="-71.50" y2="-64.51" stroke="#111" stroke-width="0.4"/>
<line x1="-68.44" y1="-66.32" x2="-69.16" y2="-67.02" stroke="#111" stroke-width="0.4"/>
<line x1="-66.04" y1="-68.71" x2="-66.73" y2="-69.43" stroke="#111" stroke-width="0.4"/>
<line x1="-63.55" y1="-71.02" x2="-64.22" y2="-71.76" stroke="#111" stroke-width="0.4"/>
<line x1="-90.84" y1="-28.82" x2="-92.46" y2="-29.33" stroke="#111" stroke-width="0.5"/>
<text x="-93.41" y="-29.63" font-size="5.2" text-anchor="end" dominant-baseline="central" fill="#000" transform="rotate(377.6 -93.41 -29.63)">0</text>
<line x1="-84.31" y1="-44.44" x2="-85.81" y2="-45.23" stroke="#111" stroke-width="0.5"/>
<text x="-86.70" y="-45.69" font-size="5.2" text-anchor="end" dominant-baseline="central" fill="#000" transform="rotate(387.8 -86.70 -45.69)">25</text>
<line x1="-75.11" y1="-58.65" x2="-76.45" y2="-59.70" stroke="#111" stroke-width="0.5"/>
<text x="-77.24" y="-60.31" font-size="5.2" text-anchor="end" dominant-baseline="central" fill="#000" transform="rotate(398.0 -77.24 -60.31)">50</text>
<line x1="-63.55" y1="-71.02" x2="-64.68" y2="-72.29" stroke="#111" stroke-width="0.5"/>
<text x="-65.35" y="-73.03" font-size="5.2" text-anchor="end" dominant-baseline="central" fill="#000" transform="rotate(408.2 -65.35 -73.03)">75</text>
<path d="M-57.29 -76.03A95.2 95.2 0 0 1 -6.14 -95.00L-5.64 -87.22A87.4 87.4 0 0 0 -52.60 -69.80Z" fill="#4e7fb4"/>
<path d="M-50.91 -67.56A84.6 84.6 0 0 1 -5.46 -84.42L-5.15 -79.63A79.8 79.8 0 0 0 -48.02 -63.73Z" fill="#d7e0ee"/>
<path d="M-46.94 -62.29A78.0 78.0 0 0 1 -5.03 -77.84L-4.25 -65.66A65.8 65.8 0 0 0 -39.60 -52.55Z" fill="#ededed"/>
<path d="M-46.58 -61.81A77.4 77.4 0 0 1 -45.07 -62.92L-38.67 -53.98A66.4 66.4 0 0 0 -39.96 -53.03Z" fill="#3f9454"/>
<path d="M-38.03 -50.47A63.2 63.2 0 0 1 -4.08 -63.07L-3.34 -51.69A51.8 51.8 0 0 0 -31.17 -41.37Z" fill="#f6f6f6"/>
<path d="M-34.21 -45.40A56.85 56.85 0 0 1 -3.67 -56.73L-3.58 -55.33A55.45 55.45 0 0 0 -33.37 -44.28Z" fill="#b56ae3"/>
<path d="M-23.59 -31.31A39.2 39.2 0 0 1 -2.53 -39.12" fill="none" stroke="#e4e4e4" stroke-width="0.45"/>
<path d="M-25.40 -33.70A42.2 42.2 0 0 1 -2.72 -42.11" fill="none" stroke="#e4e4e4" stroke-width="0.45"/>
<path d="M-27.14 -36.02A45.1 45.1 0 0 1 -2.91 -45.01" fill="none" stroke="#e4e4e4" stroke-width="0.45"/>
<path d="M-28.89 -38.33A48.0 48.0 0 0 1 -3.10 -47.90" fill="none" stroke="#e4e4e4" stroke-width="0.45"/>
<path d="M-30.63 -40.65A50.9 50.9 0 0 1 -3.28 -50.79" fill="none" stroke="#e4e4e4" stroke-width="0.45"/>
<path d="M-22.38 -29.70A37.190799999999996 37.190799999999996 0 0 1 -2.40 -37.11L-2.25 -34.73A34.8 34.8 0 0 0 -20.94 -27.79Z" fill="#4e7fb4"/>
<text x="-38.17" y="-60.11" font-size="5.4" text-anchor="middle" dominant-baseline="central" fill="#000" transform="rotate(327.6 -38.17 -60.11)">36</text>
<text x="-21.05" y="-52.06" font-size="6.4" text-anchor="middle" dominant-baseline="central" fill="#000" transform="rotate(338.0 -21.05 -52.06)">1</text>
<text x="-12.34" y="-33.28" font-size="5.4" text-anchor="middle" dominant-baseline="central" font-weight="bold" fill="#1b3d6e" transform="rotate(339.6 -12.34 -33.28)">0.0278</text>
<path d="M-57.41 -76.19A95.4 95.4 0 0 1 -6.16 -95.20" fill="none" stroke="#000" stroke-width="0.7"/>
<line x1="-57.35" y1="-76.11" x2="-57.95" y2="-76.91" stroke="#111" stroke-width="0.4"/>
<line x1="-55.20" y1="-77.68" x2="-55.78" y2="-78.50" stroke="#111" stroke-width="0.4"/>
<line x1="-53.01" y1="-79.19" x2="-53.57" y2="-80.03" stroke="#111" stroke-width="0.4"/>
<line x1="-50.78" y1="-80.64" x2="-51.31" y2="-81.49" stroke="#111" stroke-width="0.4"/>
<line x1="-48.51" y1="-82.03" x2="-49.02" y2="-82.89" stroke="#111" stroke-width="0.4"/>
<line x1="-46.20" y1="-83.36" x2="-46.68" y2="-84.23" stroke="#111" stroke-width="0.4"/>
<line x1="-43.85" y1="-84.61" x2="-44.31" y2="-85.50" stroke="#111" stroke-width="0.4"/>
<line x1="-41.47" y1="-85.81" x2="-41.90" y2="-86.71" stroke="#111" stroke-width="0.4"/>
<line x1="-39.05" y1="-86.93" x2="-39.46" y2="-87.84" stroke="#111" stroke-width="0.4"/>
<line x1="-36.61" y1="-87.99" x2="-36.99" y2="-88.91" stroke="#111" stroke-width="0.4"/>
<line x1="-34.14" y1="-88.98" x2="-34.50" y2="-89.91" stroke="#111" stroke-width="0.4"/>
<line x1="-31.64" y1="-89.89" x2="-31.97" y2="-90.84" stroke="#111" stroke-width="0.4"/>
<line x1="-29.11" y1="-90.74" x2="-29.42" y2="-91.70" stroke="#111" stroke-width="0.4"/>
<line x1="-26.57" y1="-91.52" x2="-26.85" y2="-92.48" stroke="#111" stroke-width="0.4"/>
<line x1="-24.00" y1="-92.23" x2="-24.25" y2="-93.20" stroke="#111" stroke-width="0.4"/>
<line x1="-21.41" y1="-92.86" x2="-21.64" y2="-93.84" stroke="#111" stroke-width="0.4"/>
<line x1="-18.81" y1="-93.42" x2="-19.01" y2="-94.41" stroke="#111" stroke-width="0.4"/>
<line x1="-16.19" y1="-93.91" x2="-16.36" y2="-94.90" stroke="#111" stroke-width="0.4"/>
<line x1="-13.56" y1="-94.33" x2="-13.71" y2="-95.32" stroke="#111" stroke-width="0.4"/>
<line x1="-10.92" y1="-94.67" x2="-11.04" y2="-95.67" stroke="#111" stroke-width="0.4"/>
<line x1="-8.27" y1="-94.94" x2="-8.36" y2="-95.94" stroke="#111" stroke-width="0.4"/>
<line x1="-57.35" y1="-76.11" x2="-58.38" y2="-77.47" stroke="#111" stroke-width="0.5"/>
<text x="-58.98" y="-78.27" font-size="5.2" text-anchor="end" dominant-baseline="central" fill="#000" transform="rotate(413.0 -58.98 -78.27)">0</text>
<line x1="-46.20" y1="-83.36" x2="-47.02" y2="-84.84" stroke="#111" stroke-width="0.5"/>
<text x="-47.50" y="-85.72" font-size="5.2" text-anchor="end" dominant-baseline="central" fill="#000" transform="rotate(421.0 -47.50 -85.72)">25</text>
<line x1="-34.14" y1="-88.98" x2="-34.75" y2="-90.56" stroke="#111" stroke-width="0.5"/>
<text x="-35.10" y="-91.50" font-size="5.2" text-anchor="end" dominant-baseline="central" fill="#000" transform="rotate(429.0 -35.10 -91.50)">50</text>
<line x1="-21.41" y1="-92.86" x2="-21.80" y2="-94.52" stroke="#111" stroke-width="0.5"/>
<text x="-22.02" y="-95.49" font-size="5.2" text-anchor="end" dominant-baseline="central" fill="#000" transform="rotate(437.0 -22.02 -95.49)">75</text>
<line x1="-8.27" y1="-94.94" x2="-8.42" y2="-96.63" stroke="#111" stroke-width="0.5"/>
<text x="-8.51" y="-97.63" font-size="5.2" text-anchor="end" dominant-baseline="central" fill="#000" transform="rotate(445.0 -8.51 -97.63)">100</text>
</g>
<text x="441.10" y="304.60" font-size="5.0" text-anchor="start" font-weight="bold" fill="#111">TRACK NFORMATION</text>
<text x="443.10" y="312.90" font-size="4.95" text-anchor="start" fill="#222">Track 1: Category ID</text>
<text x="443.10" y="319.60" font-size="4.95" text-anchor="start" fill="#222">Track 2: Pathway Colors</text>
<text x="443.10" y="324.80" font-size="4.95" text-anchor="start" fill="#222">Track 3: Total Metabolites</text>
<text x="443.10" y="330.40" font-size="4.95" text-anchor="start" fill="#222">Track 4: Hits + P−value</text>
<text x="442.30" y="336.80" font-size="4.95" text-anchor="start" fill="#222">Track 5: Rich Factor</text>
<text x="574.80" y="229.40" font-size="6.3" text-anchor="start" fill="#222">Category</text>
<rect x="568.9" y="235.2" width="4.5" height="3.6" fill="#b5282b" stroke="#333" stroke-width="0.3"/>
<rect x="568.9" y="242.7" width="4.5" height="3.6" fill="#4e7fb4" stroke="#333" stroke-width="0.3"/>
<text x="579.10" y="239.20" font-size="5.6" text-anchor="start" fill="#222">Disease</text>
<text x="579.10" y="246.60" font-size="5.6" text-anchor="start" fill="#222">Metabolism</text>
<text x="568.30" y="256.60" font-size="6.2" text-anchor="start" font-weight="bold" fill="#111">−log10(P−value)</text>
<defs><linearGradient id="pg" x1="0" y1="0" x2="0" y2="1"><stop offset="0" stop-color="#7a22bf"/><stop offset="0.35" stop-color="#a23fd6"/><stop offset="0.7" stop-color="#c98ae6"/><stop offset="1" stop-color="#f1e4f7"/></linearGradient></defs>
<rect x="589.9" y="263.7" width="5.4" height="108" fill="url(#pg)"/>
<line x1="589.9" y1="291.0" x2="591.2" y2="291.0" stroke="#fff" stroke-width="0.6"/><line x1="594.0" y1="291.0" x2="595.3" y2="291.0" stroke="#fff" stroke-width="0.6"/>
<line x1="589.9" y1="317.2" x2="591.2" y2="317.2" stroke="#fff" stroke-width="0.6"/><line x1="594.0" y1="317.2" x2="595.3" y2="317.2" stroke="#fff" stroke-width="0.6"/>
<line x1="589.9" y1="342.8" x2="591.2" y2="342.8" stroke="#fff" stroke-width="0.6"/><line x1="594.0" y1="342.8" x2="595.3" y2="342.8" stroke="#fff" stroke-width="0.6"/>
<text x="597.40" y="297.50" font-size="7.2" text-anchor="start" fill="#222">3</text>
<text x="597.40" y="322.70" font-size="7.2" text-anchor="start" fill="#222">2</text>
<text x="597.40" y="347.70" font-size="7.2" text-anchor="start" fill="#222">1</text>
<text x="597.40" y="372.90" font-size="7.2" text-anchor="start" fill="#222">0</text>
<rect x="549.3" y="388.00" width="3.9" height="3.2" fill="#f6e4d2"/>
<text x="557.70" y="391.60" font-size="5.75" text-anchor="start" fill="#222">1. Sepsis</text>
<rect x="549.3" y="394.85" width="3.9" height="3.2" fill="#e9d66e"/>
<text x="557.70" y="398.45" font-size="5.75" text-anchor="start" fill="#222">2. Essential hypertension</text>
<rect x="549.3" y="401.70" width="3.9" height="3.2" fill="#f4c5c9"/>
<text x="557.70" y="405.30" font-size="5.75" text-anchor="start" fill="#222">3. Obesity</text>
<rect x="549.3" y="408.55" width="3.9" height="3.2" fill="#bcb98f"/>
<text x="557.70" y="412.15" font-size="5.75" text-anchor="start" fill="#222">4. Hypertension</text>
<rect x="549.3" y="415.40" width="3.9" height="3.2" fill="#e0742a"/>
<text x="557.70" y="419.00" font-size="5.75" text-anchor="start" fill="#222">5. Isovaleric acidemia</text>
<rect x="549.3" y="422.25" width="3.9" height="3.2" fill="#80cfe2"/>
<text x="557.70" y="425.85" font-size="5.75" text-anchor="start" fill="#222">6. Alpha linolenic acid and linoleic acid metabolism</text>
<rect x="549.3" y="429.10" width="3.9" height="3.2" fill="#62cfa1"/>
<text x="557.70" y="432.70" font-size="5.75" text-anchor="start" fill="#222">7. Phospholipid biosynthesis</text>
<rect x="549.3" y="435.95" width="3.9" height="3.2" fill="#a4c0ef"/>
<text x="557.70" y="439.55" font-size="5.75" text-anchor="start" fill="#222">8. Arachidonic acid metabolism</text>
<rect x="549.3" y="442.80" width="3.9" height="3.2" fill="#a6de8e"/>
<text x="557.70" y="446.40" font-size="5.0" text-anchor="start" fill="#222">9. Glycerophospholipid metaboli</text>
<rect x="549.3" y="449.65" width="3.9" height="3.2" fill="#d7e0ee"/>
<text x="557.70" y="453.25" font-size="5.75" text-anchor="start" fill="#222">10. Biosynthesis of unsaturated</text>
</svg></body></html>
